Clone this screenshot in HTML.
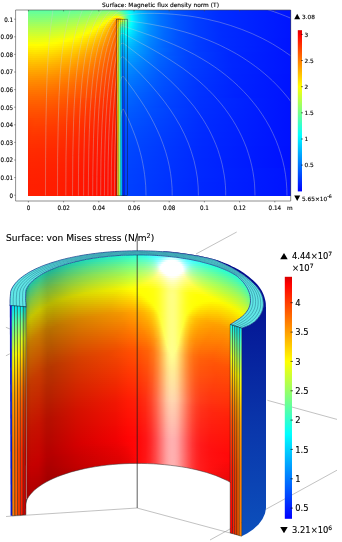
<!DOCTYPE html>
<html><head><meta charset="utf-8"><title>COMSOL plots</title><style>html,body{margin:0;padding:0;background:#fff}</style></head><body>
<svg width="342" height="542" viewBox="0 0 342 542" style="display:block">
<rect width="342" height="542" fill="#fff"/>
<defs><linearGradient id="f0"><stop offset="0" stop-color="#62ff9d"/><stop offset="0.05528" stop-color="#60ff9f"/><stop offset="0.1525" stop-color="#66ff99"/><stop offset="0.223" stop-color="#70ff8f"/><stop offset="0.3012" stop-color="#81ff7e"/><stop offset="0.3202" stop-color="#80ff7f"/><stop offset="0.3336" stop-color="#79ff86"/><stop offset="0.3469" stop-color="#65ff9a"/><stop offset="0.3584" stop-color="#4affb5"/><stop offset="0.3831" stop-color="#03fffc"/><stop offset="0.4175" stop-color="#00c1ff"/><stop offset="0.4537" stop-color="#0095ff"/><stop offset="0.5013" stop-color="#0071ff"/><stop offset="0.5604" stop-color="#0055ff"/><stop offset="0.6348" stop-color="#003eff"/><stop offset="0.7301" stop-color="#002cff"/><stop offset="0.9989" stop-color="#0015ff"/></linearGradient><linearGradient id="f1"><stop offset="0" stop-color="#6bff94"/><stop offset="0.08387" stop-color="#6bff94"/><stop offset="0.183" stop-color="#75ff8a"/><stop offset="0.244" stop-color="#83ff7c"/><stop offset="0.3126" stop-color="#9eff61"/><stop offset="0.3279" stop-color="#a0ff5f"/><stop offset="0.3393" stop-color="#97ff68"/><stop offset="0.3507" stop-color="#80ff7f"/><stop offset="0.387" stop-color="#04fffb"/><stop offset="0.3889" stop-color="#00feff"/><stop offset="0.4041" stop-color="#00dcff"/><stop offset="0.4194" stop-color="#00c2ff"/><stop offset="0.4556" stop-color="#0095ff"/><stop offset="0.5032" stop-color="#0071ff"/><stop offset="0.5623" stop-color="#0054ff"/><stop offset="0.6367" stop-color="#003eff"/><stop offset="0.7301" stop-color="#002cff"/><stop offset="0.9989" stop-color="#0015ff"/></linearGradient><linearGradient id="f2"><stop offset="0" stop-color="#75ff8a"/><stop offset="0.1067" stop-color="#77ff88"/><stop offset="0.2097" stop-color="#87ff78"/><stop offset="0.2707" stop-color="#9eff61"/><stop offset="0.3336" stop-color="#caff35"/><stop offset="0.3431" stop-color="#c1ff3e"/><stop offset="0.3507" stop-color="#adff52"/><stop offset="0.3584" stop-color="#8eff71"/><stop offset="0.3793" stop-color="#2bffd4"/><stop offset="0.3908" stop-color="#01fffe"/><stop offset="0.3927" stop-color="#00fbff"/><stop offset="0.406" stop-color="#00dcff"/><stop offset="0.4213" stop-color="#00c1ff"/><stop offset="0.4575" stop-color="#0095ff"/><stop offset="0.5051" stop-color="#0070ff"/><stop offset="0.5642" stop-color="#0054ff"/><stop offset="0.6386" stop-color="#003eff"/><stop offset="0.732" stop-color="#002cff"/><stop offset="0.9989" stop-color="#0015ff"/></linearGradient><linearGradient id="f3"><stop offset="0" stop-color="#7eff81"/><stop offset="0.04384" stop-color="#7dff82"/><stop offset="0.1239" stop-color="#83ff7c"/><stop offset="0.1811" stop-color="#8cff73"/><stop offset="0.2268" stop-color="#9aff65"/><stop offset="0.2592" stop-color="#a9ff56"/><stop offset="0.284" stop-color="#baff45"/><stop offset="0.3088" stop-color="#d6ff29"/><stop offset="0.3298" stop-color="#fdff02"/><stop offset="0.3374" stop-color="#fff600"/><stop offset="0.345" stop-color="#fffe00"/><stop offset="0.3507" stop-color="#ebff14"/><stop offset="0.3565" stop-color="#cdff32"/><stop offset="0.3698" stop-color="#6eff91"/><stop offset="0.3774" stop-color="#40ffbf"/><stop offset="0.3889" stop-color="#0efff1"/><stop offset="0.3927" stop-color="#01fffe"/><stop offset="0.3946" stop-color="#00fbff"/><stop offset="0.406" stop-color="#00dfff"/><stop offset="0.4213" stop-color="#00c3ff"/><stop offset="0.4575" stop-color="#0096ff"/><stop offset="0.5051" stop-color="#0071ff"/><stop offset="0.5642" stop-color="#0054ff"/><stop offset="0.6386" stop-color="#003eff"/><stop offset="0.732" stop-color="#002cff"/><stop offset="0.9989" stop-color="#0015ff"/></linearGradient><linearGradient id="f4"><stop offset="0" stop-color="#88ff77"/><stop offset="0.03812" stop-color="#86ff79"/><stop offset="0.1144" stop-color="#8cff73"/><stop offset="0.2135" stop-color="#a2ff5d"/><stop offset="0.2478" stop-color="#b2ff4d"/><stop offset="0.2745" stop-color="#c5ff3a"/><stop offset="0.2955" stop-color="#dcff23"/><stop offset="0.3126" stop-color="#fbff04"/><stop offset="0.3164" stop-color="#fffa00"/><stop offset="0.3241" stop-color="#ffe300"/><stop offset="0.3298" stop-color="#ffca00"/><stop offset="0.3355" stop-color="#ffa900"/><stop offset="0.3393" stop-color="#ffa200"/><stop offset="0.3431" stop-color="#ffa800"/><stop offset="0.3469" stop-color="#ffb500"/><stop offset="0.3526" stop-color="#ffd500"/><stop offset="0.3584" stop-color="#fffe00"/><stop offset="0.3622" stop-color="#d8ff27"/><stop offset="0.3679" stop-color="#91ff6e"/><stop offset="0.3736" stop-color="#60ff9f"/><stop offset="0.3831" stop-color="#2affd5"/><stop offset="0.3908" stop-color="#0bfff4"/><stop offset="0.3946" stop-color="#00fdff"/><stop offset="0.406" stop-color="#00e1ff"/><stop offset="0.4213" stop-color="#00c4ff"/><stop offset="0.4575" stop-color="#0096ff"/><stop offset="0.5051" stop-color="#0071ff"/><stop offset="0.5642" stop-color="#0055ff"/><stop offset="0.6386" stop-color="#003eff"/><stop offset="0.732" stop-color="#002cff"/><stop offset="0.9989" stop-color="#0015ff"/></linearGradient><linearGradient id="f5"><stop offset="0" stop-color="#92ff6d"/><stop offset="0.03241" stop-color="#90ff6f"/><stop offset="0.1048" stop-color="#95ff6a"/><stop offset="0.2002" stop-color="#aaff55"/><stop offset="0.2345" stop-color="#b9ff46"/><stop offset="0.2612" stop-color="#cbff34"/><stop offset="0.284" stop-color="#e2ff1d"/><stop offset="0.3012" stop-color="#fcff03"/><stop offset="0.3088" stop-color="#fff200"/><stop offset="0.3183" stop-color="#ffd800"/><stop offset="0.326" stop-color="#ffb800"/><stop offset="0.3336" stop-color="#ff8c00"/><stop offset="0.3355" stop-color="#ff8900"/><stop offset="0.3374" stop-color="#ff9100"/><stop offset="0.3488" stop-color="#fff400"/><stop offset="0.3507" stop-color="#fcff03"/><stop offset="0.3584" stop-color="#c2ff3d"/><stop offset="0.3774" stop-color="#45ffba"/><stop offset="0.387" stop-color="#18ffe7"/><stop offset="0.3946" stop-color="#00fdff"/><stop offset="0.406" stop-color="#00e1ff"/><stop offset="0.4213" stop-color="#00c4ff"/><stop offset="0.4575" stop-color="#0096ff"/><stop offset="0.5051" stop-color="#0071ff"/><stop offset="0.5642" stop-color="#0055ff"/><stop offset="0.6386" stop-color="#003eff"/><stop offset="0.732" stop-color="#002dff"/><stop offset="0.9989" stop-color="#0015ff"/></linearGradient><linearGradient id="f6"><stop offset="0" stop-color="#9bff64"/><stop offset="0.09531" stop-color="#9eff61"/><stop offset="0.1887" stop-color="#b2ff4d"/><stop offset="0.2211" stop-color="#bfff40"/><stop offset="0.2497" stop-color="#d1ff2e"/><stop offset="0.2726" stop-color="#e6ff19"/><stop offset="0.2917" stop-color="#fffe00"/><stop offset="0.305" stop-color="#ffe600"/><stop offset="0.3145" stop-color="#ffcd00"/><stop offset="0.3222" stop-color="#ffb300"/><stop offset="0.3336" stop-color="#ff8000"/><stop offset="0.3355" stop-color="#ff8200"/><stop offset="0.3374" stop-color="#ff9200"/><stop offset="0.345" stop-color="#fffa00"/><stop offset="0.3469" stop-color="#ecff13"/><stop offset="0.3526" stop-color="#adff52"/><stop offset="0.3565" stop-color="#8eff71"/><stop offset="0.3584" stop-color="#84ff7b"/><stop offset="0.366" stop-color="#73ff8c"/><stop offset="0.3793" stop-color="#32ffcd"/><stop offset="0.3927" stop-color="#00ffff"/><stop offset="0.406" stop-color="#00dfff"/><stop offset="0.4194" stop-color="#00c7ff"/><stop offset="0.4556" stop-color="#0098ff"/><stop offset="0.5032" stop-color="#0072ff"/><stop offset="0.5623" stop-color="#0055ff"/><stop offset="0.6367" stop-color="#003fff"/><stop offset="0.7301" stop-color="#002dff"/><stop offset="0.9989" stop-color="#0015ff"/></linearGradient><linearGradient id="f7"><stop offset="0" stop-color="#a5ff5a"/><stop offset="0.08578" stop-color="#a7ff58"/><stop offset="0.1754" stop-color="#b9ff46"/><stop offset="0.2364" stop-color="#d5ff2a"/><stop offset="0.2592" stop-color="#e8ff17"/><stop offset="0.2802" stop-color="#ffff00"/><stop offset="0.2955" stop-color="#ffe700"/><stop offset="0.3088" stop-color="#ffcb00"/><stop offset="0.3183" stop-color="#ffb000"/><stop offset="0.3336" stop-color="#ff7a00"/><stop offset="0.3355" stop-color="#ff8000"/><stop offset="0.3374" stop-color="#ff9400"/><stop offset="0.3431" stop-color="#fff300"/><stop offset="0.345" stop-color="#eaff15"/><stop offset="0.3488" stop-color="#acff53"/><stop offset="0.3507" stop-color="#93ff6c"/><stop offset="0.3546" stop-color="#6bff94"/><stop offset="0.3565" stop-color="#5effa1"/><stop offset="0.3603" stop-color="#53ffac"/><stop offset="0.366" stop-color="#57ffa8"/><stop offset="0.3908" stop-color="#00ffff"/><stop offset="0.4041" stop-color="#00e0ff"/><stop offset="0.4194" stop-color="#00c5ff"/><stop offset="0.4575" stop-color="#0096ff"/><stop offset="0.5051" stop-color="#0071ff"/><stop offset="0.5642" stop-color="#0055ff"/><stop offset="0.6386" stop-color="#003eff"/><stop offset="0.732" stop-color="#002dff"/><stop offset="0.9989" stop-color="#0015ff"/></linearGradient><linearGradient id="f8"><stop offset="0" stop-color="#aeff51"/><stop offset="0.07815" stop-color="#b0ff4f"/><stop offset="0.162" stop-color="#c0ff3f"/><stop offset="0.223" stop-color="#daff25"/><stop offset="0.2669" stop-color="#feff01"/><stop offset="0.284" stop-color="#ffeb00"/><stop offset="0.3012" stop-color="#ffce00"/><stop offset="0.3145" stop-color="#ffae00"/><stop offset="0.3317" stop-color="#ff7900"/><stop offset="0.3336" stop-color="#ff7600"/><stop offset="0.3355" stop-color="#ff7f00"/><stop offset="0.3374" stop-color="#ff9700"/><stop offset="0.3412" stop-color="#ffde00"/><stop offset="0.3431" stop-color="#fbff04"/><stop offset="0.3469" stop-color="#b2ff4d"/><stop offset="0.3507" stop-color="#74ff8b"/><stop offset="0.3546" stop-color="#48ffb7"/><stop offset="0.3565" stop-color="#3affc5"/><stop offset="0.3584" stop-color="#32ffcd"/><stop offset="0.3603" stop-color="#31ffce"/><stop offset="0.3641" stop-color="#3dffc2"/><stop offset="0.3679" stop-color="#3cffc3"/><stop offset="0.3851" stop-color="#07fff8"/><stop offset="0.3889" stop-color="#00fcff"/><stop offset="0.4041" stop-color="#00dcff"/><stop offset="0.4194" stop-color="#00c3ff"/><stop offset="0.4575" stop-color="#0095ff"/><stop offset="0.5051" stop-color="#0071ff"/><stop offset="0.5642" stop-color="#0055ff"/><stop offset="0.6386" stop-color="#003eff"/><stop offset="0.732" stop-color="#002dff"/><stop offset="0.9989" stop-color="#0015ff"/></linearGradient><linearGradient id="f9"><stop offset="0" stop-color="#b8ff47"/><stop offset="0.07053" stop-color="#b9ff46"/><stop offset="0.1506" stop-color="#c7ff38"/><stop offset="0.2097" stop-color="#deff21"/><stop offset="0.2554" stop-color="#fffe00"/><stop offset="0.2764" stop-color="#ffe800"/><stop offset="0.2955" stop-color="#ffcb00"/><stop offset="0.3107" stop-color="#ffad00"/><stop offset="0.3317" stop-color="#ff7500"/><stop offset="0.3336" stop-color="#ff7400"/><stop offset="0.3355" stop-color="#ff7e00"/><stop offset="0.3374" stop-color="#ff9700"/><stop offset="0.3412" stop-color="#ffe300"/><stop offset="0.3431" stop-color="#f3ff0c"/><stop offset="0.3469" stop-color="#a4ff5b"/><stop offset="0.3507" stop-color="#60ff9f"/><stop offset="0.3546" stop-color="#2effd1"/><stop offset="0.3565" stop-color="#1effe1"/><stop offset="0.3584" stop-color="#17ffe8"/><stop offset="0.3603" stop-color="#17ffe8"/><stop offset="0.3641" stop-color="#27ffd8"/><stop offset="0.3679" stop-color="#29ffd6"/><stop offset="0.3831" stop-color="#01fffe"/><stop offset="0.3851" stop-color="#00fcff"/><stop offset="0.4175" stop-color="#00c2ff"/><stop offset="0.4556" stop-color="#0096ff"/><stop offset="0.5032" stop-color="#0072ff"/><stop offset="0.5642" stop-color="#0055ff"/><stop offset="0.6386" stop-color="#003eff"/><stop offset="0.732" stop-color="#002dff"/><stop offset="0.9989" stop-color="#0015ff"/></linearGradient><linearGradient id="f10"><stop offset="0" stop-color="#c1ff3e"/><stop offset="0.061" stop-color="#c1ff3e"/><stop offset="0.1372" stop-color="#ceff31"/><stop offset="0.1944" stop-color="#e2ff1d"/><stop offset="0.2402" stop-color="#feff01"/><stop offset="0.265" stop-color="#ffe900"/><stop offset="0.2878" stop-color="#ffcc00"/><stop offset="0.3069" stop-color="#ffab00"/><stop offset="0.3317" stop-color="#ff7200"/><stop offset="0.3336" stop-color="#ff7200"/><stop offset="0.3355" stop-color="#ff7d00"/><stop offset="0.3374" stop-color="#ff9800"/><stop offset="0.3412" stop-color="#ffe800"/><stop offset="0.3431" stop-color="#ebff14"/><stop offset="0.3469" stop-color="#94ff6b"/><stop offset="0.3488" stop-color="#6dff92"/><stop offset="0.3526" stop-color="#2dffd2"/><stop offset="0.3546" stop-color="#16ffe9"/><stop offset="0.3565" stop-color="#06fff9"/><stop offset="0.3584" stop-color="#00fdff"/><stop offset="0.3603" stop-color="#00feff"/><stop offset="0.366" stop-color="#18ffe7"/><stop offset="0.3793" stop-color="#00feff"/><stop offset="0.4003" stop-color="#00d9ff"/><stop offset="0.4213" stop-color="#00baff"/><stop offset="0.467" stop-color="#008aff"/><stop offset="0.5128" stop-color="#006cff"/><stop offset="0.5681" stop-color="#0053ff"/><stop offset="0.6424" stop-color="#003dff"/><stop offset="0.7358" stop-color="#002cff"/><stop offset="0.9989" stop-color="#0015ff"/></linearGradient><linearGradient id="f11"><stop offset="0" stop-color="#cbff34"/><stop offset="0.05147" stop-color="#caff35"/><stop offset="0.1239" stop-color="#d5ff2a"/><stop offset="0.1792" stop-color="#e6ff19"/><stop offset="0.2249" stop-color="#ffff00"/><stop offset="0.2554" stop-color="#ffe700"/><stop offset="0.2821" stop-color="#ffc900"/><stop offset="0.305" stop-color="#ffa500"/><stop offset="0.3317" stop-color="#ff6f00"/><stop offset="0.3336" stop-color="#ff7000"/><stop offset="0.3355" stop-color="#ff7c00"/><stop offset="0.3374" stop-color="#ff9800"/><stop offset="0.3412" stop-color="#ffec00"/><stop offset="0.3431" stop-color="#e5ff1a"/><stop offset="0.3488" stop-color="#64ff9b"/><stop offset="0.3526" stop-color="#1fffe0"/><stop offset="0.3546" stop-color="#05fffa"/><stop offset="0.3565" stop-color="#00f4ff"/><stop offset="0.3584" stop-color="#00ecff"/><stop offset="0.3603" stop-color="#00edff"/><stop offset="0.3641" stop-color="#02fffd"/><stop offset="0.366" stop-color="#08fff7"/><stop offset="0.3679" stop-color="#08fff7"/><stop offset="0.3736" stop-color="#00fdff"/><stop offset="0.4213" stop-color="#00b6ff"/><stop offset="0.4461" stop-color="#009bff"/><stop offset="0.4727" stop-color="#0085ff"/><stop offset="0.5185" stop-color="#0068ff"/><stop offset="0.5738" stop-color="#0051ff"/><stop offset="0.6481" stop-color="#003cff"/><stop offset="0.7396" stop-color="#002cff"/><stop offset="0.9989" stop-color="#0015ff"/></linearGradient><linearGradient id="f12"><stop offset="0" stop-color="#d4ff2b"/><stop offset="0.04194" stop-color="#d2ff2d"/><stop offset="0.1106" stop-color="#dbff24"/><stop offset="0.162" stop-color="#eaff15"/><stop offset="0.2097" stop-color="#fffe00"/><stop offset="0.244" stop-color="#ffe700"/><stop offset="0.2745" stop-color="#ffc900"/><stop offset="0.3012" stop-color="#ffa400"/><stop offset="0.3317" stop-color="#ff6c00"/><stop offset="0.3336" stop-color="#ff6d00"/><stop offset="0.3355" stop-color="#ff7a00"/><stop offset="0.3374" stop-color="#ff9700"/><stop offset="0.3412" stop-color="#ffec00"/><stop offset="0.3431" stop-color="#e4ff1b"/><stop offset="0.3469" stop-color="#87ff78"/><stop offset="0.3507" stop-color="#34ffcb"/><stop offset="0.3526" stop-color="#12ffed"/><stop offset="0.3546" stop-color="#00f6ff"/><stop offset="0.3565" stop-color="#00e6ff"/><stop offset="0.3584" stop-color="#00deff"/><stop offset="0.3603" stop-color="#00dfff"/><stop offset="0.366" stop-color="#00faff"/><stop offset="0.3679" stop-color="#00fbff"/><stop offset="0.4194" stop-color="#00b5ff"/><stop offset="0.467" stop-color="#0088ff"/><stop offset="0.5147" stop-color="#006aff"/><stop offset="0.5719" stop-color="#0051ff"/><stop offset="0.6462" stop-color="#003cff"/><stop offset="0.7377" stop-color="#002cff"/><stop offset="0.9989" stop-color="#0015ff"/></linearGradient><linearGradient id="f13"><stop offset="0" stop-color="#ddff22"/><stop offset="0.0305" stop-color="#dbff24"/><stop offset="0.09531" stop-color="#e2ff1d"/><stop offset="0.143" stop-color="#edff12"/><stop offset="0.1906" stop-color="#fffe00"/><stop offset="0.2326" stop-color="#ffe600"/><stop offset="0.2669" stop-color="#ffc800"/><stop offset="0.2974" stop-color="#ffa200"/><stop offset="0.3317" stop-color="#ff6a00"/><stop offset="0.3336" stop-color="#ff6b00"/><stop offset="0.3355" stop-color="#ff7900"/><stop offset="0.3374" stop-color="#ff9700"/><stop offset="0.3412" stop-color="#ffef00"/><stop offset="0.3431" stop-color="#deff21"/><stop offset="0.3469" stop-color="#7eff81"/><stop offset="0.3507" stop-color="#28ffd7"/><stop offset="0.3526" stop-color="#05fffa"/><stop offset="0.3546" stop-color="#00eaff"/><stop offset="0.3565" stop-color="#00d8ff"/><stop offset="0.3584" stop-color="#00d0ff"/><stop offset="0.3603" stop-color="#00d1ff"/><stop offset="0.366" stop-color="#00efff"/><stop offset="0.3679" stop-color="#00f0ff"/><stop offset="0.4175" stop-color="#00b3ff"/><stop offset="0.4613" stop-color="#008aff"/><stop offset="0.5147" stop-color="#0069ff"/><stop offset="0.5776" stop-color="#004fff"/><stop offset="0.6519" stop-color="#003bff"/><stop offset="0.7434" stop-color="#002bff"/><stop offset="0.9989" stop-color="#0015ff"/></linearGradient><linearGradient id="f14"><stop offset="0" stop-color="#e6ff19"/><stop offset="0.01334" stop-color="#e3ff1c"/><stop offset="0.07244" stop-color="#e8ff17"/><stop offset="0.1658" stop-color="#ffff00"/><stop offset="0.1868" stop-color="#fff700"/><stop offset="0.2268" stop-color="#ffe000"/><stop offset="0.2631" stop-color="#ffc300"/><stop offset="0.2936" stop-color="#ffa000"/><stop offset="0.3317" stop-color="#ff6800"/><stop offset="0.3336" stop-color="#ff6a00"/><stop offset="0.3355" stop-color="#ff7700"/><stop offset="0.3374" stop-color="#ff9600"/><stop offset="0.3412" stop-color="#fff000"/><stop offset="0.3431" stop-color="#ddff22"/><stop offset="0.3488" stop-color="#4effb1"/><stop offset="0.3507" stop-color="#24ffdb"/><stop offset="0.3526" stop-color="#00fdff"/><stop offset="0.3546" stop-color="#00e2ff"/><stop offset="0.3565" stop-color="#00ceff"/><stop offset="0.3584" stop-color="#00c5ff"/><stop offset="0.3603" stop-color="#00c6ff"/><stop offset="0.3641" stop-color="#00ddff"/><stop offset="0.366" stop-color="#00e5ff"/><stop offset="0.3679" stop-color="#00e6ff"/><stop offset="0.4194" stop-color="#00adff"/><stop offset="0.4594" stop-color="#008aff"/><stop offset="0.5071" stop-color="#006cff"/><stop offset="0.5623" stop-color="#0054ff"/><stop offset="0.6386" stop-color="#003eff"/><stop offset="0.732" stop-color="#002dff"/><stop offset="0.9989" stop-color="#0014ff"/></linearGradient><linearGradient id="f15"><stop offset="0" stop-color="#efff10"/><stop offset="0.009531" stop-color="#ecff13"/><stop offset="0.06291" stop-color="#efff10"/><stop offset="0.1392" stop-color="#ffff00"/><stop offset="0.1887" stop-color="#ffed00"/><stop offset="0.2287" stop-color="#ffd600"/><stop offset="0.2631" stop-color="#ffba00"/><stop offset="0.2936" stop-color="#ff9900"/><stop offset="0.3317" stop-color="#ff6500"/><stop offset="0.3336" stop-color="#ff6700"/><stop offset="0.3355" stop-color="#ff7500"/><stop offset="0.3374" stop-color="#ff9400"/><stop offset="0.3412" stop-color="#ffee00"/><stop offset="0.3431" stop-color="#dfff20"/><stop offset="0.3488" stop-color="#49ffb6"/><stop offset="0.3507" stop-color="#1cffe3"/><stop offset="0.3526" stop-color="#00f5ff"/><stop offset="0.3546" stop-color="#00d9ff"/><stop offset="0.3565" stop-color="#00c5ff"/><stop offset="0.3584" stop-color="#00baff"/><stop offset="0.3603" stop-color="#00bbff"/><stop offset="0.3641" stop-color="#00d4ff"/><stop offset="0.366" stop-color="#00dcff"/><stop offset="0.3679" stop-color="#00ddff"/><stop offset="0.4213" stop-color="#00a7ff"/><stop offset="0.4632" stop-color="#0085ff"/><stop offset="0.5109" stop-color="#0069ff"/><stop offset="0.5661" stop-color="#0052ff"/><stop offset="0.6424" stop-color="#003dff"/><stop offset="0.7358" stop-color="#002cff"/><stop offset="0.9989" stop-color="#0014ff"/></linearGradient><linearGradient id="f16"><stop offset="0" stop-color="#f8ff07"/><stop offset="0.03812" stop-color="#f6ff09"/><stop offset="0.1048" stop-color="#ffff00"/><stop offset="0.1887" stop-color="#ffe400"/><stop offset="0.2268" stop-color="#ffcf00"/><stop offset="0.2612" stop-color="#ffb400"/><stop offset="0.2917" stop-color="#ff9400"/><stop offset="0.3317" stop-color="#ff6300"/><stop offset="0.3336" stop-color="#ff6500"/><stop offset="0.3355" stop-color="#ff7400"/><stop offset="0.3374" stop-color="#ff9300"/><stop offset="0.3412" stop-color="#fff000"/><stop offset="0.3431" stop-color="#dbff24"/><stop offset="0.3469" stop-color="#75ff8a"/><stop offset="0.3507" stop-color="#17ffe8"/><stop offset="0.3526" stop-color="#00f0ff"/><stop offset="0.3546" stop-color="#00d2ff"/><stop offset="0.3565" stop-color="#00bcff"/><stop offset="0.3584" stop-color="#00b0ff"/><stop offset="0.3603" stop-color="#00b0ff"/><stop offset="0.3641" stop-color="#00caff"/><stop offset="0.366" stop-color="#00d3ff"/><stop offset="0.3679" stop-color="#00d5ff"/><stop offset="0.4232" stop-color="#00a2ff"/><stop offset="0.4651" stop-color="#0082ff"/><stop offset="0.5128" stop-color="#0067ff"/><stop offset="0.5661" stop-color="#0052ff"/><stop offset="0.6424" stop-color="#003cff"/><stop offset="0.7358" stop-color="#002cff"/><stop offset="0.9989" stop-color="#0014ff"/></linearGradient><linearGradient id="f17"><stop offset="0" stop-color="#fffe00"/><stop offset="0.04575" stop-color="#ffff00"/><stop offset="0.09722" stop-color="#fff800"/><stop offset="0.1468" stop-color="#ffec00"/><stop offset="0.1906" stop-color="#ffdb00"/><stop offset="0.2268" stop-color="#ffc600"/><stop offset="0.2612" stop-color="#ffac00"/><stop offset="0.2917" stop-color="#ff8e00"/><stop offset="0.3317" stop-color="#ff6000"/><stop offset="0.3336" stop-color="#ff6300"/><stop offset="0.3355" stop-color="#ff7200"/><stop offset="0.3374" stop-color="#ff9200"/><stop offset="0.3412" stop-color="#ffef00"/><stop offset="0.3431" stop-color="#dcff23"/><stop offset="0.3469" stop-color="#75ff8a"/><stop offset="0.3507" stop-color="#15ffea"/><stop offset="0.3526" stop-color="#00edff"/><stop offset="0.3546" stop-color="#00cdff"/><stop offset="0.3565" stop-color="#00b5ff"/><stop offset="0.3584" stop-color="#00a8ff"/><stop offset="0.3603" stop-color="#00a8ff"/><stop offset="0.3641" stop-color="#00c2ff"/><stop offset="0.366" stop-color="#00ccff"/><stop offset="0.3679" stop-color="#00ceff"/><stop offset="0.4251" stop-color="#009dff"/><stop offset="0.4651" stop-color="#0080ff"/><stop offset="0.5128" stop-color="#0066ff"/><stop offset="0.5661" stop-color="#0051ff"/><stop offset="0.6424" stop-color="#003cff"/><stop offset="0.7358" stop-color="#002cff"/><stop offset="0.9989" stop-color="#0014ff"/></linearGradient><linearGradient id="f18"><stop offset="0" stop-color="#fff600"/><stop offset="0.0305" stop-color="#fff800"/><stop offset="0.0934" stop-color="#fff100"/><stop offset="0.143" stop-color="#ffe500"/><stop offset="0.1868" stop-color="#ffd400"/><stop offset="0.223" stop-color="#ffc100"/><stop offset="0.2573" stop-color="#ffa800"/><stop offset="0.3317" stop-color="#ff5e00"/><stop offset="0.3336" stop-color="#ff6000"/><stop offset="0.3355" stop-color="#ff6f00"/><stop offset="0.3374" stop-color="#ff8f00"/><stop offset="0.3412" stop-color="#ffed00"/><stop offset="0.3431" stop-color="#ddff22"/><stop offset="0.3469" stop-color="#72ff8d"/><stop offset="0.3507" stop-color="#0ffff0"/><stop offset="0.3526" stop-color="#00e6ff"/><stop offset="0.3546" stop-color="#00c6ff"/><stop offset="0.3565" stop-color="#00aeff"/><stop offset="0.3584" stop-color="#00a0ff"/><stop offset="0.3603" stop-color="#009fff"/><stop offset="0.366" stop-color="#00c4ff"/><stop offset="0.3679" stop-color="#00c7ff"/><stop offset="0.427" stop-color="#0098ff"/><stop offset="0.4689" stop-color="#007cff"/><stop offset="0.5166" stop-color="#0063ff"/><stop offset="0.5681" stop-color="#0050ff"/><stop offset="0.6443" stop-color="#003cff"/><stop offset="0.7377" stop-color="#002bff"/><stop offset="0.9989" stop-color="#0014ff"/></linearGradient><linearGradient id="f19"><stop offset="0" stop-color="#ffee00"/><stop offset="0.02669" stop-color="#fff100"/><stop offset="0.08959" stop-color="#ffea00"/><stop offset="0.1392" stop-color="#ffde00"/><stop offset="0.183" stop-color="#ffce00"/><stop offset="0.2211" stop-color="#ffbb00"/><stop offset="0.2554" stop-color="#ffa300"/><stop offset="0.3317" stop-color="#ff5b00"/><stop offset="0.3336" stop-color="#ff5f00"/><stop offset="0.3355" stop-color="#ff6e00"/><stop offset="0.3374" stop-color="#ff8f00"/><stop offset="0.3412" stop-color="#ffee00"/><stop offset="0.3431" stop-color="#dbff24"/><stop offset="0.3469" stop-color="#72ff8d"/><stop offset="0.3507" stop-color="#0efff1"/><stop offset="0.3526" stop-color="#00e5ff"/><stop offset="0.3546" stop-color="#00c3ff"/><stop offset="0.3565" stop-color="#00a8ff"/><stop offset="0.3584" stop-color="#0099ff"/><stop offset="0.3603" stop-color="#0098ff"/><stop offset="0.366" stop-color="#00bdff"/><stop offset="0.3679" stop-color="#00c0ff"/><stop offset="0.4689" stop-color="#007aff"/><stop offset="0.5661" stop-color="#0050ff"/><stop offset="0.6424" stop-color="#003cff"/><stop offset="0.7358" stop-color="#002cff"/><stop offset="0.9989" stop-color="#0014ff"/></linearGradient><linearGradient id="f20"><stop offset="0" stop-color="#ffe700"/><stop offset="0.02478" stop-color="#ffe900"/><stop offset="0.08769" stop-color="#ffe200"/><stop offset="0.1811" stop-color="#ffc700"/><stop offset="0.2535" stop-color="#ff9e00"/><stop offset="0.3317" stop-color="#ff5900"/><stop offset="0.3336" stop-color="#ff5c00"/><stop offset="0.3355" stop-color="#ff6b00"/><stop offset="0.3374" stop-color="#ff8c00"/><stop offset="0.3412" stop-color="#ffeb00"/><stop offset="0.3431" stop-color="#deff21"/><stop offset="0.3507" stop-color="#0dfff2"/><stop offset="0.3526" stop-color="#00e2ff"/><stop offset="0.3546" stop-color="#00bfff"/><stop offset="0.3565" stop-color="#00a4ff"/><stop offset="0.3584" stop-color="#0093ff"/><stop offset="0.3603" stop-color="#0091ff"/><stop offset="0.366" stop-color="#00b7ff"/><stop offset="0.3679" stop-color="#00baff"/><stop offset="0.4689" stop-color="#0078ff"/><stop offset="0.5642" stop-color="#0050ff"/><stop offset="0.6424" stop-color="#003bff"/><stop offset="0.7358" stop-color="#002cff"/><stop offset="0.9989" stop-color="#0014ff"/></linearGradient><linearGradient id="f21"><stop offset="0" stop-color="#ffdf00"/><stop offset="0.02478" stop-color="#ffe200"/><stop offset="0.08578" stop-color="#ffdb00"/><stop offset="0.1773" stop-color="#ffc200"/><stop offset="0.2497" stop-color="#ff9a00"/><stop offset="0.3317" stop-color="#ff5600"/><stop offset="0.3336" stop-color="#ff5a00"/><stop offset="0.3355" stop-color="#ff6900"/><stop offset="0.3374" stop-color="#ff8a00"/><stop offset="0.3412" stop-color="#ffeb00"/><stop offset="0.3431" stop-color="#deff21"/><stop offset="0.3469" stop-color="#70ff8f"/><stop offset="0.3507" stop-color="#09fff6"/><stop offset="0.3526" stop-color="#00deff"/><stop offset="0.3546" stop-color="#00bbff"/><stop offset="0.3565" stop-color="#009eff"/><stop offset="0.3584" stop-color="#008cff"/><stop offset="0.3603" stop-color="#008aff"/><stop offset="0.366" stop-color="#00b1ff"/><stop offset="0.3679" stop-color="#00b4ff"/><stop offset="0.4861" stop-color="#006eff"/><stop offset="0.5414" stop-color="#0057ff"/><stop offset="0.6043" stop-color="#0044ff"/><stop offset="0.7644" stop-color="#0028ff"/><stop offset="0.9989" stop-color="#0014ff"/></linearGradient><linearGradient id="f22"><stop offset="0" stop-color="#ffd800"/><stop offset="0.02287" stop-color="#ffda00"/><stop offset="0.08387" stop-color="#ffd400"/><stop offset="0.1754" stop-color="#ffbb00"/><stop offset="0.2478" stop-color="#ff9500"/><stop offset="0.3317" stop-color="#ff5400"/><stop offset="0.3336" stop-color="#ff5800"/><stop offset="0.3355" stop-color="#ff6800"/><stop offset="0.3374" stop-color="#ff8900"/><stop offset="0.3412" stop-color="#ffea00"/><stop offset="0.3431" stop-color="#deff21"/><stop offset="0.3507" stop-color="#0afff5"/><stop offset="0.3526" stop-color="#00deff"/><stop offset="0.3546" stop-color="#00b9ff"/><stop offset="0.3565" stop-color="#009bff"/><stop offset="0.3584" stop-color="#0087ff"/><stop offset="0.3603" stop-color="#0084ff"/><stop offset="0.366" stop-color="#00abff"/><stop offset="0.3679" stop-color="#00aeff"/><stop offset="0.4899" stop-color="#006aff"/><stop offset="0.5452" stop-color="#0055ff"/><stop offset="0.6081" stop-color="#0043ff"/><stop offset="0.7663" stop-color="#0027ff"/><stop offset="0.9989" stop-color="#0014ff"/></linearGradient><linearGradient id="f23"><stop offset="0" stop-color="#ffd100"/><stop offset="0.01906" stop-color="#ffd400"/><stop offset="0.08006" stop-color="#ffce00"/><stop offset="0.1716" stop-color="#ffb600"/><stop offset="0.2459" stop-color="#ff9100"/><stop offset="0.3317" stop-color="#ff5200"/><stop offset="0.3336" stop-color="#ff5500"/><stop offset="0.3355" stop-color="#ff6500"/><stop offset="0.3374" stop-color="#ff8600"/><stop offset="0.3412" stop-color="#ffe700"/><stop offset="0.3431" stop-color="#e2ff1d"/><stop offset="0.3507" stop-color="#08fff7"/><stop offset="0.3526" stop-color="#00dcff"/><stop offset="0.3546" stop-color="#00b6ff"/><stop offset="0.3565" stop-color="#0097ff"/><stop offset="0.3584" stop-color="#0083ff"/><stop offset="0.3603" stop-color="#007eff"/><stop offset="0.366" stop-color="#00a6ff"/><stop offset="0.3679" stop-color="#00a9ff"/><stop offset="0.4918" stop-color="#0068ff"/><stop offset="0.61" stop-color="#0042ff"/><stop offset="0.7682" stop-color="#0027ff"/><stop offset="0.9989" stop-color="#0014ff"/></linearGradient><linearGradient id="f24"><stop offset="0" stop-color="#ffca00"/><stop offset="0.01716" stop-color="#ffcd00"/><stop offset="0.07815" stop-color="#ffc700"/><stop offset="0.1697" stop-color="#ffb000"/><stop offset="0.244" stop-color="#ff8c00"/><stop offset="0.3317" stop-color="#ff5000"/><stop offset="0.3336" stop-color="#ff5300"/><stop offset="0.3355" stop-color="#ff6300"/><stop offset="0.3374" stop-color="#ff8500"/><stop offset="0.3412" stop-color="#ffe700"/><stop offset="0.3431" stop-color="#e1ff1e"/><stop offset="0.3507" stop-color="#07fff8"/><stop offset="0.3526" stop-color="#00dbff"/><stop offset="0.3546" stop-color="#00b4ff"/><stop offset="0.3565" stop-color="#0093ff"/><stop offset="0.3584" stop-color="#007dff"/><stop offset="0.3603" stop-color="#0078ff"/><stop offset="0.366" stop-color="#00a1ff"/><stop offset="0.3698" stop-color="#00a4ff"/><stop offset="0.4937" stop-color="#0066ff"/><stop offset="0.6138" stop-color="#0040ff"/><stop offset="0.7701" stop-color="#0027ff"/><stop offset="0.9989" stop-color="#0014ff"/></linearGradient><linearGradient id="f25"><stop offset="0" stop-color="#ffc300"/><stop offset="0.01716" stop-color="#ffc600"/><stop offset="0.07815" stop-color="#ffc100"/><stop offset="0.1677" stop-color="#ffaa00"/><stop offset="0.2421" stop-color="#ff8800"/><stop offset="0.3317" stop-color="#ff4d00"/><stop offset="0.3336" stop-color="#ff5100"/><stop offset="0.3355" stop-color="#ff6100"/><stop offset="0.3374" stop-color="#ff8300"/><stop offset="0.3412" stop-color="#ffe600"/><stop offset="0.3431" stop-color="#e2ff1d"/><stop offset="0.3507" stop-color="#09fff6"/><stop offset="0.3526" stop-color="#00dbff"/><stop offset="0.3546" stop-color="#00b3ff"/><stop offset="0.3565" stop-color="#0091ff"/><stop offset="0.3584" stop-color="#007aff"/><stop offset="0.3603" stop-color="#0074ff"/><stop offset="0.366" stop-color="#009cff"/><stop offset="0.3698" stop-color="#00a0ff"/><stop offset="0.4956" stop-color="#0063ff"/><stop offset="0.6157" stop-color="#003fff"/><stop offset="0.772" stop-color="#0026ff"/><stop offset="0.9989" stop-color="#0014ff"/></linearGradient><linearGradient id="f26"><stop offset="0" stop-color="#ffbc00"/><stop offset="0.01525" stop-color="#ffbf00"/><stop offset="0.07625" stop-color="#ffba00"/><stop offset="0.1658" stop-color="#ffa500"/><stop offset="0.2402" stop-color="#ff8400"/><stop offset="0.3317" stop-color="#ff4b00"/><stop offset="0.3336" stop-color="#ff4f00"/><stop offset="0.3355" stop-color="#ff5f00"/><stop offset="0.3374" stop-color="#ff8100"/><stop offset="0.3412" stop-color="#ffe200"/><stop offset="0.3431" stop-color="#e6ff19"/><stop offset="0.3507" stop-color="#06fff9"/><stop offset="0.3526" stop-color="#00d8ff"/><stop offset="0.3565" stop-color="#008eff"/><stop offset="0.3584" stop-color="#0076ff"/><stop offset="0.3603" stop-color="#006fff"/><stop offset="0.366" stop-color="#0098ff"/><stop offset="0.3698" stop-color="#009bff"/><stop offset="0.4975" stop-color="#0061ff"/><stop offset="0.6195" stop-color="#003eff"/><stop offset="0.7739" stop-color="#0026ff"/><stop offset="0.9989" stop-color="#0014ff"/></linearGradient><linearGradient id="f27"><stop offset="0" stop-color="#ffb600"/><stop offset="0.01144" stop-color="#ffb900"/><stop offset="0.07244" stop-color="#ffb400"/><stop offset="0.162" stop-color="#ffa000"/><stop offset="0.2383" stop-color="#ff8000"/><stop offset="0.3317" stop-color="#ff4900"/><stop offset="0.3336" stop-color="#ff4d00"/><stop offset="0.3355" stop-color="#ff5e00"/><stop offset="0.3374" stop-color="#ff8000"/><stop offset="0.3412" stop-color="#ffe300"/><stop offset="0.3431" stop-color="#e5ff1a"/><stop offset="0.3507" stop-color="#08fff7"/><stop offset="0.3526" stop-color="#00d9ff"/><stop offset="0.3565" stop-color="#008cff"/><stop offset="0.3584" stop-color="#0072ff"/><stop offset="0.3603" stop-color="#006aff"/><stop offset="0.3622" stop-color="#0075ff"/><stop offset="0.366" stop-color="#0093ff"/><stop offset="0.3698" stop-color="#0097ff"/><stop offset="0.4994" stop-color="#005fff"/><stop offset="0.6214" stop-color="#003dff"/><stop offset="0.7758" stop-color="#0026ff"/><stop offset="0.9989" stop-color="#0014ff"/></linearGradient><linearGradient id="f28"><stop offset="0" stop-color="#ffb000"/><stop offset="0.009531" stop-color="#ffb300"/><stop offset="0.07053" stop-color="#ffaf00"/><stop offset="0.1601" stop-color="#ff9b00"/><stop offset="0.2364" stop-color="#ff7c00"/><stop offset="0.3317" stop-color="#ff4700"/><stop offset="0.3336" stop-color="#ff4b00"/><stop offset="0.3355" stop-color="#ff5b00"/><stop offset="0.3374" stop-color="#ff7d00"/><stop offset="0.3412" stop-color="#ffe000"/><stop offset="0.3431" stop-color="#e7ff18"/><stop offset="0.3507" stop-color="#09fff6"/><stop offset="0.3526" stop-color="#00d9ff"/><stop offset="0.3565" stop-color="#008aff"/><stop offset="0.3584" stop-color="#0070ff"/><stop offset="0.3603" stop-color="#0067ff"/><stop offset="0.3622" stop-color="#0071ff"/><stop offset="0.3641" stop-color="#0083ff"/><stop offset="0.366" stop-color="#0090ff"/><stop offset="0.3698" stop-color="#0093ff"/><stop offset="0.5013" stop-color="#005dff"/><stop offset="0.6233" stop-color="#003dff"/><stop offset="0.7758" stop-color="#0026ff"/><stop offset="0.9989" stop-color="#0014ff"/></linearGradient><linearGradient id="f29"><stop offset="0" stop-color="#ffa900"/><stop offset="0.009531" stop-color="#ffad00"/><stop offset="0.06862" stop-color="#ffa900"/><stop offset="0.1582" stop-color="#ff9600"/><stop offset="0.2345" stop-color="#ff7900"/><stop offset="0.3317" stop-color="#ff4500"/><stop offset="0.3336" stop-color="#ff4900"/><stop offset="0.3355" stop-color="#ff5900"/><stop offset="0.3374" stop-color="#ff7b00"/><stop offset="0.3412" stop-color="#ffde00"/><stop offset="0.3431" stop-color="#e9ff16"/><stop offset="0.3507" stop-color="#06fff9"/><stop offset="0.3526" stop-color="#00d7ff"/><stop offset="0.3565" stop-color="#0088ff"/><stop offset="0.3584" stop-color="#006cff"/><stop offset="0.3603" stop-color="#0062ff"/><stop offset="0.3622" stop-color="#006cff"/><stop offset="0.3641" stop-color="#007fff"/><stop offset="0.366" stop-color="#008cff"/><stop offset="0.3698" stop-color="#0090ff"/><stop offset="0.5032" stop-color="#005bff"/><stop offset="0.6271" stop-color="#003bff"/><stop offset="0.7796" stop-color="#0025ff"/><stop offset="0.9989" stop-color="#0014ff"/></linearGradient><linearGradient id="f30"><stop offset="0" stop-color="#ffa400"/><stop offset="0.009531" stop-color="#ffa700"/><stop offset="0.06672" stop-color="#ffa300"/><stop offset="0.1563" stop-color="#ff9100"/><stop offset="0.2326" stop-color="#ff7500"/><stop offset="0.3317" stop-color="#ff4300"/><stop offset="0.3336" stop-color="#ff4700"/><stop offset="0.3355" stop-color="#ff5800"/><stop offset="0.3374" stop-color="#ff7a00"/><stop offset="0.3412" stop-color="#ffde00"/><stop offset="0.3431" stop-color="#e9ff16"/><stop offset="0.3507" stop-color="#09fff6"/><stop offset="0.3526" stop-color="#00d9ff"/><stop offset="0.3565" stop-color="#0087ff"/><stop offset="0.3584" stop-color="#006aff"/><stop offset="0.3603" stop-color="#005eff"/><stop offset="0.3622" stop-color="#0068ff"/><stop offset="0.366" stop-color="#0088ff"/><stop offset="0.3698" stop-color="#008cff"/><stop offset="0.5051" stop-color="#0059ff"/><stop offset="0.6291" stop-color="#003bff"/><stop offset="0.7796" stop-color="#0025ff"/><stop offset="0.9989" stop-color="#0014ff"/></linearGradient><linearGradient id="f31"><stop offset="0" stop-color="#ff9e00"/><stop offset="0.009531" stop-color="#ffa100"/><stop offset="0.06672" stop-color="#ff9e00"/><stop offset="0.1563" stop-color="#ff8c00"/><stop offset="0.2326" stop-color="#ff7100"/><stop offset="0.3317" stop-color="#ff4100"/><stop offset="0.3336" stop-color="#ff4500"/><stop offset="0.3355" stop-color="#ff5500"/><stop offset="0.3374" stop-color="#ff7800"/><stop offset="0.3412" stop-color="#ffdb00"/><stop offset="0.3431" stop-color="#edff12"/><stop offset="0.3507" stop-color="#09fff6"/><stop offset="0.3526" stop-color="#00d9ff"/><stop offset="0.3565" stop-color="#0086ff"/><stop offset="0.3584" stop-color="#0067ff"/><stop offset="0.3603" stop-color="#005bff"/><stop offset="0.3622" stop-color="#0065ff"/><stop offset="0.3641" stop-color="#0078ff"/><stop offset="0.366" stop-color="#0085ff"/><stop offset="0.3698" stop-color="#0089ff"/><stop offset="0.5051" stop-color="#0058ff"/><stop offset="0.631" stop-color="#003aff"/><stop offset="0.7815" stop-color="#0025ff"/><stop offset="0.9989" stop-color="#0014ff"/></linearGradient><linearGradient id="f32"><stop offset="0" stop-color="#ff9800"/><stop offset="0.009531" stop-color="#ff9c00"/><stop offset="0.06481" stop-color="#ff9800"/><stop offset="0.1544" stop-color="#ff8700"/><stop offset="0.2307" stop-color="#ff6d00"/><stop offset="0.3317" stop-color="#ff3f00"/><stop offset="0.3336" stop-color="#ff4300"/><stop offset="0.3355" stop-color="#ff5400"/><stop offset="0.3374" stop-color="#ff7600"/><stop offset="0.3412" stop-color="#ffdb00"/><stop offset="0.3431" stop-color="#edff12"/><stop offset="0.3507" stop-color="#09fff6"/><stop offset="0.3526" stop-color="#00d8ff"/><stop offset="0.3565" stop-color="#0084ff"/><stop offset="0.3584" stop-color="#0065ff"/><stop offset="0.3603" stop-color="#0057ff"/><stop offset="0.3622" stop-color="#0060ff"/><stop offset="0.366" stop-color="#0081ff"/><stop offset="0.3698" stop-color="#0085ff"/><stop offset="0.5071" stop-color="#0056ff"/><stop offset="0.6329" stop-color="#0039ff"/><stop offset="0.7815" stop-color="#0024ff"/><stop offset="0.9989" stop-color="#0013ff"/></linearGradient><linearGradient id="f33"><stop offset="0" stop-color="#ff9300"/><stop offset="0.007625" stop-color="#ff9600"/><stop offset="0.06291" stop-color="#ff9300"/><stop offset="0.1525" stop-color="#ff8300"/><stop offset="0.2287" stop-color="#ff6a00"/><stop offset="0.3317" stop-color="#ff3d00"/><stop offset="0.3336" stop-color="#ff4100"/><stop offset="0.3355" stop-color="#ff5200"/><stop offset="0.3374" stop-color="#ff7500"/><stop offset="0.3412" stop-color="#ffd900"/><stop offset="0.3431" stop-color="#eeff11"/><stop offset="0.3507" stop-color="#0cfff3"/><stop offset="0.3526" stop-color="#00daff"/><stop offset="0.3565" stop-color="#0084ff"/><stop offset="0.3584" stop-color="#0063ff"/><stop offset="0.3603" stop-color="#0055ff"/><stop offset="0.3622" stop-color="#005dff"/><stop offset="0.366" stop-color="#007eff"/><stop offset="0.3698" stop-color="#0082ff"/><stop offset="0.509" stop-color="#0055ff"/><stop offset="0.6348" stop-color="#0038ff"/><stop offset="0.7835" stop-color="#0024ff"/><stop offset="0.9989" stop-color="#0013ff"/></linearGradient><linearGradient id="f34"><stop offset="0" stop-color="#ff8e00"/><stop offset="0.007625" stop-color="#ff9100"/><stop offset="0.061" stop-color="#ff8e00"/><stop offset="0.1506" stop-color="#ff7f00"/><stop offset="0.2268" stop-color="#ff6700"/><stop offset="0.3317" stop-color="#ff3b00"/><stop offset="0.3336" stop-color="#ff3f00"/><stop offset="0.3355" stop-color="#ff5000"/><stop offset="0.3374" stop-color="#ff7200"/><stop offset="0.3412" stop-color="#ffd600"/><stop offset="0.3431" stop-color="#f2ff0d"/><stop offset="0.3507" stop-color="#0afff5"/><stop offset="0.3526" stop-color="#00d9ff"/><stop offset="0.3565" stop-color="#0083ff"/><stop offset="0.3584" stop-color="#0061ff"/><stop offset="0.3603" stop-color="#0052ff"/><stop offset="0.3622" stop-color="#005aff"/><stop offset="0.366" stop-color="#007bff"/><stop offset="0.3698" stop-color="#007fff"/><stop offset="0.5109" stop-color="#0053ff"/><stop offset="0.6367" stop-color="#0037ff"/><stop offset="0.7835" stop-color="#0024ff"/><stop offset="0.9989" stop-color="#0013ff"/></linearGradient><linearGradient id="f35"><stop offset="0" stop-color="#ff8900"/><stop offset="0.007625" stop-color="#ff8c00"/><stop offset="0.05909" stop-color="#ff8900"/><stop offset="0.1487" stop-color="#ff7b00"/><stop offset="0.2249" stop-color="#ff6400"/><stop offset="0.3317" stop-color="#ff3900"/><stop offset="0.3336" stop-color="#ff3e00"/><stop offset="0.3355" stop-color="#ff4f00"/><stop offset="0.3374" stop-color="#ff7200"/><stop offset="0.3412" stop-color="#ffd600"/><stop offset="0.3431" stop-color="#f1ff0e"/><stop offset="0.3507" stop-color="#0cfff3"/><stop offset="0.3526" stop-color="#00daff"/><stop offset="0.3565" stop-color="#0082ff"/><stop offset="0.3584" stop-color="#005fff"/><stop offset="0.3603" stop-color="#004fff"/><stop offset="0.3622" stop-color="#0056ff"/><stop offset="0.366" stop-color="#0078ff"/><stop offset="0.3698" stop-color="#007cff"/><stop offset="0.5128" stop-color="#0051ff"/><stop offset="0.6386" stop-color="#0037ff"/><stop offset="0.7854" stop-color="#0024ff"/><stop offset="0.9989" stop-color="#0013ff"/></linearGradient><linearGradient id="f36"><stop offset="0" stop-color="#ff8400"/><stop offset="0.007625" stop-color="#ff8700"/><stop offset="0.05909" stop-color="#ff8500"/><stop offset="0.1487" stop-color="#ff7600"/><stop offset="0.2249" stop-color="#ff6000"/><stop offset="0.3317" stop-color="#ff3800"/><stop offset="0.3336" stop-color="#ff3c00"/><stop offset="0.3355" stop-color="#ff4d00"/><stop offset="0.3374" stop-color="#ff7000"/><stop offset="0.3412" stop-color="#ffd500"/><stop offset="0.3431" stop-color="#f3ff0c"/><stop offset="0.3507" stop-color="#0efff1"/><stop offset="0.3526" stop-color="#00dbff"/><stop offset="0.3565" stop-color="#0082ff"/><stop offset="0.3584" stop-color="#005fff"/><stop offset="0.3603" stop-color="#004dff"/><stop offset="0.3622" stop-color="#0054ff"/><stop offset="0.366" stop-color="#0075ff"/><stop offset="0.3698" stop-color="#007aff"/><stop offset="0.5128" stop-color="#0050ff"/><stop offset="0.6405" stop-color="#0036ff"/><stop offset="0.7854" stop-color="#0024ff"/><stop offset="0.9989" stop-color="#0013ff"/></linearGradient><linearGradient id="f37"><stop offset="0" stop-color="#ff7f00"/><stop offset="0.007625" stop-color="#ff8300"/><stop offset="0.05719" stop-color="#ff8000"/><stop offset="0.1468" stop-color="#ff7200"/><stop offset="0.2249" stop-color="#ff5d00"/><stop offset="0.3317" stop-color="#ff3600"/><stop offset="0.3336" stop-color="#ff3a00"/><stop offset="0.3355" stop-color="#ff4b00"/><stop offset="0.3374" stop-color="#ff6e00"/><stop offset="0.3412" stop-color="#ffd200"/><stop offset="0.3431" stop-color="#f6ff09"/><stop offset="0.3507" stop-color="#0cfff3"/><stop offset="0.3526" stop-color="#00daff"/><stop offset="0.3565" stop-color="#0081ff"/><stop offset="0.3584" stop-color="#005dff"/><stop offset="0.3603" stop-color="#004aff"/><stop offset="0.3622" stop-color="#0050ff"/><stop offset="0.366" stop-color="#0072ff"/><stop offset="0.3698" stop-color="#0077ff"/><stop offset="0.5147" stop-color="#004fff"/><stop offset="0.6424" stop-color="#0035ff"/><stop offset="0.7873" stop-color="#0023ff"/><stop offset="0.9989" stop-color="#0013ff"/></linearGradient><linearGradient id="f38"><stop offset="0" stop-color="#ff7a00"/><stop offset="0.007625" stop-color="#ff7e00"/><stop offset="0.05528" stop-color="#ff7c00"/><stop offset="0.1449" stop-color="#ff6f00"/><stop offset="0.223" stop-color="#ff5a00"/><stop offset="0.3317" stop-color="#ff3400"/><stop offset="0.3336" stop-color="#ff3900"/><stop offset="0.3355" stop-color="#ff4a00"/><stop offset="0.3374" stop-color="#ff6d00"/><stop offset="0.3412" stop-color="#ffd200"/><stop offset="0.3431" stop-color="#f5ff0a"/><stop offset="0.3507" stop-color="#10ffef"/><stop offset="0.3526" stop-color="#00dcff"/><stop offset="0.3565" stop-color="#0081ff"/><stop offset="0.3584" stop-color="#005cff"/><stop offset="0.3603" stop-color="#0047ff"/><stop offset="0.3622" stop-color="#004dff"/><stop offset="0.366" stop-color="#006fff"/><stop offset="0.3698" stop-color="#0074ff"/><stop offset="0.5166" stop-color="#004dff"/><stop offset="0.6443" stop-color="#0034ff"/><stop offset="0.7873" stop-color="#0023ff"/><stop offset="0.9989" stop-color="#0013ff"/></linearGradient><linearGradient id="f39"><stop offset="0" stop-color="#ff7600"/><stop offset="0.007625" stop-color="#ff7a00"/><stop offset="0.05337" stop-color="#ff7800"/><stop offset="0.1449" stop-color="#ff6b00"/><stop offset="0.223" stop-color="#ff5700"/><stop offset="0.3317" stop-color="#ff3200"/><stop offset="0.3336" stop-color="#ff3700"/><stop offset="0.3355" stop-color="#ff4800"/><stop offset="0.3374" stop-color="#ff6b00"/><stop offset="0.3412" stop-color="#ffd000"/><stop offset="0.3431" stop-color="#f8ff07"/><stop offset="0.3507" stop-color="#10ffef"/><stop offset="0.3526" stop-color="#00ddff"/><stop offset="0.3565" stop-color="#0081ff"/><stop offset="0.3584" stop-color="#005bff"/><stop offset="0.3603" stop-color="#0046ff"/><stop offset="0.3622" stop-color="#004bff"/><stop offset="0.366" stop-color="#006dff"/><stop offset="0.3698" stop-color="#0072ff"/><stop offset="0.5185" stop-color="#004cff"/><stop offset="0.6462" stop-color="#0034ff"/><stop offset="0.7873" stop-color="#0023ff"/><stop offset="0.9989" stop-color="#0013ff"/></linearGradient><linearGradient id="f40"><stop offset="0" stop-color="#ff7200"/><stop offset="0.007625" stop-color="#ff7500"/><stop offset="0.05147" stop-color="#ff7400"/><stop offset="0.143" stop-color="#ff6700"/><stop offset="0.2211" stop-color="#ff5400"/><stop offset="0.3317" stop-color="#ff3100"/><stop offset="0.3336" stop-color="#ff3500"/><stop offset="0.3355" stop-color="#ff4600"/><stop offset="0.3374" stop-color="#ff6900"/><stop offset="0.3412" stop-color="#ffce00"/><stop offset="0.3431" stop-color="#f9ff06"/><stop offset="0.3507" stop-color="#10ffef"/><stop offset="0.3526" stop-color="#00dcff"/><stop offset="0.3565" stop-color="#0081ff"/><stop offset="0.3584" stop-color="#005aff"/><stop offset="0.3603" stop-color="#0043ff"/><stop offset="0.3622" stop-color="#0048ff"/><stop offset="0.366" stop-color="#006bff"/><stop offset="0.3698" stop-color="#0070ff"/><stop offset="0.5185" stop-color="#004bff"/><stop offset="0.6462" stop-color="#0033ff"/><stop offset="0.7873" stop-color="#0023ff"/><stop offset="0.9989" stop-color="#0013ff"/></linearGradient><linearGradient id="f41"><stop offset="0" stop-color="#ff6e00"/><stop offset="0.007625" stop-color="#ff7100"/><stop offset="0.04956" stop-color="#ff7000"/><stop offset="0.1411" stop-color="#ff6400"/><stop offset="0.2192" stop-color="#ff5200"/><stop offset="0.3317" stop-color="#ff2f00"/><stop offset="0.3336" stop-color="#ff3400"/><stop offset="0.3355" stop-color="#ff4500"/><stop offset="0.3374" stop-color="#ff6800"/><stop offset="0.3412" stop-color="#ffce00"/><stop offset="0.3431" stop-color="#f9ff06"/><stop offset="0.3507" stop-color="#13ffec"/><stop offset="0.3526" stop-color="#00deff"/><stop offset="0.3565" stop-color="#0081ff"/><stop offset="0.3584" stop-color="#0059ff"/><stop offset="0.3603" stop-color="#0042ff"/><stop offset="0.3622" stop-color="#0046ff"/><stop offset="0.366" stop-color="#0068ff"/><stop offset="0.3698" stop-color="#006dff"/><stop offset="0.5204" stop-color="#0049ff"/><stop offset="0.6481" stop-color="#0033ff"/><stop offset="0.7873" stop-color="#0023ff"/><stop offset="0.9989" stop-color="#0013ff"/></linearGradient><linearGradient id="f42"><stop offset="0" stop-color="#ff6a00"/><stop offset="0.007625" stop-color="#ff6d00"/><stop offset="0.04956" stop-color="#ff6c00"/><stop offset="0.1411" stop-color="#ff6000"/><stop offset="0.2192" stop-color="#ff4f00"/><stop offset="0.3317" stop-color="#ff2e00"/><stop offset="0.3336" stop-color="#ff3200"/><stop offset="0.3355" stop-color="#ff4300"/><stop offset="0.3374" stop-color="#ff6600"/><stop offset="0.3412" stop-color="#ffcb00"/><stop offset="0.3431" stop-color="#fdff02"/><stop offset="0.3507" stop-color="#12ffed"/><stop offset="0.3526" stop-color="#00deff"/><stop offset="0.3565" stop-color="#0081ff"/><stop offset="0.3584" stop-color="#0059ff"/><stop offset="0.3603" stop-color="#0040ff"/><stop offset="0.3622" stop-color="#0043ff"/><stop offset="0.366" stop-color="#0066ff"/><stop offset="0.3698" stop-color="#006bff"/><stop offset="0.5204" stop-color="#0048ff"/><stop offset="0.65" stop-color="#0032ff"/><stop offset="0.7892" stop-color="#0022ff"/><stop offset="0.9989" stop-color="#0013ff"/></linearGradient><linearGradient id="f43"><stop offset="0" stop-color="#ff6600"/><stop offset="0.007625" stop-color="#ff6900"/><stop offset="0.04766" stop-color="#ff6800"/><stop offset="0.1392" stop-color="#ff5d00"/><stop offset="0.2173" stop-color="#ff4d00"/><stop offset="0.3317" stop-color="#ff2c00"/><stop offset="0.3336" stop-color="#ff3100"/><stop offset="0.3355" stop-color="#ff4200"/><stop offset="0.3374" stop-color="#ff6500"/><stop offset="0.3412" stop-color="#ffcb00"/><stop offset="0.3431" stop-color="#fcff03"/><stop offset="0.3507" stop-color="#14ffeb"/><stop offset="0.3526" stop-color="#00dfff"/><stop offset="0.3565" stop-color="#0081ff"/><stop offset="0.3584" stop-color="#0058ff"/><stop offset="0.3603" stop-color="#003eff"/><stop offset="0.3622" stop-color="#0040ff"/><stop offset="0.366" stop-color="#0064ff"/><stop offset="0.3698" stop-color="#0069ff"/><stop offset="0.5223" stop-color="#0047ff"/><stop offset="0.6519" stop-color="#0031ff"/><stop offset="0.7892" stop-color="#0022ff"/><stop offset="0.9989" stop-color="#0013ff"/></linearGradient><linearGradient id="f44"><stop offset="0" stop-color="#ff6200"/><stop offset="0.007625" stop-color="#ff6600"/><stop offset="0.04575" stop-color="#ff6500"/><stop offset="0.1392" stop-color="#ff5a00"/><stop offset="0.3317" stop-color="#ff2b00"/><stop offset="0.3336" stop-color="#ff3000"/><stop offset="0.3355" stop-color="#ff4100"/><stop offset="0.3374" stop-color="#ff6400"/><stop offset="0.3393" stop-color="#ff9400"/><stop offset="0.3431" stop-color="#feff01"/><stop offset="0.3507" stop-color="#16ffe9"/><stop offset="0.3526" stop-color="#00e1ff"/><stop offset="0.3565" stop-color="#0082ff"/><stop offset="0.3584" stop-color="#0058ff"/><stop offset="0.3603" stop-color="#003dff"/><stop offset="0.3622" stop-color="#003fff"/><stop offset="0.366" stop-color="#0062ff"/><stop offset="0.3698" stop-color="#0067ff"/><stop offset="0.5242" stop-color="#0046ff"/><stop offset="0.6519" stop-color="#0031ff"/><stop offset="0.9989" stop-color="#0012ff"/></linearGradient><linearGradient id="f45"><stop offset="0" stop-color="#ff5e00"/><stop offset="0.007625" stop-color="#ff6200"/><stop offset="0.04384" stop-color="#ff6100"/><stop offset="0.1372" stop-color="#ff5700"/><stop offset="0.3317" stop-color="#ff2900"/><stop offset="0.3336" stop-color="#ff2e00"/><stop offset="0.3355" stop-color="#ff3f00"/><stop offset="0.3374" stop-color="#ff6200"/><stop offset="0.3393" stop-color="#ff9200"/><stop offset="0.3431" stop-color="#fffd00"/><stop offset="0.3507" stop-color="#14ffeb"/><stop offset="0.3526" stop-color="#00dfff"/><stop offset="0.3565" stop-color="#0082ff"/><stop offset="0.3584" stop-color="#0057ff"/><stop offset="0.3603" stop-color="#003bff"/><stop offset="0.3622" stop-color="#003cff"/><stop offset="0.366" stop-color="#0060ff"/><stop offset="0.3698" stop-color="#0065ff"/><stop offset="0.5242" stop-color="#0045ff"/><stop offset="0.6538" stop-color="#0030ff"/><stop offset="0.9989" stop-color="#0012ff"/></linearGradient><linearGradient id="f46"><stop offset="0" stop-color="#ff5b00"/><stop offset="0.007625" stop-color="#ff5f00"/><stop offset="0.04384" stop-color="#ff5e00"/><stop offset="0.1372" stop-color="#ff5400"/><stop offset="0.3317" stop-color="#ff2800"/><stop offset="0.3336" stop-color="#ff2d00"/><stop offset="0.3355" stop-color="#ff3e00"/><stop offset="0.3374" stop-color="#ff6200"/><stop offset="0.3393" stop-color="#ff9200"/><stop offset="0.3431" stop-color="#fffe00"/><stop offset="0.3507" stop-color="#17ffe8"/><stop offset="0.3526" stop-color="#00e2ff"/><stop offset="0.3584" stop-color="#0057ff"/><stop offset="0.3603" stop-color="#003aff"/><stop offset="0.3622" stop-color="#003aff"/><stop offset="0.366" stop-color="#005eff"/><stop offset="0.3698" stop-color="#0064ff"/><stop offset="0.5261" stop-color="#0044ff"/><stop offset="0.6538" stop-color="#0030ff"/><stop offset="0.9989" stop-color="#0012ff"/></linearGradient><linearGradient id="f47"><stop offset="0" stop-color="#ff5800"/><stop offset="0.007625" stop-color="#ff5b00"/><stop offset="0.04194" stop-color="#ff5b00"/><stop offset="0.1353" stop-color="#ff5100"/><stop offset="0.3317" stop-color="#ff2700"/><stop offset="0.3336" stop-color="#ff2c00"/><stop offset="0.3355" stop-color="#ff3d00"/><stop offset="0.3374" stop-color="#ff6000"/><stop offset="0.3393" stop-color="#ff9000"/><stop offset="0.3431" stop-color="#fffc00"/><stop offset="0.3507" stop-color="#18ffe7"/><stop offset="0.3526" stop-color="#00e2ff"/><stop offset="0.3584" stop-color="#0057ff"/><stop offset="0.3603" stop-color="#0039ff"/><stop offset="0.3622" stop-color="#0039ff"/><stop offset="0.366" stop-color="#005cff"/><stop offset="0.3698" stop-color="#0062ff"/><stop offset="0.5261" stop-color="#0043ff"/><stop offset="0.6557" stop-color="#002fff"/><stop offset="0.9989" stop-color="#0012ff"/></linearGradient><linearGradient id="f48"><stop offset="0" stop-color="#ff5400"/><stop offset="0.007625" stop-color="#ff5800"/><stop offset="0.04003" stop-color="#ff5800"/><stop offset="0.1353" stop-color="#ff4f00"/><stop offset="0.3317" stop-color="#ff2600"/><stop offset="0.3336" stop-color="#ff2a00"/><stop offset="0.3355" stop-color="#ff3b00"/><stop offset="0.3374" stop-color="#ff5e00"/><stop offset="0.3393" stop-color="#ff8f00"/><stop offset="0.3431" stop-color="#fffa00"/><stop offset="0.345" stop-color="#c9ff36"/><stop offset="0.3507" stop-color="#17ffe8"/><stop offset="0.3526" stop-color="#00e2ff"/><stop offset="0.3584" stop-color="#0056ff"/><stop offset="0.3603" stop-color="#0037ff"/><stop offset="0.3622" stop-color="#0036ff"/><stop offset="0.366" stop-color="#005bff"/><stop offset="0.3698" stop-color="#0060ff"/><stop offset="0.5261" stop-color="#0042ff"/><stop offset="0.6557" stop-color="#002fff"/><stop offset="0.9989" stop-color="#0012ff"/></linearGradient><linearGradient id="f49"><stop offset="0" stop-color="#ff5100"/><stop offset="0.007625" stop-color="#ff5500"/><stop offset="0.03812" stop-color="#ff5500"/><stop offset="0.1334" stop-color="#ff4c00"/><stop offset="0.3317" stop-color="#ff2400"/><stop offset="0.3336" stop-color="#ff2900"/><stop offset="0.3355" stop-color="#ff3b00"/><stop offset="0.3374" stop-color="#ff5e00"/><stop offset="0.3393" stop-color="#ff8f00"/><stop offset="0.3431" stop-color="#fffb00"/><stop offset="0.345" stop-color="#c9ff36"/><stop offset="0.3507" stop-color="#1affe5"/><stop offset="0.3526" stop-color="#00e4ff"/><stop offset="0.3584" stop-color="#0057ff"/><stop offset="0.3603" stop-color="#0036ff"/><stop offset="0.3622" stop-color="#0035ff"/><stop offset="0.366" stop-color="#0058ff"/><stop offset="0.3698" stop-color="#005eff"/><stop offset="0.6576" stop-color="#002eff"/><stop offset="0.9989" stop-color="#0012ff"/></linearGradient><linearGradient id="f50"><stop offset="0" stop-color="#ff4e00"/><stop offset="0.007625" stop-color="#ff5200"/><stop offset="0.03622" stop-color="#ff5200"/><stop offset="0.1334" stop-color="#ff4900"/><stop offset="0.3317" stop-color="#ff2300"/><stop offset="0.3336" stop-color="#ff2800"/><stop offset="0.3355" stop-color="#ff3900"/><stop offset="0.3374" stop-color="#ff5c00"/><stop offset="0.3393" stop-color="#ff8c00"/><stop offset="0.3431" stop-color="#fff800"/><stop offset="0.345" stop-color="#ccff33"/><stop offset="0.3507" stop-color="#1affe5"/><stop offset="0.3526" stop-color="#00e4ff"/><stop offset="0.3584" stop-color="#0057ff"/><stop offset="0.3603" stop-color="#0036ff"/><stop offset="0.3622" stop-color="#0033ff"/><stop offset="0.366" stop-color="#0057ff"/><stop offset="0.3698" stop-color="#005dff"/><stop offset="0.6576" stop-color="#002eff"/><stop offset="0.9989" stop-color="#0012ff"/></linearGradient><linearGradient id="f51"><stop offset="0" stop-color="#ff4c00"/><stop offset="0.007625" stop-color="#ff4f00"/><stop offset="0.03431" stop-color="#ff4f00"/><stop offset="0.1315" stop-color="#ff4700"/><stop offset="0.3317" stop-color="#ff2200"/><stop offset="0.3336" stop-color="#ff2700"/><stop offset="0.3355" stop-color="#ff3800"/><stop offset="0.3374" stop-color="#ff5b00"/><stop offset="0.3393" stop-color="#ff8c00"/><stop offset="0.3431" stop-color="#fff800"/><stop offset="0.345" stop-color="#ccff33"/><stop offset="0.3507" stop-color="#1bffe4"/><stop offset="0.3526" stop-color="#00e5ff"/><stop offset="0.3584" stop-color="#0056ff"/><stop offset="0.3603" stop-color="#0034ff"/><stop offset="0.3622" stop-color="#0031ff"/><stop offset="0.366" stop-color="#0055ff"/><stop offset="0.3698" stop-color="#005bff"/><stop offset="0.6596" stop-color="#002eff"/><stop offset="0.9989" stop-color="#0012ff"/></linearGradient><linearGradient id="f52"><stop offset="0" stop-color="#ff4900"/><stop offset="0.007625" stop-color="#ff4d00"/><stop offset="0.03241" stop-color="#ff4c00"/><stop offset="0.1315" stop-color="#ff4500"/><stop offset="0.3317" stop-color="#ff2100"/><stop offset="0.3336" stop-color="#ff2600"/><stop offset="0.3355" stop-color="#ff3700"/><stop offset="0.3374" stop-color="#ff5b00"/><stop offset="0.3393" stop-color="#ff8b00"/><stop offset="0.3431" stop-color="#fff800"/><stop offset="0.345" stop-color="#ccff33"/><stop offset="0.3507" stop-color="#1dffe2"/><stop offset="0.3526" stop-color="#00e6ff"/><stop offset="0.3584" stop-color="#0057ff"/><stop offset="0.3603" stop-color="#0034ff"/><stop offset="0.3622" stop-color="#0030ff"/><stop offset="0.366" stop-color="#0054ff"/><stop offset="0.3698" stop-color="#005aff"/><stop offset="0.6596" stop-color="#002dff"/><stop offset="0.9989" stop-color="#0012ff"/></linearGradient><linearGradient id="f53"><stop offset="0" stop-color="#ff4600"/><stop offset="0.007625" stop-color="#ff4a00"/><stop offset="0.03241" stop-color="#ff4a00"/><stop offset="0.1315" stop-color="#ff4200"/><stop offset="0.3317" stop-color="#ff2000"/><stop offset="0.3336" stop-color="#ff2400"/><stop offset="0.3355" stop-color="#ff3500"/><stop offset="0.3374" stop-color="#ff5900"/><stop offset="0.3393" stop-color="#ff8900"/><stop offset="0.3431" stop-color="#fff400"/><stop offset="0.345" stop-color="#d0ff2f"/><stop offset="0.3507" stop-color="#1cffe3"/><stop offset="0.3526" stop-color="#00e5ff"/><stop offset="0.3584" stop-color="#0057ff"/><stop offset="0.3603" stop-color="#0033ff"/><stop offset="0.3622" stop-color="#002eff"/><stop offset="0.366" stop-color="#0053ff"/><stop offset="0.3698" stop-color="#0059ff"/><stop offset="0.6596" stop-color="#002dff"/><stop offset="0.9989" stop-color="#0012ff"/></linearGradient><linearGradient id="f54"><stop offset="0" stop-color="#ff4400"/><stop offset="0.02859" stop-color="#ff4700"/><stop offset="0.1296" stop-color="#ff4000"/><stop offset="0.3317" stop-color="#ff1f00"/><stop offset="0.3336" stop-color="#ff2400"/><stop offset="0.3355" stop-color="#ff3500"/><stop offset="0.3374" stop-color="#ff5800"/><stop offset="0.3393" stop-color="#ff8900"/><stop offset="0.3431" stop-color="#fff600"/><stop offset="0.345" stop-color="#ceff31"/><stop offset="0.3507" stop-color="#1effe1"/><stop offset="0.3526" stop-color="#00e7ff"/><stop offset="0.3584" stop-color="#0057ff"/><stop offset="0.3603" stop-color="#0032ff"/><stop offset="0.3622" stop-color="#002cff"/><stop offset="0.366" stop-color="#0051ff"/><stop offset="0.3698" stop-color="#0057ff"/><stop offset="0.6615" stop-color="#002cff"/><stop offset="0.9989" stop-color="#0012ff"/></linearGradient><linearGradient id="f55"><stop offset="0" stop-color="#ff4100"/><stop offset="0.02859" stop-color="#ff4500"/><stop offset="0.1296" stop-color="#ff3e00"/><stop offset="0.3317" stop-color="#ff1e00"/><stop offset="0.3336" stop-color="#ff2300"/><stop offset="0.3355" stop-color="#ff3400"/><stop offset="0.3374" stop-color="#ff5700"/><stop offset="0.3393" stop-color="#ff8800"/><stop offset="0.3431" stop-color="#fff400"/><stop offset="0.345" stop-color="#d0ff2f"/><stop offset="0.3507" stop-color="#1fffe0"/><stop offset="0.3526" stop-color="#00e8ff"/><stop offset="0.3584" stop-color="#0057ff"/><stop offset="0.3603" stop-color="#0032ff"/><stop offset="0.3622" stop-color="#002cff"/><stop offset="0.366" stop-color="#0050ff"/><stop offset="0.3698" stop-color="#0056ff"/><stop offset="0.6615" stop-color="#002cff"/><stop offset="0.9989" stop-color="#0011ff"/></linearGradient><linearGradient id="f56"><stop offset="0" stop-color="#ff3f00"/><stop offset="0.02669" stop-color="#ff4300"/><stop offset="0.1296" stop-color="#ff3c00"/><stop offset="0.3317" stop-color="#ff1d00"/><stop offset="0.3336" stop-color="#ff2100"/><stop offset="0.3355" stop-color="#ff3300"/><stop offset="0.3374" stop-color="#ff5600"/><stop offset="0.3393" stop-color="#ff8600"/><stop offset="0.3431" stop-color="#fff200"/><stop offset="0.345" stop-color="#d2ff2d"/><stop offset="0.3507" stop-color="#1effe1"/><stop offset="0.3526" stop-color="#00e7ff"/><stop offset="0.3584" stop-color="#0057ff"/><stop offset="0.3603" stop-color="#0031ff"/><stop offset="0.3622" stop-color="#002aff"/><stop offset="0.366" stop-color="#004fff"/><stop offset="0.3698" stop-color="#0055ff"/><stop offset="0.6615" stop-color="#002cff"/><stop offset="0.9989" stop-color="#0011ff"/></linearGradient><linearGradient id="f57"><stop offset="0" stop-color="#ff3d00"/><stop offset="0.02287" stop-color="#ff4100"/><stop offset="0.1277" stop-color="#ff3a00"/><stop offset="0.3317" stop-color="#ff1c00"/><stop offset="0.3336" stop-color="#ff2100"/><stop offset="0.3355" stop-color="#ff3200"/><stop offset="0.3374" stop-color="#ff5600"/><stop offset="0.3393" stop-color="#ff8700"/><stop offset="0.3431" stop-color="#fff300"/><stop offset="0.345" stop-color="#d1ff2e"/><stop offset="0.3507" stop-color="#21ffde"/><stop offset="0.3526" stop-color="#00eaff"/><stop offset="0.3584" stop-color="#0057ff"/><stop offset="0.3603" stop-color="#0030ff"/><stop offset="0.3622" stop-color="#0028ff"/><stop offset="0.366" stop-color="#004dff"/><stop offset="0.3698" stop-color="#0054ff"/><stop offset="0.6634" stop-color="#002bff"/><stop offset="0.9989" stop-color="#0011ff"/></linearGradient><linearGradient id="f58"><stop offset="0" stop-color="#ff3b00"/><stop offset="0.02287" stop-color="#ff3e00"/><stop offset="0.1277" stop-color="#ff3800"/><stop offset="0.3317" stop-color="#ff1b00"/><stop offset="0.3336" stop-color="#ff2000"/><stop offset="0.3355" stop-color="#ff3100"/><stop offset="0.3374" stop-color="#ff5400"/><stop offset="0.3393" stop-color="#ff8500"/><stop offset="0.3431" stop-color="#fff100"/><stop offset="0.345" stop-color="#d3ff2c"/><stop offset="0.3507" stop-color="#21ffde"/><stop offset="0.3526" stop-color="#00e9ff"/><stop offset="0.3584" stop-color="#0058ff"/><stop offset="0.3603" stop-color="#0030ff"/><stop offset="0.3622" stop-color="#0028ff"/><stop offset="0.366" stop-color="#004cff"/><stop offset="0.3698" stop-color="#0052ff"/><stop offset="0.6634" stop-color="#002bff"/><stop offset="0.9989" stop-color="#0011ff"/></linearGradient><linearGradient id="f59"><stop offset="0" stop-color="#ff3900"/><stop offset="0.01906" stop-color="#ff3c00"/><stop offset="0.1258" stop-color="#ff3700"/><stop offset="0.3317" stop-color="#ff1a00"/><stop offset="0.3336" stop-color="#ff1f00"/><stop offset="0.3355" stop-color="#ff3000"/><stop offset="0.3374" stop-color="#ff5300"/><stop offset="0.3393" stop-color="#ff8400"/><stop offset="0.3431" stop-color="#fff000"/><stop offset="0.345" stop-color="#d4ff2b"/><stop offset="0.3507" stop-color="#21ffde"/><stop offset="0.3526" stop-color="#00eaff"/><stop offset="0.3584" stop-color="#0058ff"/><stop offset="0.3603" stop-color="#002fff"/><stop offset="0.3622" stop-color="#0026ff"/><stop offset="0.366" stop-color="#004bff"/><stop offset="0.3698" stop-color="#0051ff"/><stop offset="0.6634" stop-color="#002bff"/><stop offset="0.9989" stop-color="#0011ff"/></linearGradient><linearGradient id="f60"><stop offset="0" stop-color="#ff3700"/><stop offset="0.01716" stop-color="#ff3b00"/><stop offset="0.1258" stop-color="#ff3500"/><stop offset="0.3317" stop-color="#ff1900"/><stop offset="0.3336" stop-color="#ff1e00"/><stop offset="0.3355" stop-color="#ff3000"/><stop offset="0.3374" stop-color="#ff5300"/><stop offset="0.3393" stop-color="#ff8400"/><stop offset="0.3431" stop-color="#fff100"/><stop offset="0.345" stop-color="#d4ff2b"/><stop offset="0.3507" stop-color="#24ffdb"/><stop offset="0.3526" stop-color="#00ebff"/><stop offset="0.3584" stop-color="#0058ff"/><stop offset="0.3603" stop-color="#002fff"/><stop offset="0.3622" stop-color="#0025ff"/><stop offset="0.366" stop-color="#004aff"/><stop offset="0.3698" stop-color="#0050ff"/><stop offset="0.6634" stop-color="#002bff"/><stop offset="0.9989" stop-color="#0011ff"/></linearGradient><linearGradient id="f61"><stop offset="0" stop-color="#ff3500"/><stop offset="0.01716" stop-color="#ff3900"/><stop offset="0.1258" stop-color="#ff3300"/><stop offset="0.3317" stop-color="#ff1800"/><stop offset="0.3336" stop-color="#ff1d00"/><stop offset="0.3355" stop-color="#ff2e00"/><stop offset="0.3374" stop-color="#ff5100"/><stop offset="0.3393" stop-color="#ff8200"/><stop offset="0.3431" stop-color="#ffed00"/><stop offset="0.345" stop-color="#d6ff29"/><stop offset="0.3507" stop-color="#22ffdd"/><stop offset="0.3526" stop-color="#00eaff"/><stop offset="0.3584" stop-color="#0058ff"/><stop offset="0.3603" stop-color="#002fff"/><stop offset="0.3622" stop-color="#0024ff"/><stop offset="0.366" stop-color="#0049ff"/><stop offset="0.3698" stop-color="#004fff"/><stop offset="0.6634" stop-color="#002aff"/><stop offset="0.9989" stop-color="#0011ff"/></linearGradient><linearGradient id="f62"><stop offset="0" stop-color="#ff3300"/><stop offset="0.01334" stop-color="#ff3700"/><stop offset="0.1239" stop-color="#ff3200"/><stop offset="0.3317" stop-color="#ff1700"/><stop offset="0.3336" stop-color="#ff1c00"/><stop offset="0.3355" stop-color="#ff2e00"/><stop offset="0.3374" stop-color="#ff5100"/><stop offset="0.3393" stop-color="#ff8200"/><stop offset="0.3431" stop-color="#ffef00"/><stop offset="0.345" stop-color="#d5ff2a"/><stop offset="0.3507" stop-color="#24ffdb"/><stop offset="0.3526" stop-color="#00ecff"/><stop offset="0.3584" stop-color="#0059ff"/><stop offset="0.3603" stop-color="#002eff"/><stop offset="0.3622" stop-color="#0023ff"/><stop offset="0.366" stop-color="#0048ff"/><stop offset="0.3698" stop-color="#004eff"/><stop offset="0.6653" stop-color="#002aff"/><stop offset="0.9989" stop-color="#0011ff"/></linearGradient><linearGradient id="f63"><stop offset="0" stop-color="#ff3100"/><stop offset="0.01144" stop-color="#ff3500"/><stop offset="0.1239" stop-color="#ff3000"/><stop offset="0.3317" stop-color="#ff1700"/><stop offset="0.3336" stop-color="#ff1c00"/><stop offset="0.3355" stop-color="#ff2d00"/><stop offset="0.3374" stop-color="#ff5100"/><stop offset="0.3393" stop-color="#ff8200"/><stop offset="0.3431" stop-color="#ffee00"/><stop offset="0.345" stop-color="#d6ff29"/><stop offset="0.3507" stop-color="#25ffda"/><stop offset="0.3526" stop-color="#00edff"/><stop offset="0.3584" stop-color="#0059ff"/><stop offset="0.3603" stop-color="#002eff"/><stop offset="0.3622" stop-color="#0022ff"/><stop offset="0.366" stop-color="#0047ff"/><stop offset="0.3698" stop-color="#004dff"/><stop offset="0.6653" stop-color="#002aff"/><stop offset="0.9989" stop-color="#0011ff"/></linearGradient><linearGradient id="f64"><stop offset="0" stop-color="#ff2f00"/><stop offset="0.009531" stop-color="#ff3400"/><stop offset="0.122" stop-color="#ff2f00"/><stop offset="0.3317" stop-color="#ff1600"/><stop offset="0.3336" stop-color="#ff1b00"/><stop offset="0.3355" stop-color="#ff2c00"/><stop offset="0.3374" stop-color="#ff4f00"/><stop offset="0.3393" stop-color="#ff8000"/><stop offset="0.3431" stop-color="#ffeb00"/><stop offset="0.345" stop-color="#d9ff26"/><stop offset="0.3507" stop-color="#24ffdb"/><stop offset="0.3526" stop-color="#00ecff"/><stop offset="0.3584" stop-color="#0059ff"/><stop offset="0.3603" stop-color="#002eff"/><stop offset="0.3622" stop-color="#0021ff"/><stop offset="0.366" stop-color="#0046ff"/><stop offset="0.3698" stop-color="#004cff"/><stop offset="0.6653" stop-color="#0029ff"/><stop offset="0.9989" stop-color="#0011ff"/></linearGradient><linearGradient id="f65"><stop offset="0" stop-color="#ff2e00"/><stop offset="0.009531" stop-color="#ff3200"/><stop offset="0.122" stop-color="#ff2d00"/><stop offset="0.3317" stop-color="#ff1500"/><stop offset="0.3336" stop-color="#ff1a00"/><stop offset="0.3355" stop-color="#ff2c00"/><stop offset="0.3374" stop-color="#ff4f00"/><stop offset="0.3393" stop-color="#ff8000"/><stop offset="0.3431" stop-color="#ffed00"/><stop offset="0.345" stop-color="#d7ff28"/><stop offset="0.3507" stop-color="#27ffd8"/><stop offset="0.3526" stop-color="#00eeff"/><stop offset="0.3584" stop-color="#005aff"/><stop offset="0.3603" stop-color="#002dff"/><stop offset="0.3622" stop-color="#0020ff"/><stop offset="0.366" stop-color="#0045ff"/><stop offset="0.3698" stop-color="#004cff"/><stop offset="0.6653" stop-color="#0029ff"/><stop offset="0.9989" stop-color="#0011ff"/></linearGradient><linearGradient id="f66"><stop offset="0" stop-color="#ff2c00"/><stop offset="0.009531" stop-color="#ff3100"/><stop offset="0.122" stop-color="#ff2c00"/><stop offset="0.3317" stop-color="#ff1400"/><stop offset="0.3336" stop-color="#ff1900"/><stop offset="0.3355" stop-color="#ff2b00"/><stop offset="0.3374" stop-color="#ff4e00"/><stop offset="0.3393" stop-color="#ff7f00"/><stop offset="0.3431" stop-color="#ffec00"/><stop offset="0.345" stop-color="#d9ff26"/><stop offset="0.3507" stop-color="#27ffd8"/><stop offset="0.3526" stop-color="#00eeff"/><stop offset="0.3584" stop-color="#005aff"/><stop offset="0.3603" stop-color="#002dff"/><stop offset="0.3622" stop-color="#0020ff"/><stop offset="0.366" stop-color="#0044ff"/><stop offset="0.3698" stop-color="#004bff"/><stop offset="0.6653" stop-color="#0029ff"/><stop offset="0.9989" stop-color="#0011ff"/></linearGradient><linearGradient id="f67"><stop offset="0" stop-color="#ff2b00"/><stop offset="0.009531" stop-color="#ff2f00"/><stop offset="0.1201" stop-color="#ff2b00"/><stop offset="0.3317" stop-color="#ff1400"/><stop offset="0.3336" stop-color="#ff1900"/><stop offset="0.3355" stop-color="#ff2a00"/><stop offset="0.3374" stop-color="#ff4d00"/><stop offset="0.3393" stop-color="#ff7e00"/><stop offset="0.3431" stop-color="#ffea00"/><stop offset="0.345" stop-color="#daff25"/><stop offset="0.3507" stop-color="#26ffd9"/><stop offset="0.3526" stop-color="#00eeff"/><stop offset="0.3584" stop-color="#005aff"/><stop offset="0.3603" stop-color="#002dff"/><stop offset="0.3622" stop-color="#001eff"/><stop offset="0.366" stop-color="#0044ff"/><stop offset="0.3698" stop-color="#004aff"/><stop offset="0.6653" stop-color="#0029ff"/><stop offset="0.9989" stop-color="#0011ff"/></linearGradient><linearGradient id="f68"><stop offset="0" stop-color="#ff2a00"/><stop offset="0.009531" stop-color="#ff2e00"/><stop offset="0.1201" stop-color="#ff2a00"/><stop offset="0.3317" stop-color="#ff1300"/><stop offset="0.3336" stop-color="#ff1800"/><stop offset="0.3355" stop-color="#ff2a00"/><stop offset="0.3374" stop-color="#ff4e00"/><stop offset="0.3393" stop-color="#ff7f00"/><stop offset="0.3431" stop-color="#ffeb00"/><stop offset="0.345" stop-color="#d9ff26"/><stop offset="0.3507" stop-color="#29ffd6"/><stop offset="0.3526" stop-color="#00f0ff"/><stop offset="0.3584" stop-color="#005aff"/><stop offset="0.3603" stop-color="#002dff"/><stop offset="0.3622" stop-color="#001eff"/><stop offset="0.366" stop-color="#0042ff"/><stop offset="0.3698" stop-color="#0049ff"/><stop offset="0.6653" stop-color="#0028ff"/><stop offset="0.9989" stop-color="#0010ff"/></linearGradient><linearGradient id="f69"><stop offset="0" stop-color="#ff2800"/><stop offset="0.009531" stop-color="#ff2c00"/><stop offset="0.1201" stop-color="#ff2800"/><stop offset="0.3317" stop-color="#ff1300"/><stop offset="0.3336" stop-color="#ff1700"/><stop offset="0.3355" stop-color="#ff2900"/><stop offset="0.3374" stop-color="#ff4c00"/><stop offset="0.3393" stop-color="#ff7d00"/><stop offset="0.3431" stop-color="#ffe900"/><stop offset="0.345" stop-color="#dbff24"/><stop offset="0.3507" stop-color="#28ffd7"/><stop offset="0.3526" stop-color="#00efff"/><stop offset="0.3603" stop-color="#002dff"/><stop offset="0.3622" stop-color="#001eff"/><stop offset="0.366" stop-color="#0042ff"/><stop offset="0.3698" stop-color="#0049ff"/><stop offset="0.6653" stop-color="#0028ff"/><stop offset="0.9989" stop-color="#0010ff"/></linearGradient><linearGradient id="f70"><stop offset="0" stop-color="#ff2700"/><stop offset="0.009531" stop-color="#ff2b00"/><stop offset="0.1182" stop-color="#ff2700"/><stop offset="0.3317" stop-color="#ff1200"/><stop offset="0.3336" stop-color="#ff1700"/><stop offset="0.3355" stop-color="#ff2800"/><stop offset="0.3374" stop-color="#ff4c00"/><stop offset="0.3393" stop-color="#ff7d00"/><stop offset="0.3431" stop-color="#ffea00"/><stop offset="0.345" stop-color="#dbff24"/><stop offset="0.3507" stop-color="#29ffd6"/><stop offset="0.3526" stop-color="#00f0ff"/><stop offset="0.3603" stop-color="#002cff"/><stop offset="0.3622" stop-color="#001cff"/><stop offset="0.366" stop-color="#0041ff"/><stop offset="0.3698" stop-color="#0048ff"/><stop offset="0.6653" stop-color="#0028ff"/><stop offset="0.9989" stop-color="#0010ff"/></linearGradient><linearGradient id="f71"><stop offset="0" stop-color="#ff2600"/><stop offset="0.009531" stop-color="#ff2a00"/><stop offset="0.1182" stop-color="#ff2600"/><stop offset="0.3317" stop-color="#ff1200"/><stop offset="0.3336" stop-color="#ff1700"/><stop offset="0.3355" stop-color="#ff2800"/><stop offset="0.3374" stop-color="#ff4c00"/><stop offset="0.3393" stop-color="#ff7d00"/><stop offset="0.3431" stop-color="#ffea00"/><stop offset="0.345" stop-color="#dbff24"/><stop offset="0.3507" stop-color="#2affd5"/><stop offset="0.3526" stop-color="#00f1ff"/><stop offset="0.3603" stop-color="#002dff"/><stop offset="0.3622" stop-color="#001cff"/><stop offset="0.366" stop-color="#0040ff"/><stop offset="0.3698" stop-color="#0047ff"/><stop offset="0.6653" stop-color="#0028ff"/><stop offset="0.9989" stop-color="#0010ff"/></linearGradient><linearGradient id="f72"><stop offset="0" stop-color="#ff2500"/><stop offset="0.009531" stop-color="#ff2900"/><stop offset="0.1182" stop-color="#ff2500"/><stop offset="0.3317" stop-color="#ff1100"/><stop offset="0.3336" stop-color="#ff1600"/><stop offset="0.3355" stop-color="#ff2700"/><stop offset="0.3374" stop-color="#ff4a00"/><stop offset="0.3393" stop-color="#ff7b00"/><stop offset="0.3431" stop-color="#ffe600"/><stop offset="0.345" stop-color="#deff21"/><stop offset="0.3507" stop-color="#28ffd7"/><stop offset="0.3526" stop-color="#00efff"/><stop offset="0.3603" stop-color="#002dff"/><stop offset="0.3622" stop-color="#001cff"/><stop offset="0.366" stop-color="#0040ff"/><stop offset="0.3698" stop-color="#0047ff"/><stop offset="0.6653" stop-color="#0028ff"/><stop offset="0.9989" stop-color="#0010ff"/></linearGradient><linearGradient id="f73"><stop offset="0" stop-color="#ff2400"/><stop offset="0.009531" stop-color="#ff2800"/><stop offset="0.1163" stop-color="#ff2500"/><stop offset="0.3317" stop-color="#ff1100"/><stop offset="0.3336" stop-color="#ff1600"/><stop offset="0.3355" stop-color="#ff2700"/><stop offset="0.3374" stop-color="#ff4b00"/><stop offset="0.3393" stop-color="#ff7c00"/><stop offset="0.3431" stop-color="#ffe900"/><stop offset="0.345" stop-color="#dcff23"/><stop offset="0.3507" stop-color="#2bffd4"/><stop offset="0.3526" stop-color="#00f1ff"/><stop offset="0.3603" stop-color="#002cff"/><stop offset="0.3622" stop-color="#001bff"/><stop offset="0.366" stop-color="#003fff"/><stop offset="0.3698" stop-color="#0046ff"/><stop offset="0.6653" stop-color="#0028ff"/><stop offset="0.9989" stop-color="#0010ff"/></linearGradient><linearGradient id="f74"><stop offset="0" stop-color="#ff2300"/><stop offset="0.009531" stop-color="#ff2700"/><stop offset="0.1163" stop-color="#ff2400"/><stop offset="0.3317" stop-color="#ff1000"/><stop offset="0.3336" stop-color="#ff1500"/><stop offset="0.3355" stop-color="#ff2700"/><stop offset="0.3374" stop-color="#ff4a00"/><stop offset="0.3393" stop-color="#ff7b00"/><stop offset="0.3431" stop-color="#ffe800"/><stop offset="0.345" stop-color="#ddff22"/><stop offset="0.3507" stop-color="#2bffd4"/><stop offset="0.3526" stop-color="#00f2ff"/><stop offset="0.3603" stop-color="#002dff"/><stop offset="0.3622" stop-color="#001bff"/><stop offset="0.366" stop-color="#003fff"/><stop offset="0.3698" stop-color="#0046ff"/><stop offset="0.6653" stop-color="#0027ff"/><stop offset="0.9989" stop-color="#0010ff"/></linearGradient><linearGradient id="f75"><stop offset="0" stop-color="#ff2200"/><stop offset="0.009531" stop-color="#ff2600"/><stop offset="0.1163" stop-color="#ff2300"/><stop offset="0.3317" stop-color="#ff1000"/><stop offset="0.3336" stop-color="#ff1400"/><stop offset="0.3355" stop-color="#ff2600"/><stop offset="0.3374" stop-color="#ff4900"/><stop offset="0.3393" stop-color="#ff7a00"/><stop offset="0.3431" stop-color="#ffe600"/><stop offset="0.345" stop-color="#deff21"/><stop offset="0.3507" stop-color="#2affd5"/><stop offset="0.3526" stop-color="#00f0ff"/><stop offset="0.3603" stop-color="#002cff"/><stop offset="0.3622" stop-color="#001aff"/><stop offset="0.366" stop-color="#003fff"/><stop offset="0.3698" stop-color="#0045ff"/><stop offset="0.6634" stop-color="#0027ff"/><stop offset="0.9989" stop-color="#0010ff"/></linearGradient><linearGradient id="f76"><stop offset="0" stop-color="#ff2100"/><stop offset="0.009531" stop-color="#ff2500"/><stop offset="0.1144" stop-color="#ff2200"/><stop offset="0.3317" stop-color="#ff0f00"/><stop offset="0.3336" stop-color="#ff1400"/><stop offset="0.3355" stop-color="#ff2600"/><stop offset="0.3374" stop-color="#ff4a00"/><stop offset="0.3393" stop-color="#ff7b00"/><stop offset="0.3431" stop-color="#ffe800"/><stop offset="0.345" stop-color="#ddff22"/><stop offset="0.3507" stop-color="#2cffd3"/><stop offset="0.3526" stop-color="#00f2ff"/><stop offset="0.3603" stop-color="#002cff"/><stop offset="0.3622" stop-color="#0019ff"/><stop offset="0.366" stop-color="#003dff"/><stop offset="0.3698" stop-color="#0045ff"/><stop offset="0.6634" stop-color="#0027ff"/><stop offset="0.9989" stop-color="#0010ff"/></linearGradient><linearGradient id="f77"><stop offset="0" stop-color="#ff2000"/><stop offset="0.009531" stop-color="#ff2500"/><stop offset="0.1144" stop-color="#ff2100"/><stop offset="0.3317" stop-color="#ff0f00"/><stop offset="0.3336" stop-color="#ff1400"/><stop offset="0.3355" stop-color="#ff2500"/><stop offset="0.3374" stop-color="#ff4900"/><stop offset="0.3393" stop-color="#ff7a00"/><stop offset="0.3431" stop-color="#ffe600"/><stop offset="0.345" stop-color="#dfff20"/><stop offset="0.3507" stop-color="#2bffd4"/><stop offset="0.3526" stop-color="#00f2ff"/><stop offset="0.3603" stop-color="#002cff"/><stop offset="0.3622" stop-color="#0019ff"/><stop offset="0.366" stop-color="#003dff"/><stop offset="0.3698" stop-color="#0044ff"/><stop offset="0.6634" stop-color="#0027ff"/><stop offset="0.9989" stop-color="#0010ff"/></linearGradient><linearGradient id="f78"><stop offset="0" stop-color="#ff2000"/><stop offset="0.009531" stop-color="#ff2400"/><stop offset="0.1144" stop-color="#ff2100"/><stop offset="0.3317" stop-color="#ff0e00"/><stop offset="0.3336" stop-color="#ff1300"/><stop offset="0.3355" stop-color="#ff2500"/><stop offset="0.3374" stop-color="#ff4800"/><stop offset="0.3393" stop-color="#ff7900"/><stop offset="0.3431" stop-color="#ffe600"/><stop offset="0.345" stop-color="#dfff20"/><stop offset="0.3507" stop-color="#2cffd3"/><stop offset="0.3526" stop-color="#00f2ff"/><stop offset="0.3603" stop-color="#002cff"/><stop offset="0.3622" stop-color="#0018ff"/><stop offset="0.366" stop-color="#003dff"/><stop offset="0.3698" stop-color="#0044ff"/><stop offset="0.6634" stop-color="#0027ff"/><stop offset="0.9989" stop-color="#0010ff"/></linearGradient><linearGradient id="f79"><stop offset="0" stop-color="#ff1f00"/><stop offset="0.009531" stop-color="#ff2300"/><stop offset="0.1125" stop-color="#ff2000"/><stop offset="0.3317" stop-color="#ff0e00"/><stop offset="0.3336" stop-color="#ff1300"/><stop offset="0.3355" stop-color="#ff2500"/><stop offset="0.3374" stop-color="#ff4900"/><stop offset="0.3393" stop-color="#ff7a00"/><stop offset="0.3431" stop-color="#ffe700"/><stop offset="0.345" stop-color="#deff21"/><stop offset="0.3507" stop-color="#2dffd2"/><stop offset="0.3526" stop-color="#00f3ff"/><stop offset="0.3603" stop-color="#002cff"/><stop offset="0.3622" stop-color="#0018ff"/><stop offset="0.366" stop-color="#003cff"/><stop offset="0.3698" stop-color="#0043ff"/><stop offset="0.6634" stop-color="#0027ff"/><stop offset="0.995" stop-color="#0013ff"/><stop offset="0.9989" stop-color="#0010ff"/></linearGradient><linearGradient id="f80"><stop offset="0" stop-color="#ff1e00"/><stop offset="0.009531" stop-color="#ff2200"/><stop offset="0.1125" stop-color="#ff2000"/><stop offset="0.3317" stop-color="#ff0e00"/><stop offset="0.3336" stop-color="#ff1300"/><stop offset="0.3355" stop-color="#ff2400"/><stop offset="0.3374" stop-color="#ff4700"/><stop offset="0.3393" stop-color="#ff7800"/><stop offset="0.3431" stop-color="#ffe400"/><stop offset="0.345" stop-color="#e0ff1f"/><stop offset="0.3507" stop-color="#2bffd4"/><stop offset="0.3526" stop-color="#00f2ff"/><stop offset="0.3603" stop-color="#002cff"/><stop offset="0.3622" stop-color="#0018ff"/><stop offset="0.366" stop-color="#003cff"/><stop offset="0.3698" stop-color="#0043ff"/><stop offset="0.6634" stop-color="#0027ff"/><stop offset="0.995" stop-color="#0013ff"/><stop offset="0.9989" stop-color="#0010ff"/></linearGradient><linearGradient id="f81"><stop offset="0" stop-color="#ff1e00"/><stop offset="0.009531" stop-color="#ff2200"/><stop offset="0.1125" stop-color="#ff1f00"/><stop offset="0.3317" stop-color="#ff0e00"/><stop offset="0.3336" stop-color="#ff1300"/><stop offset="0.3355" stop-color="#ff2400"/><stop offset="0.3374" stop-color="#ff4800"/><stop offset="0.3393" stop-color="#ff7900"/><stop offset="0.3431" stop-color="#ffe600"/><stop offset="0.345" stop-color="#dfff20"/><stop offset="0.3507" stop-color="#2dffd2"/><stop offset="0.3526" stop-color="#00f3ff"/><stop offset="0.3603" stop-color="#002cff"/><stop offset="0.3622" stop-color="#0017ff"/><stop offset="0.366" stop-color="#003cff"/><stop offset="0.3698" stop-color="#0043ff"/><stop offset="0.6634" stop-color="#0027ff"/><stop offset="0.995" stop-color="#0013ff"/><stop offset="0.9989" stop-color="#0010ff"/></linearGradient><linearGradient id="f82"><stop offset="0" stop-color="#ff1d00"/><stop offset="0.009531" stop-color="#ff2100"/><stop offset="0.1106" stop-color="#ff1f00"/><stop offset="0.3317" stop-color="#ff0d00"/><stop offset="0.3336" stop-color="#ff1200"/><stop offset="0.3355" stop-color="#ff2400"/><stop offset="0.3374" stop-color="#ff4800"/><stop offset="0.3393" stop-color="#ff7900"/><stop offset="0.3431" stop-color="#ffe600"/><stop offset="0.345" stop-color="#dfff20"/><stop offset="0.3507" stop-color="#2effd1"/><stop offset="0.3526" stop-color="#00f4ff"/><stop offset="0.3603" stop-color="#002cff"/><stop offset="0.3622" stop-color="#0017ff"/><stop offset="0.366" stop-color="#003bff"/><stop offset="0.3698" stop-color="#0042ff"/><stop offset="0.6634" stop-color="#0027ff"/><stop offset="0.995" stop-color="#0013ff"/><stop offset="0.9989" stop-color="#0010ff"/></linearGradient><linearGradient id="f83"><stop offset="0" stop-color="#ff1d00"/><stop offset="0.009531" stop-color="#ff2100"/><stop offset="0.1125" stop-color="#ff1e00"/><stop offset="0.3317" stop-color="#ff0d00"/><stop offset="0.3336" stop-color="#ff1200"/><stop offset="0.3355" stop-color="#ff2300"/><stop offset="0.3374" stop-color="#ff4700"/><stop offset="0.3393" stop-color="#ff7700"/><stop offset="0.3431" stop-color="#ffe300"/><stop offset="0.345" stop-color="#e1ff1e"/><stop offset="0.3507" stop-color="#2cffd3"/><stop offset="0.3526" stop-color="#00f2ff"/><stop offset="0.3603" stop-color="#002cff"/><stop offset="0.3622" stop-color="#0017ff"/><stop offset="0.366" stop-color="#003cff"/><stop offset="0.3698" stop-color="#0042ff"/><stop offset="0.6615" stop-color="#0027ff"/><stop offset="0.995" stop-color="#0013ff"/><stop offset="0.9989" stop-color="#0010ff"/></linearGradient><linearGradient id="f84"><stop offset="0" stop-color="#ff1c00"/><stop offset="0.009531" stop-color="#ff2000"/><stop offset="0.1106" stop-color="#ff1e00"/><stop offset="0.3317" stop-color="#ff0d00"/><stop offset="0.3336" stop-color="#ff1200"/><stop offset="0.3355" stop-color="#ff2400"/><stop offset="0.3374" stop-color="#ff4700"/><stop offset="0.3393" stop-color="#ff7800"/><stop offset="0.3431" stop-color="#ffe500"/><stop offset="0.345" stop-color="#dfff20"/><stop offset="0.3507" stop-color="#2effd1"/><stop offset="0.3526" stop-color="#00f4ff"/><stop offset="0.3603" stop-color="#002cff"/><stop offset="0.3622" stop-color="#0017ff"/><stop offset="0.366" stop-color="#003bff"/><stop offset="0.3698" stop-color="#0042ff"/><stop offset="0.6634" stop-color="#0026ff"/><stop offset="0.995" stop-color="#0013ff"/><stop offset="0.9989" stop-color="#0010ff"/></linearGradient><linearGradient id="f85"><stop offset="0" stop-color="#ff1c00"/><stop offset="0.009531" stop-color="#ff2000"/><stop offset="0.1106" stop-color="#ff1e00"/><stop offset="0.3317" stop-color="#ff0d00"/><stop offset="0.3336" stop-color="#ff1200"/><stop offset="0.3355" stop-color="#ff2300"/><stop offset="0.3374" stop-color="#ff4700"/><stop offset="0.3393" stop-color="#ff7800"/><stop offset="0.3431" stop-color="#ffe400"/><stop offset="0.345" stop-color="#e0ff1f"/><stop offset="0.3507" stop-color="#2effd1"/><stop offset="0.3526" stop-color="#00f4ff"/><stop offset="0.3603" stop-color="#002cff"/><stop offset="0.3622" stop-color="#0017ff"/><stop offset="0.366" stop-color="#003bff"/><stop offset="0.3698" stop-color="#0042ff"/><stop offset="0.6615" stop-color="#0027ff"/><stop offset="0.995" stop-color="#0013ff"/><stop offset="0.9989" stop-color="#0010ff"/></linearGradient><linearGradient id="f86"><stop offset="0" stop-color="#ff1c00"/><stop offset="0.009531" stop-color="#ff2000"/><stop offset="0.1106" stop-color="#ff1d00"/><stop offset="0.3317" stop-color="#ff0c00"/><stop offset="0.3336" stop-color="#ff1100"/><stop offset="0.3355" stop-color="#ff2300"/><stop offset="0.3374" stop-color="#ff4600"/><stop offset="0.3393" stop-color="#ff7700"/><stop offset="0.3431" stop-color="#ffe300"/><stop offset="0.345" stop-color="#e1ff1e"/><stop offset="0.3507" stop-color="#2dffd2"/><stop offset="0.3526" stop-color="#00f3ff"/><stop offset="0.3603" stop-color="#002cff"/><stop offset="0.3622" stop-color="#0016ff"/><stop offset="0.366" stop-color="#003bff"/><stop offset="0.3698" stop-color="#0042ff"/><stop offset="0.6615" stop-color="#0026ff"/><stop offset="0.995" stop-color="#0013ff"/><stop offset="0.9989" stop-color="#0010ff"/></linearGradient><linearGradient id="f87"><stop offset="0" stop-color="#ff1b00"/><stop offset="0.009531" stop-color="#ff1f00"/><stop offset="0.1106" stop-color="#ff1d00"/><stop offset="0.3317" stop-color="#ff0c00"/><stop offset="0.3336" stop-color="#ff1200"/><stop offset="0.3355" stop-color="#ff2300"/><stop offset="0.3374" stop-color="#ff4700"/><stop offset="0.3393" stop-color="#ff7800"/><stop offset="0.3431" stop-color="#ffe500"/><stop offset="0.345" stop-color="#e0ff1f"/><stop offset="0.3507" stop-color="#2fffd0"/><stop offset="0.3526" stop-color="#00f5ff"/><stop offset="0.3603" stop-color="#002cff"/><stop offset="0.3622" stop-color="#0016ff"/><stop offset="0.366" stop-color="#003aff"/><stop offset="0.3698" stop-color="#0041ff"/><stop offset="0.6615" stop-color="#0026ff"/><stop offset="0.995" stop-color="#0013ff"/><stop offset="0.9989" stop-color="#0010ff"/></linearGradient><linearGradient id="f88"><stop offset="0" stop-color="#ff1b00"/><stop offset="0.009531" stop-color="#ff1f00"/><stop offset="0.1106" stop-color="#ff1d00"/><stop offset="0.3317" stop-color="#ff0c00"/><stop offset="0.3336" stop-color="#ff1100"/><stop offset="0.3355" stop-color="#ff2300"/><stop offset="0.3374" stop-color="#ff4600"/><stop offset="0.3393" stop-color="#ff7700"/><stop offset="0.3431" stop-color="#ffe300"/><stop offset="0.345" stop-color="#e1ff1e"/><stop offset="0.3507" stop-color="#2dffd2"/><stop offset="0.3526" stop-color="#00f3ff"/><stop offset="0.3603" stop-color="#002cff"/><stop offset="0.3622" stop-color="#0016ff"/><stop offset="0.366" stop-color="#003aff"/><stop offset="0.3698" stop-color="#0041ff"/><stop offset="0.6615" stop-color="#0026ff"/><stop offset="0.995" stop-color="#0013ff"/><stop offset="0.9989" stop-color="#0010ff"/></linearGradient><linearGradient id="f89"><stop offset="0" stop-color="#ff1b00"/><stop offset="0.009531" stop-color="#ff1f00"/><stop offset="0.1106" stop-color="#ff1d00"/><stop offset="0.3317" stop-color="#ff0c00"/><stop offset="0.3336" stop-color="#ff1100"/><stop offset="0.3355" stop-color="#ff2300"/><stop offset="0.3374" stop-color="#ff4600"/><stop offset="0.3393" stop-color="#ff7700"/><stop offset="0.3431" stop-color="#ffe400"/><stop offset="0.345" stop-color="#e1ff1e"/><stop offset="0.3507" stop-color="#2effd1"/><stop offset="0.3526" stop-color="#00f4ff"/><stop offset="0.3603" stop-color="#002cff"/><stop offset="0.3622" stop-color="#0016ff"/><stop offset="0.366" stop-color="#003aff"/><stop offset="0.3698" stop-color="#0041ff"/><stop offset="0.6615" stop-color="#0026ff"/><stop offset="0.995" stop-color="#0013ff"/><stop offset="0.9989" stop-color="#0010ff"/></linearGradient><linearGradient id="f90"><stop offset="0" stop-color="#ff1b00"/><stop offset="0.007625" stop-color="#ff1f00"/><stop offset="0.1087" stop-color="#ff1d00"/><stop offset="0.3317" stop-color="#ff0c00"/><stop offset="0.3336" stop-color="#ff1100"/><stop offset="0.3355" stop-color="#ff2300"/><stop offset="0.3374" stop-color="#ff4700"/><stop offset="0.3393" stop-color="#ff7800"/><stop offset="0.3431" stop-color="#ffe500"/><stop offset="0.345" stop-color="#e0ff1f"/><stop offset="0.3507" stop-color="#2fffd0"/><stop offset="0.3526" stop-color="#00f5ff"/><stop offset="0.3603" stop-color="#002cff"/><stop offset="0.3622" stop-color="#0016ff"/><stop offset="0.366" stop-color="#003aff"/><stop offset="0.3698" stop-color="#0041ff"/><stop offset="0.6615" stop-color="#0026ff"/><stop offset="0.995" stop-color="#0013ff"/><stop offset="0.9989" stop-color="#0010ff"/></linearGradient><linearGradient id="f91"><stop offset="0" stop-color="#ff1b00"/><stop offset="0.009531" stop-color="#ff1f00"/><stop offset="0.1106" stop-color="#ff1c00"/><stop offset="0.3317" stop-color="#ff0c00"/><stop offset="0.3336" stop-color="#ff1100"/><stop offset="0.3355" stop-color="#ff2200"/><stop offset="0.3374" stop-color="#ff4600"/><stop offset="0.3393" stop-color="#ff7600"/><stop offset="0.3431" stop-color="#ffe200"/><stop offset="0.345" stop-color="#e2ff1d"/><stop offset="0.3507" stop-color="#2cffd3"/><stop offset="0.3526" stop-color="#00f3ff"/><stop offset="0.3603" stop-color="#002cff"/><stop offset="0.3622" stop-color="#0016ff"/><stop offset="0.366" stop-color="#003aff"/><stop offset="0.3698" stop-color="#0041ff"/><stop offset="0.6615" stop-color="#0026ff"/><stop offset="0.995" stop-color="#0013ff"/><stop offset="0.9989" stop-color="#0010ff"/></linearGradient><linearGradient id="f92"><stop offset="0" stop-color="#ff1b00"/><stop offset="0.007625" stop-color="#ff1f00"/><stop offset="0.1087" stop-color="#ff1c00"/><stop offset="0.3317" stop-color="#ff0c00"/><stop offset="0.3336" stop-color="#ff1100"/><stop offset="0.3355" stop-color="#ff2300"/><stop offset="0.3374" stop-color="#ff4600"/><stop offset="0.3393" stop-color="#ff7700"/><stop offset="0.3431" stop-color="#ffe400"/><stop offset="0.345" stop-color="#e0ff1f"/><stop offset="0.3507" stop-color="#2fffd0"/><stop offset="0.3526" stop-color="#00f5ff"/><stop offset="0.3603" stop-color="#002cff"/><stop offset="0.3622" stop-color="#0016ff"/><stop offset="0.366" stop-color="#003aff"/><stop offset="0.3698" stop-color="#0041ff"/><stop offset="0.6615" stop-color="#0026ff"/><stop offset="0.995" stop-color="#0013ff"/><stop offset="0.9989" stop-color="#0010ff"/></linearGradient></defs>
<g shape-rendering="crispEdges"><rect x="28.4" y="10.00" width="262.3" height="2.60" fill="url(#f0)"/><rect x="28.4" y="12.00" width="262.3" height="2.60" fill="url(#f1)"/><rect x="28.4" y="14.00" width="262.3" height="2.60" fill="url(#f2)"/><rect x="28.4" y="16.00" width="262.3" height="2.60" fill="url(#f3)"/><rect x="28.4" y="18.00" width="262.3" height="2.60" fill="url(#f4)"/><rect x="28.4" y="20.00" width="262.3" height="2.60" fill="url(#f5)"/><rect x="28.4" y="22.00" width="262.3" height="2.60" fill="url(#f6)"/><rect x="28.4" y="24.00" width="262.3" height="2.60" fill="url(#f7)"/><rect x="28.4" y="26.00" width="262.3" height="2.60" fill="url(#f8)"/><rect x="28.4" y="28.00" width="262.3" height="2.60" fill="url(#f9)"/><rect x="28.4" y="30.00" width="262.3" height="2.60" fill="url(#f10)"/><rect x="28.4" y="32.00" width="262.3" height="2.60" fill="url(#f11)"/><rect x="28.4" y="34.00" width="262.3" height="2.60" fill="url(#f12)"/><rect x="28.4" y="36.00" width="262.3" height="2.60" fill="url(#f13)"/><rect x="28.4" y="38.00" width="262.3" height="2.60" fill="url(#f14)"/><rect x="28.4" y="40.00" width="262.3" height="2.60" fill="url(#f15)"/><rect x="28.4" y="42.00" width="262.3" height="2.60" fill="url(#f16)"/><rect x="28.4" y="44.00" width="262.3" height="2.60" fill="url(#f17)"/><rect x="28.4" y="46.00" width="262.3" height="2.60" fill="url(#f18)"/><rect x="28.4" y="48.00" width="262.3" height="2.60" fill="url(#f19)"/><rect x="28.4" y="50.00" width="262.3" height="2.60" fill="url(#f20)"/><rect x="28.4" y="52.00" width="262.3" height="2.60" fill="url(#f21)"/><rect x="28.4" y="54.00" width="262.3" height="2.60" fill="url(#f22)"/><rect x="28.4" y="56.00" width="262.3" height="2.60" fill="url(#f23)"/><rect x="28.4" y="58.00" width="262.3" height="2.60" fill="url(#f24)"/><rect x="28.4" y="60.00" width="262.3" height="2.60" fill="url(#f25)"/><rect x="28.4" y="62.00" width="262.3" height="2.60" fill="url(#f26)"/><rect x="28.4" y="64.00" width="262.3" height="2.60" fill="url(#f27)"/><rect x="28.4" y="66.00" width="262.3" height="2.60" fill="url(#f28)"/><rect x="28.4" y="68.00" width="262.3" height="2.60" fill="url(#f29)"/><rect x="28.4" y="70.00" width="262.3" height="2.60" fill="url(#f30)"/><rect x="28.4" y="72.00" width="262.3" height="2.60" fill="url(#f31)"/><rect x="28.4" y="74.00" width="262.3" height="2.60" fill="url(#f32)"/><rect x="28.4" y="76.00" width="262.3" height="2.60" fill="url(#f33)"/><rect x="28.4" y="78.00" width="262.3" height="2.60" fill="url(#f34)"/><rect x="28.4" y="80.00" width="262.3" height="2.60" fill="url(#f35)"/><rect x="28.4" y="82.00" width="262.3" height="2.60" fill="url(#f36)"/><rect x="28.4" y="84.00" width="262.3" height="2.60" fill="url(#f37)"/><rect x="28.4" y="86.00" width="262.3" height="2.60" fill="url(#f38)"/><rect x="28.4" y="88.00" width="262.3" height="2.60" fill="url(#f39)"/><rect x="28.4" y="90.00" width="262.3" height="2.60" fill="url(#f40)"/><rect x="28.4" y="92.00" width="262.3" height="2.60" fill="url(#f41)"/><rect x="28.4" y="94.00" width="262.3" height="2.60" fill="url(#f42)"/><rect x="28.4" y="96.00" width="262.3" height="2.60" fill="url(#f43)"/><rect x="28.4" y="98.00" width="262.3" height="2.60" fill="url(#f44)"/><rect x="28.4" y="100.00" width="262.3" height="2.60" fill="url(#f45)"/><rect x="28.4" y="102.00" width="262.3" height="2.60" fill="url(#f46)"/><rect x="28.4" y="104.00" width="262.3" height="2.60" fill="url(#f47)"/><rect x="28.4" y="106.00" width="262.3" height="2.60" fill="url(#f48)"/><rect x="28.4" y="108.00" width="262.3" height="2.60" fill="url(#f49)"/><rect x="28.4" y="110.00" width="262.3" height="2.60" fill="url(#f50)"/><rect x="28.4" y="112.00" width="262.3" height="2.60" fill="url(#f51)"/><rect x="28.4" y="114.00" width="262.3" height="2.60" fill="url(#f52)"/><rect x="28.4" y="116.00" width="262.3" height="2.60" fill="url(#f53)"/><rect x="28.4" y="118.00" width="262.3" height="2.60" fill="url(#f54)"/><rect x="28.4" y="120.00" width="262.3" height="2.60" fill="url(#f55)"/><rect x="28.4" y="122.00" width="262.3" height="2.60" fill="url(#f56)"/><rect x="28.4" y="124.00" width="262.3" height="2.60" fill="url(#f57)"/><rect x="28.4" y="126.00" width="262.3" height="2.60" fill="url(#f58)"/><rect x="28.4" y="128.00" width="262.3" height="2.60" fill="url(#f59)"/><rect x="28.4" y="130.00" width="262.3" height="2.60" fill="url(#f60)"/><rect x="28.4" y="132.00" width="262.3" height="2.60" fill="url(#f61)"/><rect x="28.4" y="134.00" width="262.3" height="2.60" fill="url(#f62)"/><rect x="28.4" y="136.00" width="262.3" height="2.60" fill="url(#f63)"/><rect x="28.4" y="138.00" width="262.3" height="2.60" fill="url(#f64)"/><rect x="28.4" y="140.00" width="262.3" height="2.60" fill="url(#f65)"/><rect x="28.4" y="142.00" width="262.3" height="2.60" fill="url(#f66)"/><rect x="28.4" y="144.00" width="262.3" height="2.60" fill="url(#f67)"/><rect x="28.4" y="146.00" width="262.3" height="2.60" fill="url(#f68)"/><rect x="28.4" y="148.00" width="262.3" height="2.60" fill="url(#f69)"/><rect x="28.4" y="150.00" width="262.3" height="2.60" fill="url(#f70)"/><rect x="28.4" y="152.00" width="262.3" height="2.60" fill="url(#f71)"/><rect x="28.4" y="154.00" width="262.3" height="2.60" fill="url(#f72)"/><rect x="28.4" y="156.00" width="262.3" height="2.60" fill="url(#f73)"/><rect x="28.4" y="158.00" width="262.3" height="2.60" fill="url(#f74)"/><rect x="28.4" y="160.00" width="262.3" height="2.60" fill="url(#f75)"/><rect x="28.4" y="162.00" width="262.3" height="2.60" fill="url(#f76)"/><rect x="28.4" y="164.00" width="262.3" height="2.60" fill="url(#f77)"/><rect x="28.4" y="166.00" width="262.3" height="2.60" fill="url(#f78)"/><rect x="28.4" y="168.00" width="262.3" height="2.60" fill="url(#f79)"/><rect x="28.4" y="170.00" width="262.3" height="2.60" fill="url(#f80)"/><rect x="28.4" y="172.00" width="262.3" height="2.60" fill="url(#f81)"/><rect x="28.4" y="174.00" width="262.3" height="2.60" fill="url(#f82)"/><rect x="28.4" y="176.00" width="262.3" height="2.60" fill="url(#f83)"/><rect x="28.4" y="178.00" width="262.3" height="2.60" fill="url(#f84)"/><rect x="28.4" y="180.00" width="262.3" height="2.60" fill="url(#f85)"/><rect x="28.4" y="182.00" width="262.3" height="2.60" fill="url(#f86)"/><rect x="28.4" y="184.00" width="262.3" height="2.60" fill="url(#f87)"/><rect x="28.4" y="186.00" width="262.3" height="2.60" fill="url(#f88)"/><rect x="28.4" y="188.00" width="262.3" height="2.60" fill="url(#f89)"/><rect x="28.4" y="190.00" width="262.3" height="2.60" fill="url(#f90)"/><rect x="28.4" y="192.00" width="262.3" height="2.60" fill="url(#f91)"/><rect x="28.4" y="194.00" width="262.3" height="1.60" fill="url(#f92)"/></g>
<clipPath id="pc"><rect x="28.4" y="10.0" width="262.3" height="185.6"/></clipPath><path clip-path="url(#pc)" fill="none" stroke="#d0d0d0" stroke-opacity="0.6" stroke-width="0.6" d="M45.5,196.0 45.6,158.1 45.9,125.7 46.4,98.8 47.1,75.8 48.1,56.4 49.3,39.9 51.0,24.0 53.0,9.5M57.5,196.0 57.6,157.1 58.2,123.7 59.0,96.8 60.2,74.3 61.0,63.9 61.9,54.9 62.9,46.4 64.1,38.4 65.5,30.4 66.9,23.5 68.5,16.5 70.4,9.5M65.8,196.0 66.0,156.1 66.7,122.2 67.2,108.2 67.8,95.3 68.5,83.3 69.4,72.3 70.4,62.4 71.6,53.4 72.9,44.9 74.4,36.9 76.2,29.4 78.1,22.5 80.2,16.0 82.6,9.5M72.5,196.0 72.8,155.6 73.2,137.2 73.6,120.7 74.2,106.2 75.0,92.8 75.9,80.8 76.9,70.3 78.1,60.4 79.5,51.4 81.2,42.9 83.0,35.4 85.0,28.4 87.4,21.5 89.9,15.5 92.9,9.5M78.4,196.0 78.5,174.6 78.7,154.6 79.1,136.2 79.6,119.2 80.3,104.2 81.2,90.8 82.2,78.8 83.5,67.8 84.9,57.9 86.6,48.9 88.4,40.9 90.6,33.4 93.0,26.5 95.6,20.5 98.7,14.7 102.1,9.5M83.6,196.0 83.7,174.1 84.0,153.1 84.4,133.7 85.1,116.7 85.9,101.3 86.9,87.8 88.1,75.8 89.5,64.9 91.1,54.9 93.1,45.9 95.4,37.4 97.9,30.4 99.3,27.0 100.7,24.0 102.3,21.0 103.8,18.5 105.5,16.0 107.2,13.8 109.2,11.5 111.2,9.5M88.3,196.0 88.5,172.1 88.8,149.6 89.4,129.7 90.1,111.7 91.2,95.8 92.4,81.8 93.9,69.3 95.6,58.4 97.7,48.4 98.9,43.9 100.2,39.4 101.5,35.4 103.0,31.4 104.6,28.0 106.1,25.0 107.9,22.0 109.7,19.5 111.3,17.5 113.2,15.6 115.2,13.9 117.7,12.1 120.1,10.7 122.6,9.5M267.3,9.5 273.4,11.5 279.5,13.7 285.5,16.0 291.0,18.3M92.7,196.0 92.8,175.6 93.1,156.1 93.5,138.2 94.1,121.7 94.9,106.7 95.8,93.8 96.9,81.8 98.3,70.8 99.8,60.9 101.6,51.9 103.6,43.9 105.9,36.9 108.5,30.4 110.0,27.5 111.4,25.0 112.7,23.0 114.2,21.0 115.7,19.4 117.2,18.2 119.7,16.8 122.1,15.9 125.1,15.2 129.1,14.5 134.6,14.0 140.6,13.6 147.5,13.4 154.5,13.4 161.0,13.5 168.0,13.9 174.9,14.4 181.4,15.1 188.4,15.9 194.9,16.9 201.3,18.1 207.8,19.4 219.3,22.1 230.6,25.5 241.7,29.4 252.1,33.6 262.3,38.4 267.6,41.2 272.5,43.9 282.0,49.8 291.0,56.0M96.8,196.0 96.9,176.6 97.2,157.6 97.6,140.1 98.2,123.7 98.9,109.2 99.9,95.8 101.0,83.8 102.2,73.3 103.7,63.4 105.4,54.4 107.3,46.4 109.6,38.9 110.8,35.4 112.3,31.9 113.7,28.9 115.4,26.0 116.7,23.9 117.7,22.7 119.2,21.5 120.1,21.0 122.1,20.4 123.6,20.4 142.1,22.8 150.0,24.1 157.5,25.5 165.0,27.0 172.5,28.7 184.9,32.0 191.1,33.9 197.4,36.0 208.9,40.4 214.8,42.9 220.3,45.4 225.7,48.1 231.1,50.9 236.2,53.7 241.2,56.7 246.1,59.9 250.7,63.0 255.3,66.3 259.9,69.8 264.1,73.3 268.6,77.2 272.5,80.8 276.5,84.8 280.3,88.8 284.0,93.0 287.6,97.3 291.0,101.7M100.7,196.0 100.8,176.6 101.0,158.1 101.5,141.1 102.0,125.2 102.8,110.7 103.6,98.3 104.7,86.3 105.9,75.3 107.4,64.9 109.2,55.4 111.2,46.9 113.4,39.4 114.9,35.4 116.3,31.9 117.2,30.1 118.2,28.5 119.2,27.4 120.1,26.6 121.1,26.1 122.6,25.8 123.6,26.0 130.6,28.6 151.8,35.9 165.5,41.1 173.4,44.4 180.4,47.5 187.4,50.9 194.4,54.5 201.2,58.4 208.3,62.7 214.5,66.8 220.8,71.3 226.6,75.8 232.5,80.8 238.0,85.8 243.5,91.3 248.6,96.8 253.6,102.8 258.2,108.7 262.3,114.7 266.1,120.7 269.8,127.2 273.0,133.7 275.9,140.1 278.4,146.6 280.7,153.6 282.7,160.6 284.3,167.6 285.5,174.6 286.3,181.5 286.8,188.5 287.0,196.0M104.4,196.0 104.7,161.6 105.0,145.1 105.5,130.2 106.1,116.7 106.9,103.7 107.8,92.3 108.9,81.8 110.3,70.8 111.8,61.4 113.6,52.4 115.6,44.4 117.2,39.6 118.2,37.2 119.2,35.5 120.1,34.3 121.1,33.6 122.1,33.2 122.6,33.2 123.6,33.5 130.6,37.5 149.8,47.9 160.3,53.9 171.7,60.9 177.0,64.4 182.8,68.3 188.1,72.3 193.8,76.8 198.6,80.8 203.6,85.3 208.3,89.8 213.2,94.8 217.2,99.3 221.4,104.2 225.3,109.2 229.2,114.7 232.8,120.2 236.1,125.7 239.1,131.2 241.8,136.7 244.2,142.1 246.6,148.1 248.4,153.6 250.2,159.6 251.7,165.6 252.9,171.6 253.8,177.5 254.5,183.5 254.8,189.5 255.0,196.0M107.9,196.0 108.1,164.1 108.8,135.2 109.4,122.2 110.0,110.2 110.8,98.8 111.7,88.8 112.8,78.3 114.1,68.8 115.6,59.9 117.2,52.5 118.2,49.1 119.2,46.5 120.1,44.8 121.1,43.7 122.1,43.2 122.6,43.2 123.6,43.4 151.0,64.4 161.4,72.8 170.4,80.8 179.0,89.3 186.8,97.8 193.8,106.2 197.1,110.7 200.2,115.2 203.2,119.7 206.2,124.7 209.0,129.7 211.5,134.7 213.8,139.7 215.9,144.6 217.8,149.6 219.4,154.6 220.9,159.6 222.2,164.6 223.2,169.6 224.2,175.1 224.9,180.0 225.4,185.5 225.7,190.5 225.7,196.0M111.2,196.0 111.4,167.1 112.0,140.6 113.0,117.2 114.4,96.8 115.3,86.8 116.3,77.8 117.2,71.4 118.2,66.0 119.2,62.1 120.1,59.4 121.1,57.7 122.1,56.9 122.6,56.7 123.6,57.0 140.8,74.3 149.7,83.8 157.4,92.8 164.2,101.3 169.9,109.2 175.1,117.2 180.1,125.7 184.4,134.2 188.3,143.1 191.3,151.6 194.0,160.6 195.9,169.1 197.4,178.0 198.2,187.0 198.4,196.0M114.4,196.0 114.6,170.6 115.0,146.6 115.8,124.7 116.9,106.2 118.2,92.7 119.3,84.8 120.1,81.2 121.1,78.3 122.1,76.7 122.6,76.4 123.1,76.4 123.6,76.7 124.1,77.3 134.4,91.3 140.2,99.8 145.3,107.7 149.7,115.2 153.7,122.7 157.3,130.2 160.4,137.2 163.2,144.6 165.6,151.6 167.7,159.1 169.4,166.6 170.6,173.6 171.5,181.0 172.1,188.5 172.2,196.0M117.6,196.0 117.7,177.5 118.0,160.6 118.3,149.6 119.1,133.2 120.0,122.2 121.1,113.8 122.1,110.2 122.6,109.4 123.1,109.1 123.6,109.3 126.7,115.7 129.9,122.7 132.7,129.7 135.0,135.7 136.9,141.1 138.8,147.1 140.3,152.6 141.7,158.1 142.8,163.6 143.8,169.1 144.6,174.6 145.2,180.0 145.7,185.5 145.9,191.0 146.0,196.0"/>

<g fill="none" stroke="#1a1a1a">
<rect x="116.3" y="19.2" width="11.3" height="176.4" stroke-width="0.55" stroke-opacity="0.8"/>
<path d="M118.4,19.2V195.6M120.4,19.2V195.6M122.4,19.2V195.6M124.4,19.2V195.6" stroke-width="0.45" stroke-opacity="0.7"/>
</g>
<g fill="none" stroke="#444" stroke-width="0.6">
<path d="M15.6,10.0H290.7V201H15.6Z"/>
<path d="M14.2,195.2H15.6M14.2,177.6H15.6M14.2,160.0H15.6M14.2,142.4H15.6M14.2,124.8H15.6M14.2,107.2H15.6M14.2,89.6H15.6M14.2,72.0H15.6M14.2,54.4H15.6M14.2,36.8H15.6M14.2,19.2H15.6M28.4,201V202.4M28.4,10V11.4M63.6,201V202.4M63.6,10V11.4M98.8,201V202.4M98.8,10V11.4M134.0,201V202.4M134.0,10V11.4M169.2,201V202.4M169.2,10V11.4M204.4,201V202.4M204.4,10V11.4M239.6,201V202.4M239.6,10V11.4M274.8,201V202.4M274.8,10V11.4"/>
</g>
<g font-family="DejaVu Sans, Liberation Sans, sans-serif" font-size="5.8" fill="#000" stroke="#000" stroke-width="0.12">
<text x="13" y="197.5" text-anchor="end" font-stretch="condensed" font-size="6.2">0</text>
<text x="13" y="179.9" text-anchor="end" font-stretch="condensed" font-size="6.2">0.01</text>
<text x="13" y="162.3" text-anchor="end" font-stretch="condensed" font-size="6.2">0.02</text>
<text x="13" y="144.7" text-anchor="end" font-stretch="condensed" font-size="6.2">0.03</text>
<text x="13" y="127.1" text-anchor="end" font-stretch="condensed" font-size="6.2">0.04</text>
<text x="13" y="109.5" text-anchor="end" font-stretch="condensed" font-size="6.2">0.05</text>
<text x="13" y="91.9" text-anchor="end" font-stretch="condensed" font-size="6.2">0.06</text>
<text x="13" y="74.3" text-anchor="end" font-stretch="condensed" font-size="6.2">0.07</text>
<text x="13" y="56.7" text-anchor="end" font-stretch="condensed" font-size="6.2">0.08</text>
<text x="13" y="39.1" text-anchor="end" font-stretch="condensed" font-size="6.2">0.09</text>
<text x="13" y="21.5" text-anchor="end" font-stretch="condensed" font-size="6.2">0.1</text>
<text x="28.4" y="209.6" text-anchor="middle" font-stretch="condensed" font-size="6.2">0</text>
<text x="63.6" y="209.6" text-anchor="middle" font-stretch="condensed" font-size="6.2">0.02</text>
<text x="98.8" y="209.6" text-anchor="middle" font-stretch="condensed" font-size="6.2">0.04</text>
<text x="134.0" y="209.6" text-anchor="middle" font-stretch="condensed" font-size="6.2">0.06</text>
<text x="169.2" y="209.6" text-anchor="middle" font-stretch="condensed" font-size="6.2">0.08</text>
<text x="204.4" y="209.6" text-anchor="middle" font-stretch="condensed" font-size="6.2">0.1</text>
<text x="239.6" y="209.6" text-anchor="middle" font-stretch="condensed" font-size="6.2">0.12</text>
<text x="274.8" y="209.6" text-anchor="middle" font-stretch="condensed" font-size="6.2">0.14</text>
<text x="287" y="210">m</text>
<text x="160.5" y="7" text-anchor="middle" font-size="5.9">Surface: Magnetic flux density norm (T)</text>
<text x="304.5" y="36.7">3</text>
<text x="304.5" y="62.8">2.5</text>
<text x="304.5" y="89.0">2</text>
<text x="304.5" y="115.1">1.5</text>
<text x="304.5" y="141.3">1</text>
<text x="304.5" y="167.4">0.5</text>
<text x="302" y="19.3">3.08</text>
<text x="302" y="200.5">5.65×10<tspan dy="-2.6" font-size="4.6">-6</tspan></text>
</g>
<path d="M294.2,19.2L297.2,13.8L300.2,19.2ZM294.2,195.6L297.2,201L300.2,195.6Z" fill="#000"/>
<defs><linearGradient id="lg" x1="0" y1="1" x2="0" y2="0"><stop offset="0" stop-color="#0000ff"/><stop offset="0.35" stop-color="#00ffff"/><stop offset="0.65" stop-color="#ffff00"/><stop offset="0.97" stop-color="#ff0000"/><stop offset="1" stop-color="#d70000"/></linearGradient></defs>
<rect x="297.8" y="30.2" width="4.2" height="161.2" fill="url(#lg)"/>
<path d="M301,34.4H303M301,60.5H303M301,86.7H303M301,112.8H303M301,139.0H303M301,165.1H303" stroke="#000" stroke-width="0.5"/>
<g fill="none" stroke="#999" stroke-width="0.6">
<path d="M6,516.5L137,508L232,533.5M210,540L337,470.2M196,254L236.7,232M5.9,327.3L9.8,328.9M5.9,355.8L9.8,353.8M267.4,400.3L337,419.4"/>
</g>
<defs><linearGradient id="g0"><stop offset="0" stop-color="#1aab91"/><stop offset="0.01087" stop-color="#1aaf94"/><stop offset="0.03043" stop-color="#1ec4a7"/><stop offset="0.06522" stop-color="#1ec6a8"/><stop offset="0.09783" stop-color="#1cb69b"/><stop offset="0.1152" stop-color="#1cb69a"/><stop offset="0.2543" stop-color="#21d8b7"/><stop offset="0.437" stop-color="#26f5d0"/><stop offset="0.4783" stop-color="#29ffd9"/><stop offset="0.5109" stop-color="#2dffe3"/><stop offset="0.5609" stop-color="#3afffe"/><stop offset="0.5696" stop-color="#3effff"/><stop offset="0.5891" stop-color="#4dffff"/><stop offset="0.6239" stop-color="#71ffff"/><stop offset="0.6435" stop-color="#7affff"/><stop offset="0.6609" stop-color="#73ffff"/><stop offset="0.7" stop-color="#4bffff"/><stop offset="0.7239" stop-color="#3bffff"/><stop offset="0.75" stop-color="#32ffef"/><stop offset="0.7913" stop-color="#2bffe0"/><stop offset="0.837" stop-color="#28fed8"/><stop offset="1" stop-color="#26fad4"/></linearGradient><linearGradient id="g1"><stop offset="0" stop-color="#1aab91"/><stop offset="0.01087" stop-color="#1aaf94"/><stop offset="0.03043" stop-color="#1ec4a7"/><stop offset="0.06522" stop-color="#1ec6a8"/><stop offset="0.09783" stop-color="#1cb69b"/><stop offset="0.1152" stop-color="#1cb69a"/><stop offset="0.2609" stop-color="#21d9b8"/><stop offset="0.4413" stop-color="#26f6d1"/><stop offset="0.4761" stop-color="#29ffd8"/><stop offset="0.5196" stop-color="#2fffe7"/><stop offset="0.5587" stop-color="#3bfffe"/><stop offset="0.5717" stop-color="#42ffff"/><stop offset="0.5913" stop-color="#54ffff"/><stop offset="0.6261" stop-color="#80ffff"/><stop offset="0.6435" stop-color="#89ffff"/><stop offset="0.6609" stop-color="#80ffff"/><stop offset="0.7087" stop-color="#47ffff"/><stop offset="0.7261" stop-color="#3cffff"/><stop offset="0.7457" stop-color="#34fff2"/><stop offset="0.787" stop-color="#2cffe2"/><stop offset="0.8348" stop-color="#28fed8"/><stop offset="1" stop-color="#26fad4"/></linearGradient><linearGradient id="g2"><stop offset="0" stop-color="#1aab91"/><stop offset="0.01087" stop-color="#1aaf94"/><stop offset="0.03043" stop-color="#1ec4a7"/><stop offset="0.06522" stop-color="#1ec6a8"/><stop offset="0.09783" stop-color="#1cb69b"/><stop offset="0.1152" stop-color="#1cb69a"/><stop offset="0.2326" stop-color="#20d4b4"/><stop offset="0.3391" stop-color="#23e6c3"/><stop offset="0.4543" stop-color="#33f9c9"/><stop offset="0.4761" stop-color="#36ffcd"/><stop offset="0.5283" stop-color="#3fffe1"/><stop offset="0.5652" stop-color="#4bfffc"/><stop offset="0.5761" stop-color="#53ffff"/><stop offset="0.5935" stop-color="#67ffff"/><stop offset="0.6261" stop-color="#9affff"/><stop offset="0.6413" stop-color="#a4ffff"/><stop offset="0.65" stop-color="#a2ffff"/><stop offset="0.6609" stop-color="#97ffff"/><stop offset="0.6913" stop-color="#63ffff"/><stop offset="0.7065" stop-color="#4effff"/><stop offset="0.7304" stop-color="#3cffff"/><stop offset="0.7413" stop-color="#37fff7"/><stop offset="0.7804" stop-color="#2effe5"/><stop offset="0.8304" stop-color="#28ffd9"/><stop offset="1" stop-color="#26fad4"/></linearGradient><linearGradient id="g3"><stop offset="0" stop-color="#1aab91"/><stop offset="0.01087" stop-color="#1aaf94"/><stop offset="0.03043" stop-color="#1ec4a7"/><stop offset="0.06522" stop-color="#1ec6a8"/><stop offset="0.09783" stop-color="#1cb69b"/><stop offset="0.113" stop-color="#1cb69a"/><stop offset="0.2804" stop-color="#21ddbb"/><stop offset="0.387" stop-color="#37edb6"/><stop offset="0.4413" stop-color="#40f7b8"/><stop offset="0.4717" stop-color="#45ffbd"/><stop offset="0.4935" stop-color="#49ffc3"/><stop offset="0.5348" stop-color="#52ffd6"/><stop offset="0.5609" stop-color="#5dffeb"/><stop offset="0.5783" stop-color="#6effff"/><stop offset="0.5935" stop-color="#86ffff"/><stop offset="0.6261" stop-color="#ceffff"/><stop offset="0.6348" stop-color="#d9ffff"/><stop offset="0.6413" stop-color="#dcffff"/><stop offset="0.65" stop-color="#d7ffff"/><stop offset="0.6587" stop-color="#caffff"/><stop offset="0.6891" stop-color="#7affff"/><stop offset="0.7043" stop-color="#5affff"/><stop offset="0.7174" stop-color="#48ffff"/><stop offset="0.7348" stop-color="#3cfffe"/><stop offset="0.7739" stop-color="#30ffe8"/><stop offset="0.8261" stop-color="#29ffda"/><stop offset="0.8848" stop-color="#26fbd5"/><stop offset="1" stop-color="#26fad4"/></linearGradient><linearGradient id="g4"><stop offset="0" stop-color="#1aab91"/><stop offset="0.01087" stop-color="#1aaf94"/><stop offset="0.03043" stop-color="#1ec4a7"/><stop offset="0.06522" stop-color="#1ec6a8"/><stop offset="0.09565" stop-color="#1cb79b"/><stop offset="0.1109" stop-color="#1bb59a"/><stop offset="0.237" stop-color="#20d5b5"/><stop offset="0.3609" stop-color="#40e9a9"/><stop offset="0.4283" stop-color="#4df4a8"/><stop offset="0.4717" stop-color="#55ffae"/><stop offset="0.4891" stop-color="#58ffb3"/><stop offset="0.537" stop-color="#65ffc9"/><stop offset="0.5609" stop-color="#72ffde"/><stop offset="0.5783" stop-color="#87fffa"/><stop offset="0.5826" stop-color="#8fffff"/><stop offset="0.5935" stop-color="#a8ffff"/><stop offset="0.6174" stop-color="#f2ffff"/><stop offset="0.6283" stop-color="#ffffff"/><stop offset="0.6565" stop-color="#feffff"/><stop offset="0.6652" stop-color="#f2ffff"/><stop offset="0.6674" stop-color="#edffff"/><stop offset="0.6913" stop-color="#96ffff"/><stop offset="0.7065" stop-color="#6cffff"/><stop offset="0.7261" stop-color="#4cffff"/><stop offset="0.7478" stop-color="#39fff6"/><stop offset="0.7913" stop-color="#2effe3"/><stop offset="0.837" stop-color="#28ffd9"/><stop offset="0.8935" stop-color="#26fbd5"/><stop offset="1" stop-color="#26fad4"/></linearGradient><linearGradient id="g5"><stop offset="0" stop-color="#1aab91"/><stop offset="0.01087" stop-color="#1aaf94"/><stop offset="0.03043" stop-color="#1ec4a7"/><stop offset="0.06522" stop-color="#1ec6a8"/><stop offset="0.09565" stop-color="#1cb79b"/><stop offset="0.1087" stop-color="#1bb59a"/><stop offset="0.2022" stop-color="#1fcdae"/><stop offset="0.3152" stop-color="#43e29f"/><stop offset="0.413" stop-color="#59f199"/><stop offset="0.4761" stop-color="#65ffa0"/><stop offset="0.5283" stop-color="#74ffb4"/><stop offset="0.5543" stop-color="#81ffc8"/><stop offset="0.5652" stop-color="#8cffd6"/><stop offset="0.5739" stop-color="#98ffe5"/><stop offset="0.5848" stop-color="#b0ffff"/><stop offset="0.5935" stop-color="#caffff"/><stop offset="0.6043" stop-color="#f3ffff"/><stop offset="0.6109" stop-color="#ffffff"/><stop offset="0.6739" stop-color="#feffff"/><stop offset="0.6783" stop-color="#f4ffff"/><stop offset="0.6891" stop-color="#c2ffff"/><stop offset="0.6978" stop-color="#a1ffff"/><stop offset="0.7065" stop-color="#86ffff"/><stop offset="0.7152" stop-color="#72ffff"/><stop offset="0.7261" stop-color="#60fff6"/><stop offset="0.737" stop-color="#53ffee"/><stop offset="0.7739" stop-color="#35ffe7"/><stop offset="0.7935" stop-color="#2effe3"/><stop offset="0.8587" stop-color="#27fdd7"/><stop offset="1" stop-color="#26fad4"/></linearGradient><linearGradient id="g6"><stop offset="0" stop-color="#1aab91"/><stop offset="0.01087" stop-color="#1aaf94"/><stop offset="0.02609" stop-color="#1dc2a4"/><stop offset="0.03261" stop-color="#1ec5a7"/><stop offset="0.06522" stop-color="#1ec6a8"/><stop offset="0.1043" stop-color="#1bb59a"/><stop offset="0.1283" stop-color="#1cb89c"/><stop offset="0.1717" stop-color="#1ec5a7"/><stop offset="0.2935" stop-color="#4bdf94"/><stop offset="0.3935" stop-color="#63ee8b"/><stop offset="0.4652" stop-color="#71fe91"/><stop offset="0.5217" stop-color="#81ffa3"/><stop offset="0.5478" stop-color="#8effb4"/><stop offset="0.5674" stop-color="#a2ffcd"/><stop offset="0.5783" stop-color="#b7ffe5"/><stop offset="0.587" stop-color="#cffffe"/><stop offset="0.5978" stop-color="#f9ffff"/><stop offset="0.6022" stop-color="#ffffff"/><stop offset="0.6826" stop-color="#fdffff"/><stop offset="0.6848" stop-color="#f8ffff"/><stop offset="0.6957" stop-color="#c6ffff"/><stop offset="0.7043" stop-color="#a6ffff"/><stop offset="0.7109" stop-color="#93fffc"/><stop offset="0.7239" stop-color="#77ffe9"/><stop offset="0.7391" stop-color="#63ffde"/><stop offset="0.7565" stop-color="#53ffd9"/><stop offset="0.8065" stop-color="#30ffdc"/><stop offset="0.8196" stop-color="#2affdc"/><stop offset="0.8543" stop-color="#28fdd7"/><stop offset="1" stop-color="#26fad4"/></linearGradient><linearGradient id="g7"><stop offset="0" stop-color="#1aab91"/><stop offset="0.01087" stop-color="#1aaf94"/><stop offset="0.02826" stop-color="#1ec3a6"/><stop offset="0.03696" stop-color="#1ec5a7"/><stop offset="0.06522" stop-color="#1ec6a8"/><stop offset="0.1022" stop-color="#1bb59a"/><stop offset="0.1457" stop-color="#1dbda0"/><stop offset="0.1587" stop-color="#21c1a1"/><stop offset="0.2239" stop-color="#3fd293"/><stop offset="0.2913" stop-color="#58df87"/><stop offset="0.3935" stop-color="#70ee7f"/><stop offset="0.4674" stop-color="#7fff84"/><stop offset="0.5217" stop-color="#90ff95"/><stop offset="0.5413" stop-color="#9affa1"/><stop offset="0.5565" stop-color="#a6ffaf"/><stop offset="0.5674" stop-color="#b3ffbf"/><stop offset="0.5761" stop-color="#c4ffd2"/><stop offset="0.5891" stop-color="#ebfffb"/><stop offset="0.5935" stop-color="#fbffff"/><stop offset="0.5957" stop-color="#ffffff"/><stop offset="0.687" stop-color="#ffffff"/><stop offset="0.6891" stop-color="#faffff"/><stop offset="0.7022" stop-color="#c2ffff"/><stop offset="0.7087" stop-color="#adfff3"/><stop offset="0.7196" stop-color="#93ffdf"/><stop offset="0.7304" stop-color="#80ffd3"/><stop offset="0.7478" stop-color="#6cffcb"/><stop offset="0.7739" stop-color="#57ffc8"/><stop offset="0.8022" stop-color="#42ffcc"/><stop offset="0.8326" stop-color="#2dffd6"/><stop offset="0.8609" stop-color="#27fdd7"/><stop offset="1" stop-color="#26fad4"/></linearGradient><linearGradient id="g8"><stop offset="0" stop-color="#1aab91"/><stop offset="0.01087" stop-color="#1aaf94"/><stop offset="0.02826" stop-color="#1ec3a6"/><stop offset="0.04348" stop-color="#1ec6a8"/><stop offset="0.06739" stop-color="#1ec6a8"/><stop offset="0.1" stop-color="#1cb69a"/><stop offset="0.1239" stop-color="#1cb79b"/><stop offset="0.2174" stop-color="#49d188"/><stop offset="0.2674" stop-color="#5cdb7f"/><stop offset="0.3848" stop-color="#7aed73"/><stop offset="0.4674" stop-color="#8cff77"/><stop offset="0.5196" stop-color="#9eff86"/><stop offset="0.5391" stop-color="#a8ff91"/><stop offset="0.5543" stop-color="#b3ff9e"/><stop offset="0.5652" stop-color="#c0ffac"/><stop offset="0.5761" stop-color="#d4ffc2"/><stop offset="0.5848" stop-color="#ebffda"/><stop offset="0.5913" stop-color="#fefff2"/><stop offset="0.5935" stop-color="#fffffa"/><stop offset="0.5978" stop-color="#ffffff"/><stop offset="0.6891" stop-color="#ffffff"/><stop offset="0.6913" stop-color="#fcffff"/><stop offset="0.6978" stop-color="#e1fffd"/><stop offset="0.7109" stop-color="#b7ffde"/><stop offset="0.7217" stop-color="#9fffcc"/><stop offset="0.7348" stop-color="#8cffc0"/><stop offset="0.7565" stop-color="#76ffb9"/><stop offset="0.7891" stop-color="#5cffba"/><stop offset="0.8217" stop-color="#45ffc2"/><stop offset="0.8565" stop-color="#2cfdd3"/><stop offset="0.8696" stop-color="#27fcd6"/><stop offset="1" stop-color="#26fad4"/></linearGradient><linearGradient id="g9"><stop offset="0" stop-color="#1aab91"/><stop offset="0.01087" stop-color="#1aaf94"/><stop offset="0.02826" stop-color="#1ec3a6"/><stop offset="0.06304" stop-color="#1ec7a9"/><stop offset="0.09783" stop-color="#1cb69b"/><stop offset="0.1152" stop-color="#1fb696"/><stop offset="0.1978" stop-color="#4ccc7f"/><stop offset="0.2543" stop-color="#63d875"/><stop offset="0.3696" stop-color="#84ea67"/><stop offset="0.4522" stop-color="#96fb67"/><stop offset="0.4674" stop-color="#9aff69"/><stop offset="0.5043" stop-color="#a6ff72"/><stop offset="0.5457" stop-color="#bbff87"/><stop offset="0.5587" stop-color="#c7ff93"/><stop offset="0.5696" stop-color="#d6ffa3"/><stop offset="0.5804" stop-color="#ebffb9"/><stop offset="0.5891" stop-color="#ffffd2"/><stop offset="0.6" stop-color="#fffff9"/><stop offset="0.6043" stop-color="#ffffff"/><stop offset="0.687" stop-color="#ffffff"/><stop offset="0.6913" stop-color="#fffffb"/><stop offset="0.7065" stop-color="#d0ffd4"/><stop offset="0.7174" stop-color="#b6ffc1"/><stop offset="0.7326" stop-color="#9effb3"/><stop offset="0.7522" stop-color="#89ffab"/><stop offset="0.7804" stop-color="#72ffa9"/><stop offset="0.8109" stop-color="#5cffaf"/><stop offset="0.8435" stop-color="#45ffbc"/><stop offset="0.8783" stop-color="#2afcd2"/><stop offset="0.8891" stop-color="#26fbd5"/><stop offset="1" stop-color="#26fad4"/></linearGradient><linearGradient id="g10"><stop offset="0" stop-color="#1aab91"/><stop offset="0.01087" stop-color="#1aaf94"/><stop offset="0.02826" stop-color="#1ec3a6"/><stop offset="0.06304" stop-color="#1ec7a9"/><stop offset="0.08696" stop-color="#1cbb9f"/><stop offset="0.1065" stop-color="#25b590"/><stop offset="0.1348" stop-color="#36ba84"/><stop offset="0.187" stop-color="#53c976"/><stop offset="0.3" stop-color="#7ee062"/><stop offset="0.3804" stop-color="#93ec5a"/><stop offset="0.4391" stop-color="#9ff75a"/><stop offset="0.4652" stop-color="#a6ff5c"/><stop offset="0.4935" stop-color="#afff62"/><stop offset="0.5391" stop-color="#c5ff74"/><stop offset="0.5652" stop-color="#ddff8b"/><stop offset="0.5761" stop-color="#eeff9c"/><stop offset="0.5826" stop-color="#fbffa9"/><stop offset="0.587" stop-color="#ffffb4"/><stop offset="0.6087" stop-color="#fffff7"/><stop offset="0.6152" stop-color="#ffffff"/><stop offset="0.6783" stop-color="#ffffff"/><stop offset="0.6848" stop-color="#fffff4"/><stop offset="0.6935" stop-color="#ffffdb"/><stop offset="0.7065" stop-color="#dbffbf"/><stop offset="0.7217" stop-color="#bcffab"/><stop offset="0.737" stop-color="#a7ffa1"/><stop offset="0.7587" stop-color="#92ff9b"/><stop offset="0.7913" stop-color="#79ff9c"/><stop offset="0.8217" stop-color="#64ffa3"/><stop offset="0.8565" stop-color="#4afdb4"/><stop offset="0.9043" stop-color="#26fbd4"/><stop offset="1" stop-color="#26fad4"/></linearGradient><linearGradient id="g11"><stop offset="0" stop-color="#1aab91"/><stop offset="0.01087" stop-color="#1aaf94"/><stop offset="0.02826" stop-color="#1ec3a6"/><stop offset="0.06522" stop-color="#1ec6a8"/><stop offset="0.07826" stop-color="#20c1a1"/><stop offset="0.1022" stop-color="#2eb587"/><stop offset="0.1457" stop-color="#48bd75"/><stop offset="0.213" stop-color="#69cf66"/><stop offset="0.2761" stop-color="#82dc5a"/><stop offset="0.3435" stop-color="#96e751"/><stop offset="0.4174" stop-color="#a5f24e"/><stop offset="0.4674" stop-color="#b2ff51"/><stop offset="0.5283" stop-color="#cbff61"/><stop offset="0.5587" stop-color="#e2ff75"/><stop offset="0.5717" stop-color="#f3ff84"/><stop offset="0.5783" stop-color="#fdff8e"/><stop offset="0.5826" stop-color="#ffff96"/><stop offset="0.5957" stop-color="#ffffb3"/><stop offset="0.6196" stop-color="#fffff5"/><stop offset="0.6283" stop-color="#ffffff"/><stop offset="0.6609" stop-color="#ffffff"/><stop offset="0.6652" stop-color="#fffffc"/><stop offset="0.6717" stop-color="#fffff5"/><stop offset="0.6957" stop-color="#ffffbd"/><stop offset="0.7087" stop-color="#e3ffa8"/><stop offset="0.7217" stop-color="#cbff9a"/><stop offset="0.737" stop-color="#b6ff91"/><stop offset="0.7543" stop-color="#a4ff8d"/><stop offset="0.7935" stop-color="#85ff8e"/><stop offset="0.8348" stop-color="#69ff9a"/><stop offset="0.8717" stop-color="#4efcaf"/><stop offset="0.9196" stop-color="#26fad4"/><stop offset="1" stop-color="#26fad4"/></linearGradient><linearGradient id="g12"><stop offset="0" stop-color="#1aab91"/><stop offset="0.01087" stop-color="#1aaf94"/><stop offset="0.02826" stop-color="#1ec3a6"/><stop offset="0.0587" stop-color="#1ec7a9"/><stop offset="0.06522" stop-color="#22c6a5"/><stop offset="0.1" stop-color="#38b67e"/><stop offset="0.1326" stop-color="#4bb96e"/><stop offset="0.1935" stop-color="#6bcb60"/><stop offset="0.2587" stop-color="#87d952"/><stop offset="0.3891" stop-color="#aaed44"/><stop offset="0.4652" stop-color="#bcff45"/><stop offset="0.5087" stop-color="#cdff4e"/><stop offset="0.5478" stop-color="#e6ff5f"/><stop offset="0.5739" stop-color="#ffff77"/><stop offset="0.5913" stop-color="#ffff95"/><stop offset="0.6261" stop-color="#ffffe1"/><stop offset="0.6348" stop-color="#ffffee"/><stop offset="0.6435" stop-color="#fffff3"/><stop offset="0.6522" stop-color="#fffff1"/><stop offset="0.663" stop-color="#ffffe5"/><stop offset="0.7" stop-color="#ffffa1"/><stop offset="0.7109" stop-color="#ecff93"/><stop offset="0.7239" stop-color="#d7ff88"/><stop offset="0.7543" stop-color="#b3ff7e"/><stop offset="0.8022" stop-color="#8cff82"/><stop offset="0.85" stop-color="#6dfe93"/><stop offset="0.8848" stop-color="#53fba9"/><stop offset="0.9326" stop-color="#26fad4"/><stop offset="1" stop-color="#26fad4"/></linearGradient><linearGradient id="g13"><stop offset="0" stop-color="#1aab91"/><stop offset="0.01087" stop-color="#1aaf94"/><stop offset="0.02826" stop-color="#1ec3a6"/><stop offset="0.04783" stop-color="#1fc6a8"/><stop offset="0.06739" stop-color="#2fc696"/><stop offset="0.09783" stop-color="#41b675"/><stop offset="0.1239" stop-color="#50b767"/><stop offset="0.1761" stop-color="#6dc659"/><stop offset="0.237" stop-color="#89d54c"/><stop offset="0.3565" stop-color="#ade93b"/><stop offset="0.4283" stop-color="#bef538"/><stop offset="0.4652" stop-color="#c8ff3a"/><stop offset="0.487" stop-color="#cfff3d"/><stop offset="0.5348" stop-color="#e9ff4a"/><stop offset="0.5652" stop-color="#ffff5e"/><stop offset="0.587" stop-color="#ffff7c"/><stop offset="0.6261" stop-color="#ffffc7"/><stop offset="0.6348" stop-color="#ffffd2"/><stop offset="0.6435" stop-color="#ffffd7"/><stop offset="0.6522" stop-color="#ffffd6"/><stop offset="0.663" stop-color="#ffffcc"/><stop offset="0.7065" stop-color="#ffff88"/><stop offset="0.7304" stop-color="#dbff76"/><stop offset="0.763" stop-color="#b9ff6f"/><stop offset="0.813" stop-color="#92ff77"/><stop offset="0.863" stop-color="#71fd8c"/><stop offset="0.9" stop-color="#54fba7"/><stop offset="0.9435" stop-color="#27fad3"/><stop offset="1" stop-color="#26fad4"/></linearGradient><linearGradient id="g14"><stop offset="0" stop-color="#1aab91"/><stop offset="0.01087" stop-color="#1aaf94"/><stop offset="0.02826" stop-color="#1ec3a6"/><stop offset="0.03696" stop-color="#1ec5a7"/><stop offset="0.07174" stop-color="#3fc486"/><stop offset="0.09565" stop-color="#4bb76c"/><stop offset="0.1152" stop-color="#55b661"/><stop offset="0.2043" stop-color="#85cd48"/><stop offset="0.3022" stop-color="#a9e037"/><stop offset="0.387" stop-color="#bfed2e"/><stop offset="0.4543" stop-color="#d0fb2e"/><stop offset="0.4652" stop-color="#d3ff2e"/><stop offset="0.5109" stop-color="#e7ff35"/><stop offset="0.55" stop-color="#ffff44"/><stop offset="0.5652" stop-color="#ffff50"/><stop offset="0.5783" stop-color="#ffff5f"/><stop offset="0.5913" stop-color="#ffff73"/><stop offset="0.6239" stop-color="#ffffb1"/><stop offset="0.6326" stop-color="#ffffbc"/><stop offset="0.6413" stop-color="#ffffc2"/><stop offset="0.65" stop-color="#ffffc2"/><stop offset="0.6609" stop-color="#ffffbb"/><stop offset="0.6978" stop-color="#ffff84"/><stop offset="0.713" stop-color="#ffff73"/><stop offset="0.7174" stop-color="#fcff6f"/><stop offset="0.737" stop-color="#e1ff65"/><stop offset="0.7717" stop-color="#beff62"/><stop offset="0.8217" stop-color="#9aff6c"/><stop offset="0.8761" stop-color="#75fc87"/><stop offset="0.9109" stop-color="#59faa2"/><stop offset="0.9543" stop-color="#26fad4"/><stop offset="1" stop-color="#26fad4"/></linearGradient><linearGradient id="g15"><stop offset="0" stop-color="#1aab91"/><stop offset="0.01087" stop-color="#1aaf94"/><stop offset="0.02826" stop-color="#1ec3a6"/><stop offset="0.06739" stop-color="#47c67e"/><stop offset="0.08913" stop-color="#52ba68"/><stop offset="0.1065" stop-color="#5ab55c"/><stop offset="0.1739" stop-color="#80c646"/><stop offset="0.2522" stop-color="#a2d836"/><stop offset="0.3435" stop-color="#bfe728"/><stop offset="0.4217" stop-color="#d2f322"/><stop offset="0.4652" stop-color="#deff23"/><stop offset="0.5348" stop-color="#ffff2f"/><stop offset="0.5565" stop-color="#ffff3a"/><stop offset="0.5761" stop-color="#ffff4d"/><stop offset="0.5913" stop-color="#ffff64"/><stop offset="0.6239" stop-color="#ffffa1"/><stop offset="0.6326" stop-color="#ffffac"/><stop offset="0.6413" stop-color="#ffffb2"/><stop offset="0.65" stop-color="#ffffb2"/><stop offset="0.6609" stop-color="#ffffab"/><stop offset="0.7" stop-color="#ffff72"/><stop offset="0.7217" stop-color="#ffff5e"/><stop offset="0.7457" stop-color="#e4ff55"/><stop offset="0.7761" stop-color="#c7ff55"/><stop offset="0.8304" stop-color="#a2ff62"/><stop offset="0.8848" stop-color="#7cfb7f"/><stop offset="0.9217" stop-color="#5dfa9e"/><stop offset="0.963" stop-color="#26fad4"/><stop offset="1" stop-color="#26fad4"/></linearGradient><linearGradient id="g16"><stop offset="0" stop-color="#1aab91"/><stop offset="0.01087" stop-color="#1aaf94"/><stop offset="0.02391" stop-color="#1fbfa0"/><stop offset="0.03043" stop-color="#2ac49a"/><stop offset="0.0413" stop-color="#39c68d"/><stop offset="0.06304" stop-color="#50c777"/><stop offset="0.1022" stop-color="#61b554"/><stop offset="0.137" stop-color="#75ba46"/><stop offset="0.1957" stop-color="#94cb38"/><stop offset="0.2826" stop-color="#b7dd26"/><stop offset="0.3826" stop-color="#d3ec1a"/><stop offset="0.4652" stop-color="#eaff17"/><stop offset="0.5174" stop-color="#ffff1d"/><stop offset="0.55" stop-color="#ffff27"/><stop offset="0.5717" stop-color="#ffff38"/><stop offset="0.5891" stop-color="#ffff51"/><stop offset="0.6261" stop-color="#ffff95"/><stop offset="0.6348" stop-color="#ffff9f"/><stop offset="0.6435" stop-color="#ffffa4"/><stop offset="0.6522" stop-color="#ffffa3"/><stop offset="0.6609" stop-color="#ffff9c"/><stop offset="0.7043" stop-color="#ffff5e"/><stop offset="0.7174" stop-color="#ffff52"/><stop offset="0.7326" stop-color="#feff4a"/><stop offset="0.7543" stop-color="#e7ff47"/><stop offset="0.787" stop-color="#cbff4a"/><stop offset="0.8543" stop-color="#9ffe60"/><stop offset="0.8935" stop-color="#83fb78"/><stop offset="0.9261" stop-color="#66fa94"/><stop offset="0.9478" stop-color="#4bfaaf"/><stop offset="0.9696" stop-color="#27fad3"/><stop offset="1" stop-color="#26fad4"/></linearGradient><linearGradient id="g17"><stop offset="0" stop-color="#1aab91"/><stop offset="0.01522" stop-color="#1bb398"/><stop offset="0.02826" stop-color="#32c391"/><stop offset="0.03913" stop-color="#42c684"/><stop offset="0.06522" stop-color="#5cc66b"/><stop offset="0.09783" stop-color="#69b64e"/><stop offset="0.1152" stop-color="#71b644"/><stop offset="0.1413" stop-color="#80bc3c"/><stop offset="0.2109" stop-color="#a4cf2b"/><stop offset="0.2717" stop-color="#bddb1f"/><stop offset="0.3957" stop-color="#e1ee0e"/><stop offset="0.4652" stop-color="#f5ff0c"/><stop offset="0.4957" stop-color="#ffff0d"/><stop offset="0.5391" stop-color="#ffff14"/><stop offset="0.5674" stop-color="#ffff25"/><stop offset="0.5891" stop-color="#ffff42"/><stop offset="0.6261" stop-color="#ffff87"/><stop offset="0.6348" stop-color="#ffff92"/><stop offset="0.6435" stop-color="#ffff96"/><stop offset="0.6522" stop-color="#ffff95"/><stop offset="0.663" stop-color="#ffff8c"/><stop offset="0.6957" stop-color="#ffff5a"/><stop offset="0.7109" stop-color="#ffff48"/><stop offset="0.7261" stop-color="#ffff3e"/><stop offset="0.7435" stop-color="#feff3a"/><stop offset="0.7783" stop-color="#deff3c"/><stop offset="0.8087" stop-color="#c7ff43"/><stop offset="0.8761" stop-color="#9dfc5f"/><stop offset="0.9109" stop-color="#82fa79"/><stop offset="0.9391" stop-color="#66fa94"/><stop offset="0.9565" stop-color="#4cfaae"/><stop offset="0.9761" stop-color="#26fad4"/><stop offset="1" stop-color="#26fad4"/></linearGradient><linearGradient id="g18"><stop offset="0" stop-color="#1aab91"/><stop offset="0.01087" stop-color="#1baf94"/><stop offset="0.02826" stop-color="#3ec385"/><stop offset="0.0413" stop-color="#50c676"/><stop offset="0.06087" stop-color="#63c764"/><stop offset="0.07391" stop-color="#6bc358"/><stop offset="0.1" stop-color="#73b643"/><stop offset="0.1304" stop-color="#82b937"/><stop offset="0.2043" stop-color="#aacd23"/><stop offset="0.2717" stop-color="#c7db15"/><stop offset="0.387" stop-color="#e9ed04"/><stop offset="0.4696" stop-color="#fffe02"/><stop offset="0.5326" stop-color="#ffff07"/><stop offset="0.563" stop-color="#ffff13"/><stop offset="0.5761" stop-color="#ffff20"/><stop offset="0.587" stop-color="#ffff2f"/><stop offset="0.6261" stop-color="#ffff79"/><stop offset="0.6348" stop-color="#ffff84"/><stop offset="0.6435" stop-color="#ffff89"/><stop offset="0.6522" stop-color="#ffff87"/><stop offset="0.663" stop-color="#ffff7e"/><stop offset="0.6957" stop-color="#ffff4b"/><stop offset="0.713" stop-color="#ffff37"/><stop offset="0.7304" stop-color="#ffff2e"/><stop offset="0.7543" stop-color="#ffff2c"/><stop offset="0.7935" stop-color="#deff33"/><stop offset="0.8261" stop-color="#c7ff3d"/><stop offset="0.8935" stop-color="#9dfb5e"/><stop offset="0.9239" stop-color="#83fa77"/><stop offset="0.95" stop-color="#65fa95"/><stop offset="0.9652" stop-color="#4bfaaf"/><stop offset="0.9804" stop-color="#26fad4"/><stop offset="1" stop-color="#26fad4"/></linearGradient><linearGradient id="g19"><stop offset="0" stop-color="#1aab91"/><stop offset="0.008696" stop-color="#1dad91"/><stop offset="0.01522" stop-color="#2eb385"/><stop offset="0.02826" stop-color="#4ac379"/><stop offset="0.0587" stop-color="#6bc75c"/><stop offset="0.07391" stop-color="#75c34e"/><stop offset="0.1" stop-color="#7bb63a"/><stop offset="0.1326" stop-color="#8bb92e"/><stop offset="0.2174" stop-color="#b9d117"/><stop offset="0.2935" stop-color="#d8df07"/><stop offset="0.3522" stop-color="#e8e600"/><stop offset="0.4174" stop-color="#f2eb00"/><stop offset="0.4652" stop-color="#fff601"/><stop offset="0.4913" stop-color="#ffff02"/><stop offset="0.5326" stop-color="#ffff05"/><stop offset="0.563" stop-color="#ffff10"/><stop offset="0.5761" stop-color="#ffff1d"/><stop offset="0.587" stop-color="#ffff2b"/><stop offset="0.6261" stop-color="#ffff72"/><stop offset="0.6348" stop-color="#ffff7b"/><stop offset="0.6435" stop-color="#ffff7f"/><stop offset="0.6522" stop-color="#ffff7c"/><stop offset="0.6609" stop-color="#ffff74"/><stop offset="0.6957" stop-color="#ffff3c"/><stop offset="0.7152" stop-color="#ffff27"/><stop offset="0.737" stop-color="#ffff1e"/><stop offset="0.7674" stop-color="#feff20"/><stop offset="0.8435" stop-color="#c8ff38"/><stop offset="0.9087" stop-color="#9efa5d"/><stop offset="0.937" stop-color="#82fa78"/><stop offset="0.9587" stop-color="#66fa94"/><stop offset="0.9717" stop-color="#4cfaae"/><stop offset="0.9826" stop-color="#29fad1"/><stop offset="0.9848" stop-color="#26fad4"/><stop offset="1" stop-color="#26fad4"/></linearGradient><linearGradient id="g20"><stop offset="0" stop-color="#1aab91"/><stop offset="0.004348" stop-color="#1aac92"/><stop offset="0.006522" stop-color="#1ead8e"/><stop offset="0.01304" stop-color="#33b17d"/><stop offset="0.02826" stop-color="#55c36f"/><stop offset="0.05435" stop-color="#72c755"/><stop offset="0.07174" stop-color="#7ec446"/><stop offset="0.1022" stop-color="#84b531"/><stop offset="0.1391" stop-color="#97bb24"/><stop offset="0.2043" stop-color="#bccd11"/><stop offset="0.2652" stop-color="#d8da03"/><stop offset="0.4022" stop-color="#efe200"/><stop offset="0.4652" stop-color="#ffee01"/><stop offset="0.5065" stop-color="#ffff02"/><stop offset="0.5413" stop-color="#ffff06"/><stop offset="0.563" stop-color="#ffff10"/><stop offset="0.5761" stop-color="#ffff1c"/><stop offset="0.587" stop-color="#ffff2b"/><stop offset="0.6261" stop-color="#ffff74"/><stop offset="0.6348" stop-color="#ffff7d"/><stop offset="0.6435" stop-color="#ffff81"/><stop offset="0.6522" stop-color="#ffff7d"/><stop offset="0.6609" stop-color="#ffff74"/><stop offset="0.7" stop-color="#ffff2b"/><stop offset="0.7174" stop-color="#ffff17"/><stop offset="0.7261" stop-color="#ffff12"/><stop offset="0.7413" stop-color="#ffff10"/><stop offset="0.7804" stop-color="#ffff17"/><stop offset="0.8565" stop-color="#cbfd33"/><stop offset="0.9196" stop-color="#a1fa59"/><stop offset="0.9457" stop-color="#85fa75"/><stop offset="0.9652" stop-color="#69fa91"/><stop offset="0.9761" stop-color="#4ffaab"/><stop offset="0.987" stop-color="#26fad4"/><stop offset="1" stop-color="#26fad4"/></linearGradient><linearGradient id="g21"><stop offset="0" stop-color="#1aab91"/><stop offset="0.004348" stop-color="#1aac92"/><stop offset="0.006522" stop-color="#29ad84"/><stop offset="0.01087" stop-color="#38af77"/><stop offset="0.01522" stop-color="#44b370"/><stop offset="0.02609" stop-color="#5bc267"/><stop offset="0.05217" stop-color="#7ac74c"/><stop offset="0.06957" stop-color="#86c53f"/><stop offset="0.1022" stop-color="#8cb529"/><stop offset="0.1522" stop-color="#a8bf17"/><stop offset="0.2152" stop-color="#cbd005"/><stop offset="0.2435" stop-color="#d6d500"/><stop offset="0.3913" stop-color="#eed900"/><stop offset="0.4652" stop-color="#ffe601"/><stop offset="0.5174" stop-color="#ffff02"/><stop offset="0.5435" stop-color="#ffff06"/><stop offset="0.563" stop-color="#ffff0f"/><stop offset="0.5761" stop-color="#ffff1c"/><stop offset="0.587" stop-color="#ffff2b"/><stop offset="0.6261" stop-color="#ffff76"/><stop offset="0.6348" stop-color="#ffff80"/><stop offset="0.6435" stop-color="#ffff84"/><stop offset="0.6522" stop-color="#ffff80"/><stop offset="0.6609" stop-color="#ffff76"/><stop offset="0.7" stop-color="#ffff2b"/><stop offset="0.7217" stop-color="#ffff11"/><stop offset="0.75" stop-color="#ffff05"/><stop offset="0.7674" stop-color="#ffff06"/><stop offset="0.7957" stop-color="#feff0f"/><stop offset="0.8739" stop-color="#ccfc30"/><stop offset="0.9065" stop-color="#b6fa45"/><stop offset="0.9326" stop-color="#a1fa59"/><stop offset="0.9543" stop-color="#87fa73"/><stop offset="0.9717" stop-color="#69fa91"/><stop offset="0.9783" stop-color="#58faa2"/><stop offset="0.9826" stop-color="#47fab3"/><stop offset="0.9848" stop-color="#3bfabf"/><stop offset="0.987" stop-color="#26fad4"/><stop offset="1" stop-color="#26fad4"/></linearGradient><linearGradient id="g22"><stop offset="0" stop-color="#1fab8c"/><stop offset="0.004348" stop-color="#1fac8d"/><stop offset="0.006522" stop-color="#33ad79"/><stop offset="0.01087" stop-color="#42af6c"/><stop offset="0.02391" stop-color="#61bf5e"/><stop offset="0.03043" stop-color="#6cc458"/><stop offset="0.04783" stop-color="#80c646"/><stop offset="0.06957" stop-color="#8fc536"/><stop offset="0.09348" stop-color="#92b826"/><stop offset="0.1065" stop-color="#96b51f"/><stop offset="0.187" stop-color="#c5c904"/><stop offset="0.2087" stop-color="#cecd00"/><stop offset="0.2413" stop-color="#d6ce00"/><stop offset="0.3935" stop-color="#eed200"/><stop offset="0.4652" stop-color="#ffde00"/><stop offset="0.4957" stop-color="#ffeb01"/><stop offset="0.5283" stop-color="#ffff03"/><stop offset="0.5478" stop-color="#ffff07"/><stop offset="0.563" stop-color="#ffff0e"/><stop offset="0.5761" stop-color="#ffff1b"/><stop offset="0.587" stop-color="#ffff2b"/><stop offset="0.6261" stop-color="#ffff76"/><stop offset="0.6348" stop-color="#ffff80"/><stop offset="0.6435" stop-color="#ffff84"/><stop offset="0.6522" stop-color="#ffff80"/><stop offset="0.6609" stop-color="#ffff76"/><stop offset="0.7" stop-color="#ffff2b"/><stop offset="0.7109" stop-color="#ffff1b"/><stop offset="0.7239" stop-color="#ffff0e"/><stop offset="0.7435" stop-color="#ffff05"/><stop offset="0.7717" stop-color="#ffff02"/><stop offset="0.7978" stop-color="#ffff04"/><stop offset="0.8152" stop-color="#fdff0a"/><stop offset="0.8891" stop-color="#cdfb2e"/><stop offset="0.9196" stop-color="#b7fa43"/><stop offset="0.9435" stop-color="#a2fa59"/><stop offset="0.963" stop-color="#86fa74"/><stop offset="0.9761" stop-color="#6cfa8e"/><stop offset="0.9804" stop-color="#5ffa9b"/><stop offset="0.9848" stop-color="#4afab0"/><stop offset="0.987" stop-color="#2dfacd"/><stop offset="1" stop-color="#2dfacd"/></linearGradient><linearGradient id="g23"><stop offset="0" stop-color="#29ab81"/><stop offset="0.004348" stop-color="#2aac82"/><stop offset="0.006522" stop-color="#3ead6f"/><stop offset="0.008696" stop-color="#46ad68"/><stop offset="0.01522" stop-color="#57b35c"/><stop offset="0.02391" stop-color="#6bbf54"/><stop offset="0.03043" stop-color="#77c44e"/><stop offset="0.04348" stop-color="#85c641"/><stop offset="0.06739" stop-color="#97c62f"/><stop offset="0.1043" stop-color="#9db518"/><stop offset="0.163" stop-color="#c0c303"/><stop offset="0.1783" stop-color="#c7c500"/><stop offset="0.2391" stop-color="#d5c700"/><stop offset="0.387" stop-color="#edca00"/><stop offset="0.463" stop-color="#ffd600"/><stop offset="0.5" stop-color="#ffe501"/><stop offset="0.537" stop-color="#ffff03"/><stop offset="0.563" stop-color="#ffff0e"/><stop offset="0.5761" stop-color="#ffff1a"/><stop offset="0.587" stop-color="#ffff2a"/><stop offset="0.6261" stop-color="#ffff76"/><stop offset="0.6348" stop-color="#ffff80"/><stop offset="0.6435" stop-color="#ffff83"/><stop offset="0.6522" stop-color="#ffff80"/><stop offset="0.6609" stop-color="#ffff76"/><stop offset="0.7022" stop-color="#ffff27"/><stop offset="0.713" stop-color="#ffff18"/><stop offset="0.7261" stop-color="#ffff0c"/><stop offset="0.7435" stop-color="#ffff05"/><stop offset="0.7652" stop-color="#ffff02"/><stop offset="0.813" stop-color="#ffff00"/><stop offset="0.8326" stop-color="#fcff06"/><stop offset="0.8978" stop-color="#d2fb28"/><stop offset="0.9261" stop-color="#bdfa3d"/><stop offset="0.9478" stop-color="#a8fa52"/><stop offset="0.9652" stop-color="#90fa6a"/><stop offset="0.9783" stop-color="#73fa87"/><stop offset="0.9826" stop-color="#65fa95"/><stop offset="0.9848" stop-color="#59faa1"/><stop offset="0.987" stop-color="#3cfabd"/><stop offset="1" stop-color="#3cfabd"/></linearGradient><linearGradient id="g24"><stop offset="0" stop-color="#34ab77"/><stop offset="0.004348" stop-color="#34ac78"/><stop offset="0.006522" stop-color="#47ad65"/><stop offset="0.008696" stop-color="#4fad5e"/><stop offset="0.01522" stop-color="#60b353"/><stop offset="0.02391" stop-color="#75bf4a"/><stop offset="0.03043" stop-color="#80c444"/><stop offset="0.0413" stop-color="#8cc63a"/><stop offset="0.06739" stop-color="#a0c626"/><stop offset="0.1022" stop-color="#a4b511"/><stop offset="0.1391" stop-color="#b9bb02"/><stop offset="0.1674" stop-color="#c4bf00"/><stop offset="0.2326" stop-color="#d4c000"/><stop offset="0.387" stop-color="#edc300"/><stop offset="0.463" stop-color="#ffce00"/><stop offset="0.5065" stop-color="#ffe001"/><stop offset="0.5457" stop-color="#ffff05"/><stop offset="0.563" stop-color="#ffff0d"/><stop offset="0.5761" stop-color="#ffff1a"/><stop offset="0.587" stop-color="#ffff29"/><stop offset="0.6261" stop-color="#ffff75"/><stop offset="0.6348" stop-color="#ffff7f"/><stop offset="0.6435" stop-color="#ffff83"/><stop offset="0.6522" stop-color="#ffff7f"/><stop offset="0.6609" stop-color="#ffff75"/><stop offset="0.7022" stop-color="#ffff26"/><stop offset="0.713" stop-color="#ffff17"/><stop offset="0.7261" stop-color="#ffff0c"/><stop offset="0.7609" stop-color="#ffff02"/><stop offset="0.8457" stop-color="#fefe02"/><stop offset="0.9022" stop-color="#dafb20"/><stop offset="0.9283" stop-color="#c6fa34"/><stop offset="0.95" stop-color="#b1fa49"/><stop offset="0.9652" stop-color="#9dfa5d"/><stop offset="0.9783" stop-color="#80fa7a"/><stop offset="0.9848" stop-color="#67fa92"/><stop offset="0.987" stop-color="#4bfaae"/><stop offset="1" stop-color="#4bfaae"/></linearGradient><linearGradient id="g25"><stop offset="0" stop-color="#3eab6d"/><stop offset="0.004348" stop-color="#3eac6e"/><stop offset="0.006522" stop-color="#50ad5c"/><stop offset="0.01304" stop-color="#64b14d"/><stop offset="0.02609" stop-color="#82c23f"/><stop offset="0.03913" stop-color="#92c633"/><stop offset="0.06739" stop-color="#a8c61e"/><stop offset="0.09783" stop-color="#abb60b"/><stop offset="0.1196" stop-color="#b5b602"/><stop offset="0.2348" stop-color="#d4ba00"/><stop offset="0.3804" stop-color="#ecbb00"/><stop offset="0.463" stop-color="#ffc600"/><stop offset="0.5065" stop-color="#ffd701"/><stop offset="0.5304" stop-color="#ffe802"/><stop offset="0.5522" stop-color="#fffd07"/><stop offset="0.563" stop-color="#ffff0d"/><stop offset="0.5761" stop-color="#ffff19"/><stop offset="0.587" stop-color="#ffff29"/><stop offset="0.6261" stop-color="#ffff75"/><stop offset="0.6348" stop-color="#ffff7f"/><stop offset="0.6435" stop-color="#ffff82"/><stop offset="0.6522" stop-color="#ffff7f"/><stop offset="0.6609" stop-color="#ffff75"/><stop offset="0.7022" stop-color="#ffff26"/><stop offset="0.7152" stop-color="#ffff15"/><stop offset="0.7283" stop-color="#ffff0a"/><stop offset="0.7565" stop-color="#ffff02"/><stop offset="0.8152" stop-color="#fff500"/><stop offset="0.863" stop-color="#fdfb00"/><stop offset="0.8739" stop-color="#f8fc04"/><stop offset="0.9087" stop-color="#e1fa1a"/><stop offset="0.9522" stop-color="#b9fa41"/><stop offset="0.9696" stop-color="#a1fa59"/><stop offset="0.9783" stop-color="#8dfa6d"/><stop offset="0.9848" stop-color="#74fa85"/><stop offset="0.987" stop-color="#5afa9f"/><stop offset="1" stop-color="#5afa9f"/></linearGradient><linearGradient id="g26"><stop offset="0" stop-color="#47ab63"/><stop offset="0.004348" stop-color="#48ac64"/><stop offset="0.006522" stop-color="#59ad53"/><stop offset="0.01087" stop-color="#67af47"/><stop offset="0.02826" stop-color="#8fc335"/><stop offset="0.04783" stop-color="#a3c623"/><stop offset="0.06739" stop-color="#b1c615"/><stop offset="0.1" stop-color="#b4b602"/><stop offset="0.1326" stop-color="#b9b100"/><stop offset="0.2391" stop-color="#d5b300"/><stop offset="0.3804" stop-color="#ecb300"/><stop offset="0.463" stop-color="#ffbe00"/><stop offset="0.4913" stop-color="#ffc700"/><stop offset="0.5174" stop-color="#ffd501"/><stop offset="0.5435" stop-color="#ffea04"/><stop offset="0.563" stop-color="#ffff0d"/><stop offset="0.5761" stop-color="#ffff19"/><stop offset="0.587" stop-color="#ffff29"/><stop offset="0.6261" stop-color="#ffff75"/><stop offset="0.6348" stop-color="#ffff7f"/><stop offset="0.6435" stop-color="#ffff82"/><stop offset="0.6522" stop-color="#ffff7f"/><stop offset="0.663" stop-color="#ffff71"/><stop offset="0.6935" stop-color="#ffff34"/><stop offset="0.7065" stop-color="#ffff1f"/><stop offset="0.7174" stop-color="#ffff12"/><stop offset="0.7304" stop-color="#ffff09"/><stop offset="0.7565" stop-color="#fffc02"/><stop offset="0.7826" stop-color="#fff100"/><stop offset="0.8109" stop-color="#ffec00"/><stop offset="0.8457" stop-color="#ffef00"/><stop offset="0.8826" stop-color="#fbf900"/><stop offset="0.8913" stop-color="#f8fb03"/><stop offset="0.9196" stop-color="#e4fa17"/><stop offset="0.9565" stop-color="#bffa3b"/><stop offset="0.9696" stop-color="#acfa4e"/><stop offset="0.9783" stop-color="#9afa60"/><stop offset="0.9848" stop-color="#81fa78"/><stop offset="0.987" stop-color="#69fa91"/><stop offset="1" stop-color="#69fa91"/></linearGradient><linearGradient id="g27"><stop offset="0" stop-color="#50ab5a"/><stop offset="0.004348" stop-color="#51ac5b"/><stop offset="0.006522" stop-color="#62ad4a"/><stop offset="0.01087" stop-color="#70af3f"/><stop offset="0.02826" stop-color="#97c32c"/><stop offset="0.04783" stop-color="#acc61a"/><stop offset="0.06739" stop-color="#bac60c"/><stop offset="0.0913" stop-color="#b9b700"/><stop offset="0.1043" stop-color="#b5af00"/><stop offset="0.1304" stop-color="#b9ab00"/><stop offset="0.237" stop-color="#d5ac00"/><stop offset="0.3783" stop-color="#ecac00"/><stop offset="0.463" stop-color="#ffb600"/><stop offset="0.4935" stop-color="#ffc000"/><stop offset="0.5217" stop-color="#ffcf01"/><stop offset="0.5435" stop-color="#ffe004"/><stop offset="0.563" stop-color="#fff80d"/><stop offset="0.5696" stop-color="#ffff12"/><stop offset="0.587" stop-color="#ffff29"/><stop offset="0.6261" stop-color="#ffff75"/><stop offset="0.6348" stop-color="#ffff7f"/><stop offset="0.6435" stop-color="#ffff82"/><stop offset="0.6522" stop-color="#ffff7f"/><stop offset="0.663" stop-color="#ffff71"/><stop offset="0.6935" stop-color="#ffff34"/><stop offset="0.7065" stop-color="#ffff1f"/><stop offset="0.7174" stop-color="#ffff12"/><stop offset="0.7304" stop-color="#ffff09"/><stop offset="0.7478" stop-color="#fff703"/><stop offset="0.7739" stop-color="#ffeb00"/><stop offset="0.8109" stop-color="#ffe400"/><stop offset="0.8522" stop-color="#fee800"/><stop offset="0.9" stop-color="#fbf900"/><stop offset="0.9283" stop-color="#e7fa13"/><stop offset="0.9587" stop-color="#c7fa33"/><stop offset="0.9717" stop-color="#b4fa46"/><stop offset="0.9804" stop-color="#a0fa5a"/><stop offset="0.9848" stop-color="#8efa6b"/><stop offset="0.987" stop-color="#76fa84"/><stop offset="1" stop-color="#76fa84"/></linearGradient><linearGradient id="g28"><stop offset="0" stop-color="#59ab52"/><stop offset="0.004348" stop-color="#5aac52"/><stop offset="0.006522" stop-color="#6bad41"/><stop offset="0.01087" stop-color="#78af37"/><stop offset="0.02826" stop-color="#a0c324"/><stop offset="0.04783" stop-color="#b5c611"/><stop offset="0.06739" stop-color="#c3c603"/><stop offset="0.07609" stop-color="#c2c000"/><stop offset="0.1" stop-color="#b6ab00"/><stop offset="0.1283" stop-color="#b8a500"/><stop offset="0.237" stop-color="#d5a500"/><stop offset="0.3761" stop-color="#eba400"/><stop offset="0.463" stop-color="#ffad00"/><stop offset="0.4935" stop-color="#ffb700"/><stop offset="0.5217" stop-color="#ffc501"/><stop offset="0.5435" stop-color="#ffd604"/><stop offset="0.563" stop-color="#ffee0c"/><stop offset="0.5717" stop-color="#fffc14"/><stop offset="0.5761" stop-color="#ffff19"/><stop offset="0.5913" stop-color="#ffff30"/><stop offset="0.6239" stop-color="#ffff71"/><stop offset="0.6348" stop-color="#ffff7f"/><stop offset="0.6435" stop-color="#ffff82"/><stop offset="0.6522" stop-color="#ffff7f"/><stop offset="0.663" stop-color="#ffff71"/><stop offset="0.6935" stop-color="#ffff34"/><stop offset="0.7065" stop-color="#ffff1f"/><stop offset="0.7261" stop-color="#ffff0b"/><stop offset="0.7326" stop-color="#fffa07"/><stop offset="0.7478" stop-color="#ffee03"/><stop offset="0.7674" stop-color="#ffe401"/><stop offset="0.813" stop-color="#ffdc00"/><stop offset="0.8609" stop-color="#fde300"/><stop offset="0.9152" stop-color="#faf800"/><stop offset="0.937" stop-color="#eafa10"/><stop offset="0.963" stop-color="#ccfa2d"/><stop offset="0.9739" stop-color="#bbfa3f"/><stop offset="0.9826" stop-color="#a5fa55"/><stop offset="0.9848" stop-color="#9bfa5e"/><stop offset="0.987" stop-color="#83fa77"/><stop offset="1" stop-color="#83fa77"/></linearGradient><linearGradient id="g29"><stop offset="0" stop-color="#62ab49"/><stop offset="0.004348" stop-color="#63ac49"/><stop offset="0.006522" stop-color="#73ad39"/><stop offset="0.01087" stop-color="#7faf2f"/><stop offset="0.02826" stop-color="#a9c31b"/><stop offset="0.04565" stop-color="#bcc60a"/><stop offset="0.06087" stop-color="#c6c601"/><stop offset="0.07174" stop-color="#c4be00"/><stop offset="0.09783" stop-color="#b6a700"/><stop offset="0.1261" stop-color="#b8a000"/><stop offset="0.237" stop-color="#d59f00"/><stop offset="0.3739" stop-color="#eb9d00"/><stop offset="0.463" stop-color="#ffa500"/><stop offset="0.4957" stop-color="#ffaf00"/><stop offset="0.5217" stop-color="#ffbc01"/><stop offset="0.5457" stop-color="#ffcf04"/><stop offset="0.563" stop-color="#ffe30c"/><stop offset="0.5804" stop-color="#ffff1e"/><stop offset="0.5935" stop-color="#ffff34"/><stop offset="0.6239" stop-color="#ffff71"/><stop offset="0.6326" stop-color="#ffff7d"/><stop offset="0.6413" stop-color="#ffff82"/><stop offset="0.65" stop-color="#ffff80"/><stop offset="0.6609" stop-color="#ffff75"/><stop offset="0.6978" stop-color="#ffff2c"/><stop offset="0.7152" stop-color="#ffff14"/><stop offset="0.7217" stop-color="#fffc0e"/><stop offset="0.7348" stop-color="#ffee06"/><stop offset="0.763" stop-color="#ffdc01"/><stop offset="0.8" stop-color="#ffd400"/><stop offset="0.8391" stop-color="#ffd600"/><stop offset="0.8848" stop-color="#fbe300"/><stop offset="0.9304" stop-color="#f9f901"/><stop offset="0.9522" stop-color="#e6fa14"/><stop offset="0.9717" stop-color="#cafa30"/><stop offset="0.9826" stop-color="#b0fa4a"/><stop offset="0.9848" stop-color="#a7fa53"/><stop offset="0.987" stop-color="#90fa6a"/><stop offset="1" stop-color="#8ffa6a"/></linearGradient><linearGradient id="g30"><stop offset="0" stop-color="#6bab40"/><stop offset="0.004348" stop-color="#6cac40"/><stop offset="0.006522" stop-color="#7bad32"/><stop offset="0.01087" stop-color="#87af27"/><stop offset="0.02826" stop-color="#b1c312"/><stop offset="0.05" stop-color="#c6c500"/><stop offset="0.06739" stop-color="#c6bc00"/><stop offset="0.1" stop-color="#b6a000"/><stop offset="0.1261" stop-color="#b89a00"/><stop offset="0.237" stop-color="#d59800"/><stop offset="0.3717" stop-color="#eb9500"/><stop offset="0.4261" stop-color="#f49800"/><stop offset="0.463" stop-color="#ff9e00"/><stop offset="0.4957" stop-color="#ffa700"/><stop offset="0.5217" stop-color="#ffb401"/><stop offset="0.5457" stop-color="#ffc504"/><stop offset="0.563" stop-color="#ffd90c"/><stop offset="0.5848" stop-color="#ffff25"/><stop offset="0.6239" stop-color="#ffff72"/><stop offset="0.6326" stop-color="#ffff7d"/><stop offset="0.6413" stop-color="#ffff82"/><stop offset="0.65" stop-color="#ffff81"/><stop offset="0.6609" stop-color="#ffff75"/><stop offset="0.6957" stop-color="#ffff30"/><stop offset="0.713" stop-color="#fffd16"/><stop offset="0.7326" stop-color="#ffe607"/><stop offset="0.7565" stop-color="#ffd601"/><stop offset="0.7957" stop-color="#ffcc00"/><stop offset="0.8413" stop-color="#ffce00"/><stop offset="0.8935" stop-color="#fbde00"/><stop offset="0.9413" stop-color="#faf800"/><stop offset="0.9565" stop-color="#ebfa0f"/><stop offset="0.9739" stop-color="#d1fa29"/><stop offset="0.9826" stop-color="#bbfa3f"/><stop offset="0.9848" stop-color="#b2fa48"/><stop offset="0.987" stop-color="#9cfa5d"/><stop offset="1" stop-color="#9cfa5d"/></linearGradient><linearGradient id="g31"><stop offset="0" stop-color="#73ab38"/><stop offset="0.004348" stop-color="#74ac38"/><stop offset="0.006522" stop-color="#83ad2a"/><stop offset="0.008696" stop-color="#89ad24"/><stop offset="0.02609" stop-color="#b6c20c"/><stop offset="0.03478" stop-color="#c2c503"/><stop offset="0.0413" stop-color="#c6c300"/><stop offset="0.06739" stop-color="#c6b500"/><stop offset="0.1" stop-color="#b69a00"/><stop offset="0.1261" stop-color="#b89400"/><stop offset="0.2326" stop-color="#d49100"/><stop offset="0.35" stop-color="#e88f00"/><stop offset="0.4196" stop-color="#f39300"/><stop offset="0.463" stop-color="#ff9900"/><stop offset="0.4957" stop-color="#ffa300"/><stop offset="0.5239" stop-color="#ffb001"/><stop offset="0.5457" stop-color="#ffc004"/><stop offset="0.563" stop-color="#ffd30c"/><stop offset="0.5761" stop-color="#ffe819"/><stop offset="0.587" stop-color="#fffe29"/><stop offset="0.6239" stop-color="#ffff72"/><stop offset="0.6326" stop-color="#ffff7d"/><stop offset="0.6413" stop-color="#ffff83"/><stop offset="0.65" stop-color="#ffff81"/><stop offset="0.6609" stop-color="#ffff75"/><stop offset="0.7043" stop-color="#ffff22"/><stop offset="0.7261" stop-color="#ffe20b"/><stop offset="0.7522" stop-color="#ffce02"/><stop offset="0.7957" stop-color="#ffc300"/><stop offset="0.8435" stop-color="#ffc600"/><stop offset="0.9022" stop-color="#fbda00"/><stop offset="0.9522" stop-color="#f9f801"/><stop offset="0.9652" stop-color="#eafa10"/><stop offset="0.9783" stop-color="#d2fa28"/><stop offset="0.9848" stop-color="#bdfa3d"/><stop offset="0.987" stop-color="#a8fa52"/><stop offset="1" stop-color="#a8fa52"/></linearGradient><linearGradient id="g32"><stop offset="0" stop-color="#7aab31"/><stop offset="0.004348" stop-color="#7bac31"/><stop offset="0.006522" stop-color="#8aad22"/><stop offset="0.01087" stop-color="#97af18"/><stop offset="0.02609" stop-color="#bec203"/><stop offset="0.03261" stop-color="#c5c200"/><stop offset="0.06522" stop-color="#c6b100"/><stop offset="0.09783" stop-color="#b69600"/><stop offset="0.1261" stop-color="#b88f00"/><stop offset="0.2196" stop-color="#d18b00"/><stop offset="0.2913" stop-color="#df8900"/><stop offset="0.4109" stop-color="#f18e00"/><stop offset="0.463" stop-color="#ff9500"/><stop offset="0.4957" stop-color="#ff9e00"/><stop offset="0.5239" stop-color="#ffab01"/><stop offset="0.5457" stop-color="#ffba04"/><stop offset="0.563" stop-color="#ffce0c"/><stop offset="0.5761" stop-color="#ffe219"/><stop offset="0.5891" stop-color="#fffe2c"/><stop offset="0.6239" stop-color="#ffff72"/><stop offset="0.6326" stop-color="#ffff7e"/><stop offset="0.6413" stop-color="#ffff83"/><stop offset="0.65" stop-color="#ffff81"/><stop offset="0.6609" stop-color="#ffff75"/><stop offset="0.7" stop-color="#ffff29"/><stop offset="0.7217" stop-color="#ffdd0e"/><stop offset="0.7348" stop-color="#ffd006"/><stop offset="0.75" stop-color="#ffc602"/><stop offset="0.7957" stop-color="#ffbb00"/><stop offset="0.85" stop-color="#fec000"/><stop offset="0.9109" stop-color="#fad700"/><stop offset="0.9609" stop-color="#f9f800"/><stop offset="0.9696" stop-color="#effa0b"/><stop offset="0.9804" stop-color="#d8fa22"/><stop offset="0.9848" stop-color="#c8fa32"/><stop offset="0.987" stop-color="#b3fa47"/><stop offset="1" stop-color="#b3fa47"/></linearGradient><linearGradient id="g33"><stop offset="0" stop-color="#82ab29"/><stop offset="0.004348" stop-color="#83ac29"/><stop offset="0.006522" stop-color="#92ad1b"/><stop offset="0.008696" stop-color="#99ad15"/><stop offset="0.01957" stop-color="#b6b903"/><stop offset="0.02391" stop-color="#bfbe00"/><stop offset="0.03043" stop-color="#c4bd00"/><stop offset="0.06522" stop-color="#c6ab00"/><stop offset="0.1" stop-color="#b68f00"/><stop offset="0.1283" stop-color="#b88900"/><stop offset="0.2478" stop-color="#d78400"/><stop offset="0.4087" stop-color="#f18a00"/><stop offset="0.463" stop-color="#ff9100"/><stop offset="0.4957" stop-color="#ff9a00"/><stop offset="0.5239" stop-color="#ffa601"/><stop offset="0.5457" stop-color="#ffb504"/><stop offset="0.563" stop-color="#ffc80c"/><stop offset="0.5783" stop-color="#ffe11c"/><stop offset="0.5913" stop-color="#fffd30"/><stop offset="0.5935" stop-color="#ffff35"/><stop offset="0.6239" stop-color="#ffff72"/><stop offset="0.6326" stop-color="#ffff7e"/><stop offset="0.6413" stop-color="#ffff83"/><stop offset="0.65" stop-color="#ffff82"/><stop offset="0.6609" stop-color="#ffff76"/><stop offset="0.6978" stop-color="#ffff2c"/><stop offset="0.7196" stop-color="#ffd910"/><stop offset="0.7326" stop-color="#ffca07"/><stop offset="0.7478" stop-color="#ffbe02"/><stop offset="0.7652" stop-color="#ffb701"/><stop offset="0.7935" stop-color="#ffb200"/><stop offset="0.8522" stop-color="#feb800"/><stop offset="0.9196" stop-color="#fad300"/><stop offset="0.9478" stop-color="#fae600"/><stop offset="0.9674" stop-color="#faf800"/><stop offset="0.9717" stop-color="#f6fa04"/><stop offset="0.9804" stop-color="#e3fa17"/><stop offset="0.9848" stop-color="#d3fa27"/><stop offset="0.987" stop-color="#befa3c"/><stop offset="1" stop-color="#befa3c"/></linearGradient><linearGradient id="g34"><stop offset="0" stop-color="#89ab22"/><stop offset="0.004348" stop-color="#8aac22"/><stop offset="0.006522" stop-color="#99ad13"/><stop offset="0.01522" stop-color="#b2b302"/><stop offset="0.02391" stop-color="#bfb800"/><stop offset="0.03043" stop-color="#c4b700"/><stop offset="0.06522" stop-color="#c6a400"/><stop offset="0.1043" stop-color="#b58800"/><stop offset="0.1283" stop-color="#b88300"/><stop offset="0.1935" stop-color="#cb7f00"/><stop offset="0.2609" stop-color="#d98100"/><stop offset="0.437" stop-color="#f78900"/><stop offset="0.463" stop-color="#ff8d00"/><stop offset="0.4935" stop-color="#ff9500"/><stop offset="0.537" stop-color="#ffa902"/><stop offset="0.5543" stop-color="#ffb807"/><stop offset="0.5696" stop-color="#ffcc12"/><stop offset="0.5826" stop-color="#ffe422"/><stop offset="0.5957" stop-color="#ffff39"/><stop offset="0.6261" stop-color="#ffff76"/><stop offset="0.6348" stop-color="#ffff80"/><stop offset="0.6435" stop-color="#ffff84"/><stop offset="0.6522" stop-color="#ffff80"/><stop offset="0.663" stop-color="#ffff73"/><stop offset="0.6957" stop-color="#fffe31"/><stop offset="0.7174" stop-color="#ffd712"/><stop offset="0.7435" stop-color="#ffbc03"/><stop offset="0.7674" stop-color="#ffb000"/><stop offset="0.7957" stop-color="#ffaa00"/><stop offset="0.8522" stop-color="#feb000"/><stop offset="0.8891" stop-color="#fbbd00"/><stop offset="0.9261" stop-color="#facf00"/><stop offset="0.9543" stop-color="#fae300"/><stop offset="0.9739" stop-color="#faf800"/><stop offset="0.9783" stop-color="#f3fa07"/><stop offset="0.9826" stop-color="#e7fa13"/><stop offset="0.9848" stop-color="#defa1c"/><stop offset="0.987" stop-color="#c9fa31"/><stop offset="1" stop-color="#c9fa31"/></linearGradient><linearGradient id="g35"><stop offset="0" stop-color="#91ab1a"/><stop offset="0.004348" stop-color="#92ac1a"/><stop offset="0.006522" stop-color="#a1ad0c"/><stop offset="0.01087" stop-color="#adae01"/><stop offset="0.02391" stop-color="#bfb200"/><stop offset="0.03043" stop-color="#c4b100"/><stop offset="0.06522" stop-color="#c69e00"/><stop offset="0.1022" stop-color="#b58300"/><stop offset="0.1261" stop-color="#b87d00"/><stop offset="0.1674" stop-color="#c47b00"/><stop offset="0.25" stop-color="#d77d00"/><stop offset="0.4348" stop-color="#f68400"/><stop offset="0.463" stop-color="#ff8900"/><stop offset="0.4935" stop-color="#ff9000"/><stop offset="0.537" stop-color="#ffa402"/><stop offset="0.5543" stop-color="#ffb307"/><stop offset="0.5696" stop-color="#ffc712"/><stop offset="0.5826" stop-color="#ffde22"/><stop offset="0.5978" stop-color="#ffff3d"/><stop offset="0.6261" stop-color="#ffff76"/><stop offset="0.6348" stop-color="#ffff81"/><stop offset="0.6435" stop-color="#ffff84"/><stop offset="0.6522" stop-color="#ffff81"/><stop offset="0.663" stop-color="#ffff73"/><stop offset="0.6935" stop-color="#fffe35"/><stop offset="0.7065" stop-color="#ffe31f"/><stop offset="0.7174" stop-color="#ffd112"/><stop offset="0.7435" stop-color="#ffb703"/><stop offset="0.7674" stop-color="#ffab00"/><stop offset="0.7978" stop-color="#ffa400"/><stop offset="0.8239" stop-color="#ffa300"/><stop offset="0.85" stop-color="#fea800"/><stop offset="0.8913" stop-color="#fbb600"/><stop offset="0.9304" stop-color="#faca00"/><stop offset="0.9587" stop-color="#fadf00"/><stop offset="0.9783" stop-color="#faf700"/><stop offset="0.9804" stop-color="#f8f902"/><stop offset="0.9848" stop-color="#e9fa11"/><stop offset="0.987" stop-color="#d4fa26"/><stop offset="1" stop-color="#d4fa26"/></linearGradient><linearGradient id="g36"><stop offset="0" stop-color="#98ab13"/><stop offset="0.004348" stop-color="#99ac13"/><stop offset="0.006522" stop-color="#a9ad04"/><stop offset="0.008696" stop-color="#adac00"/><stop offset="0.01304" stop-color="#b1a900"/><stop offset="0.03043" stop-color="#c4ab00"/><stop offset="0.06522" stop-color="#c69800"/><stop offset="0.1" stop-color="#b67e00"/><stop offset="0.1435" stop-color="#bc7600"/><stop offset="0.2413" stop-color="#d67900"/><stop offset="0.4348" stop-color="#f68000"/><stop offset="0.463" stop-color="#ff8400"/><stop offset="0.4957" stop-color="#ff8c00"/><stop offset="0.5391" stop-color="#ffa102"/><stop offset="0.5565" stop-color="#ffb008"/><stop offset="0.5717" stop-color="#ffc514"/><stop offset="0.5848" stop-color="#ffdd25"/><stop offset="0.6" stop-color="#ffff42"/><stop offset="0.6261" stop-color="#ffff77"/><stop offset="0.6348" stop-color="#ffff81"/><stop offset="0.6435" stop-color="#ffff85"/><stop offset="0.6522" stop-color="#ffff81"/><stop offset="0.6609" stop-color="#ffff77"/><stop offset="0.6913" stop-color="#fffe39"/><stop offset="0.7043" stop-color="#ffe222"/><stop offset="0.7152" stop-color="#ffcf14"/><stop offset="0.7283" stop-color="#ffbe09"/><stop offset="0.7413" stop-color="#ffb304"/><stop offset="0.763" stop-color="#ffa801"/><stop offset="0.7913" stop-color="#ffa000"/><stop offset="0.8261" stop-color="#ff9e00"/><stop offset="0.8522" stop-color="#fea000"/><stop offset="0.8978" stop-color="#fbb100"/><stop offset="0.937" stop-color="#fac600"/><stop offset="0.9652" stop-color="#fade00"/><stop offset="0.9761" stop-color="#faeb00"/><stop offset="0.9826" stop-color="#faf800"/><stop offset="0.9848" stop-color="#f4fa06"/><stop offset="0.987" stop-color="#dffa1b"/><stop offset="1" stop-color="#dffa1b"/></linearGradient><linearGradient id="g37"><stop offset="0" stop-color="#a0ab0b"/><stop offset="0.004348" stop-color="#a1ac0b"/><stop offset="0.006522" stop-color="#adaa00"/><stop offset="0.01304" stop-color="#b1a300"/><stop offset="0.03043" stop-color="#c4a500"/><stop offset="0.06522" stop-color="#c69200"/><stop offset="0.1" stop-color="#b67800"/><stop offset="0.1304" stop-color="#b97200"/><stop offset="0.2391" stop-color="#d57600"/><stop offset="0.4348" stop-color="#f67c00"/><stop offset="0.463" stop-color="#ff8000"/><stop offset="0.4957" stop-color="#ff8800"/><stop offset="0.5391" stop-color="#ff9c02"/><stop offset="0.5565" stop-color="#ffab08"/><stop offset="0.5717" stop-color="#ffbf14"/><stop offset="0.587" stop-color="#ffdc29"/><stop offset="0.6022" stop-color="#ffff47"/><stop offset="0.6261" stop-color="#ffff77"/><stop offset="0.6348" stop-color="#ffff81"/><stop offset="0.6435" stop-color="#ffff85"/><stop offset="0.6522" stop-color="#ffff81"/><stop offset="0.6609" stop-color="#ffff77"/><stop offset="0.6891" stop-color="#fffd3e"/><stop offset="0.7065" stop-color="#ffd81f"/><stop offset="0.7239" stop-color="#ffbe0c"/><stop offset="0.7413" stop-color="#ffae04"/><stop offset="0.763" stop-color="#ffa301"/><stop offset="0.8217" stop-color="#ff9900"/><stop offset="0.8696" stop-color="#fc9e00"/><stop offset="0.9174" stop-color="#fab300"/><stop offset="0.9435" stop-color="#fac300"/><stop offset="0.963" stop-color="#fad400"/><stop offset="0.9761" stop-color="#fae400"/><stop offset="0.9848" stop-color="#faf600"/><stop offset="0.987" stop-color="#eafa10"/><stop offset="1" stop-color="#eafa10"/></linearGradient><linearGradient id="g38"><stop offset="0" stop-color="#a7ab04"/><stop offset="0.004348" stop-color="#a8ac04"/><stop offset="0.008696" stop-color="#ada100"/><stop offset="0.01304" stop-color="#b19e00"/><stop offset="0.02609" stop-color="#c2a000"/><stop offset="0.03696" stop-color="#c59b00"/><stop offset="0.06522" stop-color="#c68b00"/><stop offset="0.09783" stop-color="#b67400"/><stop offset="0.1217" stop-color="#b76f00"/><stop offset="0.2391" stop-color="#d57200"/><stop offset="0.4348" stop-color="#f67800"/><stop offset="0.463" stop-color="#ff7c00"/><stop offset="0.4957" stop-color="#ff8300"/><stop offset="0.5413" stop-color="#ff9803"/><stop offset="0.5587" stop-color="#ffa80a"/><stop offset="0.5739" stop-color="#ffbd17"/><stop offset="0.587" stop-color="#ffd629"/><stop offset="0.6043" stop-color="#ffff4c"/><stop offset="0.6261" stop-color="#ffff77"/><stop offset="0.6348" stop-color="#ffff82"/><stop offset="0.6435" stop-color="#ffff85"/><stop offset="0.6522" stop-color="#ffff82"/><stop offset="0.6609" stop-color="#ffff77"/><stop offset="0.6848" stop-color="#ffff47"/><stop offset="0.7043" stop-color="#ffd622"/><stop offset="0.7239" stop-color="#ffb90c"/><stop offset="0.7413" stop-color="#ffa904"/><stop offset="0.7609" stop-color="#ff9f01"/><stop offset="0.7891" stop-color="#ff9800"/><stop offset="0.8196" stop-color="#ff9500"/><stop offset="0.8804" stop-color="#fb9b00"/><stop offset="0.9196" stop-color="#faac00"/><stop offset="0.9478" stop-color="#fabf00"/><stop offset="0.9674" stop-color="#fad100"/><stop offset="0.9804" stop-color="#fae300"/><stop offset="0.9848" stop-color="#faee00"/><stop offset="0.987" stop-color="#f5fa05"/><stop offset="1" stop-color="#f5fa05"/></linearGradient><linearGradient id="g39"><stop offset="0" stop-color="#aba800"/><stop offset="0.004348" stop-color="#aca900"/><stop offset="0.006522" stop-color="#ad9f00"/><stop offset="0.01087" stop-color="#af9900"/><stop offset="0.02826" stop-color="#c39900"/><stop offset="0.04348" stop-color="#c69100"/><stop offset="0.06522" stop-color="#c68500"/><stop offset="0.09348" stop-color="#b87100"/><stop offset="0.1109" stop-color="#b56d00"/><stop offset="0.237" stop-color="#d56f00"/><stop offset="0.4043" stop-color="#f07200"/><stop offset="0.4522" stop-color="#fb7600"/><stop offset="0.463" stop-color="#ff7800"/><stop offset="0.5217" stop-color="#ff8801"/><stop offset="0.5457" stop-color="#ff9704"/><stop offset="0.563" stop-color="#ffa80c"/><stop offset="0.5826" stop-color="#ffc822"/><stop offset="0.6065" stop-color="#ffff51"/><stop offset="0.6283" stop-color="#ffff7b"/><stop offset="0.637" stop-color="#ffff84"/><stop offset="0.6435" stop-color="#ffff86"/><stop offset="0.6522" stop-color="#ffff82"/><stop offset="0.6609" stop-color="#ffff78"/><stop offset="0.6826" stop-color="#ffff4c"/><stop offset="0.7043" stop-color="#ffd122"/><stop offset="0.7239" stop-color="#ffb30d"/><stop offset="0.7413" stop-color="#ffa404"/><stop offset="0.7609" stop-color="#ff9a01"/><stop offset="0.8174" stop-color="#ff9100"/><stop offset="0.8826" stop-color="#fb9700"/><stop offset="0.9196" stop-color="#faa400"/><stop offset="0.9478" stop-color="#fab700"/><stop offset="0.9696" stop-color="#facb00"/><stop offset="0.9826" stop-color="#fae000"/><stop offset="0.9848" stop-color="#fae700"/><stop offset="0.987" stop-color="#faf600"/><stop offset="1" stop-color="#faf600"/></linearGradient><linearGradient id="g40"><stop offset="0" stop-color="#aba300"/><stop offset="0.004348" stop-color="#aca400"/><stop offset="0.006522" stop-color="#ad9a00"/><stop offset="0.01087" stop-color="#af9400"/><stop offset="0.02826" stop-color="#c39300"/><stop offset="0.04348" stop-color="#c68b00"/><stop offset="0.06522" stop-color="#c67f00"/><stop offset="0.09565" stop-color="#b76d00"/><stop offset="0.1109" stop-color="#b56a00"/><stop offset="0.237" stop-color="#d56b00"/><stop offset="0.4065" stop-color="#f06e00"/><stop offset="0.4565" stop-color="#fd7300"/><stop offset="0.5217" stop-color="#ff8401"/><stop offset="0.5457" stop-color="#ff9204"/><stop offset="0.563" stop-color="#ffa30d"/><stop offset="0.5848" stop-color="#ffc726"/><stop offset="0.6087" stop-color="#ffff56"/><stop offset="0.6283" stop-color="#ffff7c"/><stop offset="0.637" stop-color="#ffff84"/><stop offset="0.6435" stop-color="#ffff87"/><stop offset="0.65" stop-color="#ffff84"/><stop offset="0.6587" stop-color="#ffff7c"/><stop offset="0.6804" stop-color="#ffff52"/><stop offset="0.7022" stop-color="#ffd026"/><stop offset="0.7217" stop-color="#ffb10f"/><stop offset="0.737" stop-color="#ffa306"/><stop offset="0.7565" stop-color="#ff9802"/><stop offset="0.8109" stop-color="#ff8d01"/><stop offset="0.8674" stop-color="#fd9100"/><stop offset="0.9217" stop-color="#fa9e00"/><stop offset="0.95" stop-color="#fab100"/><stop offset="0.9696" stop-color="#fac400"/><stop offset="0.9826" stop-color="#fad900"/><stop offset="0.9848" stop-color="#fadf00"/><stop offset="0.987" stop-color="#faee00"/><stop offset="1" stop-color="#faee00"/></linearGradient><linearGradient id="g41"><stop offset="0" stop-color="#ab9d00"/><stop offset="0.004348" stop-color="#ac9e00"/><stop offset="0.006522" stop-color="#ad9500"/><stop offset="0.01087" stop-color="#af8f00"/><stop offset="0.02826" stop-color="#c38d00"/><stop offset="0.04348" stop-color="#c68400"/><stop offset="0.06522" stop-color="#c67a00"/><stop offset="0.09783" stop-color="#b66900"/><stop offset="0.113" stop-color="#b66600"/><stop offset="0.2348" stop-color="#d46800"/><stop offset="0.4087" stop-color="#f16a00"/><stop offset="0.4609" stop-color="#fe6f00"/><stop offset="0.5239" stop-color="#ff8001"/><stop offset="0.5457" stop-color="#ff8d05"/><stop offset="0.563" stop-color="#ff9e0d"/><stop offset="0.5848" stop-color="#ffc227"/><stop offset="0.6109" stop-color="#ffff5c"/><stop offset="0.6283" stop-color="#ffff7c"/><stop offset="0.637" stop-color="#ffff85"/><stop offset="0.6435" stop-color="#ffff87"/><stop offset="0.65" stop-color="#ffff85"/><stop offset="0.6587" stop-color="#ffff7c"/><stop offset="0.6783" stop-color="#ffff57"/><stop offset="0.7022" stop-color="#ffcb27"/><stop offset="0.7217" stop-color="#ffac0f"/><stop offset="0.737" stop-color="#ff9e07"/><stop offset="0.7543" stop-color="#ff9403"/><stop offset="0.8043" stop-color="#ff8a01"/><stop offset="0.8652" stop-color="#fd8c01"/><stop offset="0.9304" stop-color="#fa9c00"/><stop offset="0.9543" stop-color="#faad00"/><stop offset="0.9717" stop-color="#fabf00"/><stop offset="0.9826" stop-color="#fad100"/><stop offset="0.9848" stop-color="#fad700"/><stop offset="0.987" stop-color="#fae600"/><stop offset="1" stop-color="#fae600"/></linearGradient><linearGradient id="g42"><stop offset="0" stop-color="#ab9800"/><stop offset="0.004348" stop-color="#ac9900"/><stop offset="0.006522" stop-color="#ad8f00"/><stop offset="0.01087" stop-color="#af8900"/><stop offset="0.02826" stop-color="#c38700"/><stop offset="0.04348" stop-color="#c67e00"/><stop offset="0.06522" stop-color="#c67700"/><stop offset="0.09783" stop-color="#b66600"/><stop offset="0.113" stop-color="#b66300"/><stop offset="0.237" stop-color="#d56400"/><stop offset="0.3891" stop-color="#ed6600"/><stop offset="0.4652" stop-color="#ff6c00"/><stop offset="0.5261" stop-color="#ff7d02"/><stop offset="0.5457" stop-color="#ff8805"/><stop offset="0.563" stop-color="#ff990e"/><stop offset="0.5848" stop-color="#ffbc27"/><stop offset="0.613" stop-color="#ffff61"/><stop offset="0.6304" stop-color="#ffff80"/><stop offset="0.6435" stop-color="#ffff88"/><stop offset="0.65" stop-color="#ffff86"/><stop offset="0.6587" stop-color="#ffff7d"/><stop offset="0.6761" stop-color="#ffff5d"/><stop offset="0.7" stop-color="#ffca2c"/><stop offset="0.7196" stop-color="#ffaa12"/><stop offset="0.7326" stop-color="#ff9d09"/><stop offset="0.75" stop-color="#ff9204"/><stop offset="0.8" stop-color="#ff8602"/><stop offset="0.8652" stop-color="#fe8901"/><stop offset="0.9391" stop-color="#fb9a00"/><stop offset="0.9565" stop-color="#faa700"/><stop offset="0.9739" stop-color="#faba00"/><stop offset="0.9826" stop-color="#fac900"/><stop offset="0.9848" stop-color="#fad000"/><stop offset="0.987" stop-color="#fadf00"/><stop offset="1" stop-color="#fadf00"/></linearGradient><linearGradient id="g43"><stop offset="0" stop-color="#ab9300"/><stop offset="0.004348" stop-color="#ac9400"/><stop offset="0.006522" stop-color="#ad8a00"/><stop offset="0.01304" stop-color="#b18200"/><stop offset="0.02826" stop-color="#c38100"/><stop offset="0.04348" stop-color="#c67900"/><stop offset="0.06522" stop-color="#c67300"/><stop offset="0.09783" stop-color="#b66300"/><stop offset="0.1152" stop-color="#b66000"/><stop offset="0.237" stop-color="#d56100"/><stop offset="0.3935" stop-color="#ee6200"/><stop offset="0.4717" stop-color="#ff6901"/><stop offset="0.5304" stop-color="#ff7a02"/><stop offset="0.55" stop-color="#ff8607"/><stop offset="0.5652" stop-color="#ff9610"/><stop offset="0.5761" stop-color="#ffa61b"/><stop offset="0.587" stop-color="#ffbc2b"/><stop offset="0.6152" stop-color="#ffff67"/><stop offset="0.6304" stop-color="#ffff81"/><stop offset="0.6435" stop-color="#ffff89"/><stop offset="0.6565" stop-color="#ffff81"/><stop offset="0.6739" stop-color="#ffff62"/><stop offset="0.7" stop-color="#ffc52c"/><stop offset="0.7196" stop-color="#ffa513"/><stop offset="0.7326" stop-color="#ff980a"/><stop offset="0.7478" stop-color="#ff8e05"/><stop offset="0.7935" stop-color="#ff8302"/><stop offset="0.8674" stop-color="#fe8501"/><stop offset="0.9478" stop-color="#fb9a01"/><stop offset="0.9609" stop-color="#faa300"/><stop offset="0.9761" stop-color="#fab500"/><stop offset="0.9848" stop-color="#fac800"/><stop offset="0.987" stop-color="#fad700"/><stop offset="1" stop-color="#fad700"/></linearGradient><linearGradient id="g44"><stop offset="0" stop-color="#ab8d00"/><stop offset="0.004348" stop-color="#ac8e00"/><stop offset="0.006522" stop-color="#ad8500"/><stop offset="0.01304" stop-color="#b17d00"/><stop offset="0.02826" stop-color="#c37b00"/><stop offset="0.04348" stop-color="#c67600"/><stop offset="0.06522" stop-color="#c67000"/><stop offset="0.09783" stop-color="#b66000"/><stop offset="0.1152" stop-color="#b65d00"/><stop offset="0.2391" stop-color="#d55d00"/><stop offset="0.3957" stop-color="#ef5e00"/><stop offset="0.4609" stop-color="#ff6301"/><stop offset="0.4761" stop-color="#ff6501"/><stop offset="0.5326" stop-color="#ff7703"/><stop offset="0.55" stop-color="#ff8207"/><stop offset="0.5652" stop-color="#ff9110"/><stop offset="0.5761" stop-color="#ffa11c"/><stop offset="0.587" stop-color="#ffb62c"/><stop offset="0.6174" stop-color="#ffff6c"/><stop offset="0.6304" stop-color="#ffff82"/><stop offset="0.6435" stop-color="#ffff8a"/><stop offset="0.6565" stop-color="#ffff82"/><stop offset="0.6717" stop-color="#ffff68"/><stop offset="0.7" stop-color="#ffc02d"/><stop offset="0.7196" stop-color="#ffa013"/><stop offset="0.7326" stop-color="#ff930a"/><stop offset="0.7478" stop-color="#ff8a05"/><stop offset="0.787" stop-color="#ff8003"/><stop offset="0.8609" stop-color="#ff8002"/><stop offset="0.9435" stop-color="#fb9401"/><stop offset="0.9609" stop-color="#fb9c01"/><stop offset="0.9739" stop-color="#faaa00"/><stop offset="0.9826" stop-color="#faba00"/><stop offset="0.9848" stop-color="#fac000"/><stop offset="0.987" stop-color="#facf00"/><stop offset="1" stop-color="#facf00"/></linearGradient><linearGradient id="g45"><stop offset="0" stop-color="#ab8800"/><stop offset="0.004348" stop-color="#ac8900"/><stop offset="0.006522" stop-color="#ad7f00"/><stop offset="0.01304" stop-color="#b17700"/><stop offset="0.02826" stop-color="#c37700"/><stop offset="0.04348" stop-color="#c67300"/><stop offset="0.06522" stop-color="#c66d00"/><stop offset="0.09783" stop-color="#b65d00"/><stop offset="0.1174" stop-color="#b65a00"/><stop offset="0.2391" stop-color="#d55a00"/><stop offset="0.3978" stop-color="#ef5a00"/><stop offset="0.4609" stop-color="#ff5f01"/><stop offset="0.4804" stop-color="#ff6201"/><stop offset="0.5326" stop-color="#ff7203"/><stop offset="0.55" stop-color="#ff7d08"/><stop offset="0.5652" stop-color="#ff8d11"/><stop offset="0.587" stop-color="#ffb22e"/><stop offset="0.6174" stop-color="#fffc6d"/><stop offset="0.6304" stop-color="#ffff83"/><stop offset="0.6435" stop-color="#ffff8b"/><stop offset="0.6565" stop-color="#ffff83"/><stop offset="0.6717" stop-color="#fffc69"/><stop offset="0.7" stop-color="#ffbc2f"/><stop offset="0.7196" stop-color="#ff9c15"/><stop offset="0.7457" stop-color="#ff8707"/><stop offset="0.7826" stop-color="#ff7c03"/><stop offset="0.8565" stop-color="#ff7c02"/><stop offset="0.9391" stop-color="#fb8e01"/><stop offset="0.9696" stop-color="#fb9d01"/><stop offset="0.9826" stop-color="#fab201"/><stop offset="0.9848" stop-color="#fab900"/><stop offset="0.987" stop-color="#fac800"/><stop offset="1" stop-color="#fac800"/></linearGradient><linearGradient id="g46"><stop offset="0" stop-color="#ab8300"/><stop offset="0.004348" stop-color="#ac8400"/><stop offset="0.006522" stop-color="#ad7a00"/><stop offset="0.01304" stop-color="#b17200"/><stop offset="0.02826" stop-color="#c37400"/><stop offset="0.04348" stop-color="#c67000"/><stop offset="0.06739" stop-color="#c66900"/><stop offset="0.1" stop-color="#b65a00"/><stop offset="0.1196" stop-color="#b65700"/><stop offset="0.2413" stop-color="#d65600"/><stop offset="0.4" stop-color="#ef5600"/><stop offset="0.4609" stop-color="#ff5b01"/><stop offset="0.4848" stop-color="#ff5f01"/><stop offset="0.5348" stop-color="#ff6f04"/><stop offset="0.5522" stop-color="#ff7b0a"/><stop offset="0.5652" stop-color="#ff8912"/><stop offset="0.587" stop-color="#ffae2f"/><stop offset="0.6196" stop-color="#fffc73"/><stop offset="0.6217" stop-color="#ffff77"/><stop offset="0.6326" stop-color="#ffff86"/><stop offset="0.6435" stop-color="#ffff8c"/><stop offset="0.6565" stop-color="#ffff84"/><stop offset="0.6696" stop-color="#fffc6f"/><stop offset="0.6978" stop-color="#ffbc35"/><stop offset="0.7174" stop-color="#ff9b18"/><stop offset="0.7413" stop-color="#ff8509"/><stop offset="0.7761" stop-color="#ff7904"/><stop offset="0.8478" stop-color="#ff7703"/><stop offset="0.9304" stop-color="#fb8801"/><stop offset="0.9717" stop-color="#fb9a01"/><stop offset="0.9826" stop-color="#fbab01"/><stop offset="0.9848" stop-color="#fab101"/><stop offset="0.987" stop-color="#fac001"/><stop offset="1" stop-color="#fac000"/></linearGradient><linearGradient id="g47"><stop offset="0" stop-color="#ab7d00"/><stop offset="0.004348" stop-color="#ac7e00"/><stop offset="0.006522" stop-color="#ad7400"/><stop offset="0.01304" stop-color="#b16d00"/><stop offset="0.02826" stop-color="#c37000"/><stop offset="0.04348" stop-color="#c66c00"/><stop offset="0.06739" stop-color="#c66500"/><stop offset="0.1" stop-color="#b65700"/><stop offset="0.1196" stop-color="#b65400"/><stop offset="0.2413" stop-color="#d65300"/><stop offset="0.4022" stop-color="#f05300"/><stop offset="0.4609" stop-color="#ff5701"/><stop offset="0.4891" stop-color="#ff5b01"/><stop offset="0.5348" stop-color="#ff6a05"/><stop offset="0.5522" stop-color="#ff760a"/><stop offset="0.5652" stop-color="#ff8414"/><stop offset="0.587" stop-color="#ffaa31"/><stop offset="0.6217" stop-color="#fffb78"/><stop offset="0.6239" stop-color="#ffff7c"/><stop offset="0.6326" stop-color="#ffff87"/><stop offset="0.6435" stop-color="#ffff8d"/><stop offset="0.6543" stop-color="#ffff87"/><stop offset="0.6652" stop-color="#ffff78"/><stop offset="0.6978" stop-color="#ffb836"/><stop offset="0.7174" stop-color="#ff971a"/><stop offset="0.7413" stop-color="#ff810a"/><stop offset="0.7717" stop-color="#ff7605"/><stop offset="0.8413" stop-color="#ff7303"/><stop offset="0.9239" stop-color="#fc8201"/><stop offset="0.9739" stop-color="#fb9701"/><stop offset="0.9826" stop-color="#fba301"/><stop offset="0.9848" stop-color="#fba901"/><stop offset="0.987" stop-color="#fbb801"/><stop offset="1" stop-color="#fab801"/></linearGradient><linearGradient id="g48"><stop offset="0" stop-color="#ab7800"/><stop offset="0.004348" stop-color="#ac7900"/><stop offset="0.006522" stop-color="#ad6f00"/><stop offset="0.01087" stop-color="#af6a00"/><stop offset="0.02826" stop-color="#c36d00"/><stop offset="0.04348" stop-color="#c66900"/><stop offset="0.06739" stop-color="#c66200"/><stop offset="0.1" stop-color="#b65400"/><stop offset="0.1217" stop-color="#b75100"/><stop offset="0.2435" stop-color="#d64f00"/><stop offset="0.4065" stop-color="#f14f00"/><stop offset="0.4609" stop-color="#ff5301"/><stop offset="0.4935" stop-color="#ff5802"/><stop offset="0.537" stop-color="#ff6706"/><stop offset="0.5522" stop-color="#ff720b"/><stop offset="0.5652" stop-color="#ff8015"/><stop offset="0.587" stop-color="#ffa633"/><stop offset="0.6152" stop-color="#ffe96d"/><stop offset="0.6261" stop-color="#fffe80"/><stop offset="0.6348" stop-color="#ffff8a"/><stop offset="0.6435" stop-color="#ffff8d"/><stop offset="0.6522" stop-color="#ffff8a"/><stop offset="0.663" stop-color="#fffe7d"/><stop offset="0.7" stop-color="#ffb034"/><stop offset="0.7174" stop-color="#ff931b"/><stop offset="0.7391" stop-color="#ff7e0c"/><stop offset="0.7674" stop-color="#ff7306"/><stop offset="0.837" stop-color="#ff6f04"/><stop offset="0.9174" stop-color="#fc7c02"/><stop offset="0.9696" stop-color="#fb9001"/><stop offset="0.9826" stop-color="#fb9c01"/><stop offset="0.9848" stop-color="#fba101"/><stop offset="0.987" stop-color="#fbb101"/><stop offset="1" stop-color="#fab001"/></linearGradient><linearGradient id="g49"><stop offset="0" stop-color="#ab7300"/><stop offset="0.004348" stop-color="#ac7400"/><stop offset="0.006522" stop-color="#ad6a00"/><stop offset="0.01087" stop-color="#af6700"/><stop offset="0.02826" stop-color="#c36a00"/><stop offset="0.04348" stop-color="#c66600"/><stop offset="0.06739" stop-color="#c65f00"/><stop offset="0.1" stop-color="#b65100"/><stop offset="0.1239" stop-color="#b74e00"/><stop offset="0.237" stop-color="#d54c00"/><stop offset="0.387" stop-color="#ed4a00"/><stop offset="0.4609" stop-color="#ff4f01"/><stop offset="0.4957" stop-color="#ff5402"/><stop offset="0.537" stop-color="#ff6206"/><stop offset="0.5522" stop-color="#ff6d0c"/><stop offset="0.5652" stop-color="#ff7c16"/><stop offset="0.5848" stop-color="#ff9d30"/><stop offset="0.6152" stop-color="#ffe46e"/><stop offset="0.6261" stop-color="#fff981"/><stop offset="0.6304" stop-color="#fffe87"/><stop offset="0.6435" stop-color="#ffff8e"/><stop offset="0.6587" stop-color="#ffff85"/><stop offset="0.663" stop-color="#fff97e"/><stop offset="0.7" stop-color="#ffac36"/><stop offset="0.7174" stop-color="#ff8f1d"/><stop offset="0.7391" stop-color="#ff7a0d"/><stop offset="0.7652" stop-color="#ff6f07"/><stop offset="0.8304" stop-color="#ff6b04"/><stop offset="0.9109" stop-color="#fc7602"/><stop offset="0.9652" stop-color="#fb8a01"/><stop offset="0.9826" stop-color="#fb9701"/><stop offset="0.9848" stop-color="#fb9b01"/><stop offset="0.987" stop-color="#fba901"/><stop offset="1" stop-color="#fba901"/></linearGradient><linearGradient id="g50"><stop offset="0" stop-color="#ab6e00"/><stop offset="0.004348" stop-color="#ac6e00"/><stop offset="0.006522" stop-color="#ad6700"/><stop offset="0.01087" stop-color="#af6500"/><stop offset="0.02826" stop-color="#c36700"/><stop offset="0.0413" stop-color="#c66300"/><stop offset="0.06739" stop-color="#c65c00"/><stop offset="0.1022" stop-color="#b54d00"/><stop offset="0.1261" stop-color="#b84b00"/><stop offset="0.237" stop-color="#d54800"/><stop offset="0.3783" stop-color="#ec4700"/><stop offset="0.4587" stop-color="#ff4c01"/><stop offset="0.5" stop-color="#ff5302"/><stop offset="0.5391" stop-color="#ff6107"/><stop offset="0.5652" stop-color="#ff7917"/><stop offset="0.5848" stop-color="#ff9a32"/><stop offset="0.6239" stop-color="#fff17f"/><stop offset="0.6348" stop-color="#fffe8c"/><stop offset="0.6435" stop-color="#ffff8f"/><stop offset="0.6543" stop-color="#fffe8a"/><stop offset="0.663" stop-color="#fff480"/><stop offset="0.7" stop-color="#ffa838"/><stop offset="0.7174" stop-color="#ff8b1e"/><stop offset="0.737" stop-color="#ff770f"/><stop offset="0.763" stop-color="#ff6c07"/><stop offset="0.8261" stop-color="#ff6605"/><stop offset="0.9043" stop-color="#fd7102"/><stop offset="0.9609" stop-color="#fb8401"/><stop offset="0.9804" stop-color="#fb9101"/><stop offset="0.9848" stop-color="#fb9701"/><stop offset="0.987" stop-color="#fba101"/><stop offset="1" stop-color="#fba101"/></linearGradient><linearGradient id="g51"><stop offset="0" stop-color="#ab6900"/><stop offset="0.004348" stop-color="#ac6a00"/><stop offset="0.01087" stop-color="#af6200"/><stop offset="0.02826" stop-color="#c36400"/><stop offset="0.0413" stop-color="#c66000"/><stop offset="0.06739" stop-color="#c65900"/><stop offset="0.1022" stop-color="#b54a00"/><stop offset="0.1304" stop-color="#b94700"/><stop offset="0.237" stop-color="#d54500"/><stop offset="0.3674" stop-color="#ea4500"/><stop offset="0.4587" stop-color="#ff4a01"/><stop offset="0.5" stop-color="#ff5003"/><stop offset="0.5391" stop-color="#ff5f08"/><stop offset="0.5652" stop-color="#ff7718"/><stop offset="0.5848" stop-color="#ff9833"/><stop offset="0.6239" stop-color="#ffee80"/><stop offset="0.6348" stop-color="#fffc8d"/><stop offset="0.6435" stop-color="#ffff90"/><stop offset="0.6522" stop-color="#fffd8d"/><stop offset="0.663" stop-color="#fff181"/><stop offset="0.7" stop-color="#ffa439"/><stop offset="0.7174" stop-color="#ff8720"/><stop offset="0.737" stop-color="#ff7310"/><stop offset="0.7609" stop-color="#ff6808"/><stop offset="0.8217" stop-color="#ff6205"/><stop offset="0.8978" stop-color="#fe6c03"/><stop offset="0.9565" stop-color="#fb7e01"/><stop offset="0.9783" stop-color="#fb8b01"/><stop offset="0.9848" stop-color="#fb9301"/><stop offset="0.987" stop-color="#fb9b01"/><stop offset="1" stop-color="#fb9a01"/></linearGradient><linearGradient id="g52"><stop offset="0" stop-color="#ab6600"/><stop offset="0.004348" stop-color="#ac6700"/><stop offset="0.01087" stop-color="#af5f00"/><stop offset="0.02826" stop-color="#c36100"/><stop offset="0.0413" stop-color="#c65d00"/><stop offset="0.06739" stop-color="#c65500"/><stop offset="0.1022" stop-color="#b54700"/><stop offset="0.1326" stop-color="#b94400"/><stop offset="0.237" stop-color="#d54100"/><stop offset="0.3783" stop-color="#ec4300"/><stop offset="0.4587" stop-color="#ff4802"/><stop offset="0.5022" stop-color="#ff4f03"/><stop offset="0.5391" stop-color="#ff5d08"/><stop offset="0.5652" stop-color="#ff7619"/><stop offset="0.5848" stop-color="#ff9735"/><stop offset="0.6217" stop-color="#ffe87e"/><stop offset="0.6326" stop-color="#fff88c"/><stop offset="0.6435" stop-color="#fffe91"/><stop offset="0.6543" stop-color="#fff98c"/><stop offset="0.6652" stop-color="#ffeb7f"/><stop offset="0.7" stop-color="#ffa23b"/><stop offset="0.7174" stop-color="#ff8421"/><stop offset="0.737" stop-color="#ff7011"/><stop offset="0.7609" stop-color="#ff6409"/><stop offset="0.8217" stop-color="#ff5f06"/><stop offset="0.9" stop-color="#fe6803"/><stop offset="0.9587" stop-color="#fb7b02"/><stop offset="0.9804" stop-color="#fb8901"/><stop offset="0.9848" stop-color="#fb8f01"/><stop offset="0.987" stop-color="#fb9701"/><stop offset="1" stop-color="#fb9601"/></linearGradient><linearGradient id="g53"><stop offset="0" stop-color="#ab6300"/><stop offset="0.004348" stop-color="#ac6400"/><stop offset="0.01087" stop-color="#af5c00"/><stop offset="0.02826" stop-color="#c35d00"/><stop offset="0.0413" stop-color="#c65a00"/><stop offset="0.06739" stop-color="#c65200"/><stop offset="0.1022" stop-color="#b54400"/><stop offset="0.1348" stop-color="#ba4100"/><stop offset="0.2348" stop-color="#d43f00"/><stop offset="0.4043" stop-color="#f14201"/><stop offset="0.4587" stop-color="#ff4602"/><stop offset="0.5022" stop-color="#ff4d03"/><stop offset="0.537" stop-color="#ff5a08"/><stop offset="0.563" stop-color="#ff7118"/><stop offset="0.5848" stop-color="#ff9636"/><stop offset="0.6217" stop-color="#ffe67f"/><stop offset="0.6326" stop-color="#fff68d"/><stop offset="0.6435" stop-color="#fffb92"/><stop offset="0.6543" stop-color="#fff78d"/><stop offset="0.6652" stop-color="#ffe980"/><stop offset="0.7022" stop-color="#ff9d39"/><stop offset="0.7196" stop-color="#ff8020"/><stop offset="0.7391" stop-color="#ff6c11"/><stop offset="0.7652" stop-color="#ff6009"/><stop offset="0.8239" stop-color="#ff5b06"/><stop offset="0.9022" stop-color="#fe6503"/><stop offset="0.9587" stop-color="#fc7702"/><stop offset="0.9804" stop-color="#fb8501"/><stop offset="0.9848" stop-color="#fb8b01"/><stop offset="0.987" stop-color="#fb9301"/><stop offset="1" stop-color="#fb9201"/></linearGradient><linearGradient id="g54"><stop offset="0" stop-color="#ab6100"/><stop offset="0.004348" stop-color="#ac6100"/><stop offset="0.01087" stop-color="#af5900"/><stop offset="0.02826" stop-color="#c35a00"/><stop offset="0.03913" stop-color="#c65700"/><stop offset="0.06522" stop-color="#c65000"/><stop offset="0.1022" stop-color="#b54100"/><stop offset="0.1391" stop-color="#bb3e00"/><stop offset="0.2348" stop-color="#d43d00"/><stop offset="0.4043" stop-color="#f14001"/><stop offset="0.4587" stop-color="#ff4402"/><stop offset="0.5022" stop-color="#ff4b03"/><stop offset="0.537" stop-color="#ff5809"/><stop offset="0.563" stop-color="#ff701a"/><stop offset="0.5848" stop-color="#ff9438"/><stop offset="0.6217" stop-color="#ffe480"/><stop offset="0.6326" stop-color="#fff38e"/><stop offset="0.6435" stop-color="#fff993"/><stop offset="0.6543" stop-color="#fff58e"/><stop offset="0.6652" stop-color="#ffe781"/><stop offset="0.7022" stop-color="#ff9c3b"/><stop offset="0.7196" stop-color="#ff7f22"/><stop offset="0.7391" stop-color="#ff6b12"/><stop offset="0.7652" stop-color="#ff5e0a"/><stop offset="0.8152" stop-color="#ff5707"/><stop offset="0.8978" stop-color="#fe6003"/><stop offset="0.9565" stop-color="#fc7202"/><stop offset="0.9783" stop-color="#fb7f01"/><stop offset="0.9848" stop-color="#fb8701"/><stop offset="0.987" stop-color="#fb8f01"/><stop offset="1" stop-color="#fb8e01"/></linearGradient><linearGradient id="g55"><stop offset="0" stop-color="#ab5e00"/><stop offset="0.004348" stop-color="#ac5f00"/><stop offset="0.01087" stop-color="#af5600"/><stop offset="0.02826" stop-color="#c35700"/><stop offset="0.03913" stop-color="#c65400"/><stop offset="0.06522" stop-color="#c64c00"/><stop offset="0.1022" stop-color="#b53e00"/><stop offset="0.1435" stop-color="#bc3a00"/><stop offset="0.2348" stop-color="#d43b00"/><stop offset="0.4022" stop-color="#f03e01"/><stop offset="0.4587" stop-color="#ff4202"/><stop offset="0.5022" stop-color="#ff4904"/><stop offset="0.537" stop-color="#ff560a"/><stop offset="0.563" stop-color="#ff6e1b"/><stop offset="0.5826" stop-color="#ff8e36"/><stop offset="0.6217" stop-color="#ffe281"/><stop offset="0.6326" stop-color="#fff18e"/><stop offset="0.6435" stop-color="#fff793"/><stop offset="0.6543" stop-color="#fff28f"/><stop offset="0.6652" stop-color="#ffe582"/><stop offset="0.7022" stop-color="#ff9a3d"/><stop offset="0.7196" stop-color="#ff7d23"/><stop offset="0.7391" stop-color="#ff6913"/><stop offset="0.7652" stop-color="#ff5c0b"/><stop offset="0.8283" stop-color="#ff5407"/><stop offset="0.8957" stop-color="#ff5c04"/><stop offset="0.9565" stop-color="#fc6e02"/><stop offset="0.9783" stop-color="#fb7b01"/><stop offset="0.9848" stop-color="#fb8301"/><stop offset="0.987" stop-color="#fb8b01"/><stop offset="1" stop-color="#fb8a01"/></linearGradient><linearGradient id="g56"><stop offset="0" stop-color="#ab5b00"/><stop offset="0.004348" stop-color="#ac5c00"/><stop offset="0.01087" stop-color="#af5400"/><stop offset="0.02826" stop-color="#c35400"/><stop offset="0.0413" stop-color="#c65000"/><stop offset="0.06739" stop-color="#c64800"/><stop offset="0.1022" stop-color="#b53b00"/><stop offset="0.1304" stop-color="#b93800"/><stop offset="0.2348" stop-color="#d43900"/><stop offset="0.4022" stop-color="#f03c01"/><stop offset="0.4587" stop-color="#ff4002"/><stop offset="0.5022" stop-color="#ff4604"/><stop offset="0.537" stop-color="#ff540a"/><stop offset="0.563" stop-color="#ff6c1c"/><stop offset="0.5826" stop-color="#ff8d37"/><stop offset="0.6217" stop-color="#ffe082"/><stop offset="0.6326" stop-color="#ffef8f"/><stop offset="0.6435" stop-color="#fff494"/><stop offset="0.6543" stop-color="#fff090"/><stop offset="0.6652" stop-color="#ffe383"/><stop offset="0.7022" stop-color="#ff993e"/><stop offset="0.7217" stop-color="#ff7922"/><stop offset="0.7413" stop-color="#ff6613"/><stop offset="0.7652" stop-color="#ff5a0b"/><stop offset="0.8304" stop-color="#ff5207"/><stop offset="0.8913" stop-color="#ff5704"/><stop offset="0.9543" stop-color="#fc6902"/><stop offset="0.9783" stop-color="#fb7702"/><stop offset="0.9848" stop-color="#fb7f01"/><stop offset="0.987" stop-color="#fb8701"/><stop offset="1" stop-color="#fb8601"/></linearGradient><linearGradient id="g57"><stop offset="0" stop-color="#ab5800"/><stop offset="0.004348" stop-color="#ac5900"/><stop offset="0.01087" stop-color="#af5100"/><stop offset="0.02826" stop-color="#c35100"/><stop offset="0.04348" stop-color="#c64c00"/><stop offset="0.06739" stop-color="#c64500"/><stop offset="0.1" stop-color="#b63900"/><stop offset="0.1196" stop-color="#b63600"/><stop offset="0.2348" stop-color="#d43800"/><stop offset="0.4022" stop-color="#f03a01"/><stop offset="0.4565" stop-color="#ff3d02"/><stop offset="0.5022" stop-color="#ff4404"/><stop offset="0.537" stop-color="#ff520b"/><stop offset="0.5609" stop-color="#ff681b"/><stop offset="0.5826" stop-color="#ff8b39"/><stop offset="0.6217" stop-color="#ffde83"/><stop offset="0.6326" stop-color="#ffec90"/><stop offset="0.6435" stop-color="#fff295"/><stop offset="0.6543" stop-color="#ffee91"/><stop offset="0.6652" stop-color="#ffe185"/><stop offset="0.7043" stop-color="#ff943c"/><stop offset="0.7217" stop-color="#ff7824"/><stop offset="0.7413" stop-color="#ff6414"/><stop offset="0.7652" stop-color="#ff580c"/><stop offset="0.8217" stop-color="#ff5008"/><stop offset="0.8891" stop-color="#ff5305"/><stop offset="0.9543" stop-color="#fc6502"/><stop offset="0.9783" stop-color="#fc7302"/><stop offset="0.9848" stop-color="#fb7b01"/><stop offset="0.987" stop-color="#fb8301"/><stop offset="1" stop-color="#fb8301"/></linearGradient><linearGradient id="g58"><stop offset="0" stop-color="#ab5600"/><stop offset="0.004348" stop-color="#ac5600"/><stop offset="0.01087" stop-color="#af4e00"/><stop offset="0.02826" stop-color="#c34d00"/><stop offset="0.04348" stop-color="#c64900"/><stop offset="0.06522" stop-color="#c64300"/><stop offset="0.09783" stop-color="#b63700"/><stop offset="0.1174" stop-color="#b63500"/><stop offset="0.2348" stop-color="#d43600"/><stop offset="0.4022" stop-color="#f03801"/><stop offset="0.4565" stop-color="#ff3b02"/><stop offset="0.5022" stop-color="#ff4204"/><stop offset="0.5348" stop-color="#ff4f0b"/><stop offset="0.5609" stop-color="#ff661c"/><stop offset="0.5826" stop-color="#ff8a3a"/><stop offset="0.6217" stop-color="#ffdc84"/><stop offset="0.6326" stop-color="#ffea91"/><stop offset="0.6435" stop-color="#fff096"/><stop offset="0.6543" stop-color="#ffec92"/><stop offset="0.6652" stop-color="#ffdf86"/><stop offset="0.7043" stop-color="#ff923e"/><stop offset="0.7217" stop-color="#ff7725"/><stop offset="0.7413" stop-color="#ff6315"/><stop offset="0.7652" stop-color="#ff570d"/><stop offset="0.8217" stop-color="#ff4f08"/><stop offset="0.8978" stop-color="#ff5104"/><stop offset="0.9565" stop-color="#fc6202"/><stop offset="0.9783" stop-color="#fc6f02"/><stop offset="0.9848" stop-color="#fb7702"/><stop offset="0.987" stop-color="#fb7f01"/><stop offset="1" stop-color="#fb7f01"/></linearGradient><linearGradient id="g59"><stop offset="0" stop-color="#ab5300"/><stop offset="0.004348" stop-color="#ac5300"/><stop offset="0.01087" stop-color="#af4b00"/><stop offset="0.02826" stop-color="#c34a00"/><stop offset="0.04348" stop-color="#c64600"/><stop offset="0.06522" stop-color="#c63f00"/><stop offset="0.09783" stop-color="#b63500"/><stop offset="0.1174" stop-color="#b63300"/><stop offset="0.2326" stop-color="#d43400"/><stop offset="0.4022" stop-color="#f13601"/><stop offset="0.4565" stop-color="#ff3902"/><stop offset="0.5022" stop-color="#ff4005"/><stop offset="0.5348" stop-color="#ff4d0b"/><stop offset="0.5609" stop-color="#ff651d"/><stop offset="0.5804" stop-color="#ff8438"/><stop offset="0.6217" stop-color="#ffda85"/><stop offset="0.6326" stop-color="#ffe892"/><stop offset="0.6435" stop-color="#ffed97"/><stop offset="0.6543" stop-color="#ffea93"/><stop offset="0.6674" stop-color="#ffda84"/><stop offset="0.7043" stop-color="#ff9140"/><stop offset="0.7217" stop-color="#ff7527"/><stop offset="0.7413" stop-color="#ff6116"/><stop offset="0.7652" stop-color="#ff550d"/><stop offset="0.8239" stop-color="#ff4d08"/><stop offset="0.9087" stop-color="#ff4f04"/><stop offset="0.9587" stop-color="#fc5f02"/><stop offset="0.9804" stop-color="#fc6d02"/><stop offset="0.9848" stop-color="#fc7302"/><stop offset="0.987" stop-color="#fb7b02"/><stop offset="1" stop-color="#fb7b01"/></linearGradient><linearGradient id="g60"><stop offset="0" stop-color="#ab5000"/><stop offset="0.004348" stop-color="#ac5100"/><stop offset="0.01087" stop-color="#af4800"/><stop offset="0.02826" stop-color="#c34700"/><stop offset="0.04348" stop-color="#c64200"/><stop offset="0.06739" stop-color="#c63c00"/><stop offset="0.1" stop-color="#b63300"/><stop offset="0.1196" stop-color="#b63200"/><stop offset="0.2326" stop-color="#d43200"/><stop offset="0.4022" stop-color="#f13401"/><stop offset="0.4565" stop-color="#ff3702"/><stop offset="0.5022" stop-color="#ff3e05"/><stop offset="0.5348" stop-color="#ff4b0c"/><stop offset="0.5609" stop-color="#ff631e"/><stop offset="0.5804" stop-color="#ff833a"/><stop offset="0.6217" stop-color="#ffd887"/><stop offset="0.6326" stop-color="#ffe694"/><stop offset="0.6435" stop-color="#ffec99"/><stop offset="0.6543" stop-color="#ffe895"/><stop offset="0.6674" stop-color="#ffd986"/><stop offset="0.7043" stop-color="#ff9042"/><stop offset="0.7217" stop-color="#ff7429"/><stop offset="0.7413" stop-color="#ff6017"/><stop offset="0.7652" stop-color="#ff530e"/><stop offset="0.8304" stop-color="#ff4b08"/><stop offset="0.9217" stop-color="#fe4f04"/><stop offset="0.9696" stop-color="#fc6102"/><stop offset="0.9826" stop-color="#fc6c02"/><stop offset="0.987" stop-color="#fc7702"/><stop offset="1" stop-color="#fb7701"/></linearGradient><linearGradient id="g61"><stop offset="0" stop-color="#ab4d00"/><stop offset="0.004348" stop-color="#ac4e00"/><stop offset="0.01087" stop-color="#af4500"/><stop offset="0.02826" stop-color="#c34400"/><stop offset="0.04348" stop-color="#c63f00"/><stop offset="0.06739" stop-color="#c63a00"/><stop offset="0.1" stop-color="#b63200"/><stop offset="0.1196" stop-color="#b63000"/><stop offset="0.2326" stop-color="#d43000"/><stop offset="0.4022" stop-color="#f13201"/><stop offset="0.4565" stop-color="#ff3502"/><stop offset="0.5022" stop-color="#ff3c05"/><stop offset="0.5348" stop-color="#ff490d"/><stop offset="0.5587" stop-color="#ff5f1d"/><stop offset="0.5804" stop-color="#ff823c"/><stop offset="0.6217" stop-color="#ffd789"/><stop offset="0.6326" stop-color="#ffe596"/><stop offset="0.6435" stop-color="#ffea9b"/><stop offset="0.6543" stop-color="#ffe797"/><stop offset="0.6674" stop-color="#ffd788"/><stop offset="0.7043" stop-color="#ff8f44"/><stop offset="0.7239" stop-color="#ff7028"/><stop offset="0.7435" stop-color="#ff5d17"/><stop offset="0.7652" stop-color="#ff520f"/><stop offset="0.8348" stop-color="#ff4909"/><stop offset="0.9326" stop-color="#fe4e04"/><stop offset="0.9717" stop-color="#fc5e02"/><stop offset="0.9826" stop-color="#fc6802"/><stop offset="0.987" stop-color="#fc7302"/><stop offset="1" stop-color="#fb7301"/></linearGradient><linearGradient id="g62"><stop offset="0" stop-color="#ab4b00"/><stop offset="0.004348" stop-color="#ac4b00"/><stop offset="0.01087" stop-color="#af4300"/><stop offset="0.02826" stop-color="#c34100"/><stop offset="0.04348" stop-color="#c63c00"/><stop offset="0.06739" stop-color="#c63800"/><stop offset="0.1" stop-color="#b63000"/><stop offset="0.1217" stop-color="#b72f00"/><stop offset="0.2326" stop-color="#d42f00"/><stop offset="0.4022" stop-color="#f13001"/><stop offset="0.4565" stop-color="#ff3303"/><stop offset="0.5022" stop-color="#ff3a05"/><stop offset="0.5348" stop-color="#ff470d"/><stop offset="0.5587" stop-color="#ff5d1f"/><stop offset="0.5804" stop-color="#ff813d"/><stop offset="0.6196" stop-color="#ffd288"/><stop offset="0.6326" stop-color="#ffe398"/><stop offset="0.6435" stop-color="#ffe99c"/><stop offset="0.6543" stop-color="#ffe598"/><stop offset="0.6674" stop-color="#ffd68a"/><stop offset="0.7065" stop-color="#ff8a42"/><stop offset="0.7239" stop-color="#ff6f29"/><stop offset="0.7435" stop-color="#ff5b19"/><stop offset="0.7652" stop-color="#ff5010"/><stop offset="0.8348" stop-color="#ff4709"/><stop offset="0.9326" stop-color="#fe4c04"/><stop offset="0.95" stop-color="#fd4f03"/><stop offset="0.9717" stop-color="#fc5a02"/><stop offset="0.9826" stop-color="#fc6402"/><stop offset="0.987" stop-color="#fc6f02"/><stop offset="1" stop-color="#fb6f01"/></linearGradient><linearGradient id="g63"><stop offset="0" stop-color="#ab4800"/><stop offset="0.004348" stop-color="#ac4800"/><stop offset="0.01087" stop-color="#af4000"/><stop offset="0.02826" stop-color="#c33d00"/><stop offset="0.04348" stop-color="#c63a00"/><stop offset="0.06739" stop-color="#c63600"/><stop offset="0.1" stop-color="#b62f00"/><stop offset="0.1217" stop-color="#b72d00"/><stop offset="0.2326" stop-color="#d42d00"/><stop offset="0.4" stop-color="#f02e01"/><stop offset="0.4565" stop-color="#ff3103"/><stop offset="0.5022" stop-color="#ff3806"/><stop offset="0.5348" stop-color="#ff450e"/><stop offset="0.5587" stop-color="#ff5c20"/><stop offset="0.5804" stop-color="#ff803f"/><stop offset="0.6196" stop-color="#ffd189"/><stop offset="0.6326" stop-color="#ffe299"/><stop offset="0.6435" stop-color="#ffe79e"/><stop offset="0.6543" stop-color="#ffe49a"/><stop offset="0.6674" stop-color="#ffd58c"/><stop offset="0.7065" stop-color="#ff8a44"/><stop offset="0.7239" stop-color="#ff6e2b"/><stop offset="0.7435" stop-color="#ff5a1a"/><stop offset="0.7652" stop-color="#ff4e11"/><stop offset="0.8304" stop-color="#ff450a"/><stop offset="0.9283" stop-color="#fe4a04"/><stop offset="0.9587" stop-color="#fd4f03"/><stop offset="0.9804" stop-color="#fc5d02"/><stop offset="0.9848" stop-color="#fc6302"/><stop offset="0.987" stop-color="#fc6b02"/><stop offset="1" stop-color="#fb6b02"/></linearGradient><linearGradient id="g64"><stop offset="0" stop-color="#ab4500"/><stop offset="0.004348" stop-color="#ac4600"/><stop offset="0.01087" stop-color="#af3d00"/><stop offset="0.02826" stop-color="#c33b00"/><stop offset="0.04348" stop-color="#c63800"/><stop offset="0.06739" stop-color="#c63500"/><stop offset="0.1" stop-color="#b62d00"/><stop offset="0.1239" stop-color="#b72c00"/><stop offset="0.2326" stop-color="#d42b00"/><stop offset="0.4" stop-color="#f02c01"/><stop offset="0.4543" stop-color="#ff2f03"/><stop offset="0.5022" stop-color="#ff3606"/><stop offset="0.5348" stop-color="#ff440f"/><stop offset="0.5587" stop-color="#ff5b21"/><stop offset="0.5783" stop-color="#ff7a3d"/><stop offset="0.6196" stop-color="#ffcf8b"/><stop offset="0.6326" stop-color="#ffe09b"/><stop offset="0.6435" stop-color="#ffe6a0"/><stop offset="0.6543" stop-color="#ffe29c"/><stop offset="0.6674" stop-color="#ffd48d"/><stop offset="0.7065" stop-color="#ff8946"/><stop offset="0.7239" stop-color="#ff6d2d"/><stop offset="0.7435" stop-color="#ff591b"/><stop offset="0.7652" stop-color="#ff4d11"/><stop offset="0.8283" stop-color="#ff440a"/><stop offset="0.9239" stop-color="#ff4704"/><stop offset="0.9652" stop-color="#fd4e03"/><stop offset="0.9804" stop-color="#fc5902"/><stop offset="0.9848" stop-color="#fc5f02"/><stop offset="0.987" stop-color="#fc6702"/><stop offset="1" stop-color="#fc6702"/></linearGradient><linearGradient id="g65"><stop offset="0" stop-color="#ab4200"/><stop offset="0.004348" stop-color="#ac4300"/><stop offset="0.01087" stop-color="#af3a00"/><stop offset="0.02826" stop-color="#c33900"/><stop offset="0.04348" stop-color="#c63700"/><stop offset="0.06739" stop-color="#c63300"/><stop offset="0.1" stop-color="#b62c00"/><stop offset="0.1239" stop-color="#b72a00"/><stop offset="0.2326" stop-color="#d42900"/><stop offset="0.4" stop-color="#f02a01"/><stop offset="0.4543" stop-color="#ff2d03"/><stop offset="0.5022" stop-color="#ff3406"/><stop offset="0.5326" stop-color="#ff400e"/><stop offset="0.5565" stop-color="#ff5620"/><stop offset="0.5783" stop-color="#ff793f"/><stop offset="0.6196" stop-color="#ffce8d"/><stop offset="0.6326" stop-color="#ffdf9d"/><stop offset="0.6435" stop-color="#ffe4a1"/><stop offset="0.6543" stop-color="#ffe19e"/><stop offset="0.6674" stop-color="#ffd28f"/><stop offset="0.7065" stop-color="#ff8848"/><stop offset="0.7261" stop-color="#ff692c"/><stop offset="0.7435" stop-color="#ff571c"/><stop offset="0.7652" stop-color="#ff4b12"/><stop offset="0.8261" stop-color="#ff420b"/><stop offset="0.9196" stop-color="#ff4505"/><stop offset="0.9696" stop-color="#fd4d03"/><stop offset="0.9826" stop-color="#fc5802"/><stop offset="0.987" stop-color="#fc6302"/><stop offset="1" stop-color="#fc6302"/></linearGradient><linearGradient id="g66"><stop offset="0" stop-color="#ab3f00"/><stop offset="0.004348" stop-color="#ac4000"/><stop offset="0.006522" stop-color="#ad3b00"/><stop offset="0.01304" stop-color="#b13600"/><stop offset="0.03043" stop-color="#c43700"/><stop offset="0.06522" stop-color="#c63200"/><stop offset="0.09783" stop-color="#b62a00"/><stop offset="0.1152" stop-color="#b62900"/><stop offset="0.2326" stop-color="#d42700"/><stop offset="0.4" stop-color="#f02801"/><stop offset="0.4543" stop-color="#ff2b03"/><stop offset="0.5022" stop-color="#ff3207"/><stop offset="0.5326" stop-color="#ff3f0f"/><stop offset="0.5565" stop-color="#ff5522"/><stop offset="0.5783" stop-color="#ff7841"/><stop offset="0.6196" stop-color="#ffcd8f"/><stop offset="0.6326" stop-color="#ffdd9e"/><stop offset="0.6435" stop-color="#ffe3a3"/><stop offset="0.6543" stop-color="#ffdf9f"/><stop offset="0.6674" stop-color="#ffd191"/><stop offset="0.7087" stop-color="#ff8346"/><stop offset="0.7261" stop-color="#ff682d"/><stop offset="0.7435" stop-color="#ff561d"/><stop offset="0.7652" stop-color="#ff4913"/><stop offset="0.8239" stop-color="#ff400b"/><stop offset="0.9152" stop-color="#ff4205"/><stop offset="0.9717" stop-color="#fd4c03"/><stop offset="0.9826" stop-color="#fc5402"/><stop offset="0.987" stop-color="#fc5f02"/><stop offset="1" stop-color="#fc5f02"/></linearGradient><linearGradient id="g67"><stop offset="0" stop-color="#ab3d00"/><stop offset="0.004348" stop-color="#ac3d00"/><stop offset="0.01087" stop-color="#af3500"/><stop offset="0.03043" stop-color="#c43500"/><stop offset="0.06522" stop-color="#c63000"/><stop offset="0.09783" stop-color="#b62900"/><stop offset="0.1152" stop-color="#b62700"/><stop offset="0.2326" stop-color="#d42600"/><stop offset="0.4" stop-color="#f12601"/><stop offset="0.4543" stop-color="#ff2903"/><stop offset="0.5022" stop-color="#ff3007"/><stop offset="0.5326" stop-color="#ff3d10"/><stop offset="0.5565" stop-color="#ff5423"/><stop offset="0.5783" stop-color="#ff7742"/><stop offset="0.6196" stop-color="#ffcb91"/><stop offset="0.6326" stop-color="#ffdca0"/><stop offset="0.6435" stop-color="#ffe1a5"/><stop offset="0.6543" stop-color="#ffdea1"/><stop offset="0.6674" stop-color="#ffd093"/><stop offset="0.7087" stop-color="#ff8248"/><stop offset="0.7261" stop-color="#ff672f"/><stop offset="0.7435" stop-color="#ff541f"/><stop offset="0.7652" stop-color="#ff4814"/><stop offset="0.8196" stop-color="#ff3f0c"/><stop offset="0.9109" stop-color="#ff4006"/><stop offset="0.9696" stop-color="#fd4903"/><stop offset="0.9826" stop-color="#fc5002"/><stop offset="0.987" stop-color="#fc5b02"/><stop offset="1" stop-color="#fc5b02"/></linearGradient><linearGradient id="g68"><stop offset="0" stop-color="#ab3a00"/><stop offset="0.004348" stop-color="#ac3a00"/><stop offset="0.006522" stop-color="#ad3500"/><stop offset="0.01087" stop-color="#af3300"/><stop offset="0.03043" stop-color="#c43400"/><stop offset="0.06522" stop-color="#c62f00"/><stop offset="0.09783" stop-color="#b62700"/><stop offset="0.1152" stop-color="#b62600"/><stop offset="0.2326" stop-color="#d42400"/><stop offset="0.4" stop-color="#f12401"/><stop offset="0.4543" stop-color="#ff2703"/><stop offset="0.5022" stop-color="#ff2e07"/><stop offset="0.5326" stop-color="#ff3b11"/><stop offset="0.5565" stop-color="#ff5224"/><stop offset="0.5761" stop-color="#ff7240"/><stop offset="0.6196" stop-color="#ffca93"/><stop offset="0.6326" stop-color="#ffdaa2"/><stop offset="0.6435" stop-color="#ffe0a7"/><stop offset="0.6543" stop-color="#ffdca3"/><stop offset="0.6674" stop-color="#ffce95"/><stop offset="0.7087" stop-color="#ff814a"/><stop offset="0.7261" stop-color="#ff6631"/><stop offset="0.7435" stop-color="#ff5320"/><stop offset="0.7652" stop-color="#ff4615"/><stop offset="0.8174" stop-color="#ff3d0d"/><stop offset="0.9043" stop-color="#ff3e06"/><stop offset="0.9652" stop-color="#fd4603"/><stop offset="0.9826" stop-color="#fc4d02"/><stop offset="0.9848" stop-color="#fc4f02"/><stop offset="0.987" stop-color="#fc5702"/><stop offset="1" stop-color="#fc5702"/></linearGradient><linearGradient id="g69"><stop offset="0" stop-color="#ab3700"/><stop offset="0.004348" stop-color="#ac3800"/><stop offset="0.01087" stop-color="#af3100"/><stop offset="0.03043" stop-color="#c43200"/><stop offset="0.06522" stop-color="#c62d00"/><stop offset="0.09783" stop-color="#b62600"/><stop offset="0.1152" stop-color="#b62400"/><stop offset="0.2326" stop-color="#d42200"/><stop offset="0.3978" stop-color="#f02201"/><stop offset="0.4543" stop-color="#ff2503"/><stop offset="0.5022" stop-color="#ff2c08"/><stop offset="0.5304" stop-color="#ff3810"/><stop offset="0.5543" stop-color="#ff4e23"/><stop offset="0.5761" stop-color="#ff7042"/><stop offset="0.6196" stop-color="#ffc894"/><stop offset="0.6326" stop-color="#ffd9a4"/><stop offset="0.6435" stop-color="#ffdea8"/><stop offset="0.6543" stop-color="#ffdba5"/><stop offset="0.6674" stop-color="#ffcd97"/><stop offset="0.7087" stop-color="#ff804c"/><stop offset="0.7283" stop-color="#ff6230"/><stop offset="0.7457" stop-color="#ff5020"/><stop offset="0.7652" stop-color="#ff4516"/><stop offset="0.8152" stop-color="#ff3c0d"/><stop offset="0.9" stop-color="#ff3c07"/><stop offset="0.963" stop-color="#fd4403"/><stop offset="0.9826" stop-color="#fc4b02"/><stop offset="0.9848" stop-color="#fc4c02"/><stop offset="0.987" stop-color="#fc5302"/><stop offset="1" stop-color="#fc5302"/></linearGradient><linearGradient id="g70"><stop offset="0" stop-color="#ab3400"/><stop offset="0.01087" stop-color="#af3000"/><stop offset="0.03043" stop-color="#c43000"/><stop offset="0.06522" stop-color="#c62b00"/><stop offset="0.09783" stop-color="#b62400"/><stop offset="0.1152" stop-color="#b62300"/><stop offset="0.2326" stop-color="#d42000"/><stop offset="0.3978" stop-color="#f02001"/><stop offset="0.4543" stop-color="#ff2303"/><stop offset="0.5022" stop-color="#ff2a08"/><stop offset="0.5304" stop-color="#ff3611"/><stop offset="0.5543" stop-color="#ff4d24"/><stop offset="0.5761" stop-color="#ff6f44"/><stop offset="0.6196" stop-color="#ffc796"/><stop offset="0.6326" stop-color="#ffd7a5"/><stop offset="0.6435" stop-color="#ffddaa"/><stop offset="0.6565" stop-color="#ffd8a5"/><stop offset="0.6696" stop-color="#ffc996"/><stop offset="0.7087" stop-color="#ff7f4e"/><stop offset="0.7283" stop-color="#ff6132"/><stop offset="0.7457" stop-color="#ff4f21"/><stop offset="0.7652" stop-color="#ff4317"/><stop offset="0.8109" stop-color="#ff3a0e"/><stop offset="0.8935" stop-color="#ff3907"/><stop offset="0.9565" stop-color="#fe4004"/><stop offset="0.9804" stop-color="#fd4703"/><stop offset="0.987" stop-color="#fc4f02"/><stop offset="1" stop-color="#fc4f02"/></linearGradient><linearGradient id="g71"><stop offset="0" stop-color="#ab3200"/><stop offset="0.01087" stop-color="#af2f00"/><stop offset="0.03043" stop-color="#c42f00"/><stop offset="0.06522" stop-color="#c62a00"/><stop offset="0.09783" stop-color="#b62300"/><stop offset="0.1152" stop-color="#b62100"/><stop offset="0.2326" stop-color="#d41f00"/><stop offset="0.3978" stop-color="#f01e02"/><stop offset="0.4522" stop-color="#ff2103"/><stop offset="0.5022" stop-color="#ff2808"/><stop offset="0.5304" stop-color="#ff3412"/><stop offset="0.5543" stop-color="#ff4b26"/><stop offset="0.5761" stop-color="#ff6e46"/><stop offset="0.6196" stop-color="#ffc698"/><stop offset="0.6326" stop-color="#ffd6a7"/><stop offset="0.6435" stop-color="#ffdbac"/><stop offset="0.6565" stop-color="#ffd6a7"/><stop offset="0.6696" stop-color="#ffc798"/><stop offset="0.7109" stop-color="#ff7a4d"/><stop offset="0.7283" stop-color="#ff6033"/><stop offset="0.7457" stop-color="#ff4d22"/><stop offset="0.7674" stop-color="#ff4117"/><stop offset="0.813" stop-color="#ff380e"/><stop offset="0.8957" stop-color="#ff3808"/><stop offset="0.9565" stop-color="#fe3e04"/><stop offset="0.9783" stop-color="#fd4403"/><stop offset="0.987" stop-color="#fc4c02"/><stop offset="1" stop-color="#fc4c02"/></linearGradient><linearGradient id="g72"><stop offset="0" stop-color="#ab3100"/><stop offset="0.01087" stop-color="#af2d00"/><stop offset="0.03043" stop-color="#c42d00"/><stop offset="0.06522" stop-color="#c62800"/><stop offset="0.09783" stop-color="#b62100"/><stop offset="0.1152" stop-color="#b62000"/><stop offset="0.2326" stop-color="#d41d00"/><stop offset="0.3978" stop-color="#f01c02"/><stop offset="0.4522" stop-color="#ff1f04"/><stop offset="0.5" stop-color="#ff2508"/><stop offset="0.5283" stop-color="#ff3112"/><stop offset="0.5522" stop-color="#ff4725"/><stop offset="0.5739" stop-color="#ff6944"/><stop offset="0.6196" stop-color="#ffc49a"/><stop offset="0.6326" stop-color="#ffd4a9"/><stop offset="0.6435" stop-color="#ffd9ad"/><stop offset="0.6565" stop-color="#ffd5a9"/><stop offset="0.6696" stop-color="#ffc69a"/><stop offset="0.7109" stop-color="#ff7a4f"/><stop offset="0.7283" stop-color="#ff5f35"/><stop offset="0.7457" stop-color="#ff4c24"/><stop offset="0.7674" stop-color="#ff3f18"/><stop offset="0.813" stop-color="#ff360f"/><stop offset="0.8957" stop-color="#ff3608"/><stop offset="0.9565" stop-color="#fe3c04"/><stop offset="0.9783" stop-color="#fd4203"/><stop offset="0.987" stop-color="#fc4a03"/><stop offset="1" stop-color="#fc4a02"/></linearGradient><linearGradient id="g73"><stop offset="0" stop-color="#ab3000"/><stop offset="0.01087" stop-color="#af2c00"/><stop offset="0.03043" stop-color="#c42c00"/><stop offset="0.06522" stop-color="#c62600"/><stop offset="0.09783" stop-color="#b62000"/><stop offset="0.1152" stop-color="#b61e00"/><stop offset="0.2326" stop-color="#d41b00"/><stop offset="0.3978" stop-color="#f01a02"/><stop offset="0.4522" stop-color="#ff1d04"/><stop offset="0.5" stop-color="#ff2309"/><stop offset="0.5283" stop-color="#ff2f12"/><stop offset="0.5522" stop-color="#ff4626"/><stop offset="0.5739" stop-color="#ff6846"/><stop offset="0.6196" stop-color="#ffc39c"/><stop offset="0.6326" stop-color="#ffd3ab"/><stop offset="0.6435" stop-color="#ffd8af"/><stop offset="0.6565" stop-color="#ffd4aa"/><stop offset="0.6696" stop-color="#ffc59c"/><stop offset="0.7109" stop-color="#ff7951"/><stop offset="0.7304" stop-color="#ff5b34"/><stop offset="0.7478" stop-color="#ff4923"/><stop offset="0.7674" stop-color="#ff3e19"/><stop offset="0.813" stop-color="#ff350f"/><stop offset="0.8935" stop-color="#ff3408"/><stop offset="0.9543" stop-color="#fe3a04"/><stop offset="0.9783" stop-color="#fd4003"/><stop offset="0.987" stop-color="#fd4803"/><stop offset="1" stop-color="#fc4802"/></linearGradient><linearGradient id="g74"><stop offset="0" stop-color="#ab2e00"/><stop offset="0.01087" stop-color="#af2a00"/><stop offset="0.03043" stop-color="#c42a00"/><stop offset="0.06522" stop-color="#c62500"/><stop offset="0.09783" stop-color="#b61e00"/><stop offset="0.1152" stop-color="#b61d00"/><stop offset="0.2326" stop-color="#d41900"/><stop offset="0.3978" stop-color="#f01802"/><stop offset="0.4522" stop-color="#ff1a04"/><stop offset="0.5" stop-color="#ff2109"/><stop offset="0.5283" stop-color="#ff2e13"/><stop offset="0.5522" stop-color="#ff4427"/><stop offset="0.5739" stop-color="#ff6647"/><stop offset="0.6174" stop-color="#ffbe9a"/><stop offset="0.6304" stop-color="#ffcfaa"/><stop offset="0.6435" stop-color="#ffd6b0"/><stop offset="0.6565" stop-color="#ffd2ac"/><stop offset="0.6696" stop-color="#ffc39d"/><stop offset="0.7109" stop-color="#ff7752"/><stop offset="0.7304" stop-color="#ff5935"/><stop offset="0.7478" stop-color="#ff4824"/><stop offset="0.7674" stop-color="#ff3c19"/><stop offset="0.813" stop-color="#ff3310"/><stop offset="0.8935" stop-color="#ff3208"/><stop offset="0.9543" stop-color="#fe3804"/><stop offset="0.9783" stop-color="#fd3e03"/><stop offset="0.987" stop-color="#fd4603"/><stop offset="1" stop-color="#fc4602"/></linearGradient><linearGradient id="g75"><stop offset="0" stop-color="#ab2d00"/><stop offset="0.01087" stop-color="#af2900"/><stop offset="0.03043" stop-color="#c42800"/><stop offset="0.06522" stop-color="#c62300"/><stop offset="0.09783" stop-color="#b61d00"/><stop offset="0.1152" stop-color="#b61b00"/><stop offset="0.2326" stop-color="#d41700"/><stop offset="0.3978" stop-color="#f01602"/><stop offset="0.4522" stop-color="#ff1904"/><stop offset="0.5" stop-color="#ff2009"/><stop offset="0.5283" stop-color="#ff2c13"/><stop offset="0.5522" stop-color="#ff4227"/><stop offset="0.5739" stop-color="#ff6447"/><stop offset="0.6174" stop-color="#ffbb9a"/><stop offset="0.6304" stop-color="#ffccaa"/><stop offset="0.6435" stop-color="#ffd3b0"/><stop offset="0.6565" stop-color="#ffceac"/><stop offset="0.6696" stop-color="#ffc09d"/><stop offset="0.7109" stop-color="#ff7552"/><stop offset="0.7304" stop-color="#ff5735"/><stop offset="0.7478" stop-color="#ff4524"/><stop offset="0.7674" stop-color="#ff3a19"/><stop offset="0.813" stop-color="#ff3110"/><stop offset="0.8957" stop-color="#ff3008"/><stop offset="0.9565" stop-color="#fe3604"/><stop offset="0.9783" stop-color="#fd3c03"/><stop offset="0.987" stop-color="#fd4403"/><stop offset="1" stop-color="#fc4402"/></linearGradient><linearGradient id="g76"><stop offset="0" stop-color="#ab2b00"/><stop offset="0.01087" stop-color="#af2700"/><stop offset="0.03043" stop-color="#c42700"/><stop offset="0.06522" stop-color="#c62100"/><stop offset="0.09783" stop-color="#b61b00"/><stop offset="0.1152" stop-color="#b61900"/><stop offset="0.2326" stop-color="#d41600"/><stop offset="0.3978" stop-color="#f01502"/><stop offset="0.4522" stop-color="#ff1804"/><stop offset="0.5" stop-color="#ff1f09"/><stop offset="0.5283" stop-color="#ff2b13"/><stop offset="0.5522" stop-color="#ff4127"/><stop offset="0.5739" stop-color="#ff6347"/><stop offset="0.6174" stop-color="#ffb99a"/><stop offset="0.6304" stop-color="#ffcaaa"/><stop offset="0.6435" stop-color="#ffd1b0"/><stop offset="0.6565" stop-color="#ffccac"/><stop offset="0.6696" stop-color="#ffbd9d"/><stop offset="0.713" stop-color="#ff6e4f"/><stop offset="0.7304" stop-color="#ff5436"/><stop offset="0.7478" stop-color="#ff4325"/><stop offset="0.7674" stop-color="#ff3719"/><stop offset="0.813" stop-color="#ff2e10"/><stop offset="0.8957" stop-color="#ff2e08"/><stop offset="0.9565" stop-color="#fe3404"/><stop offset="0.9783" stop-color="#fd3a03"/><stop offset="0.987" stop-color="#fd4203"/><stop offset="1" stop-color="#fc4202"/></linearGradient><linearGradient id="g77"><stop offset="0" stop-color="#ab2a00"/><stop offset="0.01087" stop-color="#af2600"/><stop offset="0.03043" stop-color="#c42500"/><stop offset="0.06522" stop-color="#c62000"/><stop offset="0.09783" stop-color="#b61a00"/><stop offset="0.1152" stop-color="#b61800"/><stop offset="0.2326" stop-color="#d41400"/><stop offset="0.3978" stop-color="#f01402"/><stop offset="0.4522" stop-color="#ff1704"/><stop offset="0.5" stop-color="#ff1d09"/><stop offset="0.5283" stop-color="#ff2913"/><stop offset="0.5522" stop-color="#ff3f27"/><stop offset="0.5739" stop-color="#ff6147"/><stop offset="0.6174" stop-color="#ffb79a"/><stop offset="0.6304" stop-color="#ffc8aa"/><stop offset="0.6435" stop-color="#ffcfb0"/><stop offset="0.6565" stop-color="#ffcaac"/><stop offset="0.6696" stop-color="#ffbc9d"/><stop offset="0.713" stop-color="#ff6c4f"/><stop offset="0.7304" stop-color="#ff5236"/><stop offset="0.7478" stop-color="#ff4025"/><stop offset="0.7674" stop-color="#ff3519"/><stop offset="0.813" stop-color="#ff2c10"/><stop offset="0.8957" stop-color="#ff2c08"/><stop offset="0.9565" stop-color="#fe3204"/><stop offset="0.9783" stop-color="#fd3803"/><stop offset="0.987" stop-color="#fd4003"/><stop offset="1" stop-color="#fc4002"/></linearGradient><linearGradient id="g78"><stop offset="0" stop-color="#ab2900"/><stop offset="0.01087" stop-color="#af2400"/><stop offset="0.03043" stop-color="#c42300"/><stop offset="0.06522" stop-color="#c61e00"/><stop offset="0.09783" stop-color="#b61800"/><stop offset="0.1152" stop-color="#b61600"/><stop offset="0.2326" stop-color="#d41200"/><stop offset="0.3978" stop-color="#f01302"/><stop offset="0.4522" stop-color="#ff1504"/><stop offset="0.5" stop-color="#ff1c09"/><stop offset="0.5283" stop-color="#ff2813"/><stop offset="0.5522" stop-color="#ff3e28"/><stop offset="0.5739" stop-color="#ff6048"/><stop offset="0.6174" stop-color="#ffb59a"/><stop offset="0.6304" stop-color="#ffc6aa"/><stop offset="0.6435" stop-color="#ffcdb0"/><stop offset="0.6565" stop-color="#ffc8ac"/><stop offset="0.6696" stop-color="#ffba9d"/><stop offset="0.713" stop-color="#ff6b4f"/><stop offset="0.7304" stop-color="#ff5136"/><stop offset="0.7478" stop-color="#ff3f25"/><stop offset="0.7674" stop-color="#ff331a"/><stop offset="0.8109" stop-color="#ff2a10"/><stop offset="0.8957" stop-color="#ff2908"/><stop offset="0.9565" stop-color="#fe3004"/><stop offset="0.9783" stop-color="#fd3603"/><stop offset="0.987" stop-color="#fd3e03"/><stop offset="1" stop-color="#fc3e02"/></linearGradient><linearGradient id="g79"><stop offset="0" stop-color="#ab2700"/><stop offset="0.01087" stop-color="#af2300"/><stop offset="0.03043" stop-color="#c42200"/><stop offset="0.06522" stop-color="#c61c00"/><stop offset="0.09783" stop-color="#b61600"/><stop offset="0.1152" stop-color="#b61500"/><stop offset="0.2326" stop-color="#d41100"/><stop offset="0.3978" stop-color="#f01202"/><stop offset="0.4522" stop-color="#ff1404"/><stop offset="0.5" stop-color="#ff1b09"/><stop offset="0.5283" stop-color="#ff2713"/><stop offset="0.5522" stop-color="#ff3d28"/><stop offset="0.5739" stop-color="#ff5e48"/><stop offset="0.6174" stop-color="#ffb49a"/><stop offset="0.6304" stop-color="#ffc4aa"/><stop offset="0.6435" stop-color="#ffcbb0"/><stop offset="0.6565" stop-color="#ffc7ac"/><stop offset="0.6696" stop-color="#ffb89d"/><stop offset="0.713" stop-color="#ff6950"/><stop offset="0.7304" stop-color="#ff4f36"/><stop offset="0.7478" stop-color="#ff3d25"/><stop offset="0.7696" stop-color="#ff3119"/><stop offset="0.8109" stop-color="#ff2810"/><stop offset="0.8957" stop-color="#ff2708"/><stop offset="0.9565" stop-color="#fe2e04"/><stop offset="0.9783" stop-color="#fd3403"/><stop offset="0.987" stop-color="#fd3c03"/><stop offset="1" stop-color="#fc3b02"/></linearGradient><linearGradient id="g80"><stop offset="0" stop-color="#ab2600"/><stop offset="0.01087" stop-color="#af2100"/><stop offset="0.03043" stop-color="#c42000"/><stop offset="0.06522" stop-color="#c61b00"/><stop offset="0.09783" stop-color="#b61500"/><stop offset="0.1152" stop-color="#b61300"/><stop offset="0.2326" stop-color="#d41000"/><stop offset="0.3978" stop-color="#f01002"/><stop offset="0.4522" stop-color="#ff1304"/><stop offset="0.5" stop-color="#ff1909"/><stop offset="0.5283" stop-color="#ff2513"/><stop offset="0.5522" stop-color="#ff3b28"/><stop offset="0.5739" stop-color="#ff5d48"/><stop offset="0.6174" stop-color="#ffb29a"/><stop offset="0.6304" stop-color="#ffc3aa"/><stop offset="0.6435" stop-color="#ffc9b0"/><stop offset="0.6565" stop-color="#ffc5ac"/><stop offset="0.6696" stop-color="#ffb69d"/><stop offset="0.713" stop-color="#ff6850"/><stop offset="0.7304" stop-color="#ff4e36"/><stop offset="0.7478" stop-color="#ff3c25"/><stop offset="0.7696" stop-color="#ff2f19"/><stop offset="0.8217" stop-color="#ff250f"/><stop offset="0.8935" stop-color="#ff2508"/><stop offset="0.9543" stop-color="#fe2b04"/><stop offset="0.9783" stop-color="#fd3203"/><stop offset="0.987" stop-color="#fd3a03"/><stop offset="1" stop-color="#fc3902"/></linearGradient><linearGradient id="g81"><stop offset="0" stop-color="#ab2400"/><stop offset="0.01087" stop-color="#af2000"/><stop offset="0.03043" stop-color="#c41e00"/><stop offset="0.06522" stop-color="#c61900"/><stop offset="0.09783" stop-color="#b61300"/><stop offset="0.1152" stop-color="#b61200"/><stop offset="0.2326" stop-color="#d40f00"/><stop offset="0.3978" stop-color="#f00f02"/><stop offset="0.4522" stop-color="#ff1204"/><stop offset="0.5" stop-color="#ff1809"/><stop offset="0.5283" stop-color="#ff2414"/><stop offset="0.5522" stop-color="#ff3a28"/><stop offset="0.5739" stop-color="#ff5b48"/><stop offset="0.6174" stop-color="#ffb09a"/><stop offset="0.6304" stop-color="#ffc1aa"/><stop offset="0.6435" stop-color="#ffc7b0"/><stop offset="0.6565" stop-color="#ffc3ac"/><stop offset="0.6696" stop-color="#ffb59d"/><stop offset="0.713" stop-color="#ff6650"/><stop offset="0.7304" stop-color="#ff4c36"/><stop offset="0.7478" stop-color="#ff3a25"/><stop offset="0.7696" stop-color="#ff2e19"/><stop offset="0.8174" stop-color="#ff250f"/><stop offset="0.8913" stop-color="#ff2309"/><stop offset="0.9543" stop-color="#fe2904"/><stop offset="0.9783" stop-color="#fd3003"/><stop offset="0.987" stop-color="#fd3803"/><stop offset="1" stop-color="#fc3702"/></linearGradient><linearGradient id="g82"><stop offset="0" stop-color="#ab2300"/><stop offset="0.01087" stop-color="#af1f00"/><stop offset="0.03043" stop-color="#c41d00"/><stop offset="0.06522" stop-color="#c61700"/><stop offset="0.09783" stop-color="#b61200"/><stop offset="0.1152" stop-color="#b61000"/><stop offset="0.2326" stop-color="#d40e00"/><stop offset="0.3978" stop-color="#f00e02"/><stop offset="0.4522" stop-color="#ff1104"/><stop offset="0.5" stop-color="#ff1709"/><stop offset="0.5283" stop-color="#ff2314"/><stop offset="0.5522" stop-color="#ff3828"/><stop offset="0.5739" stop-color="#ff5a48"/><stop offset="0.6174" stop-color="#ffae9a"/><stop offset="0.6304" stop-color="#ffbfaa"/><stop offset="0.6435" stop-color="#ffc5b0"/><stop offset="0.6565" stop-color="#ffc1ac"/><stop offset="0.6696" stop-color="#ffb39d"/><stop offset="0.713" stop-color="#ff6550"/><stop offset="0.7304" stop-color="#ff4b37"/><stop offset="0.7478" stop-color="#ff3925"/><stop offset="0.7696" stop-color="#ff2d19"/><stop offset="0.813" stop-color="#ff2410"/><stop offset="0.8891" stop-color="#ff2109"/><stop offset="0.9543" stop-color="#fe2704"/><stop offset="0.9783" stop-color="#fd2e03"/><stop offset="0.987" stop-color="#fd3603"/><stop offset="1" stop-color="#fc3502"/></linearGradient><linearGradient id="g83"><stop offset="0" stop-color="#ab2100"/><stop offset="0.01087" stop-color="#af1d00"/><stop offset="0.03043" stop-color="#c41b00"/><stop offset="0.06522" stop-color="#c61600"/><stop offset="0.09783" stop-color="#b61000"/><stop offset="0.1152" stop-color="#b60f00"/><stop offset="0.2326" stop-color="#d40d00"/><stop offset="0.3978" stop-color="#f00d02"/><stop offset="0.4522" stop-color="#ff0f04"/><stop offset="0.5" stop-color="#ff1609"/><stop offset="0.5283" stop-color="#ff2114"/><stop offset="0.5522" stop-color="#ff3728"/><stop offset="0.5739" stop-color="#ff5849"/><stop offset="0.6174" stop-color="#ffad9a"/><stop offset="0.6304" stop-color="#ffbdaa"/><stop offset="0.6435" stop-color="#ffc4b0"/><stop offset="0.6565" stop-color="#ffbfac"/><stop offset="0.6696" stop-color="#ffb19e"/><stop offset="0.713" stop-color="#ff6350"/><stop offset="0.7326" stop-color="#ff4734"/><stop offset="0.75" stop-color="#ff3624"/><stop offset="0.7696" stop-color="#ff2b19"/><stop offset="0.8109" stop-color="#ff2310"/><stop offset="0.8957" stop-color="#ff1f08"/><stop offset="0.9565" stop-color="#fe2504"/><stop offset="0.9783" stop-color="#fd2c03"/><stop offset="0.987" stop-color="#fd3403"/><stop offset="1" stop-color="#fc3302"/></linearGradient><linearGradient id="g84"><stop offset="0" stop-color="#ab2000"/><stop offset="0.01087" stop-color="#af1c00"/><stop offset="0.03043" stop-color="#c41900"/><stop offset="0.06522" stop-color="#c61400"/><stop offset="0.09783" stop-color="#b60f00"/><stop offset="0.1152" stop-color="#b60e00"/><stop offset="0.2326" stop-color="#d40c00"/><stop offset="0.3978" stop-color="#f00c02"/><stop offset="0.4522" stop-color="#ff0e04"/><stop offset="0.5" stop-color="#ff1409"/><stop offset="0.5283" stop-color="#ff2014"/><stop offset="0.5522" stop-color="#ff3629"/><stop offset="0.5739" stop-color="#ff5749"/><stop offset="0.6174" stop-color="#ffab9a"/><stop offset="0.6304" stop-color="#ffbbaa"/><stop offset="0.6435" stop-color="#ffc2b0"/><stop offset="0.6565" stop-color="#ffbeac"/><stop offset="0.6696" stop-color="#ffaf9e"/><stop offset="0.713" stop-color="#ff6250"/><stop offset="0.7326" stop-color="#ff4634"/><stop offset="0.75" stop-color="#ff3524"/><stop offset="0.7696" stop-color="#ff2a19"/><stop offset="0.813" stop-color="#ff2110"/><stop offset="0.9043" stop-color="#ff1d08"/><stop offset="0.9587" stop-color="#fe2404"/><stop offset="0.9804" stop-color="#fd2a03"/><stop offset="0.987" stop-color="#fd3103"/><stop offset="1" stop-color="#fc3102"/></linearGradient><linearGradient id="g85"><stop offset="0" stop-color="#ab1f00"/><stop offset="0.01087" stop-color="#af1a00"/><stop offset="0.03043" stop-color="#c41800"/><stop offset="0.06522" stop-color="#c61200"/><stop offset="0.09783" stop-color="#b60e00"/><stop offset="0.1152" stop-color="#b60e00"/><stop offset="0.2326" stop-color="#d40b00"/><stop offset="0.3978" stop-color="#f00b02"/><stop offset="0.4522" stop-color="#ff0d04"/><stop offset="0.5" stop-color="#ff1309"/><stop offset="0.5283" stop-color="#ff1f14"/><stop offset="0.5522" stop-color="#ff3429"/><stop offset="0.5739" stop-color="#ff5649"/><stop offset="0.6174" stop-color="#ffa99a"/><stop offset="0.6304" stop-color="#ffb9aa"/><stop offset="0.6435" stop-color="#ffc0b0"/><stop offset="0.6565" stop-color="#ffbcac"/><stop offset="0.6696" stop-color="#ffae9e"/><stop offset="0.713" stop-color="#ff6051"/><stop offset="0.7304" stop-color="#ff4737"/><stop offset="0.7478" stop-color="#ff3526"/><stop offset="0.7674" stop-color="#ff291a"/><stop offset="0.8152" stop-color="#ff2010"/><stop offset="0.9174" stop-color="#ff1c07"/><stop offset="0.9609" stop-color="#fe2204"/><stop offset="0.9804" stop-color="#fd2803"/><stop offset="0.987" stop-color="#fd2f03"/><stop offset="1" stop-color="#fc2f02"/></linearGradient><linearGradient id="g86"><stop offset="0" stop-color="#ab1d00"/><stop offset="0.01087" stop-color="#af1900"/><stop offset="0.03043" stop-color="#c41600"/><stop offset="0.06522" stop-color="#c61100"/><stop offset="0.09783" stop-color="#b60e00"/><stop offset="0.1152" stop-color="#b60d00"/><stop offset="0.2326" stop-color="#d40a00"/><stop offset="0.3978" stop-color="#f00a02"/><stop offset="0.4522" stop-color="#ff0c04"/><stop offset="0.5" stop-color="#ff1209"/><stop offset="0.5283" stop-color="#ff1d14"/><stop offset="0.5522" stop-color="#ff3329"/><stop offset="0.5739" stop-color="#ff5449"/><stop offset="0.6174" stop-color="#ffa79a"/><stop offset="0.6304" stop-color="#ffb8aa"/><stop offset="0.6435" stop-color="#ffbeb0"/><stop offset="0.6565" stop-color="#ffbaac"/><stop offset="0.6696" stop-color="#ffac9e"/><stop offset="0.713" stop-color="#ff5f51"/><stop offset="0.7304" stop-color="#ff4537"/><stop offset="0.7478" stop-color="#ff3426"/><stop offset="0.7674" stop-color="#ff281a"/><stop offset="0.8152" stop-color="#ff1e10"/><stop offset="0.9196" stop-color="#ff1b06"/><stop offset="0.9609" stop-color="#fe2004"/><stop offset="0.9804" stop-color="#fd2603"/><stop offset="0.987" stop-color="#fd2d03"/><stop offset="1" stop-color="#fc2d02"/></linearGradient><linearGradient id="g87"><stop offset="0" stop-color="#ab1c00"/><stop offset="0.01087" stop-color="#af1700"/><stop offset="0.03043" stop-color="#c41400"/><stop offset="0.06522" stop-color="#c61000"/><stop offset="0.09783" stop-color="#b60d00"/><stop offset="0.1152" stop-color="#b60c00"/><stop offset="0.2326" stop-color="#d40900"/><stop offset="0.3978" stop-color="#f00802"/><stop offset="0.4522" stop-color="#ff0a04"/><stop offset="0.5" stop-color="#ff1009"/><stop offset="0.5283" stop-color="#ff1c14"/><stop offset="0.5522" stop-color="#ff3229"/><stop offset="0.5739" stop-color="#ff5349"/><stop offset="0.6174" stop-color="#ffa69b"/><stop offset="0.6304" stop-color="#ffb6aa"/><stop offset="0.6435" stop-color="#ffbcb0"/><stop offset="0.6565" stop-color="#ffb8ac"/><stop offset="0.6696" stop-color="#ffaa9e"/><stop offset="0.713" stop-color="#ff5e51"/><stop offset="0.7304" stop-color="#ff4437"/><stop offset="0.7478" stop-color="#ff3226"/><stop offset="0.7674" stop-color="#ff271a"/><stop offset="0.8152" stop-color="#ff1d10"/><stop offset="0.9174" stop-color="#ff1a07"/><stop offset="0.9587" stop-color="#fe1d04"/><stop offset="0.9804" stop-color="#fd2403"/><stop offset="0.987" stop-color="#fd2b03"/><stop offset="1" stop-color="#fc2b02"/></linearGradient><linearGradient id="g88"><stop offset="0" stop-color="#ab1a00"/><stop offset="0.01087" stop-color="#af1600"/><stop offset="0.03043" stop-color="#c41300"/><stop offset="0.06522" stop-color="#c60f00"/><stop offset="0.09783" stop-color="#b60c00"/><stop offset="0.1152" stop-color="#b60b00"/><stop offset="0.2326" stop-color="#d40800"/><stop offset="0.3978" stop-color="#f00702"/><stop offset="0.4522" stop-color="#ff0904"/><stop offset="0.5022" stop-color="#ff100a"/><stop offset="0.5304" stop-color="#ff1c16"/><stop offset="0.5522" stop-color="#ff3029"/><stop offset="0.5739" stop-color="#ff5149"/><stop offset="0.6174" stop-color="#ffa49b"/><stop offset="0.6304" stop-color="#ffb4aa"/><stop offset="0.6435" stop-color="#ffbab0"/><stop offset="0.6565" stop-color="#ffb6ac"/><stop offset="0.6696" stop-color="#ffa89e"/><stop offset="0.713" stop-color="#ff5c51"/><stop offset="0.7326" stop-color="#ff4035"/><stop offset="0.75" stop-color="#ff2f24"/><stop offset="0.7674" stop-color="#ff251a"/><stop offset="0.813" stop-color="#ff1c10"/><stop offset="0.9152" stop-color="#ff1907"/><stop offset="0.9565" stop-color="#fe1b04"/><stop offset="0.9783" stop-color="#fd2103"/><stop offset="0.987" stop-color="#fd2903"/><stop offset="1" stop-color="#fc2902"/></linearGradient><linearGradient id="g89"><stop offset="0" stop-color="#ab1900"/><stop offset="0.01087" stop-color="#af1400"/><stop offset="0.03043" stop-color="#c41100"/><stop offset="0.06522" stop-color="#c60e00"/><stop offset="0.09783" stop-color="#b60b00"/><stop offset="0.1152" stop-color="#b60a00"/><stop offset="0.2326" stop-color="#d40700"/><stop offset="0.3978" stop-color="#f00602"/><stop offset="0.4522" stop-color="#ff0804"/><stop offset="0.5022" stop-color="#ff0e0a"/><stop offset="0.5304" stop-color="#ff1b16"/><stop offset="0.5522" stop-color="#ff2f29"/><stop offset="0.5739" stop-color="#ff504a"/><stop offset="0.6174" stop-color="#ffa29b"/><stop offset="0.6304" stop-color="#ffb2aa"/><stop offset="0.6435" stop-color="#ffb9b0"/><stop offset="0.6565" stop-color="#ffb4ac"/><stop offset="0.6696" stop-color="#ffa79e"/><stop offset="0.713" stop-color="#ff5b51"/><stop offset="0.7326" stop-color="#ff3f35"/><stop offset="0.75" stop-color="#ff2e24"/><stop offset="0.7674" stop-color="#ff241a"/><stop offset="0.813" stop-color="#ff1b10"/><stop offset="0.913" stop-color="#ff1707"/><stop offset="0.963" stop-color="#fe1a04"/><stop offset="0.9804" stop-color="#fd2003"/><stop offset="0.987" stop-color="#fd2703"/><stop offset="1" stop-color="#fc2702"/></linearGradient><linearGradient id="g90"><stop offset="0" stop-color="#ab1700"/><stop offset="0.01087" stop-color="#af1300"/><stop offset="0.03043" stop-color="#c41000"/><stop offset="0.06522" stop-color="#c60d00"/><stop offset="0.09783" stop-color="#b60a00"/><stop offset="0.1152" stop-color="#b60900"/><stop offset="0.2326" stop-color="#d40600"/><stop offset="0.3978" stop-color="#f00502"/><stop offset="0.4522" stop-color="#ff0704"/><stop offset="0.5022" stop-color="#ff0d0a"/><stop offset="0.5304" stop-color="#ff1916"/><stop offset="0.5522" stop-color="#ff2d29"/><stop offset="0.5739" stop-color="#ff4e4a"/><stop offset="0.6174" stop-color="#ffa09b"/><stop offset="0.6304" stop-color="#ffb0aa"/><stop offset="0.6435" stop-color="#ffb7b0"/><stop offset="0.6565" stop-color="#ffb3ac"/><stop offset="0.6696" stop-color="#ffa59e"/><stop offset="0.713" stop-color="#ff5951"/><stop offset="0.7326" stop-color="#ff3d35"/><stop offset="0.75" stop-color="#ff2d25"/><stop offset="0.7674" stop-color="#ff231a"/><stop offset="0.8109" stop-color="#ff1a10"/><stop offset="0.9087" stop-color="#ff1607"/><stop offset="0.9674" stop-color="#fd1904"/><stop offset="0.9826" stop-color="#fd1f03"/><stop offset="0.987" stop-color="#fd2503"/><stop offset="1" stop-color="#fc2502"/></linearGradient><linearGradient id="g91"><stop offset="0" stop-color="#ab1600"/><stop offset="0.01087" stop-color="#af1100"/><stop offset="0.03043" stop-color="#c40f00"/><stop offset="0.06522" stop-color="#c60c00"/><stop offset="0.09783" stop-color="#b60900"/><stop offset="0.1152" stop-color="#b60800"/><stop offset="0.2326" stop-color="#d40500"/><stop offset="0.3978" stop-color="#f00402"/><stop offset="0.4522" stop-color="#ff0604"/><stop offset="0.5022" stop-color="#ff0c0a"/><stop offset="0.5304" stop-color="#ff1816"/><stop offset="0.5522" stop-color="#ff2c2a"/><stop offset="0.5739" stop-color="#ff4d4a"/><stop offset="0.6174" stop-color="#ff9f9b"/><stop offset="0.6304" stop-color="#ffaeaa"/><stop offset="0.6435" stop-color="#ffb5b0"/><stop offset="0.6565" stop-color="#ffb1ac"/><stop offset="0.6696" stop-color="#ffa39e"/><stop offset="0.713" stop-color="#ff5852"/><stop offset="0.7326" stop-color="#ff3c35"/><stop offset="0.75" stop-color="#ff2b25"/><stop offset="0.7674" stop-color="#ff221a"/><stop offset="0.8109" stop-color="#ff1810"/><stop offset="0.9065" stop-color="#ff1507"/><stop offset="0.9696" stop-color="#fd1903"/><stop offset="0.9826" stop-color="#fd1d03"/><stop offset="0.987" stop-color="#fd2303"/><stop offset="1" stop-color="#fc2202"/></linearGradient><linearGradient id="g92"><stop offset="0" stop-color="#ab1500"/><stop offset="0.01087" stop-color="#af1000"/><stop offset="0.03043" stop-color="#c40e00"/><stop offset="0.06522" stop-color="#c60b00"/><stop offset="0.09783" stop-color="#b60800"/><stop offset="0.1152" stop-color="#b60700"/><stop offset="0.2326" stop-color="#d40400"/><stop offset="0.3978" stop-color="#f00302"/><stop offset="0.4522" stop-color="#ff0404"/><stop offset="0.5022" stop-color="#ff0a0a"/><stop offset="0.5304" stop-color="#ff1716"/><stop offset="0.5522" stop-color="#ff2b2a"/><stop offset="0.5739" stop-color="#ff4b4a"/><stop offset="0.6174" stop-color="#ff9d9b"/><stop offset="0.6304" stop-color="#ffadaa"/><stop offset="0.6435" stop-color="#ffb3b0"/><stop offset="0.6565" stop-color="#ffafac"/><stop offset="0.6696" stop-color="#ffa19e"/><stop offset="0.713" stop-color="#ff5652"/><stop offset="0.7326" stop-color="#ff3a36"/><stop offset="0.75" stop-color="#ff2a25"/><stop offset="0.7674" stop-color="#ff201b"/><stop offset="0.8087" stop-color="#ff1710"/><stop offset="0.9022" stop-color="#ff1408"/><stop offset="0.9674" stop-color="#fd1704"/><stop offset="0.9804" stop-color="#fd1a03"/><stop offset="0.987" stop-color="#fd2103"/><stop offset="1" stop-color="#fc2002"/></linearGradient><linearGradient id="g93"><stop offset="0" stop-color="#ab1300"/><stop offset="0.01087" stop-color="#af0f00"/><stop offset="0.03043" stop-color="#c40d00"/><stop offset="0.06522" stop-color="#c60a00"/><stop offset="0.09783" stop-color="#b60700"/><stop offset="0.1152" stop-color="#b60700"/><stop offset="0.2348" stop-color="#d40300"/><stop offset="0.4" stop-color="#f00202"/><stop offset="0.4543" stop-color="#ff0404"/><stop offset="0.5022" stop-color="#ff0a0a"/><stop offset="0.5304" stop-color="#ff1616"/><stop offset="0.5522" stop-color="#ff2a2a"/><stop offset="0.5739" stop-color="#ff4a4a"/><stop offset="0.6174" stop-color="#ff9b9b"/><stop offset="0.6304" stop-color="#ffabaa"/><stop offset="0.6435" stop-color="#ffb1b0"/><stop offset="0.6565" stop-color="#ffadac"/><stop offset="0.6696" stop-color="#ffa09e"/><stop offset="0.713" stop-color="#ff5552"/><stop offset="0.7326" stop-color="#ff3936"/><stop offset="0.75" stop-color="#ff2925"/><stop offset="0.7674" stop-color="#ff1f1b"/><stop offset="0.8087" stop-color="#ff1610"/><stop offset="0.9" stop-color="#ff1308"/><stop offset="0.963" stop-color="#fe1504"/><stop offset="0.9826" stop-color="#fd1903"/><stop offset="0.987" stop-color="#fd1f03"/><stop offset="1" stop-color="#fc1e02"/></linearGradient><linearGradient id="g94"><stop offset="0" stop-color="#ab1200"/><stop offset="0.01087" stop-color="#af0e00"/><stop offset="0.03043" stop-color="#c40d00"/><stop offset="0.06522" stop-color="#c60900"/><stop offset="0.09783" stop-color="#b60700"/><stop offset="0.1152" stop-color="#b60600"/><stop offset="0.25" stop-color="#d80100"/><stop offset="0.4022" stop-color="#ef0202"/><stop offset="0.4609" stop-color="#ff0404"/><stop offset="0.5022" stop-color="#ff0a0a"/><stop offset="0.5304" stop-color="#ff1616"/><stop offset="0.5522" stop-color="#ff2a2a"/><stop offset="0.5717" stop-color="#ff4747"/><stop offset="0.6174" stop-color="#ff9b9b"/><stop offset="0.6304" stop-color="#ffaaaa"/><stop offset="0.6435" stop-color="#ffb0b0"/><stop offset="0.6565" stop-color="#ffacac"/><stop offset="0.6696" stop-color="#ff9e9e"/><stop offset="0.713" stop-color="#ff5352"/><stop offset="0.7326" stop-color="#ff3836"/><stop offset="0.75" stop-color="#ff2725"/><stop offset="0.7674" stop-color="#ff1e1b"/><stop offset="0.8087" stop-color="#ff1510"/><stop offset="0.8957" stop-color="#ff1108"/><stop offset="0.9609" stop-color="#fe1404"/><stop offset="0.9826" stop-color="#fd1803"/><stop offset="0.987" stop-color="#fd1d03"/><stop offset="1" stop-color="#fc1c02"/></linearGradient><linearGradient id="g95"><stop offset="0" stop-color="#ab1000"/><stop offset="0.01087" stop-color="#af0d00"/><stop offset="0.03043" stop-color="#c40c00"/><stop offset="0.06522" stop-color="#c60800"/><stop offset="0.09783" stop-color="#b60600"/><stop offset="0.1152" stop-color="#b60500"/><stop offset="0.25" stop-color="#d80000"/><stop offset="0.4022" stop-color="#ed0202"/><stop offset="0.4652" stop-color="#ff0505"/><stop offset="0.5022" stop-color="#ff0a0a"/><stop offset="0.5304" stop-color="#ff1616"/><stop offset="0.5522" stop-color="#ff2a2a"/><stop offset="0.5717" stop-color="#ff4747"/><stop offset="0.6174" stop-color="#ff9b9b"/><stop offset="0.6304" stop-color="#ffaaaa"/><stop offset="0.6435" stop-color="#ffb0b0"/><stop offset="0.6565" stop-color="#ffacac"/><stop offset="0.6696" stop-color="#ff9e9e"/><stop offset="0.7152" stop-color="#ff4f4f"/><stop offset="0.7326" stop-color="#ff3636"/><stop offset="0.75" stop-color="#ff2625"/><stop offset="0.7674" stop-color="#ff1c1b"/><stop offset="0.8065" stop-color="#ff1411"/><stop offset="0.8913" stop-color="#ff1009"/><stop offset="0.9565" stop-color="#fe1204"/><stop offset="0.9804" stop-color="#fd1603"/><stop offset="0.987" stop-color="#fd1b03"/><stop offset="1" stop-color="#fc1a02"/></linearGradient><linearGradient id="g96"><stop offset="0" stop-color="#ab0f00"/><stop offset="0.01087" stop-color="#af0c00"/><stop offset="0.03043" stop-color="#c40b00"/><stop offset="0.06522" stop-color="#c60700"/><stop offset="0.09783" stop-color="#b60500"/><stop offset="0.1152" stop-color="#b60400"/><stop offset="0.2348" stop-color="#d40000"/><stop offset="0.4022" stop-color="#eb0202"/><stop offset="0.4696" stop-color="#ff0505"/><stop offset="0.5022" stop-color="#ff0a0a"/><stop offset="0.5304" stop-color="#ff1616"/><stop offset="0.5522" stop-color="#ff2a2a"/><stop offset="0.5717" stop-color="#ff4747"/><stop offset="0.6174" stop-color="#ff9b9b"/><stop offset="0.6304" stop-color="#ffaaaa"/><stop offset="0.6435" stop-color="#ffb0b0"/><stop offset="0.6565" stop-color="#ffacac"/><stop offset="0.6696" stop-color="#ff9e9e"/><stop offset="0.7152" stop-color="#ff4f4f"/><stop offset="0.7326" stop-color="#ff3636"/><stop offset="0.75" stop-color="#ff2525"/><stop offset="0.7674" stop-color="#ff1b1b"/><stop offset="0.8043" stop-color="#ff1311"/><stop offset="0.887" stop-color="#ff0f09"/><stop offset="0.9522" stop-color="#fe1104"/><stop offset="0.9783" stop-color="#fd1403"/><stop offset="0.987" stop-color="#fd1903"/><stop offset="1" stop-color="#fc1802"/></linearGradient><linearGradient id="g97"><stop offset="0" stop-color="#ab0e00"/><stop offset="0.01087" stop-color="#af0c00"/><stop offset="0.03043" stop-color="#c40a00"/><stop offset="0.06522" stop-color="#c60600"/><stop offset="0.09783" stop-color="#b60400"/><stop offset="0.1152" stop-color="#b60300"/><stop offset="0.2217" stop-color="#d00000"/><stop offset="0.3696" stop-color="#e40101"/><stop offset="0.4304" stop-color="#ef0303"/><stop offset="0.4739" stop-color="#ff0505"/><stop offset="0.5022" stop-color="#ff0a0a"/><stop offset="0.5304" stop-color="#ff1616"/><stop offset="0.5522" stop-color="#ff2b2b"/><stop offset="0.5717" stop-color="#ff4747"/><stop offset="0.6174" stop-color="#ff9b9b"/><stop offset="0.6304" stop-color="#ffaaaa"/><stop offset="0.6435" stop-color="#ffb0b0"/><stop offset="0.6565" stop-color="#ffacac"/><stop offset="0.6696" stop-color="#ff9e9e"/><stop offset="0.7152" stop-color="#ff4f4f"/><stop offset="0.7326" stop-color="#ff3636"/><stop offset="0.75" stop-color="#ff2525"/><stop offset="0.7696" stop-color="#ff1a1a"/><stop offset="0.8043" stop-color="#ff1211"/><stop offset="0.887" stop-color="#ff0e09"/><stop offset="0.9522" stop-color="#fe0f04"/><stop offset="0.9783" stop-color="#fd1303"/><stop offset="0.987" stop-color="#fd1703"/><stop offset="1" stop-color="#fc1702"/></linearGradient><linearGradient id="g98"><stop offset="0" stop-color="#ab0d00"/><stop offset="0.01087" stop-color="#af0b00"/><stop offset="0.03043" stop-color="#c40900"/><stop offset="0.06522" stop-color="#c60600"/><stop offset="0.09783" stop-color="#b60300"/><stop offset="0.1152" stop-color="#b60200"/><stop offset="0.2261" stop-color="#cf0000"/><stop offset="0.3783" stop-color="#e30101"/><stop offset="0.4348" stop-color="#ee0303"/><stop offset="0.4783" stop-color="#ff0606"/><stop offset="0.5022" stop-color="#ff0a0a"/><stop offset="0.5283" stop-color="#ff1515"/><stop offset="0.55" stop-color="#ff2828"/><stop offset="0.5717" stop-color="#ff4747"/><stop offset="0.6174" stop-color="#ff9b9b"/><stop offset="0.6304" stop-color="#ffaaaa"/><stop offset="0.6435" stop-color="#ffb0b0"/><stop offset="0.6565" stop-color="#ffacac"/><stop offset="0.6696" stop-color="#ff9e9e"/><stop offset="0.7152" stop-color="#ff4f4f"/><stop offset="0.7326" stop-color="#ff3737"/><stop offset="0.75" stop-color="#ff2525"/><stop offset="0.7696" stop-color="#ff1a1a"/><stop offset="0.8152" stop-color="#ff1010"/><stop offset="0.8783" stop-color="#ff0d0a"/><stop offset="0.95" stop-color="#fe0e04"/><stop offset="1" stop-color="#fc1602"/></linearGradient><linearGradient id="g99"><stop offset="0" stop-color="#ab0d00"/><stop offset="0.01087" stop-color="#af0a00"/><stop offset="0.03043" stop-color="#c40800"/><stop offset="0.06522" stop-color="#c60500"/><stop offset="0.09783" stop-color="#b60200"/><stop offset="0.1152" stop-color="#b60100"/><stop offset="0.2304" stop-color="#ce0000"/><stop offset="0.4087" stop-color="#e60202"/><stop offset="0.45" stop-color="#f10404"/><stop offset="0.4804" stop-color="#ff0606"/><stop offset="0.5022" stop-color="#ff0a0a"/><stop offset="0.5283" stop-color="#ff1515"/><stop offset="0.55" stop-color="#ff2828"/><stop offset="0.5717" stop-color="#ff4848"/><stop offset="0.6174" stop-color="#ff9b9b"/><stop offset="0.6304" stop-color="#ffaaaa"/><stop offset="0.6435" stop-color="#ffb0b0"/><stop offset="0.6565" stop-color="#ffacac"/><stop offset="0.6696" stop-color="#ff9e9e"/><stop offset="0.7152" stop-color="#ff4f4f"/><stop offset="0.7326" stop-color="#ff3737"/><stop offset="0.75" stop-color="#ff2626"/><stop offset="0.7696" stop-color="#ff1a1a"/><stop offset="0.8065" stop-color="#ff1111"/><stop offset="0.8696" stop-color="#ff0c0a"/><stop offset="0.9478" stop-color="#ff0d05"/><stop offset="1" stop-color="#fc1502"/></linearGradient><linearGradient id="g100"><stop offset="0" stop-color="#ab0c00"/><stop offset="0.01087" stop-color="#af0900"/><stop offset="0.03043" stop-color="#c40700"/><stop offset="0.06522" stop-color="#c60400"/><stop offset="0.09783" stop-color="#b60100"/><stop offset="0.1152" stop-color="#b60000"/><stop offset="0.2348" stop-color="#cd0000"/><stop offset="0.4087" stop-color="#e40202"/><stop offset="0.4522" stop-color="#f00404"/><stop offset="0.4848" stop-color="#ff0707"/><stop offset="0.5022" stop-color="#ff0a0a"/><stop offset="0.5283" stop-color="#ff1515"/><stop offset="0.55" stop-color="#ff2828"/><stop offset="0.5717" stop-color="#ff4848"/><stop offset="0.6174" stop-color="#ff9b9b"/><stop offset="0.6304" stop-color="#ffaaaa"/><stop offset="0.6435" stop-color="#ffb0b0"/><stop offset="0.6565" stop-color="#ffacac"/><stop offset="0.6696" stop-color="#ff9e9e"/><stop offset="0.7152" stop-color="#ff5050"/><stop offset="0.7326" stop-color="#ff3737"/><stop offset="0.75" stop-color="#ff2626"/><stop offset="0.7696" stop-color="#ff1a1a"/><stop offset="0.8043" stop-color="#ff1111"/><stop offset="0.8717" stop-color="#ff0a0a"/><stop offset="0.9478" stop-color="#ff0c05"/><stop offset="1" stop-color="#fc1302"/></linearGradient><linearGradient id="g101"><stop offset="0" stop-color="#ab0b00"/><stop offset="0.01087" stop-color="#af0800"/><stop offset="0.03043" stop-color="#c40600"/><stop offset="0.06304" stop-color="#c70300"/><stop offset="0.09783" stop-color="#b60000"/><stop offset="0.1239" stop-color="#b60000"/><stop offset="0.2348" stop-color="#cb0000"/><stop offset="0.4109" stop-color="#e30202"/><stop offset="0.4543" stop-color="#ee0404"/><stop offset="0.487" stop-color="#fe0707"/><stop offset="0.5022" stop-color="#ff0a0a"/><stop offset="0.5283" stop-color="#ff1515"/><stop offset="0.55" stop-color="#ff2929"/><stop offset="0.5717" stop-color="#ff4848"/><stop offset="0.6174" stop-color="#ff9b9b"/><stop offset="0.6304" stop-color="#ffaaaa"/><stop offset="0.6435" stop-color="#ffb0b0"/><stop offset="0.6565" stop-color="#ffacac"/><stop offset="0.6696" stop-color="#ff9f9f"/><stop offset="0.7152" stop-color="#ff5050"/><stop offset="0.7326" stop-color="#ff3737"/><stop offset="0.75" stop-color="#ff2626"/><stop offset="0.7674" stop-color="#ff1b1b"/><stop offset="0.8043" stop-color="#ff1111"/><stop offset="0.8891" stop-color="#ff0909"/><stop offset="0.9543" stop-color="#fe0b04"/><stop offset="0.987" stop-color="#fd1303"/><stop offset="1" stop-color="#fc1202"/></linearGradient><linearGradient id="g102"><stop offset="0" stop-color="#ab0a00"/><stop offset="0.01087" stop-color="#af0700"/><stop offset="0.03043" stop-color="#c40500"/><stop offset="0.06522" stop-color="#c60200"/><stop offset="0.1" stop-color="#b50000"/><stop offset="0.1239" stop-color="#b40000"/><stop offset="0.2326" stop-color="#c90000"/><stop offset="0.413" stop-color="#e10202"/><stop offset="0.4565" stop-color="#ed0404"/><stop offset="0.4913" stop-color="#ff0808"/><stop offset="0.5022" stop-color="#ff0a0a"/><stop offset="0.5283" stop-color="#ff1515"/><stop offset="0.55" stop-color="#ff2929"/><stop offset="0.5717" stop-color="#ff4848"/><stop offset="0.6174" stop-color="#ff9b9b"/><stop offset="0.6304" stop-color="#ffaaaa"/><stop offset="0.6435" stop-color="#ffb0b0"/><stop offset="0.6565" stop-color="#ffacac"/><stop offset="0.6696" stop-color="#ff9f9f"/><stop offset="0.7152" stop-color="#ff5050"/><stop offset="0.7326" stop-color="#ff3737"/><stop offset="0.75" stop-color="#ff2626"/><stop offset="0.7674" stop-color="#ff1b1b"/><stop offset="0.8065" stop-color="#ff1111"/><stop offset="0.8978" stop-color="#ff0808"/><stop offset="0.9543" stop-color="#fe0a04"/><stop offset="0.987" stop-color="#fd1103"/><stop offset="1" stop-color="#fc1102"/></linearGradient><linearGradient id="g103"><stop offset="0" stop-color="#ab0900"/><stop offset="0.01087" stop-color="#af0700"/><stop offset="0.03043" stop-color="#c40400"/><stop offset="0.06522" stop-color="#c60100"/><stop offset="0.1" stop-color="#b30000"/><stop offset="0.1239" stop-color="#b30000"/><stop offset="0.2326" stop-color="#c80000"/><stop offset="0.4152" stop-color="#e00202"/><stop offset="0.4543" stop-color="#ea0404"/><stop offset="0.4935" stop-color="#fe0808"/><stop offset="0.5022" stop-color="#ff0a0a"/><stop offset="0.5283" stop-color="#ff1616"/><stop offset="0.55" stop-color="#ff2929"/><stop offset="0.5717" stop-color="#ff4848"/><stop offset="0.6174" stop-color="#ff9b9b"/><stop offset="0.6304" stop-color="#ffaaaa"/><stop offset="0.6435" stop-color="#ffb0b0"/><stop offset="0.6565" stop-color="#ffacac"/><stop offset="0.6696" stop-color="#ff9f9f"/><stop offset="0.7152" stop-color="#ff5050"/><stop offset="0.7326" stop-color="#ff3737"/><stop offset="0.75" stop-color="#ff2626"/><stop offset="0.7674" stop-color="#ff1b1b"/><stop offset="0.8087" stop-color="#ff1111"/><stop offset="0.913" stop-color="#ff0707"/><stop offset="0.9609" stop-color="#fe0904"/><stop offset="0.987" stop-color="#fd1003"/><stop offset="1" stop-color="#fc1002"/></linearGradient><linearGradient id="g104"><stop offset="0" stop-color="#ab0800"/><stop offset="0.01087" stop-color="#af0600"/><stop offset="0.03043" stop-color="#c40300"/><stop offset="0.06304" stop-color="#c70000"/><stop offset="0.1" stop-color="#b20000"/><stop offset="0.1239" stop-color="#b10000"/><stop offset="0.2326" stop-color="#c60000"/><stop offset="0.4174" stop-color="#de0202"/><stop offset="0.4587" stop-color="#ea0404"/><stop offset="0.5022" stop-color="#ff0a0a"/><stop offset="0.5283" stop-color="#ff1616"/><stop offset="0.55" stop-color="#ff2929"/><stop offset="0.5717" stop-color="#ff4848"/><stop offset="0.6174" stop-color="#ff9b9b"/><stop offset="0.6304" stop-color="#ffaaaa"/><stop offset="0.6435" stop-color="#ffb0b0"/><stop offset="0.6543" stop-color="#ffaeae"/><stop offset="0.6674" stop-color="#ffa1a1"/><stop offset="0.7283" stop-color="#ff3d3d"/><stop offset="0.7478" stop-color="#ff2828"/><stop offset="0.7674" stop-color="#ff1b1b"/><stop offset="0.8109" stop-color="#ff1010"/><stop offset="0.9239" stop-color="#ff0606"/><stop offset="1" stop-color="#fc0f02"/></linearGradient><linearGradient id="g105"><stop offset="0" stop-color="#ab0800"/><stop offset="0.01087" stop-color="#af0500"/><stop offset="0.02826" stop-color="#c30200"/><stop offset="0.03913" stop-color="#c60100"/><stop offset="0.06304" stop-color="#c50000"/><stop offset="0.09783" stop-color="#b10000"/><stop offset="0.1174" stop-color="#af0000"/><stop offset="0.2348" stop-color="#c50000"/><stop offset="0.4022" stop-color="#da0202"/><stop offset="0.4587" stop-color="#e80404"/><stop offset="0.5022" stop-color="#ff0a0a"/><stop offset="0.5283" stop-color="#ff1616"/><stop offset="0.55" stop-color="#ff2929"/><stop offset="0.5717" stop-color="#ff4949"/><stop offset="0.6174" stop-color="#ff9c9c"/><stop offset="0.6304" stop-color="#ffabab"/><stop offset="0.6435" stop-color="#ffb0b0"/><stop offset="0.6543" stop-color="#ffaeae"/><stop offset="0.6674" stop-color="#ffa2a2"/><stop offset="0.7283" stop-color="#ff3d3d"/><stop offset="0.7478" stop-color="#ff2828"/><stop offset="0.7674" stop-color="#ff1b1b"/><stop offset="0.813" stop-color="#ff1010"/><stop offset="0.8891" stop-color="#fc0909"/><stop offset="0.937" stop-color="#ff0505"/><stop offset="1" stop-color="#fc0d02"/></linearGradient><linearGradient id="g106"><stop offset="0" stop-color="#ab0700"/><stop offset="0.01087" stop-color="#af0400"/><stop offset="0.02826" stop-color="#c30200"/><stop offset="0.03913" stop-color="#c60000"/><stop offset="0.06522" stop-color="#c30000"/><stop offset="0.09783" stop-color="#b00000"/><stop offset="0.1152" stop-color="#ae0000"/><stop offset="0.2348" stop-color="#c30000"/><stop offset="0.3978" stop-color="#d70202"/><stop offset="0.4587" stop-color="#e70404"/><stop offset="0.5022" stop-color="#ff0a0a"/><stop offset="0.5283" stop-color="#ff1616"/><stop offset="0.55" stop-color="#ff2929"/><stop offset="0.5717" stop-color="#ff4949"/><stop offset="0.6174" stop-color="#ff9c9c"/><stop offset="0.6304" stop-color="#ffabab"/><stop offset="0.6435" stop-color="#ffb0b0"/><stop offset="0.6543" stop-color="#ffaeae"/><stop offset="0.6674" stop-color="#ffa2a2"/><stop offset="0.7283" stop-color="#ff3d3d"/><stop offset="0.7478" stop-color="#ff2828"/><stop offset="0.7674" stop-color="#ff1c1c"/><stop offset="0.8109" stop-color="#ff1010"/><stop offset="0.8804" stop-color="#fa0909"/><stop offset="0.9304" stop-color="#fc0606"/><stop offset="0.9565" stop-color="#fe0504"/><stop offset="0.987" stop-color="#fd0d03"/><stop offset="1" stop-color="#fc0c02"/></linearGradient><linearGradient id="g107"><stop offset="0" stop-color="#ab0600"/><stop offset="0.01087" stop-color="#af0300"/><stop offset="0.03043" stop-color="#c40000"/><stop offset="0.06304" stop-color="#c20000"/><stop offset="0.09783" stop-color="#ae0000"/><stop offset="0.1152" stop-color="#ac0000"/><stop offset="0.2304" stop-color="#c10000"/><stop offset="0.3913" stop-color="#d60101"/><stop offset="0.4565" stop-color="#e60404"/><stop offset="0.5022" stop-color="#ff0a0a"/><stop offset="0.5283" stop-color="#ff1616"/><stop offset="0.55" stop-color="#ff2929"/><stop offset="0.5717" stop-color="#ff4949"/><stop offset="0.6174" stop-color="#ff9c9c"/><stop offset="0.6304" stop-color="#ffabab"/><stop offset="0.6435" stop-color="#ffb0b0"/><stop offset="0.6543" stop-color="#ffaeae"/><stop offset="0.6674" stop-color="#ffa2a2"/><stop offset="0.7283" stop-color="#ff3e3e"/><stop offset="0.7478" stop-color="#ff2828"/><stop offset="0.7674" stop-color="#ff1c1c"/><stop offset="0.8087" stop-color="#ff1111"/><stop offset="0.8696" stop-color="#f90a0a"/><stop offset="0.9174" stop-color="#f90707"/><stop offset="0.9609" stop-color="#fe0404"/><stop offset="0.987" stop-color="#fd0c03"/><stop offset="1" stop-color="#fc0b02"/></linearGradient><linearGradient id="g108"><stop offset="0" stop-color="#ab0500"/><stop offset="0.01087" stop-color="#af0200"/><stop offset="0.02391" stop-color="#bf0000"/><stop offset="0.03043" stop-color="#c30000"/><stop offset="0.06304" stop-color="#c00000"/><stop offset="0.09783" stop-color="#ad0000"/><stop offset="0.1174" stop-color="#ab0000"/><stop offset="0.3913" stop-color="#d60101"/><stop offset="0.4565" stop-color="#e60404"/><stop offset="0.5022" stop-color="#ff0b0b"/><stop offset="0.5283" stop-color="#ff1616"/><stop offset="0.55" stop-color="#ff2a2a"/><stop offset="0.5717" stop-color="#ff4949"/><stop offset="0.6174" stop-color="#ff9c9c"/><stop offset="0.6304" stop-color="#ffabab"/><stop offset="0.6435" stop-color="#ffb0b0"/><stop offset="0.6543" stop-color="#ffaeae"/><stop offset="0.6674" stop-color="#ffa2a2"/><stop offset="0.7283" stop-color="#ff3e3e"/><stop offset="0.7478" stop-color="#ff2828"/><stop offset="0.7674" stop-color="#ff1c1c"/><stop offset="0.8065" stop-color="#ff1111"/><stop offset="0.8609" stop-color="#f70b0b"/><stop offset="0.9043" stop-color="#f60808"/><stop offset="0.9652" stop-color="#fd0404"/><stop offset="0.987" stop-color="#fd0a03"/><stop offset="1" stop-color="#fc0a02"/></linearGradient><linearGradient id="g109"><stop offset="0" stop-color="#ab0400"/><stop offset="0.01087" stop-color="#af0200"/><stop offset="0.02391" stop-color="#be0000"/><stop offset="0.03043" stop-color="#c20000"/><stop offset="0.06304" stop-color="#bf0000"/><stop offset="0.09783" stop-color="#ab0000"/><stop offset="0.1174" stop-color="#a90000"/><stop offset="0.3913" stop-color="#d60101"/><stop offset="0.4565" stop-color="#e60404"/><stop offset="0.5022" stop-color="#ff0b0b"/><stop offset="0.5283" stop-color="#ff1616"/><stop offset="0.55" stop-color="#ff2a2a"/><stop offset="0.5717" stop-color="#ff4949"/><stop offset="0.6174" stop-color="#ff9c9c"/><stop offset="0.6304" stop-color="#ffabab"/><stop offset="0.6435" stop-color="#ffb0b0"/><stop offset="0.6543" stop-color="#ffaeae"/><stop offset="0.6674" stop-color="#ffa2a2"/><stop offset="0.7283" stop-color="#ff3e3e"/><stop offset="0.7478" stop-color="#ff2929"/><stop offset="0.7674" stop-color="#ff1c1c"/><stop offset="0.8043" stop-color="#ff1111"/><stop offset="0.8848" stop-color="#f40909"/><stop offset="0.9326" stop-color="#f60606"/><stop offset="0.9696" stop-color="#fd0303"/><stop offset="0.987" stop-color="#fd0903"/><stop offset="1" stop-color="#fc0902"/></linearGradient><linearGradient id="g110"><stop offset="0" stop-color="#ab0400"/><stop offset="0.01087" stop-color="#af0100"/><stop offset="0.03043" stop-color="#c00000"/><stop offset="0.06522" stop-color="#bd0000"/><stop offset="0.1022" stop-color="#a80000"/><stop offset="0.1326" stop-color="#aa0000"/><stop offset="0.2435" stop-color="#c00000"/><stop offset="0.4239" stop-color="#dc0202"/><stop offset="0.4674" stop-color="#ea0505"/><stop offset="0.5022" stop-color="#ff0b0b"/><stop offset="0.5283" stop-color="#ff1616"/><stop offset="0.55" stop-color="#ff2a2a"/><stop offset="0.5717" stop-color="#ff4949"/><stop offset="0.6174" stop-color="#ff9c9c"/><stop offset="0.6304" stop-color="#ffabab"/><stop offset="0.6435" stop-color="#ffb0b0"/><stop offset="0.6543" stop-color="#ffaeae"/><stop offset="0.6674" stop-color="#ffa2a2"/><stop offset="0.7283" stop-color="#ff3e3e"/><stop offset="0.7478" stop-color="#ff2929"/><stop offset="0.7674" stop-color="#ff1c1c"/><stop offset="0.8043" stop-color="#ff1111"/><stop offset="0.8435" stop-color="#f50d0d"/><stop offset="0.8848" stop-color="#f20909"/><stop offset="0.937" stop-color="#f50505"/><stop offset="0.9761" stop-color="#fd0303"/><stop offset="0.987" stop-color="#fd0803"/><stop offset="1" stop-color="#fc0702"/></linearGradient><linearGradient id="g111"><stop offset="0" stop-color="#ab0300"/><stop offset="0.01304" stop-color="#b00000"/><stop offset="0.03043" stop-color="#bf0000"/><stop offset="0.06522" stop-color="#bb0000"/><stop offset="0.1022" stop-color="#a70000"/><stop offset="0.1326" stop-color="#a80000"/><stop offset="0.2413" stop-color="#bf0000"/><stop offset="0.4239" stop-color="#dc0202"/><stop offset="0.4674" stop-color="#ea0505"/><stop offset="0.5022" stop-color="#ff0b0b"/><stop offset="0.5283" stop-color="#ff1616"/><stop offset="0.55" stop-color="#ff2a2a"/><stop offset="0.5717" stop-color="#ff4a4a"/><stop offset="0.6174" stop-color="#ff9c9c"/><stop offset="0.6304" stop-color="#ffabab"/><stop offset="0.6435" stop-color="#ffb0b0"/><stop offset="0.6543" stop-color="#ffaeae"/><stop offset="0.6674" stop-color="#ffa2a2"/><stop offset="0.7283" stop-color="#ff3e3e"/><stop offset="0.7478" stop-color="#ff2929"/><stop offset="0.7674" stop-color="#ff1c1c"/><stop offset="0.8043" stop-color="#ff1111"/><stop offset="0.8391" stop-color="#f40d0d"/><stop offset="0.8848" stop-color="#f00909"/><stop offset="0.9391" stop-color="#f30505"/><stop offset="0.9783" stop-color="#fc0303"/><stop offset="1" stop-color="#fc0602"/></linearGradient><linearGradient id="g112"><stop offset="0" stop-color="#ab0200"/><stop offset="0.01304" stop-color="#ae0000"/><stop offset="0.03043" stop-color="#bd0000"/><stop offset="0.06522" stop-color="#b90000"/><stop offset="0.1022" stop-color="#a50000"/><stop offset="0.1326" stop-color="#a70000"/><stop offset="0.2391" stop-color="#bf0000"/><stop offset="0.4261" stop-color="#dd0303"/><stop offset="0.4674" stop-color="#ea0505"/><stop offset="0.5022" stop-color="#ff0b0b"/><stop offset="0.5283" stop-color="#ff1616"/><stop offset="0.55" stop-color="#ff2a2a"/><stop offset="0.5717" stop-color="#ff4a4a"/><stop offset="0.6174" stop-color="#ff9c9c"/><stop offset="0.6304" stop-color="#ffabab"/><stop offset="0.6435" stop-color="#ffb0b0"/><stop offset="0.6543" stop-color="#ffaeae"/><stop offset="0.6674" stop-color="#ffa2a2"/><stop offset="0.7283" stop-color="#ff3e3e"/><stop offset="0.7478" stop-color="#ff2929"/><stop offset="0.7674" stop-color="#ff1c1c"/><stop offset="0.8065" stop-color="#ff1111"/><stop offset="0.8413" stop-color="#f20d0d"/><stop offset="0.8848" stop-color="#ee0909"/><stop offset="0.9391" stop-color="#f10505"/><stop offset="0.9848" stop-color="#fd0303"/><stop offset="1" stop-color="#fc0502"/></linearGradient><linearGradient id="g113"><stop offset="0" stop-color="#ab0100"/><stop offset="0.01087" stop-color="#ac0000"/><stop offset="0.03043" stop-color="#bb0000"/><stop offset="0.06522" stop-color="#b80000"/><stop offset="0.1022" stop-color="#a40000"/><stop offset="0.1261" stop-color="#a40000"/><stop offset="0.237" stop-color="#be0000"/><stop offset="0.4261" stop-color="#dd0303"/><stop offset="0.4674" stop-color="#ea0505"/><stop offset="0.5022" stop-color="#ff0b0b"/><stop offset="0.5283" stop-color="#ff1717"/><stop offset="0.55" stop-color="#ff2a2a"/><stop offset="0.5696" stop-color="#ff4646"/><stop offset="0.6174" stop-color="#ff9c9c"/><stop offset="0.6304" stop-color="#ffabab"/><stop offset="0.6435" stop-color="#ffb0b0"/><stop offset="0.6543" stop-color="#ffaeae"/><stop offset="0.6674" stop-color="#ffa2a2"/><stop offset="0.7283" stop-color="#ff3e3e"/><stop offset="0.7478" stop-color="#ff2929"/><stop offset="0.7674" stop-color="#ff1c1c"/><stop offset="0.8065" stop-color="#ff1111"/><stop offset="0.8457" stop-color="#f10d0d"/><stop offset="0.8848" stop-color="#ec0909"/><stop offset="0.9435" stop-color="#f00505"/><stop offset="0.9717" stop-color="#f50303"/><stop offset="0.987" stop-color="#fd0403"/><stop offset="1" stop-color="#fc0402"/></linearGradient><linearGradient id="g114"><stop offset="0" stop-color="#ab0000"/><stop offset="0.01087" stop-color="#aa0000"/><stop offset="0.02609" stop-color="#b80000"/><stop offset="0.03478" stop-color="#ba0000"/><stop offset="0.06522" stop-color="#b60000"/><stop offset="0.1" stop-color="#a30000"/><stop offset="0.1217" stop-color="#a30000"/><stop offset="0.2348" stop-color="#be0000"/><stop offset="0.4261" stop-color="#dd0303"/><stop offset="0.4674" stop-color="#ea0505"/><stop offset="0.5022" stop-color="#ff0b0b"/><stop offset="0.5283" stop-color="#ff1717"/><stop offset="0.55" stop-color="#ff2b2b"/><stop offset="0.5696" stop-color="#ff4646"/><stop offset="0.6174" stop-color="#ff9c9c"/><stop offset="0.6304" stop-color="#ffabab"/><stop offset="0.6435" stop-color="#ffb0b0"/><stop offset="0.6543" stop-color="#ffaeae"/><stop offset="0.6674" stop-color="#ffa2a2"/><stop offset="0.7283" stop-color="#ff3f3f"/><stop offset="0.7478" stop-color="#ff2929"/><stop offset="0.7674" stop-color="#ff1c1c"/><stop offset="0.8065" stop-color="#ff1111"/><stop offset="0.8413" stop-color="#f20d0d"/><stop offset="0.887" stop-color="#ea0909"/><stop offset="0.95" stop-color="#ee0404"/><stop offset="0.9761" stop-color="#f50303"/><stop offset="0.987" stop-color="#fd0303"/><stop offset="1" stop-color="#fc0302"/></linearGradient><linearGradient id="g115"><stop offset="0" stop-color="#aa0000"/><stop offset="0.01087" stop-color="#a90000"/><stop offset="0.03043" stop-color="#b80000"/><stop offset="0.06522" stop-color="#b50000"/><stop offset="0.1" stop-color="#a20000"/><stop offset="0.1217" stop-color="#a30000"/><stop offset="0.2348" stop-color="#be0000"/><stop offset="0.4261" stop-color="#dd0303"/><stop offset="0.4674" stop-color="#ea0505"/><stop offset="0.5022" stop-color="#ff0b0b"/><stop offset="0.5283" stop-color="#ff1717"/><stop offset="0.55" stop-color="#ff2b2b"/><stop offset="0.5696" stop-color="#ff4646"/><stop offset="0.6174" stop-color="#ff9c9c"/><stop offset="0.6304" stop-color="#ffabab"/><stop offset="0.6435" stop-color="#ffb0b0"/><stop offset="0.6543" stop-color="#ffaeae"/><stop offset="0.6674" stop-color="#ffa2a2"/><stop offset="0.7283" stop-color="#ff3f3f"/><stop offset="0.7478" stop-color="#ff2929"/><stop offset="0.7674" stop-color="#ff1c1c"/><stop offset="0.8065" stop-color="#ff1111"/><stop offset="0.8478" stop-color="#f00c0c"/><stop offset="0.9022" stop-color="#e80808"/><stop offset="0.9565" stop-color="#ee0404"/><stop offset="0.9783" stop-color="#f40303"/><stop offset="0.987" stop-color="#fb0303"/><stop offset="1" stop-color="#fb0202"/></linearGradient><linearGradient id="g116"><stop offset="0" stop-color="#a90000"/><stop offset="0.01087" stop-color="#a70000"/><stop offset="0.03043" stop-color="#b70000"/><stop offset="0.06522" stop-color="#b30000"/><stop offset="0.1" stop-color="#a20000"/><stop offset="0.1217" stop-color="#a30000"/><stop offset="0.2348" stop-color="#be0000"/><stop offset="0.4261" stop-color="#dd0303"/><stop offset="0.4674" stop-color="#ea0505"/><stop offset="0.5022" stop-color="#ff0b0b"/><stop offset="0.5283" stop-color="#ff1717"/><stop offset="0.55" stop-color="#ff2b2b"/><stop offset="0.5696" stop-color="#ff4646"/><stop offset="0.6174" stop-color="#ff9c9c"/><stop offset="0.6304" stop-color="#ffabab"/><stop offset="0.6435" stop-color="#ffb0b0"/><stop offset="0.6543" stop-color="#ffaeae"/><stop offset="0.6674" stop-color="#ffa2a2"/><stop offset="0.7283" stop-color="#ff3f3f"/><stop offset="0.7478" stop-color="#ff2929"/><stop offset="0.7674" stop-color="#ff1c1c"/><stop offset="0.8065" stop-color="#ff1111"/><stop offset="0.85" stop-color="#f00c0c"/><stop offset="0.9109" stop-color="#e70707"/><stop offset="0.9587" stop-color="#ec0404"/><stop offset="0.9804" stop-color="#f30303"/><stop offset="0.987" stop-color="#f90303"/><stop offset="1" stop-color="#f90202"/></linearGradient><linearGradient id="g117"><stop offset="0" stop-color="#a70000"/><stop offset="0.01087" stop-color="#a60000"/><stop offset="0.03043" stop-color="#b50000"/><stop offset="0.06522" stop-color="#b20000"/><stop offset="0.1" stop-color="#a20000"/><stop offset="0.1217" stop-color="#a30000"/><stop offset="0.2348" stop-color="#be0000"/><stop offset="0.4261" stop-color="#dd0303"/><stop offset="0.4674" stop-color="#ea0505"/><stop offset="0.5022" stop-color="#ff0b0b"/><stop offset="0.5283" stop-color="#ff1717"/><stop offset="0.55" stop-color="#ff2b2b"/><stop offset="0.5696" stop-color="#ff4646"/><stop offset="0.6174" stop-color="#ff9c9c"/><stop offset="0.6304" stop-color="#ffabab"/><stop offset="0.6435" stop-color="#ffb0b0"/><stop offset="0.6543" stop-color="#ffaeae"/><stop offset="0.6674" stop-color="#ffa2a2"/><stop offset="0.7283" stop-color="#ff3f3f"/><stop offset="0.7478" stop-color="#ff2929"/><stop offset="0.7674" stop-color="#ff1c1c"/><stop offset="0.8065" stop-color="#ff1111"/><stop offset="0.8543" stop-color="#ef0c0c"/><stop offset="0.9239" stop-color="#e60606"/><stop offset="0.963" stop-color="#eb0404"/><stop offset="0.9804" stop-color="#f10303"/><stop offset="0.987" stop-color="#f70303"/><stop offset="1" stop-color="#f70202"/></linearGradient><linearGradient id="g118"><stop offset="0" stop-color="#a60000"/><stop offset="0.01087" stop-color="#a50000"/><stop offset="0.03043" stop-color="#b40000"/><stop offset="0.06739" stop-color="#b10000"/><stop offset="0.1" stop-color="#a20000"/><stop offset="0.1239" stop-color="#a40000"/><stop offset="0.2348" stop-color="#be0000"/><stop offset="0.4261" stop-color="#dd0303"/><stop offset="0.4674" stop-color="#ea0505"/><stop offset="0.5022" stop-color="#ff0b0b"/><stop offset="0.5283" stop-color="#ff1717"/><stop offset="0.55" stop-color="#ff2b2b"/><stop offset="0.5696" stop-color="#ff4646"/><stop offset="0.6174" stop-color="#ff9c9c"/><stop offset="0.6304" stop-color="#ffabab"/><stop offset="0.6435" stop-color="#ffb0b0"/><stop offset="0.6543" stop-color="#ffaeae"/><stop offset="0.6674" stop-color="#ffa2a2"/><stop offset="0.7283" stop-color="#ff3f3f"/><stop offset="0.7478" stop-color="#ff2929"/><stop offset="0.7674" stop-color="#ff1c1c"/><stop offset="0.8065" stop-color="#ff1111"/><stop offset="0.8565" stop-color="#ee0c0c"/><stop offset="0.9348" stop-color="#e50505"/><stop offset="0.9717" stop-color="#eb0303"/><stop offset="0.9826" stop-color="#f00303"/><stop offset="0.987" stop-color="#f60303"/><stop offset="1" stop-color="#f50202"/></linearGradient><linearGradient id="g119"><stop offset="0" stop-color="#a50000"/><stop offset="0.01087" stop-color="#a30000"/><stop offset="0.03043" stop-color="#b20000"/><stop offset="0.06522" stop-color="#b10000"/><stop offset="0.1022" stop-color="#a20000"/><stop offset="0.1239" stop-color="#a40000"/><stop offset="0.2348" stop-color="#be0000"/><stop offset="0.4261" stop-color="#dd0303"/><stop offset="0.4674" stop-color="#ea0505"/><stop offset="0.5022" stop-color="#ff0b0b"/><stop offset="0.5283" stop-color="#ff1717"/><stop offset="0.55" stop-color="#ff2b2b"/><stop offset="0.5696" stop-color="#ff4646"/><stop offset="0.6174" stop-color="#ff9c9c"/><stop offset="0.6304" stop-color="#ffabab"/><stop offset="0.6435" stop-color="#ffb0b0"/><stop offset="0.6543" stop-color="#ffaeae"/><stop offset="0.6674" stop-color="#ffa2a2"/><stop offset="0.7283" stop-color="#ff3f3f"/><stop offset="0.7478" stop-color="#ff2929"/><stop offset="0.7674" stop-color="#ff1c1c"/><stop offset="0.8043" stop-color="#ff1111"/><stop offset="0.813" stop-color="#fc1010"/><stop offset="0.863" stop-color="#ed0b0b"/><stop offset="0.9435" stop-color="#e40505"/><stop offset="0.9739" stop-color="#ea0303"/><stop offset="0.987" stop-color="#f40303"/><stop offset="1" stop-color="#f30202"/></linearGradient><linearGradient id="g120"><stop offset="0" stop-color="#a30000"/><stop offset="0.01087" stop-color="#a20000"/><stop offset="0.02826" stop-color="#b00000"/><stop offset="0.06087" stop-color="#b20000"/><stop offset="0.1" stop-color="#a20000"/><stop offset="0.1239" stop-color="#a40000"/><stop offset="0.2348" stop-color="#be0000"/><stop offset="0.4261" stop-color="#dd0303"/><stop offset="0.4674" stop-color="#ea0505"/><stop offset="0.5022" stop-color="#ff0b0b"/><stop offset="0.5283" stop-color="#ff1717"/><stop offset="0.55" stop-color="#ff2b2b"/><stop offset="0.5696" stop-color="#ff4646"/><stop offset="0.6174" stop-color="#ff9c9c"/><stop offset="0.6304" stop-color="#ffabab"/><stop offset="0.6435" stop-color="#ffb0b0"/><stop offset="0.6543" stop-color="#ffaeae"/><stop offset="0.6674" stop-color="#ffa2a2"/><stop offset="0.7283" stop-color="#ff3f3f"/><stop offset="0.7478" stop-color="#ff2929"/><stop offset="0.7674" stop-color="#ff1c1c"/><stop offset="0.8043" stop-color="#ff1111"/><stop offset="0.8152" stop-color="#fb1010"/><stop offset="0.8674" stop-color="#ec0b0b"/><stop offset="0.95" stop-color="#e40404"/><stop offset="0.9761" stop-color="#e90303"/><stop offset="0.987" stop-color="#f20303"/><stop offset="1" stop-color="#f10202"/></linearGradient><linearGradient id="g121"><stop offset="0" stop-color="#a20000"/><stop offset="0.01087" stop-color="#a00000"/><stop offset="0.03043" stop-color="#b00000"/><stop offset="0.0587" stop-color="#b20000"/><stop offset="0.1" stop-color="#a20000"/><stop offset="0.1239" stop-color="#a40000"/><stop offset="0.2348" stop-color="#be0000"/><stop offset="0.4261" stop-color="#dd0303"/><stop offset="0.4674" stop-color="#ea0505"/><stop offset="0.5022" stop-color="#ff0b0b"/><stop offset="0.5283" stop-color="#ff1717"/><stop offset="0.55" stop-color="#ff2b2b"/><stop offset="0.5696" stop-color="#ff4646"/><stop offset="0.6174" stop-color="#ff9c9c"/><stop offset="0.6304" stop-color="#ffabab"/><stop offset="0.6435" stop-color="#ffb0b0"/><stop offset="0.6543" stop-color="#ffaeae"/><stop offset="0.6674" stop-color="#ffa2a2"/><stop offset="0.7283" stop-color="#ff3f3f"/><stop offset="0.7478" stop-color="#ff2929"/><stop offset="0.7674" stop-color="#ff1c1c"/><stop offset="0.8043" stop-color="#ff1111"/><stop offset="0.813" stop-color="#fc1010"/><stop offset="0.8609" stop-color="#ed0b0b"/><stop offset="0.937" stop-color="#e50505"/><stop offset="0.9652" stop-color="#e40404"/><stop offset="0.9804" stop-color="#e90303"/><stop offset="0.987" stop-color="#f00303"/><stop offset="1" stop-color="#ef0202"/></linearGradient><linearGradient id="g122"><stop offset="0" stop-color="#a00000"/><stop offset="0.01304" stop-color="#a00000"/><stop offset="0.03043" stop-color="#b00000"/><stop offset="0.05652" stop-color="#b20000"/><stop offset="0.06957" stop-color="#b00000"/><stop offset="0.09783" stop-color="#a30000"/><stop offset="0.1174" stop-color="#a30000"/><stop offset="0.237" stop-color="#be0000"/><stop offset="0.4043" stop-color="#d80202"/><stop offset="0.4609" stop-color="#e80404"/><stop offset="0.5022" stop-color="#ff0b0b"/><stop offset="0.5283" stop-color="#ff1717"/><stop offset="0.55" stop-color="#ff2b2b"/><stop offset="0.5696" stop-color="#ff4646"/><stop offset="0.6174" stop-color="#ff9c9c"/><stop offset="0.6304" stop-color="#ffabab"/><stop offset="0.6435" stop-color="#ffb0b0"/><stop offset="0.6543" stop-color="#ffaeae"/><stop offset="0.6674" stop-color="#ffa2a2"/><stop offset="0.7283" stop-color="#ff3f3f"/><stop offset="0.7478" stop-color="#ff2929"/><stop offset="0.7674" stop-color="#ff1c1c"/><stop offset="0.8065" stop-color="#ff1111"/><stop offset="0.8543" stop-color="#ef0c0c"/><stop offset="0.9261" stop-color="#e60606"/><stop offset="0.9696" stop-color="#e30303"/><stop offset="0.9826" stop-color="#e80303"/><stop offset="0.987" stop-color="#ee0303"/><stop offset="1" stop-color="#ed0202"/></linearGradient><linearGradient id="g123"><stop offset="0" stop-color="#9f0000"/><stop offset="0.01304" stop-color="#9f0000"/><stop offset="0.03043" stop-color="#b00000"/><stop offset="0.05435" stop-color="#b20000"/><stop offset="0.06957" stop-color="#b00000"/><stop offset="0.1" stop-color="#a20000"/><stop offset="0.1174" stop-color="#a30000"/><stop offset="0.237" stop-color="#be0000"/><stop offset="0.4065" stop-color="#d90202"/><stop offset="0.4609" stop-color="#e80404"/><stop offset="0.5022" stop-color="#ff0b0b"/><stop offset="0.5283" stop-color="#ff1717"/><stop offset="0.55" stop-color="#ff2b2b"/><stop offset="0.5696" stop-color="#ff4646"/><stop offset="0.6174" stop-color="#ff9c9c"/><stop offset="0.6304" stop-color="#ffabab"/><stop offset="0.6435" stop-color="#ffb0b0"/><stop offset="0.6543" stop-color="#ffaeae"/><stop offset="0.6674" stop-color="#ffa2a2"/><stop offset="0.7283" stop-color="#ff3f3f"/><stop offset="0.7478" stop-color="#ff2929"/><stop offset="0.7674" stop-color="#ff1c1c"/><stop offset="0.8065" stop-color="#ff1111"/><stop offset="0.8522" stop-color="#ef0c0c"/><stop offset="0.9174" stop-color="#e60707"/><stop offset="0.9739" stop-color="#e30303"/><stop offset="0.9826" stop-color="#e60303"/><stop offset="0.987" stop-color="#ec0303"/><stop offset="1" stop-color="#eb0202"/></linearGradient><linearGradient id="g124"><stop offset="0" stop-color="#9e0000"/><stop offset="0.01087" stop-color="#9c0000"/><stop offset="0.03043" stop-color="#b00000"/><stop offset="0.06522" stop-color="#b10000"/><stop offset="0.09783" stop-color="#a30000"/><stop offset="0.1152" stop-color="#a20000"/><stop offset="0.237" stop-color="#be0000"/><stop offset="0.4065" stop-color="#d90202"/><stop offset="0.4609" stop-color="#e80404"/><stop offset="0.5022" stop-color="#ff0b0b"/><stop offset="0.5283" stop-color="#ff1717"/><stop offset="0.55" stop-color="#ff2b2b"/><stop offset="0.5696" stop-color="#ff4646"/><stop offset="0.6174" stop-color="#ff9c9c"/><stop offset="0.6304" stop-color="#ffabab"/><stop offset="0.6435" stop-color="#ffb0b0"/><stop offset="0.6543" stop-color="#ffaeae"/><stop offset="0.6674" stop-color="#ffa2a2"/><stop offset="0.7283" stop-color="#ff3f3f"/><stop offset="0.7478" stop-color="#ff2929"/><stop offset="0.7674" stop-color="#ff1c1c"/><stop offset="0.8065" stop-color="#ff1111"/><stop offset="0.8478" stop-color="#f00c0c"/><stop offset="0.9087" stop-color="#e70707"/><stop offset="0.9783" stop-color="#e20303"/><stop offset="0.987" stop-color="#ea0303"/><stop offset="1" stop-color="#e90202"/></linearGradient><linearGradient id="g125"><stop offset="0" stop-color="#9c0000"/><stop offset="0.01087" stop-color="#9c0000"/><stop offset="0.03043" stop-color="#b00000"/><stop offset="0.06522" stop-color="#b10000"/><stop offset="0.09783" stop-color="#a30000"/><stop offset="0.1152" stop-color="#a20000"/><stop offset="0.237" stop-color="#be0000"/><stop offset="0.4087" stop-color="#d90202"/><stop offset="0.4609" stop-color="#e80404"/><stop offset="0.5022" stop-color="#ff0b0b"/><stop offset="0.5283" stop-color="#ff1717"/><stop offset="0.55" stop-color="#ff2b2b"/><stop offset="0.5696" stop-color="#ff4646"/><stop offset="0.6174" stop-color="#ff9c9c"/><stop offset="0.6304" stop-color="#ffabab"/><stop offset="0.6435" stop-color="#ffb0b0"/><stop offset="0.6543" stop-color="#ffaeae"/><stop offset="0.6674" stop-color="#ffa2a2"/><stop offset="0.7283" stop-color="#ff3f3f"/><stop offset="0.7478" stop-color="#ff2929"/><stop offset="0.7674" stop-color="#ff1c1c"/><stop offset="0.8065" stop-color="#ff1111"/><stop offset="0.8457" stop-color="#f10d0d"/><stop offset="0.9022" stop-color="#e80808"/><stop offset="0.9826" stop-color="#e20303"/><stop offset="0.987" stop-color="#e80303"/><stop offset="1" stop-color="#e70202"/></linearGradient><linearGradient id="g126"><stop offset="0" stop-color="#9b0000"/><stop offset="0.01087" stop-color="#9c0000"/><stop offset="0.03043" stop-color="#b00000"/><stop offset="0.06522" stop-color="#b10000"/><stop offset="0.09783" stop-color="#a30000"/><stop offset="0.1152" stop-color="#a20000"/><stop offset="0.237" stop-color="#be0000"/><stop offset="0.4087" stop-color="#d90202"/><stop offset="0.4609" stop-color="#e80404"/><stop offset="0.5022" stop-color="#ff0b0b"/><stop offset="0.5283" stop-color="#ff1717"/><stop offset="0.55" stop-color="#ff2b2b"/><stop offset="0.5696" stop-color="#ff4646"/><stop offset="0.6174" stop-color="#ff9c9c"/><stop offset="0.6304" stop-color="#ffabab"/><stop offset="0.6435" stop-color="#ffb0b0"/><stop offset="0.6543" stop-color="#ffaeae"/><stop offset="0.6674" stop-color="#ffa2a2"/><stop offset="0.7283" stop-color="#ff3f3f"/><stop offset="0.7478" stop-color="#ff2929"/><stop offset="0.7674" stop-color="#ff1c1c"/><stop offset="0.8065" stop-color="#ff1111"/><stop offset="0.8435" stop-color="#f10d0d"/><stop offset="0.8957" stop-color="#e80808"/><stop offset="0.9848" stop-color="#e20303"/><stop offset="0.987" stop-color="#e60303"/><stop offset="1" stop-color="#e50202"/></linearGradient><linearGradient id="g127"><stop offset="0" stop-color="#9a0000"/><stop offset="0.01087" stop-color="#9c0000"/><stop offset="0.03043" stop-color="#b00000"/><stop offset="0.06522" stop-color="#b10000"/><stop offset="0.09783" stop-color="#a30000"/><stop offset="0.1152" stop-color="#a20000"/><stop offset="0.237" stop-color="#be0000"/><stop offset="0.4109" stop-color="#da0202"/><stop offset="0.463" stop-color="#e90505"/><stop offset="0.5022" stop-color="#ff0b0b"/><stop offset="0.5283" stop-color="#ff1717"/><stop offset="0.55" stop-color="#ff2b2b"/><stop offset="0.5696" stop-color="#ff4646"/><stop offset="0.6174" stop-color="#ff9c9c"/><stop offset="0.6304" stop-color="#ffabab"/><stop offset="0.6435" stop-color="#ffb0b0"/><stop offset="0.6543" stop-color="#ffaeae"/><stop offset="0.6674" stop-color="#ffa2a2"/><stop offset="0.7283" stop-color="#ff3f3f"/><stop offset="0.7478" stop-color="#ff2929"/><stop offset="0.7674" stop-color="#ff1c1c"/><stop offset="0.8065" stop-color="#ff1111"/><stop offset="0.8413" stop-color="#f20d0d"/><stop offset="0.8891" stop-color="#e90909"/><stop offset="1" stop-color="#e30202"/></linearGradient><linearGradient id="g128"><stop offset="0" stop-color="#990000"/><stop offset="0.01087" stop-color="#9c0000"/><stop offset="0.03043" stop-color="#b00000"/><stop offset="0.06522" stop-color="#b10000"/><stop offset="0.09783" stop-color="#a30000"/><stop offset="0.1152" stop-color="#a20000"/><stop offset="0.237" stop-color="#be0000"/><stop offset="0.413" stop-color="#da0202"/><stop offset="0.463" stop-color="#e90505"/><stop offset="0.5022" stop-color="#ff0b0b"/><stop offset="0.5283" stop-color="#ff1717"/><stop offset="0.55" stop-color="#ff2b2b"/><stop offset="0.5696" stop-color="#ff4646"/><stop offset="0.6174" stop-color="#ff9c9c"/><stop offset="0.6304" stop-color="#ffabab"/><stop offset="0.6435" stop-color="#ffb0b0"/><stop offset="0.6543" stop-color="#ffaeae"/><stop offset="0.6674" stop-color="#ffa2a2"/><stop offset="0.7283" stop-color="#ff3f3f"/><stop offset="0.7478" stop-color="#ff2929"/><stop offset="0.7674" stop-color="#ff1c1c"/><stop offset="0.8065" stop-color="#ff1111"/><stop offset="0.8261" stop-color="#f60f0f"/><stop offset="0.8913" stop-color="#e90909"/><stop offset="1" stop-color="#e20202"/></linearGradient><linearGradient id="g129"><stop offset="0" stop-color="#990000"/><stop offset="0.01087" stop-color="#9c0000"/><stop offset="0.03043" stop-color="#b00000"/><stop offset="0.06522" stop-color="#b10000"/><stop offset="0.09783" stop-color="#a30000"/><stop offset="0.1152" stop-color="#a20000"/><stop offset="0.237" stop-color="#be0000"/><stop offset="0.413" stop-color="#da0202"/><stop offset="0.463" stop-color="#e90505"/><stop offset="0.5022" stop-color="#ff0b0b"/><stop offset="0.5283" stop-color="#ff1717"/><stop offset="0.55" stop-color="#ff2b2b"/><stop offset="0.5696" stop-color="#ff4646"/><stop offset="0.6174" stop-color="#ff9c9c"/><stop offset="0.6304" stop-color="#ffabab"/><stop offset="0.6435" stop-color="#ffb0b0"/><stop offset="0.6543" stop-color="#ffaeae"/><stop offset="0.6674" stop-color="#ffa2a2"/><stop offset="0.7283" stop-color="#ff3f3f"/><stop offset="0.7478" stop-color="#ff2929"/><stop offset="0.7674" stop-color="#ff1c1c"/><stop offset="0.8065" stop-color="#ff1111"/><stop offset="0.8261" stop-color="#f60f0f"/><stop offset="0.8913" stop-color="#e90909"/><stop offset="1" stop-color="#e20202"/></linearGradient><linearGradient id="g130"><stop offset="0" stop-color="#990000"/><stop offset="0.01087" stop-color="#9c0000"/><stop offset="0.03043" stop-color="#b00000"/><stop offset="0.06522" stop-color="#b10000"/><stop offset="0.09783" stop-color="#a30000"/><stop offset="0.1152" stop-color="#a20000"/><stop offset="0.237" stop-color="#be0000"/><stop offset="0.413" stop-color="#da0202"/><stop offset="0.463" stop-color="#e90505"/><stop offset="0.5022" stop-color="#ff0b0b"/><stop offset="0.5283" stop-color="#ff1717"/><stop offset="0.55" stop-color="#ff2b2b"/><stop offset="0.5696" stop-color="#ff4646"/><stop offset="0.6174" stop-color="#ff9c9c"/><stop offset="0.6304" stop-color="#ffabab"/><stop offset="0.6435" stop-color="#ffb0b0"/><stop offset="0.6543" stop-color="#ffaeae"/><stop offset="0.6674" stop-color="#ffa2a2"/><stop offset="0.7283" stop-color="#ff3f3f"/><stop offset="0.7478" stop-color="#ff2929"/><stop offset="0.7674" stop-color="#ff1c1c"/><stop offset="0.8065" stop-color="#ff1111"/><stop offset="0.8261" stop-color="#f60f0f"/><stop offset="0.8913" stop-color="#e90909"/><stop offset="1" stop-color="#e20202"/></linearGradient><linearGradient id="g131"><stop offset="0" stop-color="#990000"/><stop offset="0.01087" stop-color="#9c0000"/><stop offset="0.03043" stop-color="#b00000"/><stop offset="0.06522" stop-color="#b10000"/><stop offset="0.09783" stop-color="#a30000"/><stop offset="0.1152" stop-color="#a20000"/><stop offset="0.237" stop-color="#be0000"/><stop offset="0.413" stop-color="#da0202"/><stop offset="0.463" stop-color="#e90505"/><stop offset="0.5022" stop-color="#ff0b0b"/><stop offset="0.5283" stop-color="#ff1717"/><stop offset="0.55" stop-color="#ff2b2b"/><stop offset="0.5696" stop-color="#ff4646"/><stop offset="0.6174" stop-color="#ff9c9c"/><stop offset="0.6304" stop-color="#ffabab"/><stop offset="0.6435" stop-color="#ffb0b0"/><stop offset="0.6543" stop-color="#ffaeae"/><stop offset="0.6674" stop-color="#ffa2a2"/><stop offset="0.7283" stop-color="#ff3f3f"/><stop offset="0.7478" stop-color="#ff2929"/><stop offset="0.7674" stop-color="#ff1c1c"/><stop offset="0.8065" stop-color="#ff1111"/><stop offset="0.8261" stop-color="#f60f0f"/><stop offset="0.8913" stop-color="#e90909"/><stop offset="1" stop-color="#e20202"/></linearGradient><linearGradient id="g132"><stop offset="0" stop-color="#990000"/><stop offset="0.01087" stop-color="#9c0000"/><stop offset="0.03043" stop-color="#b00000"/><stop offset="0.06522" stop-color="#b10000"/><stop offset="0.09783" stop-color="#a30000"/><stop offset="0.1152" stop-color="#a20000"/><stop offset="0.237" stop-color="#be0000"/><stop offset="0.413" stop-color="#da0202"/><stop offset="0.463" stop-color="#e90505"/><stop offset="0.5022" stop-color="#ff0b0b"/><stop offset="0.5283" stop-color="#ff1717"/><stop offset="0.55" stop-color="#ff2b2b"/><stop offset="0.5696" stop-color="#ff4646"/><stop offset="0.6174" stop-color="#ff9c9c"/><stop offset="0.6304" stop-color="#ffabab"/><stop offset="0.6435" stop-color="#ffb0b0"/><stop offset="0.6543" stop-color="#ffaeae"/><stop offset="0.6674" stop-color="#ffa2a2"/><stop offset="0.7283" stop-color="#ff3f3f"/><stop offset="0.7478" stop-color="#ff2929"/><stop offset="0.7674" stop-color="#ff1c1c"/><stop offset="0.8065" stop-color="#ff1111"/><stop offset="0.8261" stop-color="#f60f0f"/><stop offset="0.8913" stop-color="#e90909"/><stop offset="1" stop-color="#e20202"/></linearGradient><clipPath id="ic"><path d="M26.2,306.9 L25.6,300.0 L25.8,290.6 L26.4,289.2 L27.0,287.9 L27.8,286.5 L28.8,285.1 L29.8,283.7 L31.0,282.4 L32.4,281.1 L33.8,279.8 L35.4,278.5 L37.1,277.2 L39.0,275.9 L40.9,274.7 L43.0,273.5 L45.2,272.3 L47.5,271.2 L49.9,270.1 L52.4,269.0 L55.0,267.9 L57.7,266.9 L60.5,265.9 L63.4,265.0 L66.4,264.1 L69.5,263.2 L72.7,262.4 L75.9,261.6 L79.2,260.8 L82.6,260.1 L86.1,259.4 L89.6,258.8 L93.2,258.2 L96.8,257.7 L100.5,257.2 L104.2,256.8 L108.0,256.4 L111.8,256.0 L115.7,255.7 L119.5,255.4 L123.4,255.2 L127.3,255.1 L131.2,255.0 L135.1,254.9 L139.1,254.9 L143.0,254.9 L146.9,255.0 L150.8,255.2 L154.7,255.3 L158.6,255.6 L162.5,255.9 L166.3,256.2 L170.1,256.6 L173.8,257.0 L177.5,257.5 L181.2,258.0 L184.8,258.5 L188.3,259.1 L191.8,259.8 L195.2,260.5 L198.6,261.2 L201.9,262.0 L205.1,262.8 L208.2,263.7 L211.2,264.6 L214.2,265.5 L217.0,266.5 L219.8,267.5 L222.4,268.5 L225.0,269.6 L227.5,270.7 L229.8,271.8 L231.1,272.5 L231.3,272.6 L231.8,272.9 L232.5,273.3 L233.4,273.8 L234.3,274.3 L235.2,274.8 L236.0,275.3 L236.9,275.9 L237.9,276.8 L239.3,278.0 L240.9,279.6 L242.8,281.6 L244.4,283.6 L245.9,285.7 L247.1,287.8 L248.2,289.9 L249.0,291.9 L249.6,293.9 L250.1,295.8 L250.4,297.7 L250.5,299.6 L250.5,301.4 L250.2,303.3 L249.9,305.2 L249.3,307.0 L248.5,308.8 L247.5,310.5 L246.4,312.1 L245.1,313.7 L243.7,315.1 L242.2,316.5 L240.5,317.7 L238.8,319.0 L237.0,320.2 L235.1,321.4 L233.2,322.7 L231.7,323.6 L230.7,324.2 L230.2,324.5 L230.2,483.0 L230.7,482.5 L227.2,480.6 L223.5,478.9 L219.6,477.2 L215.5,475.5 L211.1,474.0 L206.6,472.5 L201.8,471.2 L196.9,469.9 L191.9,468.8 L186.7,467.7 L181.3,466.8 L175.9,466.0 L170.3,465.3 L164.7,464.7 L159.0,464.2 L153.2,463.8 L147.4,463.6 L141.6,463.4 L135.7,463.4 L129.9,463.5 L124.1,463.7 L118.3,464.1 L112.6,464.5 L106.9,465.1 L101.4,465.8 L95.9,466.6 L90.5,467.5 L85.3,468.5 L80.2,469.7 L75.3,470.9 L70.5,472.2 L65.9,473.7 L61.5,475.2 L57.3,476.8 L53.3,478.5 L49.6,480.2 L46.1,482.1 L42.8,484.0 L39.8,486.0 L37.0,488.0 L34.5,490.1 L32.3,492.2 L30.4,494.4 L28.8,496.6 L27.4,498.8 L26.4,501.1 L25.6,503.4 L25.2,505.7 L25.0,508.0 L26.5,499.0Z"/></clipPath></defs>
<g clip-path="url(#ic)" shape-rendering="crispEdges"><rect x="24.0" y="251.5" width="230.0" height="2.6" fill="url(#g0)"/><rect x="24.0" y="253.5" width="230.0" height="2.6" fill="url(#g1)"/><rect x="24.0" y="255.5" width="230.0" height="2.6" fill="url(#g2)"/><rect x="24.0" y="257.5" width="230.0" height="2.6" fill="url(#g3)"/><rect x="24.0" y="259.5" width="230.0" height="2.6" fill="url(#g4)"/><rect x="24.0" y="261.5" width="230.0" height="2.6" fill="url(#g5)"/><rect x="24.0" y="263.5" width="230.0" height="2.6" fill="url(#g6)"/><rect x="24.0" y="265.5" width="230.0" height="2.6" fill="url(#g7)"/><rect x="24.0" y="267.5" width="230.0" height="2.6" fill="url(#g8)"/><rect x="24.0" y="269.5" width="230.0" height="2.6" fill="url(#g9)"/><rect x="24.0" y="271.5" width="230.0" height="2.6" fill="url(#g10)"/><rect x="24.0" y="273.5" width="230.0" height="2.6" fill="url(#g11)"/><rect x="24.0" y="275.5" width="230.0" height="2.6" fill="url(#g12)"/><rect x="24.0" y="277.5" width="230.0" height="2.6" fill="url(#g13)"/><rect x="24.0" y="279.5" width="230.0" height="2.6" fill="url(#g14)"/><rect x="24.0" y="281.5" width="230.0" height="2.6" fill="url(#g15)"/><rect x="24.0" y="283.5" width="230.0" height="2.6" fill="url(#g16)"/><rect x="24.0" y="285.5" width="230.0" height="2.6" fill="url(#g17)"/><rect x="24.0" y="287.5" width="230.0" height="2.6" fill="url(#g18)"/><rect x="24.0" y="289.5" width="230.0" height="2.6" fill="url(#g19)"/><rect x="24.0" y="291.5" width="230.0" height="2.6" fill="url(#g20)"/><rect x="24.0" y="293.5" width="230.0" height="2.6" fill="url(#g21)"/><rect x="24.0" y="295.5" width="230.0" height="2.6" fill="url(#g22)"/><rect x="24.0" y="297.5" width="230.0" height="2.6" fill="url(#g23)"/><rect x="24.0" y="299.5" width="230.0" height="2.6" fill="url(#g24)"/><rect x="24.0" y="301.5" width="230.0" height="2.6" fill="url(#g25)"/><rect x="24.0" y="303.5" width="230.0" height="2.6" fill="url(#g26)"/><rect x="24.0" y="305.5" width="230.0" height="2.6" fill="url(#g27)"/><rect x="24.0" y="307.5" width="230.0" height="2.6" fill="url(#g28)"/><rect x="24.0" y="309.5" width="230.0" height="2.6" fill="url(#g29)"/><rect x="24.0" y="311.5" width="230.0" height="2.6" fill="url(#g30)"/><rect x="24.0" y="313.5" width="230.0" height="2.6" fill="url(#g31)"/><rect x="24.0" y="315.5" width="230.0" height="2.6" fill="url(#g32)"/><rect x="24.0" y="317.5" width="230.0" height="2.6" fill="url(#g33)"/><rect x="24.0" y="319.5" width="230.0" height="2.6" fill="url(#g34)"/><rect x="24.0" y="321.5" width="230.0" height="2.6" fill="url(#g35)"/><rect x="24.0" y="323.5" width="230.0" height="2.6" fill="url(#g36)"/><rect x="24.0" y="325.5" width="230.0" height="2.6" fill="url(#g37)"/><rect x="24.0" y="327.5" width="230.0" height="2.6" fill="url(#g38)"/><rect x="24.0" y="329.5" width="230.0" height="2.6" fill="url(#g39)"/><rect x="24.0" y="331.5" width="230.0" height="2.6" fill="url(#g40)"/><rect x="24.0" y="333.5" width="230.0" height="2.6" fill="url(#g41)"/><rect x="24.0" y="335.5" width="230.0" height="2.6" fill="url(#g42)"/><rect x="24.0" y="337.5" width="230.0" height="2.6" fill="url(#g43)"/><rect x="24.0" y="339.5" width="230.0" height="2.6" fill="url(#g44)"/><rect x="24.0" y="341.5" width="230.0" height="2.6" fill="url(#g45)"/><rect x="24.0" y="343.5" width="230.0" height="2.6" fill="url(#g46)"/><rect x="24.0" y="345.5" width="230.0" height="2.6" fill="url(#g47)"/><rect x="24.0" y="347.5" width="230.0" height="2.6" fill="url(#g48)"/><rect x="24.0" y="349.5" width="230.0" height="2.6" fill="url(#g49)"/><rect x="24.0" y="351.5" width="230.0" height="2.6" fill="url(#g50)"/><rect x="24.0" y="353.5" width="230.0" height="2.6" fill="url(#g51)"/><rect x="24.0" y="355.5" width="230.0" height="2.6" fill="url(#g52)"/><rect x="24.0" y="357.5" width="230.0" height="2.6" fill="url(#g53)"/><rect x="24.0" y="359.5" width="230.0" height="2.6" fill="url(#g54)"/><rect x="24.0" y="361.5" width="230.0" height="2.6" fill="url(#g55)"/><rect x="24.0" y="363.5" width="230.0" height="2.6" fill="url(#g56)"/><rect x="24.0" y="365.5" width="230.0" height="2.6" fill="url(#g57)"/><rect x="24.0" y="367.5" width="230.0" height="2.6" fill="url(#g58)"/><rect x="24.0" y="369.5" width="230.0" height="2.6" fill="url(#g59)"/><rect x="24.0" y="371.5" width="230.0" height="2.6" fill="url(#g60)"/><rect x="24.0" y="373.5" width="230.0" height="2.6" fill="url(#g61)"/><rect x="24.0" y="375.5" width="230.0" height="2.6" fill="url(#g62)"/><rect x="24.0" y="377.5" width="230.0" height="2.6" fill="url(#g63)"/><rect x="24.0" y="379.5" width="230.0" height="2.6" fill="url(#g64)"/><rect x="24.0" y="381.5" width="230.0" height="2.6" fill="url(#g65)"/><rect x="24.0" y="383.5" width="230.0" height="2.6" fill="url(#g66)"/><rect x="24.0" y="385.5" width="230.0" height="2.6" fill="url(#g67)"/><rect x="24.0" y="387.5" width="230.0" height="2.6" fill="url(#g68)"/><rect x="24.0" y="389.5" width="230.0" height="2.6" fill="url(#g69)"/><rect x="24.0" y="391.5" width="230.0" height="2.6" fill="url(#g70)"/><rect x="24.0" y="393.5" width="230.0" height="2.6" fill="url(#g71)"/><rect x="24.0" y="395.5" width="230.0" height="2.6" fill="url(#g72)"/><rect x="24.0" y="397.5" width="230.0" height="2.6" fill="url(#g73)"/><rect x="24.0" y="399.5" width="230.0" height="2.6" fill="url(#g74)"/><rect x="24.0" y="401.5" width="230.0" height="2.6" fill="url(#g75)"/><rect x="24.0" y="403.5" width="230.0" height="2.6" fill="url(#g76)"/><rect x="24.0" y="405.5" width="230.0" height="2.6" fill="url(#g77)"/><rect x="24.0" y="407.5" width="230.0" height="2.6" fill="url(#g78)"/><rect x="24.0" y="409.5" width="230.0" height="2.6" fill="url(#g79)"/><rect x="24.0" y="411.5" width="230.0" height="2.6" fill="url(#g80)"/><rect x="24.0" y="413.5" width="230.0" height="2.6" fill="url(#g81)"/><rect x="24.0" y="415.5" width="230.0" height="2.6" fill="url(#g82)"/><rect x="24.0" y="417.5" width="230.0" height="2.6" fill="url(#g83)"/><rect x="24.0" y="419.5" width="230.0" height="2.6" fill="url(#g84)"/><rect x="24.0" y="421.5" width="230.0" height="2.6" fill="url(#g85)"/><rect x="24.0" y="423.5" width="230.0" height="2.6" fill="url(#g86)"/><rect x="24.0" y="425.5" width="230.0" height="2.6" fill="url(#g87)"/><rect x="24.0" y="427.5" width="230.0" height="2.6" fill="url(#g88)"/><rect x="24.0" y="429.5" width="230.0" height="2.6" fill="url(#g89)"/><rect x="24.0" y="431.5" width="230.0" height="2.6" fill="url(#g90)"/><rect x="24.0" y="433.5" width="230.0" height="2.6" fill="url(#g91)"/><rect x="24.0" y="435.5" width="230.0" height="2.6" fill="url(#g92)"/><rect x="24.0" y="437.5" width="230.0" height="2.6" fill="url(#g93)"/><rect x="24.0" y="439.5" width="230.0" height="2.6" fill="url(#g94)"/><rect x="24.0" y="441.5" width="230.0" height="2.6" fill="url(#g95)"/><rect x="24.0" y="443.5" width="230.0" height="2.6" fill="url(#g96)"/><rect x="24.0" y="445.5" width="230.0" height="2.6" fill="url(#g97)"/><rect x="24.0" y="447.5" width="230.0" height="2.6" fill="url(#g98)"/><rect x="24.0" y="449.5" width="230.0" height="2.6" fill="url(#g99)"/><rect x="24.0" y="451.5" width="230.0" height="2.6" fill="url(#g100)"/><rect x="24.0" y="453.5" width="230.0" height="2.6" fill="url(#g101)"/><rect x="24.0" y="455.5" width="230.0" height="2.6" fill="url(#g102)"/><rect x="24.0" y="457.5" width="230.0" height="2.6" fill="url(#g103)"/><rect x="24.0" y="459.5" width="230.0" height="2.6" fill="url(#g104)"/><rect x="24.0" y="461.5" width="230.0" height="2.6" fill="url(#g105)"/><rect x="24.0" y="463.5" width="230.0" height="2.6" fill="url(#g106)"/><rect x="24.0" y="465.5" width="230.0" height="2.6" fill="url(#g107)"/><rect x="24.0" y="467.5" width="230.0" height="2.6" fill="url(#g108)"/><rect x="24.0" y="469.5" width="230.0" height="2.6" fill="url(#g109)"/><rect x="24.0" y="471.5" width="230.0" height="2.6" fill="url(#g110)"/><rect x="24.0" y="473.5" width="230.0" height="2.6" fill="url(#g111)"/><rect x="24.0" y="475.5" width="230.0" height="2.6" fill="url(#g112)"/><rect x="24.0" y="477.5" width="230.0" height="2.6" fill="url(#g113)"/><rect x="24.0" y="479.5" width="230.0" height="2.6" fill="url(#g114)"/><rect x="24.0" y="481.5" width="230.0" height="2.6" fill="url(#g115)"/><rect x="24.0" y="483.5" width="230.0" height="2.6" fill="url(#g116)"/><rect x="24.0" y="485.5" width="230.0" height="2.6" fill="url(#g117)"/><rect x="24.0" y="487.5" width="230.0" height="2.6" fill="url(#g118)"/><rect x="24.0" y="489.5" width="230.0" height="2.6" fill="url(#g119)"/><rect x="24.0" y="491.5" width="230.0" height="2.6" fill="url(#g120)"/><rect x="24.0" y="493.5" width="230.0" height="2.6" fill="url(#g121)"/><rect x="24.0" y="495.5" width="230.0" height="2.6" fill="url(#g122)"/><rect x="24.0" y="497.5" width="230.0" height="2.6" fill="url(#g123)"/><rect x="24.0" y="499.5" width="230.0" height="2.6" fill="url(#g124)"/><rect x="24.0" y="501.5" width="230.0" height="2.6" fill="url(#g125)"/><rect x="24.0" y="503.5" width="230.0" height="2.6" fill="url(#g126)"/><rect x="24.0" y="505.5" width="230.0" height="2.6" fill="url(#g127)"/><rect x="24.0" y="507.5" width="230.0" height="2.6" fill="url(#g128)"/><rect x="24.0" y="509.5" width="230.0" height="2.6" fill="url(#g129)"/><rect x="24.0" y="511.5" width="230.0" height="2.6" fill="url(#g130)"/><rect x="24.0" y="513.5" width="230.0" height="2.6" fill="url(#g131)"/><rect x="24.0" y="515.5" width="230.0" height="2.6" fill="url(#g132)"/></g>
<path d="M230.2,483.0 L230.7,482.5 L227.2,480.6 L223.5,478.9 L219.6,477.2 L215.5,475.5 L211.1,474.0 L206.6,472.5 L201.8,471.2 L196.9,469.9 L191.9,468.8 L186.7,467.7 L181.3,466.8 L175.9,466.0 L170.3,465.3 L164.7,464.7 L159.0,464.2 L153.2,463.8 L147.4,463.6 L141.6,463.4 L135.7,463.4 L129.9,463.5 L124.1,463.7 L118.3,464.1 L112.6,464.5 L106.9,465.1 L101.4,465.8 L95.9,466.6 L90.5,467.5 L85.3,468.5 L80.2,469.7 L75.3,470.9 L70.5,472.2 L65.9,473.7 L61.5,475.2 L57.3,476.8 L53.3,478.5 L49.6,480.2 L46.1,482.1 L42.8,484.0 L39.8,486.0 L37.0,488.0 L34.5,490.1 L32.3,492.2 L30.4,494.4 L28.8,496.6 L27.4,498.8 L26.4,501.1 L25.6,503.4 L25.2,505.7 L25.0,508.0 L26.5,499.0" fill="none" stroke="#333" stroke-width="0.5"/>
<path d="M137.2,233V508" stroke="#1a1a1a" stroke-width="0.7" fill="none"/>
<defs><linearGradient id="ob" gradientUnits="userSpaceOnUse" x1="0" y1="265" x2="0" y2="536"><stop offset="0" stop-color="#020a8c"/><stop offset="0.3" stop-color="#06209c"/><stop offset="0.62" stop-color="#0a38ac"/><stop offset="1" stop-color="#0c50bc"/></linearGradient></defs>
<path d="M163.3,251.2 L166.9,251.5 L170.5,251.8 L174.0,252.1 L177.6,252.5 L181.0,252.9 L184.5,253.4 L187.9,253.9 L191.3,254.4 L194.6,255.0 L197.9,255.6 L201.1,256.2 L203.3,256.7 L203.7,256.7 L204.4,256.9 L205.4,257.1 L206.7,257.4 L208.1,257.7 L209.4,258.0 L210.7,258.4 L212.0,258.7 L213.5,259.1 L215.0,259.5 L216.6,260.0 L218.4,260.6 L220.2,261.3 L222.0,261.9 L223.9,262.7 L225.8,263.4 L227.8,264.3 L230.0,265.3 L232.2,266.4 L234.6,267.5 L236.9,268.8 L239.3,270.1 L241.6,271.6 L243.9,273.1 L246.2,274.7 L248.6,276.5 L250.9,278.4 L253.3,280.6 L255.4,282.6 L257.3,284.6 L258.9,286.5 L260.3,288.4 L261.6,290.4 L262.6,292.5 L263.6,294.7 L264.4,297.0 L265.0,299.2 L265.5,301.3 L265.8,303.3 L265.9,305.2 L265.9,306.6 L266.0,307.5 L266.0,308.0 L266.0,508.0 L265.0,513.5 L262.5,519.0 L258.5,524.5 L253.0,529.5 L247.0,533.5 L241.6,536.2 L241.8,328.2 L242.3,328.0 L243.4,327.6 L244.9,327.0 L247.1,326.1 L249.0,325.2 L250.9,324.2 L252.7,323.1 L254.3,322.0 L255.9,320.6 L257.4,318.9 L258.9,317.1 L260.3,314.9 L261.4,312.9 L262.3,310.9 L262.9,309.0 L263.2,307.1 L263.4,305.1 L263.3,303.0 L263.1,300.8 L262.8,298.4 L262.1,296.1 L261.3,293.9 L260.2,291.8 L258.8,289.6 L257.2,287.5 L255.4,285.4 L253.3,283.2 L250.9,281.0 L248.6,278.9 L246.2,277.0 L243.9,275.3 L241.5,273.7 L239.2,272.2 L236.8,270.7 L234.5,269.4 L232.2,268.1 L230.0,266.9 L227.8,265.8 L225.8,264.8 L223.9,263.9 L222.0,263.1 L220.2,262.3 L218.4,261.5 L216.6,260.8 L215.0,260.1 L213.5,259.6 L212.0,259.2 L210.7,258.9 L209.4,258.5 L208.1,258.2 L206.7,257.9 L205.4,257.6 L204.4,257.4 L203.7,257.2 L203.3,257.2 L201.1,256.7 L197.9,256.1 L194.6,255.5 L191.3,254.9 L187.9,254.4 L184.5,253.9 L181.0,253.4 L177.6,253.0 L174.0,252.6 L170.5,252.3 L166.9,252.0 L163.3,251.7Z" fill="url(#ob)"/>
<path d="M9.9,305.8 L10.0,303.4 L10.0,301.0 L10.1,298.6 L10.3,296.2 L10.5,293.8 L10.7,291.4 L11.6,289.1 L12.7,287.0 L14.0,285.0 L15.5,283.1 L17.1,281.3 L18.9,279.6 L20.7,278.1 L22.6,276.6 L24.6,275.2 L26.6,273.9 L28.6,272.6 L30.7,271.4 L32.9,270.3 L35.0,269.2 L37.2,268.2 L39.4,267.3 L41.6,266.3 L43.9,265.4 L46.1,264.6 L48.4,263.8 L50.7,263.0 L53.0,262.3 L55.3,261.6 L57.6,260.9 L59.9,260.2 L62.2,259.6 L64.6,259.0 L66.9,258.4 L69.3,257.9 L71.6,257.4 L74.0,256.9 L76.4,256.4 L78.7,256.0 L81.1,255.5 L83.5,255.1 L85.8,254.7 L88.2,254.4 L90.6,254.0 L93.0,253.7 L95.4,253.4 L97.8,253.1 L100.2,252.8 L102.6,252.6 L105.0,252.3 L107.4,252.1 L109.8,251.9 L112.2,251.7 L114.6,251.6 L117.0,251.4 L119.4,251.3 L121.8,251.2 L124.2,251.1 L126.6,251.0 L129.0,250.9 L131.4,250.9 L133.9,250.8 L136.3,250.8 L138.7,250.8 L141.1,250.8 L143.5,250.8 L145.9,250.9 L148.3,250.9 L150.7,251.0 L153.1,251.1 L155.5,251.2 L157.9,251.4 L160.3,251.5 L162.8,251.7 L165.2,251.8 L167.6,252.0 L170.0,252.2 L172.4,252.5 L174.8,252.7 L177.2,253.0 L179.5,253.3 L181.9,253.6 L184.3,253.9 L186.7,254.2 L189.1,254.6 L191.5,255.0 L193.9,255.4 L196.2,255.8 L198.6,256.2 L201.0,256.7 L203.3,257.2 L205.7,257.7 L208.0,258.2 L210.4,258.8 L212.7,259.4 L215.0,260.1 L217.2,261.0 L219.5,262.0 L221.7,262.9 L223.9,263.9 L226.0,265.0 L228.2,266.0 L230.3,267.1 L232.5,268.3 L234.6,269.4 L236.7,270.6 L238.7,271.9 L240.7,273.2 L242.8,274.5 L244.7,275.9 L246.6,277.4 L248.5,278.9 L250.3,280.5 L252.1,282.1 L253.8,283.8 L255.5,285.5 L257.1,287.4 L258.5,289.3 L259.9,291.3 L261.0,293.4 L261.9,295.6 L262.6,297.9 L263.1,300.3 L263.3,302.7 L263.4,305.1 L263.1,307.5 L262.6,309.9 L261.8,312.1 L260.7,314.3 L259.4,316.3 L258.0,318.2 L256.4,320.0 L254.6,321.7 L252.7,323.1 L250.6,324.4 L248.5,325.5 L246.3,326.4 L244.0,327.3 L241.8,328.2 L230.2,324.5 L232.1,323.4 L233.9,322.2 L235.8,321.0 L237.6,319.8 L239.4,318.6 L241.1,317.3 L242.8,315.9 L244.4,314.4 L245.8,312.8 L247.1,311.0 L248.3,309.2 L249.2,307.2 L249.9,305.1 L250.3,303.0 L250.5,300.8 L250.4,298.6 L250.2,296.5 L249.8,294.3 L249.1,292.3 L248.3,290.2 L247.4,288.3 L246.3,286.4 L245.1,284.6 L243.8,282.8 L242.4,281.2 L240.9,279.6 L239.3,278.0 L237.7,276.6 L235.9,275.3 L234.1,274.2 L232.2,273.1 L230.3,272.1 L228.3,271.1 L226.3,270.2 L224.3,269.3 L222.3,268.5 L220.3,267.7 L218.2,266.9 L216.2,266.2 L214.1,265.5 L212.0,264.8 L209.9,264.2 L207.9,263.6 L205.7,263.0 L203.6,262.5 L201.5,261.9 L199.4,261.4 L197.3,260.9 L195.1,260.5 L193.0,260.0 L190.9,259.6 L188.7,259.2 L186.6,258.8 L184.4,258.5 L182.3,258.2 L180.1,257.8 L178.0,257.5 L175.8,257.2 L173.6,257.0 L171.5,256.7 L169.3,256.5 L167.1,256.3 L164.9,256.1 L162.8,255.9 L160.6,255.7 L158.4,255.6 L156.2,255.4 L154.1,255.3 L151.9,255.2 L149.7,255.1 L147.5,255.0 L145.4,255.0 L143.2,254.9 L141.0,254.9 L138.8,254.9 L136.6,254.9 L134.4,254.9 L132.3,255.0 L130.1,255.0 L127.9,255.1 L125.7,255.1 L123.5,255.2 L121.4,255.3 L119.2,255.5 L117.0,255.6 L114.8,255.8 L112.7,255.9 L110.5,256.1 L108.3,256.3 L106.2,256.6 L104.0,256.8 L101.8,257.0 L99.7,257.3 L97.5,257.6 L95.3,257.9 L93.2,258.2 L91.0,258.6 L88.9,258.9 L86.7,259.3 L84.6,259.7 L82.4,260.1 L80.3,260.6 L78.2,261.1 L76.1,261.5 L73.9,262.1 L71.8,262.6 L69.7,263.2 L67.6,263.7 L65.5,264.4 L63.4,265.0 L61.4,265.7 L59.3,266.4 L57.2,267.1 L55.2,267.9 L53.2,268.7 L51.2,269.5 L49.2,270.4 L47.2,271.3 L45.2,272.3 L43.3,273.3 L41.4,274.4 L39.6,275.6 L37.8,276.8 L36.0,278.1 L34.3,279.4 L32.6,280.8 L31.1,282.4 L29.6,284.0 L28.3,285.7 L27.2,287.6 L26.2,289.6 L25.8,291.7 L25.7,293.8 L25.7,296.0 L25.6,298.2 L25.6,300.4 L25.8,302.6 L26.0,304.7 L26.2,306.9Z" fill="#60e6e6" stroke="#0a2a80" stroke-width="0.7" stroke-linejoin="round"/>
<path d="M22.9,306.7 L22.8,304.5 L22.7,302.2 L22.5,300.0 L22.6,297.8 L22.6,295.6 L22.7,293.3 L22.9,291.2 L23.5,289.0 L24.5,287.1 L25.8,285.2 L27.1,283.5 L28.6,281.8 L30.2,280.3 L31.9,278.8 L33.7,277.5 L35.5,276.2 L37.4,275.0 L39.3,273.8 L41.2,272.7 L43.2,271.7 L45.2,270.7 L47.2,269.8 L49.3,268.9 L51.3,268.0 L53.4,267.2 L55.5,266.4 L57.6,265.7 L59.7,265.0 L61.8,264.3 L63.9,263.7 L66.1,263.0 L68.2,262.4 L70.4,261.9 L72.5,261.3 L74.7,260.8 L76.9,260.3 L79.0,259.9 L81.2,259.4 L83.4,259.0 L85.6,258.6 L87.8,258.2 L90.0,257.8 L92.2,257.5 L94.4,257.1 L96.6,256.8 L98.8,256.5 L101.0,256.3 L103.2,256.0 L105.4,255.8 L107.7,255.5 L109.9,255.3 L112.1,255.1 L114.3,255.0 L116.5,254.8 L118.8,254.7 L121.0,254.5 L123.2,254.4 L125.4,254.3 L127.6,254.2 L129.9,254.2 L132.1,254.1 L134.3,254.1 L136.6,254.1 L138.8,254.1 L141.0,254.1 L143.2,254.1 L145.5,254.2 L147.7,254.2 L149.9,254.3 L152.1,254.4 L154.4,254.5 L156.6,254.6 L158.8,254.8 L161.0,254.9 L163.3,255.1 L165.5,255.3 L167.7,255.5 L169.9,255.7 L172.1,255.9 L174.3,256.2 L176.5,256.4 L178.7,256.7 L181.0,257.0 L183.2,257.4 L185.4,257.7 L187.6,258.1 L189.7,258.4 L191.9,258.9 L194.1,259.3 L196.3,259.7 L198.5,260.2 L200.7,260.7 L202.8,261.2 L205.0,261.7 L207.1,262.3 L209.3,262.9 L211.4,263.6 L213.5,264.3 L215.6,265.0 L217.7,265.7 L219.8,266.5 L221.9,267.3 L223.9,268.2 L226.0,269.1 L228.0,270.0 L230.0,271.0 L231.9,272.0 L233.9,273.1 L235.8,274.2 L237.7,275.4 L239.5,276.7 L241.2,278.2 L242.8,279.8 L244.3,281.4 L245.8,283.0 L247.2,284.7 L248.5,286.6 L249.6,288.5 L250.6,290.4 L251.5,292.5 L252.2,294.6 L252.7,296.8 L253.0,299.0 L253.0,301.2 L252.9,303.4 L252.5,305.6 L251.9,307.7 L251.0,309.8 L249.8,311.7 L248.5,313.5 L247.1,315.2 L245.5,316.7 L243.8,318.2 L242.0,319.5 L240.2,320.7 L238.3,321.9 L236.4,323.0 L234.5,324.1 L232.5,325.2" fill="none" stroke="#14506e" stroke-width="0.4"/>
<path d="M19.7,306.5 L19.6,304.2 L19.5,301.9 L19.4,299.7 L19.5,297.4 L19.6,295.1 L19.7,292.9 L20.1,290.6 L20.8,288.5 L21.9,286.5 L23.2,284.7 L24.6,282.9 L26.2,281.3 L27.9,279.7 L29.6,278.3 L31.4,276.9 L33.3,275.6 L35.2,274.4 L37.1,273.2 L39.1,272.1 L41.2,271.1 L43.2,270.1 L45.3,269.1 L47.4,268.2 L49.5,267.4 L51.6,266.6 L53.7,265.8 L55.9,265.0 L58.0,264.3 L60.2,263.6 L62.3,263.0 L64.5,262.3 L66.7,261.7 L68.9,261.2 L71.1,260.6 L73.3,260.1 L75.6,259.6 L77.8,259.1 L80.0,258.7 L82.2,258.2 L84.5,257.8 L86.7,257.4 L89.0,257.0 L91.2,256.7 L93.4,256.4 L95.7,256.0 L97.9,255.7 L100.2,255.5 L102.5,255.2 L104.7,255.0 L107.0,254.7 L109.2,254.5 L111.5,254.3 L113.8,254.2 L116.0,254.0 L118.3,253.8 L120.6,253.7 L122.9,253.6 L125.1,253.5 L127.4,253.4 L129.7,253.4 L131.9,253.3 L134.2,253.3 L136.5,253.3 L138.8,253.3 L141.0,253.3 L143.3,253.3 L145.6,253.4 L147.8,253.4 L150.1,253.5 L152.4,253.6 L154.7,253.7 L156.9,253.8 L159.2,253.9 L161.5,254.1 L163.7,254.3 L166.0,254.5 L168.3,254.7 L170.5,254.9 L172.8,255.1 L175.0,255.4 L177.3,255.7 L179.5,255.9 L181.8,256.2 L184.0,256.6 L186.3,256.9 L188.5,257.3 L190.8,257.7 L193.0,258.1 L195.2,258.5 L197.5,259.0 L199.7,259.4 L201.9,259.9 L204.1,260.4 L206.3,261.0 L208.5,261.6 L210.7,262.2 L212.9,262.9 L215.0,263.7 L217.1,264.5 L219.2,265.3 L221.4,266.1 L223.4,267.0 L225.5,267.9 L227.6,268.9 L229.6,269.9 L231.6,270.9 L233.6,272.0 L235.6,273.1 L237.5,274.3 L239.5,275.5 L241.3,276.9 L243.0,278.4 L244.6,279.9 L246.3,281.5 L247.8,283.2 L249.3,284.9 L250.6,286.8 L251.8,288.7 L252.9,290.6 L253.9,292.7 L254.6,294.9 L255.2,297.1 L255.5,299.3 L255.6,301.6 L255.5,303.8 L255.2,306.1 L254.6,308.3 L253.7,310.3 L252.6,312.3 L251.3,314.2 L249.8,315.9 L248.2,317.6 L246.5,319.0 L244.7,320.4 L242.8,321.6 L240.8,322.8 L238.9,323.9 L236.8,324.9 L234.8,326.0" fill="none" stroke="#14506e" stroke-width="0.4"/>
<path d="M16.4,306.2 L16.4,303.9 L16.3,301.6 L16.3,299.3 L16.4,297.0 L16.6,294.7 L16.7,292.4 L17.3,290.1 L18.1,288.0 L19.3,286.0 L20.6,284.1 L22.1,282.4 L23.7,280.7 L25.5,279.2 L27.3,277.7 L29.1,276.3 L31.0,275.0 L33.0,273.8 L35.0,272.6 L37.0,271.5 L39.1,270.5 L41.2,269.5 L43.3,268.5 L45.4,267.6 L47.6,266.7 L49.8,265.9 L51.9,265.1 L54.1,264.4 L56.3,263.6 L58.5,262.9 L60.8,262.3 L63.0,261.6 L65.2,261.0 L67.5,260.4 L69.7,259.9 L72.0,259.4 L74.2,258.9 L76.5,258.4 L78.8,257.9 L81.1,257.5 L83.3,257.1 L85.6,256.7 L87.9,256.3 L90.2,255.9 L92.5,255.6 L94.8,255.3 L97.1,255.0 L99.4,254.7 L101.7,254.4 L104.0,254.2 L106.3,253.9 L108.6,253.7 L110.9,253.5 L113.2,253.3 L115.6,253.2 L117.9,253.0 L120.2,252.9 L122.5,252.8 L124.8,252.7 L127.1,252.6 L129.5,252.6 L131.8,252.5 L134.1,252.5 L136.4,252.4 L138.7,252.4 L141.0,252.5 L143.4,252.5 L145.7,252.5 L148.0,252.6 L150.3,252.7 L152.6,252.8 L154.9,252.9 L157.3,253.0 L159.6,253.1 L161.9,253.3 L164.2,253.5 L166.5,253.6 L168.8,253.9 L171.1,254.1 L173.4,254.3 L175.7,254.6 L178.0,254.9 L180.3,255.1 L182.6,255.5 L184.9,255.8 L187.2,256.1 L189.5,256.5 L191.8,256.9 L194.1,257.3 L196.4,257.7 L198.6,258.2 L200.9,258.7 L203.2,259.2 L205.4,259.7 L207.7,260.2 L209.9,260.8 L212.1,261.5 L214.3,262.3 L216.5,263.1 L218.6,264.0 L220.8,264.8 L222.9,265.7 L225.0,266.7 L227.1,267.7 L229.2,268.7 L231.3,269.7 L233.3,270.8 L235.3,272.0 L237.3,273.2 L239.3,274.4 L241.2,275.7 L243.1,277.1 L244.8,278.6 L246.5,280.1 L248.2,281.7 L249.8,283.4 L251.3,285.1 L252.8,287.0 L254.1,288.9 L255.3,290.9 L256.3,292.9 L257.1,295.1 L257.7,297.3 L258.0,299.6 L258.2,301.9 L258.1,304.3 L257.8,306.6 L257.3,308.8 L256.4,310.9 L255.3,313.0 L254.0,314.9 L252.5,316.7 L251.0,318.4 L249.2,319.9 L247.4,321.3 L245.4,322.6 L243.4,323.7 L241.3,324.7 L239.2,325.7 L237.2,326.7" fill="none" stroke="#14506e" stroke-width="0.4"/>
<path d="M13.2,306.0 L13.2,303.7 L13.2,301.3 L13.2,298.9 L13.4,296.6 L13.5,294.2 L13.7,291.9 L14.4,289.6 L15.4,287.5 L16.6,285.5 L18.1,283.6 L19.6,281.8 L21.3,280.2 L23.1,278.6 L24.9,277.1 L26.8,275.8 L28.8,274.4 L30.8,273.2 L32.9,272.0 L35.0,270.9 L37.1,269.9 L39.2,268.8 L41.4,267.9 L43.5,267.0 L45.7,266.1 L47.9,265.2 L50.2,264.4 L52.4,263.7 L54.7,262.9 L56.9,262.2 L59.2,261.6 L61.5,260.9 L63.7,260.3 L66.0,259.7 L68.3,259.2 L70.6,258.6 L72.9,258.1 L75.3,257.6 L77.6,257.2 L79.9,256.7 L82.2,256.3 L84.5,255.9 L86.9,255.5 L89.2,255.1 L91.6,254.8 L93.9,254.5 L96.2,254.2 L98.6,253.9 L100.9,253.6 L103.3,253.4 L105.6,253.1 L108.0,252.9 L110.4,252.7 L112.7,252.5 L115.1,252.4 L117.4,252.2 L119.8,252.1 L122.2,252.0 L124.5,251.9 L126.9,251.8 L129.2,251.7 L131.6,251.7 L134.0,251.6 L136.3,251.6 L138.7,251.6 L141.1,251.6 L143.4,251.7 L145.8,251.7 L148.2,251.8 L150.5,251.8 L152.9,251.9 L155.2,252.0 L157.6,252.2 L160.0,252.3 L162.3,252.5 L164.7,252.6 L167.0,252.8 L169.4,253.0 L171.7,253.3 L174.1,253.5 L176.4,253.8 L178.8,254.1 L181.1,254.4 L183.5,254.7 L185.8,255.0 L188.2,255.4 L190.5,255.7 L192.8,256.1 L195.2,256.5 L197.5,257.0 L199.8,257.4 L202.1,257.9 L204.4,258.4 L206.7,259.0 L209.0,259.5 L211.3,260.1 L213.6,260.8 L215.8,261.7 L218.0,262.5 L220.2,263.4 L222.3,264.4 L224.5,265.4 L226.6,266.4 L228.7,267.4 L230.8,268.5 L232.9,269.6 L235.0,270.7 L237.0,271.9 L239.0,273.2 L241.0,274.5 L243.0,275.8 L244.9,277.2 L246.7,278.7 L248.4,280.3 L250.2,281.9 L251.8,283.6 L253.4,285.3 L254.9,287.2 L256.3,289.1 L257.6,291.1 L258.6,293.2 L259.5,295.4 L260.1,297.6 L260.5,300.0 L260.7,302.3 L260.7,304.7 L260.5,307.0 L259.9,309.3 L259.1,311.5 L258.0,313.6 L256.7,315.6 L255.3,317.5 L253.7,319.2 L251.9,320.8 L250.0,322.2 L248.0,323.5 L245.9,324.6 L243.8,325.6 L241.6,326.5 L239.5,327.5" fill="none" stroke="#14506e" stroke-width="0.4"/>
<linearGradient id="lf0" gradientUnits="userSpaceOnUse" x1="0" y1="305.5" x2="0" y2="515.7"><stop offset="0.000" stop-color="#00ddff"/><stop offset="0.077" stop-color="#44ffbb"/><stop offset="0.154" stop-color="#97ff68"/><stop offset="0.231" stop-color="#e2ff1d"/><stop offset="0.308" stop-color="#ffe800"/><stop offset="0.385" stop-color="#ffbe00"/><stop offset="0.462" stop-color="#ffa200"/><stop offset="0.538" stop-color="#ff9300"/><stop offset="0.615" stop-color="#ff8900"/><stop offset="0.692" stop-color="#ff7e00"/><stop offset="0.769" stop-color="#ff7e00"/><stop offset="0.846" stop-color="#ff7e00"/><stop offset="0.923" stop-color="#ff7e00"/><stop offset="1.000" stop-color="#ff7f00"/></linearGradient><path d="M11.6,305.5 L14.5,305.8 L14.9,515.5 L12.2,515.7Z" fill="url(#lf0)" stroke="#14140c" stroke-opacity="0.85" stroke-width="0.5"/><linearGradient id="lf1" gradientUnits="userSpaceOnUse" x1="0" y1="305.8" x2="0" y2="515.5"><stop offset="0.000" stop-color="#00e4ff"/><stop offset="0.077" stop-color="#56ffa9"/><stop offset="0.154" stop-color="#acff53"/><stop offset="0.231" stop-color="#f8ff07"/><stop offset="0.308" stop-color="#ffd200"/><stop offset="0.385" stop-color="#ffa800"/><stop offset="0.462" stop-color="#ff8c00"/><stop offset="0.538" stop-color="#ff7b00"/><stop offset="0.615" stop-color="#ff6f00"/><stop offset="0.692" stop-color="#ff6300"/><stop offset="0.769" stop-color="#ff6100"/><stop offset="0.846" stop-color="#ff6000"/><stop offset="0.923" stop-color="#ff5f00"/><stop offset="1.000" stop-color="#ff5e00"/></linearGradient><path d="M14.5,305.8 L17.4,306.1 L17.7,515.3 L14.9,515.5Z" fill="url(#lf1)" stroke="#14140c" stroke-opacity="0.85" stroke-width="0.5"/><linearGradient id="lf2" gradientUnits="userSpaceOnUse" x1="0" y1="306.1" x2="0" y2="515.3"><stop offset="0.000" stop-color="#00ebff"/><stop offset="0.077" stop-color="#68ff97"/><stop offset="0.154" stop-color="#c1ff3e"/><stop offset="0.231" stop-color="#fff100"/><stop offset="0.308" stop-color="#ffbd00"/><stop offset="0.385" stop-color="#ff9200"/><stop offset="0.462" stop-color="#ff7500"/><stop offset="0.538" stop-color="#ff6300"/><stop offset="0.615" stop-color="#ff5600"/><stop offset="0.692" stop-color="#ff4800"/><stop offset="0.769" stop-color="#ff4500"/><stop offset="0.846" stop-color="#ff4200"/><stop offset="0.923" stop-color="#ff4000"/><stop offset="1.000" stop-color="#ff3d00"/></linearGradient><path d="M17.4,306.1 L20.4,306.3 L20.4,515.2 L17.7,515.3Z" fill="url(#lf2)" stroke="#14140c" stroke-opacity="0.85" stroke-width="0.5"/><linearGradient id="lf3" gradientUnits="userSpaceOnUse" x1="0" y1="306.3" x2="0" y2="515.2"><stop offset="0.000" stop-color="#00f2ff"/><stop offset="0.077" stop-color="#7aff85"/><stop offset="0.154" stop-color="#d6ff29"/><stop offset="0.231" stop-color="#ffdc00"/><stop offset="0.308" stop-color="#ffa800"/><stop offset="0.385" stop-color="#ff7c00"/><stop offset="0.462" stop-color="#ff5e00"/><stop offset="0.538" stop-color="#ff4b00"/><stop offset="0.615" stop-color="#ff3c00"/><stop offset="0.692" stop-color="#ff2d00"/><stop offset="0.769" stop-color="#ff2800"/><stop offset="0.846" stop-color="#ff2400"/><stop offset="0.923" stop-color="#ff2000"/><stop offset="1.000" stop-color="#ff1c00"/></linearGradient><path d="M20.4,306.3 L23.3,306.6 L23.2,515.0 L20.4,515.2Z" fill="url(#lf3)" stroke="#14140c" stroke-opacity="0.85" stroke-width="0.5"/><linearGradient id="lf4" gradientUnits="userSpaceOnUse" x1="0" y1="306.6" x2="0" y2="515.0"><stop offset="0.000" stop-color="#00c2c7"/><stop offset="0.077" stop-color="#6dc75a"/><stop offset="0.154" stop-color="#b8c70f"/><stop offset="0.231" stop-color="#c79c00"/><stop offset="0.308" stop-color="#c77200"/><stop offset="0.385" stop-color="#c75000"/><stop offset="0.462" stop-color="#c73700"/><stop offset="0.538" stop-color="#c72800"/><stop offset="0.615" stop-color="#c71b00"/><stop offset="0.692" stop-color="#c70e00"/><stop offset="0.769" stop-color="#c70900"/><stop offset="0.846" stop-color="#c70500"/><stop offset="0.923" stop-color="#c70100"/><stop offset="1.000" stop-color="#c10000"/></linearGradient><path d="M23.3,306.6 L26.2,306.9 L25.9,514.8 L23.2,515.0Z" fill="url(#lf4)" stroke="#14140c" stroke-opacity="0.85" stroke-width="0.5"/>
<path d="M9.8,305.3L11.6,305.5L12.2,515.7L10.6,515.8Z" fill="#0a18c0"/>
<linearGradient id="rf0" gradientUnits="userSpaceOnUse" x1="0" y1="324.5" x2="0" y2="533.6"><stop offset="0.000" stop-color="#00f9ff"/><stop offset="0.077" stop-color="#8bff74"/><stop offset="0.154" stop-color="#ebff14"/><stop offset="0.231" stop-color="#ffc800"/><stop offset="0.308" stop-color="#ff9200"/><stop offset="0.385" stop-color="#ff6600"/><stop offset="0.462" stop-color="#ff4700"/><stop offset="0.538" stop-color="#ff3300"/><stop offset="0.615" stop-color="#ff2300"/><stop offset="0.692" stop-color="#ff1200"/><stop offset="0.769" stop-color="#ff0c00"/><stop offset="0.846" stop-color="#ff0600"/><stop offset="0.923" stop-color="#ff0100"/><stop offset="1.000" stop-color="#f70000"/></linearGradient><path d="M230.2,324.5 L232.5,325.2 L232.5,533.6 L230.2,533.0Z" fill="url(#rf0)" stroke="#14140c" stroke-opacity="0.85" stroke-width="0.5"/><linearGradient id="rf1" gradientUnits="userSpaceOnUse" x1="0" y1="325.2" x2="0" y2="534.3"><stop offset="0.000" stop-color="#00f2ff"/><stop offset="0.077" stop-color="#7aff85"/><stop offset="0.154" stop-color="#d6ff29"/><stop offset="0.231" stop-color="#ffdc00"/><stop offset="0.308" stop-color="#ffa800"/><stop offset="0.385" stop-color="#ff7c00"/><stop offset="0.462" stop-color="#ff5e00"/><stop offset="0.538" stop-color="#ff4b00"/><stop offset="0.615" stop-color="#ff3c00"/><stop offset="0.692" stop-color="#ff2d00"/><stop offset="0.769" stop-color="#ff2800"/><stop offset="0.846" stop-color="#ff2400"/><stop offset="0.923" stop-color="#ff2000"/><stop offset="1.000" stop-color="#ff1c00"/></linearGradient><path d="M232.5,325.2 L234.8,326.0 L234.8,534.3 L232.5,533.6Z" fill="url(#rf1)" stroke="#14140c" stroke-opacity="0.85" stroke-width="0.5"/><linearGradient id="rf2" gradientUnits="userSpaceOnUse" x1="0" y1="326.0" x2="0" y2="534.9"><stop offset="0.000" stop-color="#00ebff"/><stop offset="0.077" stop-color="#68ff97"/><stop offset="0.154" stop-color="#c1ff3e"/><stop offset="0.231" stop-color="#fff100"/><stop offset="0.308" stop-color="#ffbd00"/><stop offset="0.385" stop-color="#ff9200"/><stop offset="0.462" stop-color="#ff7500"/><stop offset="0.538" stop-color="#ff6300"/><stop offset="0.615" stop-color="#ff5600"/><stop offset="0.692" stop-color="#ff4800"/><stop offset="0.769" stop-color="#ff4500"/><stop offset="0.846" stop-color="#ff4200"/><stop offset="0.923" stop-color="#ff4000"/><stop offset="1.000" stop-color="#ff3d00"/></linearGradient><path d="M234.8,326.0 L237.1,326.7 L237.0,534.9 L234.8,534.3Z" fill="url(#rf2)" stroke="#14140c" stroke-opacity="0.85" stroke-width="0.5"/><linearGradient id="rf3" gradientUnits="userSpaceOnUse" x1="0" y1="326.7" x2="0" y2="535.6"><stop offset="0.000" stop-color="#00e4ff"/><stop offset="0.077" stop-color="#56ffa9"/><stop offset="0.154" stop-color="#acff53"/><stop offset="0.231" stop-color="#f8ff07"/><stop offset="0.308" stop-color="#ffd200"/><stop offset="0.385" stop-color="#ffa800"/><stop offset="0.462" stop-color="#ff8c00"/><stop offset="0.538" stop-color="#ff7b00"/><stop offset="0.615" stop-color="#ff6f00"/><stop offset="0.692" stop-color="#ff6300"/><stop offset="0.769" stop-color="#ff6100"/><stop offset="0.846" stop-color="#ff6000"/><stop offset="0.923" stop-color="#ff5f00"/><stop offset="1.000" stop-color="#ff5e00"/></linearGradient><path d="M237.1,326.7 L239.4,327.5 L239.3,535.6 L237.0,534.9Z" fill="url(#rf3)" stroke="#14140c" stroke-opacity="0.85" stroke-width="0.5"/><linearGradient id="rf4" gradientUnits="userSpaceOnUse" x1="0" y1="327.5" x2="0" y2="536.2"><stop offset="0.000" stop-color="#00ddff"/><stop offset="0.077" stop-color="#44ffbb"/><stop offset="0.154" stop-color="#97ff68"/><stop offset="0.231" stop-color="#e2ff1d"/><stop offset="0.308" stop-color="#ffe800"/><stop offset="0.385" stop-color="#ffbe00"/><stop offset="0.462" stop-color="#ffa200"/><stop offset="0.538" stop-color="#ff9300"/><stop offset="0.615" stop-color="#ff8900"/><stop offset="0.692" stop-color="#ff7e00"/><stop offset="0.769" stop-color="#ff7e00"/><stop offset="0.846" stop-color="#ff7e00"/><stop offset="0.923" stop-color="#ff7e00"/><stop offset="1.000" stop-color="#ff7f00"/></linearGradient><path d="M239.4,327.5 L241.7,328.2 L241.6,536.2 L239.3,535.6Z" fill="url(#rf4)" stroke="#14140c" stroke-opacity="0.85" stroke-width="0.5"/>
<g font-family="DejaVu Sans, Liberation Sans, sans-serif" fill="#000" stroke="#000" stroke-width="0.12">
<text x="6" y="241.3" font-size="9.1">Surface: von Mises stress (N/m<tspan dy="-3.2" font-size="6.5">2</tspan><tspan dy="3.2">)</tspan></text>
<text x="292" y="259.4" font-size="8.4">4.44×10<tspan dy="-3" font-size="6">7</tspan></text>
<text x="292" y="271" font-size="8.4">×10<tspan dy="-3" font-size="6">7</tspan></text>
<text x="292" y="532.9" font-size="8.4">3.21×10<tspan dy="-3" font-size="6">6</tspan></text>
<text x="295.2" y="305.8" font-size="8.4">4</text>
<text x="295.2" y="335.2" font-size="8.4">3.5</text>
<text x="295.2" y="364.5" font-size="8.4">3</text>
<text x="295.2" y="393.9" font-size="8.4">2.5</text>
<text x="295.2" y="423.2" font-size="8.4">2</text>
<text x="295.2" y="452.6" font-size="8.4">1.5</text>
<text x="295.2" y="481.9" font-size="8.4">1</text>
<text x="295.2" y="511.2" font-size="8.4">0.5</text>
</g>
<path d="M280.2,259.2L284,252.9L287.7,259.2ZM280.2,527L284,533.3L287.7,527Z" fill="#000"/>
<defs><linearGradient id="lg2" x1="0" y1="1" x2="0" y2="0"><stop offset="0" stop-color="#0000ff"/><stop offset="0.35" stop-color="#00ffff"/><stop offset="0.65" stop-color="#ffff00"/><stop offset="0.97" stop-color="#ff0000"/><stop offset="1" stop-color="#d70000"/></linearGradient></defs>
<rect x="284.8" y="276.8" width="7.2" height="242" fill="url(#lg2)"/>
<path d="M290.5,302.7H293M290.5,332.1H293M290.5,361.4H293M290.5,390.8H293M290.5,420.1H293M290.5,449.4H293M290.5,478.8H293M290.5,508.1H293" stroke="#000" stroke-width="0.6"/>
</svg>
</body></html>
